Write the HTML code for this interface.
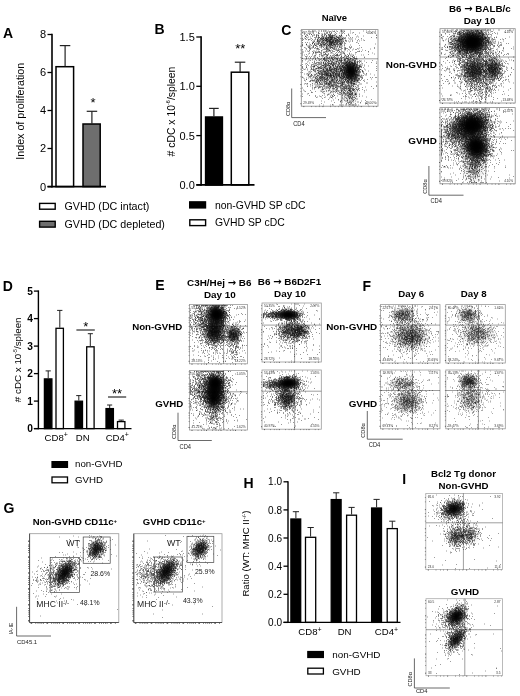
<!DOCTYPE html>
<html lang="en"><head><meta charset="utf-8"><title>Figure</title>
<style>html,body{margin:0;padding:0;background:#fff}svg{display:block}</style>
</head><body>
<svg width="520" height="696" viewBox="0 0 520 696" font-family='"Liberation Sans", sans-serif'>
<defs><filter id="bl" x="-5%" y="-5%" width="110%" height="110%"><feGaussianBlur stdDeviation="0.7"/></filter><radialGradient id="gg"><stop offset="0" stop-color="#000" stop-opacity="1"/><stop offset=".25" stop-color="#000" stop-opacity=".85"/><stop offset=".45" stop-color="#000" stop-opacity=".58"/><stop offset=".65" stop-color="#000" stop-opacity=".3"/><stop offset=".85" stop-color="#000" stop-opacity=".08"/><stop offset="1" stop-color="#000" stop-opacity="0"/></radialGradient></defs>
<rect width="520" height="696" fill="#fff"/>
<text x="3.0" y="37.5" font-size="14" text-anchor="start" font-weight="bold" fill="#000" >A</text>
<rect x="56.0" y="66.7" width="17.6" height="119.9" fill="#fff" stroke="#000" stroke-width="1.5"/>
<rect x="83.0" y="124.0" width="17.2" height="62.6" fill="#6e6e6e" stroke="#000" stroke-width="1.5"/>
<line x1="65.1" y1="45.6" x2="65.1" y2="66.3" stroke="#222" stroke-width="1.2" />
<line x1="59.8" y1="45.6" x2="70.3" y2="45.6" stroke="#222" stroke-width="1.2" />
<line x1="91.9" y1="111.3" x2="91.9" y2="123.7" stroke="#222" stroke-width="1.2" />
<line x1="86.7" y1="111.3" x2="97.2" y2="111.3" stroke="#222" stroke-width="1.2" />
<line x1="52.0" y1="33.8" x2="52.0" y2="187.4" stroke="#000" stroke-width="1.6" />
<line x1="47.5" y1="186.6" x2="106.0" y2="186.6" stroke="#000" stroke-width="1.6" />
<line x1="47.5" y1="34.5" x2="52.0" y2="34.5" stroke="#000" stroke-width="1.3" />
<text x="46.0" y="38.4" font-size="11" text-anchor="end" font-weight="normal" fill="#000" >8</text>
<line x1="47.5" y1="72.5" x2="52.0" y2="72.5" stroke="#000" stroke-width="1.3" />
<text x="46.0" y="76.4" font-size="11" text-anchor="end" font-weight="normal" fill="#000" >6</text>
<line x1="47.5" y1="110.5" x2="52.0" y2="110.5" stroke="#000" stroke-width="1.3" />
<text x="46.0" y="114.4" font-size="11" text-anchor="end" font-weight="normal" fill="#000" >4</text>
<line x1="47.5" y1="148.5" x2="52.0" y2="148.5" stroke="#000" stroke-width="1.3" />
<text x="46.0" y="152.4" font-size="11" text-anchor="end" font-weight="normal" fill="#000" >2</text>
<line x1="47.5" y1="186.6" x2="52.0" y2="186.6" stroke="#000" stroke-width="1.3" />
<text x="46.0" y="190.5" font-size="11" text-anchor="end" font-weight="normal" fill="#000" >0</text>
<text x="93.0" y="106.5" font-size="13" text-anchor="middle" font-weight="normal" fill="#000" >*</text>
<text x="24.0" y="111.3" font-size="10.7" text-anchor="middle" font-weight="normal" fill="#000" transform="rotate(-90 24.0 111.3)" >Index of proliferation</text>
<rect x="39.6" y="203.4" width="15.6" height="5.8" fill="#fff" stroke="#000" stroke-width="1.4"/>
<text x="64.5" y="209.7" font-size="10.7" text-anchor="start" font-weight="normal" fill="#000" >GVHD (DC intact)</text>
<rect x="39.6" y="221.3" width="15.6" height="5.8" fill="#6e6e6e" stroke="#000" stroke-width="1.4"/>
<text x="64.5" y="227.8" font-size="10.7" text-anchor="start" font-weight="normal" fill="#000" >GVHD (DC depleted)</text>
<text x="154.5" y="34.2" font-size="14" text-anchor="start" font-weight="bold" fill="#000" >B</text>
<rect x="205.6" y="117.0" width="16.8" height="68.0" fill="#000" stroke="#000" stroke-width="1.5"/>
<rect x="231.3" y="72.2" width="17.5" height="112.7" fill="#fff" stroke="#000" stroke-width="1.5"/>
<line x1="213.9" y1="108.4" x2="213.9" y2="116.4" stroke="#222" stroke-width="1.2" />
<line x1="209.1" y1="108.4" x2="218.7" y2="108.4" stroke="#222" stroke-width="1.2" />
<line x1="240.1" y1="62.2" x2="240.1" y2="72.0" stroke="#222" stroke-width="1.2" />
<line x1="234.8" y1="62.2" x2="245.3" y2="62.2" stroke="#222" stroke-width="1.2" />
<line x1="201.1" y1="36.3" x2="201.1" y2="185.7" stroke="#000" stroke-width="1.6" />
<line x1="196.3" y1="184.9" x2="254.5" y2="184.9" stroke="#000" stroke-width="1.6" />
<line x1="196.3" y1="37.0" x2="201.1" y2="37.0" stroke="#000" stroke-width="1.3" />
<text x="194.8" y="40.9" font-size="11" text-anchor="end" font-weight="normal" fill="#000" >1.5</text>
<line x1="196.3" y1="86.3" x2="201.1" y2="86.3" stroke="#000" stroke-width="1.3" />
<text x="194.8" y="90.2" font-size="11" text-anchor="end" font-weight="normal" fill="#000" >1.0</text>
<line x1="196.3" y1="135.6" x2="201.1" y2="135.6" stroke="#000" stroke-width="1.3" />
<text x="194.8" y="139.5" font-size="11" text-anchor="end" font-weight="normal" fill="#000" >0.5</text>
<line x1="196.3" y1="184.9" x2="201.1" y2="184.9" stroke="#000" stroke-width="1.3" />
<text x="194.8" y="188.8" font-size="11" text-anchor="end" font-weight="normal" fill="#000" >0.0</text>
<text x="240.3" y="52.5" font-size="13" text-anchor="middle" font-weight="normal" fill="#000" >**</text>
<text x="174.6" y="111.5" font-size="10.4" text-anchor="middle" font-weight="normal" fill="#000" transform="rotate(-90 174.6 111.5)" ># cDC x 10<tspan dy="-5" font-size="5.5">-6</tspan><tspan dy="5" font-size="1">&#8203;</tspan>/spleen</text>
<rect x="189.6" y="201.8" width="16.0" height="6.2" fill="#000" stroke="#000" stroke-width="1.2"/>
<text x="215.0" y="208.5" font-size="10.4" text-anchor="start" font-weight="normal" fill="#000" >non-GVHD SP cDC</text>
<rect x="189.8" y="219.8" width="15.8" height="5.8" fill="#fff" stroke="#000" stroke-width="1.4"/>
<text x="215.0" y="226.3" font-size="10.4" text-anchor="start" font-weight="normal" fill="#000" >GVHD SP cDC</text>
<text x="281.3" y="35.3" font-size="14" text-anchor="start" font-weight="bold" fill="#000" >C</text>
<text x="334.4" y="21.0" font-size="9.5" text-anchor="middle" font-weight="bold" fill="#000" >Na&#239;ve</text>
<clipPath id="c53"><rect x="301.3" y="29.6" width="76.7" height="76.6"/></clipPath>
<g clip-path="url(#c53)">
<ellipse cx="331.0" cy="41.5" rx="17.2" ry="9.2" transform="rotate(0 331.0 41.5)" fill="url(#gg)" fill-opacity="0.3"/>
<ellipse cx="350.8" cy="71.0" rx="13.9" ry="10.5" transform="rotate(80 350.8 71.0)" fill="url(#gg)" fill-opacity="1.0"/>
<ellipse cx="331.0" cy="74.0" rx="25.3" ry="23.0" transform="rotate(0 331.0 74.0)" fill="url(#gg)" fill-opacity="0.22"/>
<ellipse cx="350.0" cy="92.0" rx="18.4" ry="10.3" transform="rotate(90 350.0 92.0)" fill="url(#gg)" fill-opacity="0.2"/>
<path transform="scale(.5)" d="M605 62h1m-1 3h1m-1 1h1m-1 5h1m-1 3h1m-1 3h1m-1 1h1m-1 2h1m-1 1h1m-1 4h1m-1 1h1m-1 3h1m-1 1h1m-1 1h1m-1 1h1m-1 7h1m-1 3h1m-1 2h1m-1 2h1m-1 2h1m-1 2h1m-1 2h1m-1 4h1m-1 1h1m-1 4h1m-1 1h1m-1 2h1m-1 5h1m-1 4h1m-1 1h1m-1 1h1m-1 2h1m-1 4h1m-1 4h1m-1 9h1m-1 1h1m-1 21h1m-1 12h1m-1 5h1m0-129h1m-1 40h1m0-25h1m-1 59h1m-1 18h1m-1 24h1m0-111h1m-1 7h1m-1 19h1m-1 15h1m-1 29h1m-1 9h1m-1 10h1m-1 3h1m-1 7h1m-1 14h1m0-116h1m0 6h1m-1 1h1m-1 12h1m-1 17h1m-1 18h1m-1 18h1m-1 24h1m0-89h1m-1 4h1m-1 1h1m-1 18h1m-1 17h1m-1 15h1m-1 39h1m-1 16h1m0-95h1m-1 1h1m-1 1h1m-1 8h1m-1 17h1m-1 3h1m-1 15h1m-1 2h1m-1 13h1m-1 8h1m-1 3h1m-1 9h1m0-99h1m-1 3h1m-1 3h1m-1 4h1m-1 10h1m-1 9h1m-1 11h1m-1 4h1m-1 4h1m-1 10h1m-1 4h1m-1 4h1m-1 24h1m0-89h1m-1 1h1m-1 31h1m-1 22h1m-1 5h1m-1 9h1m-1 2h1m-1 10h1m-1 18h1m-1 20h1m0-112h1m-1 9h1m-1 7h1m-1 20h1m-1 35h1m-1 20h1m-1 5h1m-1 1h1m0-111h1m-1 18h1m-1 14h1m-1 14h1m-1 8h1m-1 15h1m-1 13h1m-1 5h1m-1 1h1m-1 1h1m-1 36h1m0-113h1m-1 5h1m-1 13h1m-1 3h1m-1 8h1m-1 19h1m-1 26h1m-1 4h1m-1 4h1m0-94h1m-1 7h1m-1 10h1m-1 7h1m-1 6h1m-1 3h1m-1 18h1m-1 7h1m-1 26h1m-1 2h1m-1 5h1m-1 1h1m0-86h1m-1 22h1m-1 3h1m-1 3h1m-1 1h1m-1 3h1m-1 1h1m-1 3h1m-1 3h1m-1 19h1m-1 17h1m-1 20h1m-1 28h1m0-95h1m-1 1h1m-1 2h1m-1 16h1m-1 6h1m-1 13h1m-1 10h1m-1 2h1m-1 8h1m-1 7h1m-1 1h1m-1 19h1m0-107h1m-1 4h1m-1 11h1m-1 3h1m-1 25h1m-1 23h1m-1 11h1m-1 2h1m-1 3h1m-1 7h1m-1 6h1m-1 3h1m0-103h1m-1 8h1m-1 4h1m-1 10h1m-1 5h1m-1 34h1m-1 8h1m-1 1h1m-1 4h1m-1 6h1m-1 2h1m-1 10h1m-1 24h1m0-116h1m-1 44h1m-1 17h1m-1 2h1m-1 2h1m-1 2h1m-1 1h1m-1 12h1m-1 1h1m-1 3h1m-1 5h1m-1 26h1m0-122h1m-1 9h1m-1 8h1m-1 7h1m-1 1h1m-1 9h1m-1 12h1m-1 10h1m-1 2h1m-1 5h1m-1 14h1m-1 17h1m-1 4h1m-1 2h1m-1 5h1m-1 4h1m-1 14h1m0-123h1m-1 11h1m-1 11h1m-1 3h1m-1 1h1m-1 6h1m-1 9h1m-1 7h1m-1 19h1m-1 4h1m-1 18h1m-1 10h1m-1 7h1m-1 6h1m-1 2h1m-1 2h1m0-114h1m-1 18h1m-1 3h1m-1 7h1m-1 3h1m-1 10h1m-1 2h1m-1 7h1m-1 3h1m-1 11h1m-1 2h1m-1 3h1m-1 2h1m-1 2h1m-1 3h1m-1 15h1m0-93h1m-1 8h1m-1 14h1m-1 1h1m-1 6h1m-1 2h1m-1 1h1m-1 8h1m-1 3h1m-1 28h1m-1 6h1m-1 1h1m-1 1h1m-1 12h1m-1 8h1m-1 1h1m0-92h1m-1 5h1m-1 5h1m-1 3h1m-1 4h1m-1 1h1m-1 9h1m-1 5h1m-1 9h1m-1 2h1m-1 2h1m-1 7h1m-1 2h1m-1 2h1m-1 2h1m-1 5h1m-1 6h1m-1 2h1m-1 10h1m-1 3h1m-1 6h1m-1 2h1m-1 13h1m-1 1h1m0-114h1m-1 8h1m-1 12h1m-1 6h1m-1 1h1m-1 1h1m-1 34h1m-1 7h1m-1 1h1m-1 1h1m-1 1h1m-1 9h1m-1 6h1m-1 11h1m-1 8h1m-1 10h1m0-92h1m-1 4h1m-1 1h1m-1 5h1m-1 8h1m-1 1h1m-1 5h1m-1 7h1m-1 1h1m-1 9h1m-1 1h1m-1 9h1m-1 12h1m-1 8h1m-1 7h1m-1 27h1m-1 2h1m0-131h1m-1 13h1m-1 2h1m-1 2h1m-1 12h1m-1 4h1m-1 9h1m-1 3h1m-1 4h1m-1 3h1m-1 5h1m-1 12h1m-1 8h1m-1 2h1m-1 2h1m-1 1h1m-1 6h1m-1 4h1m-1 1h1m-1 1h1m-1 2h1m-1 4h1m-1 3h1m-1 3h1m-1 4h1m-1 2h1m-1 1h1m-1 8h1m0-111h1m-1 16h1m-1 5h1m-1 12h1m-1 3h1m-1 19h1m-1 3h1m-1 1h1m-1 6h1m-1 10h1m-1 1h1m-1 5h1m-1 3h1m-1 1h1m-1 3h1m-1 4h1m-1 1h1m-1 5h1m-1 25h1m0-131h1m-1 5h1m-1 2h1m-1 1h1m-1 1h1m-1 2h1m-1 9h1m-1 4h1m-1 3h1m-1 6h1m-1 3h1m-1 4h1m-1 17h1m-1 4h1m-1 12h1m-1 1h1m-1 15h1m-1 7h1m-1 1h1m-1 2h1m-1 1h1m-1 10h1m0-95h1m-1 1h1m-1 1h1m-1 2h1m-1 4h1m-1 2h1m-1 9h1m-1 18h1m-1 13h1m-1 4h1m-1 8h1m-1 5h1m-1 9h1m-1 1h1m-1 3h1m-1 2h1m-1 6h1m-1 3h1m-1 3h1m-1 21h1m0-124h1m-1 6h1m-1 3h1m-1 2h1m-1 2h1m-1 1h1m-1 9h1m-1 3h1m-1 1h1m-1 1h1m-1 6h1m-1 1h1m-1 10h1m-1 10h1m-1 9h1m-1 3h1m-1 4h1m-1 9h1m-1 1h1m-1 1h1m-1 6h1m-1 1h1m-1 4h1m-1 2h1m-1 1h1m-1 2h1m0-98h1m-1 2h1m-1 2h1m-1 1h1m-1 2h1m-1 4h1m-1 3h1m-1 1h1m-1 4h1m-1 8h1m-1 2h1m-1 3h1m-1 2h1m-1 13h1m-1 3h1m-1 6h1m-1 10h1m-1 1h1m-1 3h1m-1 3h1m-1 2h1m-1 1h1m-1 1h1m-1 4h1m-1 10h1m-1 9h1m-1 5h1m0-113h1m-1 3h1m-1 1h1m-1 1h1m-1 4h1m-1 1h1m-1 4h1m-1 4h1m-1 3h1m-1 3h1m-1 1h1m-1 1h1m-1 16h1m-1 21h1m-1 3h1m-1 2h1m-1 4h1m-1 1h1m-1 1h1m-1 5h1m-1 4h1m-1 7h1m-1 5h1m-1 2h1m-1 2h1m-1 1h1m-1 1h1m-1 11h1m-1 3h1m0-115h1m-1 13h1m-1 6h1m-1 2h1m-1 4h1m-1 4h1m-1 3h1m-1 5h1m-1 4h1m-1 1h1m-1 6h1m-1 8h1m-1 7h1m-1 2h1m-1 2h1m-1 6h1m-1 3h1m-1 5h1m-1 3h1m-1 1h1m-1 7h1m-1 1h1m-1 1h1m-1 4h1m-1 5h1m-1 27h1m0-125h1m-1 8h1m-1 4h1m-1 4h1m-1 2h1m-1 6h1m-1 14h1m-1 4h1m-1 4h1m-1 7h1m-1 1h1m-1 14h1m-1 1h1m-1 6h1m-1 5h1m-1 2h1m-1 1h1m-1 4h1m-1 3h1m-1 2h1m-1 5h1m-1 1h1m-1 1h1m-1 2h1m-1 2h1m-1 3h1m-1 1h1m-1 1h1m-1 35h1m0-133h1m-1 1h1m-1 2h1m-1 2h1m-1 6h1m-1 2h1m-1 4h1m-1 34h1m-1 5h1m-1 1h1m-1 2h1m-1 1h1m-1 4h1m-1 2h1m-1 4h1m-1 6h1m-1 1h1m-1 2h1m-1 1h1m-1 3h1m-1 2h1m0-85h1m-1 3h1m-1 7h1m-1 2h1m-1 2h1m-1 14h1m-1 3h1m-1 11h1m-1 5h1m-1 4h1m-1 8h1m-1 7h1m-1 2h1m-1 4h1m-1 4h1m-1 2h1m-1 2h1m-1 3h1m-1 1h1m-1 1h1m-1 5h1m-1 1h1m-1 1h1m-1 4h1m-1 2h1m-1 7h1m-1 11h1m0-131h1m-1 13h1m-1 2h1m-1 1h1m-1 1h1m-1 5h1m-1 5h1m-1 2h1m-1 1h1m-1 2h1m-1 2h1m-1 5h1m-1 1h1m-1 5h1m-1 5h1m-1 12h1m-1 1h1m-1 7h1m-1 4h1m-1 1h1m-1 4h1m-1 4h1m-1 6h1m-1 2h1m-1 1h1m-1 2h1m-1 1h1m-1 3h1m-1 20h1m-1 3h1m-1 11h1m0-132h1m-1 6h1m-1 3h1m-1 3h1m-1 4h1m-1 4h1m-1 3h1m-1 1h1m-1 3h1m-1 1h1m-1 2h1m-1 2h1m-1 10h1m-1 2h1m-1 3h1m-1 2h1m-1 6h1m-1 3h1m-1 7h1m-1 2h1m-1 3h1m-1 2h1m-1 3h1m-1 5h1m-1 2h1m-1 2h1m-1 1h1m-1 1h1m-1 1h1m-1 1h1m-1 2h1m-1 3h1m-1 1h1m-1 3h1m-1 3h1m-1 3h1m-1 3h1m-1 1h1m-1 4h1m-1 29h1m-1 5h1m0-139h1m-1 5h1m-1 2h1m-1 2h1m-1 2h1m-1 4h1m-1 1h1m-1 2h1m-1 25h1m-1 1h1m-1 2h1m-1 17h1m-1 9h1m-1 4h1m-1 2h1m-1 1h1m-1 1h1m-1 1h1m-1 2h1m-1 1h1m-1 2h1m-1 2h1m-1 2h1m-1 1h1m-1 1h1m-1 2h1m-1 7h1m-1 8h1m-1 2h1m-1 3h1m-1 3h1m-1 6h1m-1 6h1m0-128h1m-1 2h1m-1 2h1m-1 4h1m-1 2h1m-1 2h1m-1 1h1m-1 4h1m-1 2h1m-1 2h1m-1 3h1m-1 7h1m-1 21h1m-1 10h1m-1 4h1m-1 3h1m-1 4h1m-1 2h1m-1 5h1m-1 3h1m-1 2h1m-1 1h1m-1 1h1m-1 5h1m-1 5h1m-1 2h1m-1 6h1m-1 1h1m-1 4h1m0-117h1m-1 14h1m-1 1h1m-1 3h1m-1 1h1m-1 1h1m-1 4h1m-1 1h1m-1 2h1m-1 2h1m-1 4h1m-1 9h1m-1 1h1m-1 3h1m-1 2h1m-1 8h1m-1 6h1m-1 1h1m-1 1h1m-1 1h1m-1 4h1m-1 5h1m-1 2h1m-1 1h1m-1 2h1m-1 2h1m-1 1h1m-1 5h1m-1 5h1m-1 2h1m-1 2h1m-1 15h1m-1 6h1m-1 31h1m0-148h1m-1 11h1m-1 2h1m-1 1h1m-1 1h1m-1 1h1m-1 3h1m-1 3h1m-1 1h1m-1 4h1m-1 5h1m-1 5h1m-1 13h1m-1 5h1m-1 1h1m-1 1h1m-1 6h1m-1 3h1m-1 3h1m-1 1h1m-1 2h1m-1 4h1m-1 1h1m-1 1h1m-1 2h1m-1 4h1m-1 3h1m-1 4h1m-1 3h1m-1 2h1m-1 4h1m-1 2h1m-1 7h1m-1 7h1m-1 5h1m-1 3h1m0-120h1m-1 2h1m-1 2h1m-1 4h1m-1 4h1m-1 4h1m-1 4h1m-1 3h1m-1 1h1m-1 7h1m-1 12h1m-1 7h1m-1 2h1m-1 1h1m-1 2h1m-1 1h1m-1 12h1m-1 1h1m-1 8h1m-1 1h1m-1 1h1m-1 3h1m-1 3h1m-1 4h1m-1 1h1m-1 1h1m-1 1h1m-1 1h1m-1 1h1m-1 6h1m-1 1h1m-1 5h1m-1 2h1m-1 3h1m-1 6h1m-1 12h1m0-133h1m-1 6h1m-1 3h1m-1 8h1m-1 1h1m-1 5h1m-1 4h1m-1 1h1m-1 2h1m-1 7h1m-1 5h1m-1 1h1m-1 5h1m-1 5h1m-1 1h1m-1 1h1m-1 3h1m-1 8h1m-1 1h1m-1 1h1m-1 2h1m-1 3h1m-1 3h1m-1 3h1m-1 2h1m-1 1h1m-1 3h1m-1 1h1m-1 1h1m-1 1h1m-1 4h1m-1 1h1m-1 6h1m-1 1h1m-1 1h1m-1 2h1m-1 4h1m-1 2h1m-1 16h1m-1 3h1m-1 14h1m0-142h1m-1 6h1m-1 9h1m-1 1h1m-1 3h1m-1 7h1m-1 8h1m-1 3h1m-1 9h1m-1 1h1m-1 9h1m-1 2h1m-1 5h1m-1 3h1m-1 1h1m-1 3h1m-1 1h1m-1 2h1m-1 2h1m-1 3h1m-1 3h1m-1 1h1m-1 3h1m-1 1h1m-1 1h1m-1 3h1m-1 2h1m-1 5h1m-1 4h1m-1 6h1m-1 9h1m-1 16h1m0-132h1m-1 7h1m-1 6h1m-1 1h1m-1 1h1m-1 3h1m-1 1h1m-1 1h1m-1 5h1m-1 1h1m-1 2h1m-1 13h1m-1 3h1m-1 1h1m-1 7h1m-1 7h1m-1 1h1m-1 4h1m-1 1h1m-1 1h1m-1 3h1m-1 1h1m-1 1h1m-1 3h1m-1 6h1m-1 1h1m-1 2h1m-1 1h1m-1 2h1m-1 3h1m-1 5h1m-1 2h1m-1 1h1m-1 4h1m-1 3h1m-1 1h1m-1 7h1m0-109h1m-1 2h1m-1 4h1m-1 1h1m-1 3h1m-1 2h1m-1 2h1m-1 1h1m-1 1h1m-1 5h1m-1 1h1m-1 3h1m-1 1h1m-1 1h1m-1 2h1m-1 1h1m-1 1h1m-1 1h1m-1 2h1m-1 11h1m-1 3h1m-1 4h1m-1 4h1m-1 1h1m-1 1h1m-1 6h1m-1 1h1m-1 2h1m-1 6h1m-1 1h1m-1 1h1m-1 5h1m-1 1h1m-1 1h1m-1 1h1m-1 1h1m-1 1h1m-1 1h1m-1 6h1m-1 2h1m-1 3h1m-1 5h1m-1 2h1m-1 4h1m-1 2h1m-1 2h1m-1 4h1m0-119h1m-1 10h1m-1 1h1m-1 3h1m-1 1h1m-1 1h1m-1 1h1m-1 1h1m-1 1h1m-1 1h1m-1 1h1m-1 2h1m-1 8h1m-1 3h1m-1 1h1m-1 4h1m-1 1h1m-1 1h1m-1 1h1m-1 5h1m-1 3h1m-1 3h1m-1 4h1m-1 8h1m-1 5h1m-1 2h1m-1 3h1m-1 3h1m-1 1h1m-1 1h1m-1 2h1m-1 2h1m-1 2h1m-1 1h1m-1 1h1m-1 1h1m-1 2h1m-1 3h1m-1 2h1m-1 2h1m-1 2h1m-1 2h1m-1 1h1m-1 1h1m-1 1h1m-1 1h1m-1 15h1m0-117h1m-1 12h1m-1 1h1m-1 1h1m-1 2h1m-1 1h1m-1 5h1m-1 2h1m-1 7h1m-1 2h1m-1 1h1m-1 2h1m-1 9h1m-1 1h1m-1 3h1m-1 6h1m-1 4h1m-1 1h1m-1 4h1m-1 7h1m-1 2h1m-1 2h1m-1 1h1m-1 4h1m-1 1h1m-1 1h1m-1 1h1m-1 1h1m-1 1h1m-1 1h1m-1 3h1m-1 2h1m-1 2h1m-1 3h1m-1 3h1m-1 7h1m-1 18h1m0-126h1m-1 2h1m-1 9h1m-1 1h1m-1 2h1m-1 1h1m-1 3h1m-1 1h1m-1 1h1m-1 1h1m-1 4h1m-1 4h1m-1 2h1m-1 3h1m-1 6h1m-1 5h1m-1 2h1m-1 5h1m-1 2h1m-1 12h1m-1 1h1m-1 5h1m-1 2h1m-1 1h1m-1 1h1m-1 2h1m-1 1h1m-1 1h1m-1 2h1m-1 2h1m-1 2h1m-1 2h1m-1 2h1m-1 1h1m-1 1h1m-1 1h1m-1 3h1m-1 1h1m-1 6h1m-1 2h1m-1 5h1m-1 2h1m-1 14h1m0-121h1m-1 2h1m-1 4h1m-1 3h1m-1 2h1m-1 1h1m-1 2h1m-1 3h1m-1 5h1m-1 1h1m-1 4h1m-1 3h1m-1 4h1m-1 6h1m-1 12h1m-1 2h1m-1 3h1m-1 2h1m-1 2h1m-1 4h1m-1 9h1m-1 3h1m-1 3h1m-1 1h1m-1 1h1m-1 1h1m-1 7h1m-1 7h1m-1 1h1m-1 2h1m-1 1h1m-1 5h1m-1 6h1m-1 1h1m-1 17h1m0-137h1m-1 7h1m-1 5h1m-1 1h1m-1 1h1m-1 1h1m-1 3h1m-1 2h1m-1 8h1m-1 1h1m-1 7h1m-1 3h1m-1 6h1m-1 9h1m-1 1h1m-1 4h1m-1 2h1m-1 3h1m-1 1h1m-1 2h1m-1 2h1m-1 9h1m-1 1h1m-1 1h1m-1 3h1m-1 1h1m-1 1h1m-1 3h1m-1 2h1m-1 2h1m-1 6h1m-1 7h1m-1 1h1m-1 2h1m-1 2h1m-1 4h1m-1 12h1m-1 1h1m0-123h1m-1 3h1m-1 2h1m-1 1h1m-1 1h1m-1 1h1m-1 2h1m-1 3h1m-1 1h1m-1 1h1m-1 1h1m-1 1h1m-1 1h1m-1 1h1m-1 2h1m-1 1h1m-1 2h1m-1 2h1m-1 1h1m-1 2h1m-1 3h1m-1 3h1m-1 14h1m-1 1h1m-1 2h1m-1 9h1m-1 4h1m-1 1h1m-1 3h1m-1 1h1m-1 1h1m-1 2h1m-1 1h1m-1 2h1m-1 5h1m-1 1h1m-1 3h1m-1 1h1m-1 2h1m-1 3h1m-1 5h1m-1 1h1m-1 1h1m-1 2h1m-1 1h1m-1 1h1m-1 1h1m-1 1h1m-1 2h1m-1 4h1m-1 1h1m-1 2h1m-1 9h1m-1 8h1m0-133h1m-1 2h1m-1 6h1m-1 3h1m-1 2h1m-1 2h1m-1 3h1m-1 2h1m-1 1h1m-1 2h1m-1 2h1m-1 1h1m-1 1h1m-1 10h1m-1 1h1m-1 1h1m-1 12h1m-1 9h1m-1 1h1m-1 3h1m-1 4h1m-1 1h1m-1 4h1m-1 1h1m-1 1h1m-1 2h1m-1 1h1m-1 4h1m-1 6h1m-1 3h1m-1 2h1m-1 7h1m-1 2h1m-1 4h1m-1 3h1m-1 1h1m-1 8h1m0-118h1m-1 4h1m-1 2h1m-1 1h1m-1 4h1m-1 1h1m-1 4h1m-1 1h1m-1 3h1m-1 2h1m-1 2h1m-1 1h1m-1 9h1m-1 4h1m-1 2h1m-1 13h1m-1 4h1m-1 1h1m-1 1h1m-1 10h1m-1 1h1m-1 1h1m-1 1h1m-1 1h1m-1 1h1m-1 2h1m-1 1h1m-1 1h1m-1 6h1m-1 1h1m-1 1h1m-1 1h1m-1 1h1m-1 1h1m-1 1h1m-1 3h1m-1 4h1m-1 3h1m-1 1h1m-1 3h1m-1 1h1m-1 4h1m-1 2h1m0-105h1m-1 2h1m-1 1h1m-1 1h1m-1 1h1m-1 1h1m-1 1h1m-1 1h1m-1 1h1m-1 1h1m-1 1h1m-1 1h1m-1 1h1m-1 1h1m-1 1h1m-1 1h1m-1 1h1m-1 2h1m-1 1h1m-1 1h1m-1 1h1m-1 1h1m-1 1h1m-1 1h1m-1 1h1m-1 1h1m-1 10h1m-1 5h1m-1 1h1m-1 8h1m-1 7h1m-1 1h1m-1 1h1m-1 4h1m-1 2h1m-1 5h1m-1 1h1m-1 1h1m-1 1h1m-1 3h1m-1 1h1m-1 1h1m-1 1h1m-1 1h1m-1 1h1m-1 1h1m-1 1h1m-1 2h1m-1 9h1m-1 1h1m-1 1h1m-1 4h1m-1 3h1m-1 2h1m-1 1h1m-1 6h1m-1 3h1m-1 1h1m-1 6h1m-1 2h1m-1 16h1m0-146h1m-1 1h1m-1 6h1m-1 1h1m-1 3h1m-1 1h1m-1 1h1m-1 1h1m-1 1h1m-1 5h1m-1 1h1m-1 2h1m-1 1h1m-1 1h1m-1 1h1m-1 1h1m-1 4h1m-1 10h1m-1 9h1m-1 2h1m-1 1h1m-1 5h1m-1 5h1m-1 12h1m-1 1h1m-1 3h1m-1 1h1m-1 2h1m-1 3h1m-1 1h1m-1 1h1m-1 1h1m-1 1h1m-1 1h1m-1 3h1m-1 1h1m-1 1h1m-1 2h1m-1 3h1m-1 3h1m-1 5h1m-1 11h1m-1 1h1m-1 11h1m0-128h1m-1 6h1m-1 1h1m-1 1h1m-1 1h1m-1 2h1m-1 1h1m-1 1h1m-1 3h1m-1 1h1m-1 1h1m-1 1h1m-1 1h1m-1 1h1m-1 1h1m-1 5h1m-1 1h1m-1 5h1m-1 6h1m-1 8h1m-1 1h1m-1 8h1m-1 2h1m-1 1h1m-1 1h1m-1 1h1m-1 1h1m-1 5h1m-1 2h1m-1 2h1m-1 1h1m-1 2h1m-1 1h1m-1 2h1m-1 7h1m-1 3h1m-1 1h1m-1 6h1m-1 1h1m-1 2h1m-1 2h1m-1 3h1m-1 1h1m-1 1h1m-1 1h1m-1 18h1m-1 5h1m-1 7h1m0-140h1m-1 8h1m-1 1h1m-1 2h1m-1 1h1m-1 1h1m-1 1h1m-1 6h1m-1 1h1m-1 1h1m-1 1h1m-1 6h1m-1 4h1m-1 1h1m-1 1h1m-1 4h1m-1 2h1m-1 3h1m-1 10h1m-1 3h1m-1 1h1m-1 4h1m-1 1h1m-1 4h1m-1 1h1m-1 1h1m-1 1h1m-1 5h1m-1 1h1m-1 1h1m-1 1h1m-1 4h1m-1 2h1m-1 1h1m-1 3h1m-1 1h1m-1 4h1m-1 1h1m-1 3h1m-1 2h1m-1 8h1m-1 2h1m-1 1h1m-1 8h1m-1 12h1m-1 17h1m-1 1h1m0-139h1m-1 2h1m-1 2h1m-1 2h1m-1 1h1m-1 1h1m-1 2h1m-1 1h1m-1 2h1m-1 1h1m-1 1h1m-1 1h1m-1 3h1m-1 1h1m-1 3h1m-1 17h1m-1 3h1m-1 2h1m-1 1h1m-1 3h1m-1 3h1m-1 5h1m-1 3h1m-1 13h1m-1 1h1m-1 3h1m-1 8h1m-1 2h1m-1 1h1m-1 1h1m-1 1h1m-1 2h1m-1 1h1m-1 7h1m-1 2h1m-1 3h1m-1 1h1m-1 7h1m-1 7h1m-1 2h1m-1 3h1m0-124h1m-1 4h1m-1 4h1m-1 1h1m-1 1h1m-1 1h1m-1 1h1m-1 2h1m-1 1h1m-1 2h1m-1 3h1m-1 5h1m-1 6h1m-1 5h1m-1 3h1m-1 4h1m-1 4h1m-1 2h1m-1 5h1m-1 3h1m-1 1h1m-1 1h1m-1 2h1m-1 1h1m-1 1h1m-1 9h1m-1 2h1m-1 1h1m-1 1h1m-1 1h1m-1 1h1m-1 1h1m-1 1h1m-1 1h1m-1 1h1m-1 4h1m-1 1h1m-1 2h1m-1 1h1m-1 1h1m-1 2h1m-1 3h1m-1 3h1m-1 1h1m-1 1h1m-1 4h1m-1 3h1m-1 13h1m-1 17h1m0-147h1m-1 8h1m-1 4h1m-1 4h1m-1 3h1m-1 2h1m-1 2h1m-1 3h1m-1 3h1m-1 4h1m-1 3h1m-1 15h1m-1 5h1m-1 6h1m-1 1h1m-1 1h1m-1 1h1m-1 3h1m-1 5h1m-1 2h1m-1 1h1m-1 1h1m-1 2h1m-1 1h1m-1 2h1m-1 2h1m-1 4h1m-1 1h1m-1 1h1m-1 1h1m-1 12h1m-1 3h1m-1 5h1m-1 2h1m-1 2h1m-1 5h1m-1 1h1m-1 4h1m-1 1h1m-1 11h1m0-138h1m-1 1h1m-1 8h1m-1 1h1m-1 3h1m-1 1h1m-1 1h1m-1 1h1m-1 3h1m-1 3h1m-1 2h1m-1 3h1m-1 5h1m-1 1h1m-1 2h1m-1 6h1m-1 6h1m-1 4h1m-1 2h1m-1 2h1m-1 1h1m-1 9h1m-1 1h1m-1 8h1m-1 2h1m-1 2h1m-1 1h1m-1 3h1m-1 1h1m-1 1h1m-1 4h1m-1 3h1m-1 1h1m-1 1h1m-1 2h1m-1 1h1m-1 4h1m-1 3h1m-1 1h1m-1 4h1m-1 7h1m-1 14h1m0-123h1m-1 8h1m-1 3h1m-1 6h1m-1 1h1m-1 2h1m-1 1h1m-1 1h1m-1 2h1m-1 6h1m-1 1h1m-1 13h1m-1 10h1m-1 3h1m-1 4h1m-1 7h1m-1 1h1m-1 1h1m-1 1h1m-1 3h1m-1 3h1m-1 3h1m-1 4h1m-1 2h1m-1 3h1m-1 2h1m-1 3h1m-1 2h1m-1 2h1m-1 3h1m-1 3h1m-1 6h1m-1 5h1m-1 8h1m-1 14h1m0-140h1m-1 5h1m-1 4h1m-1 3h1m-1 4h1m-1 1h1m-1 2h1m-1 1h1m-1 3h1m-1 1h1m-1 2h1m-1 1h1m-1 2h1m-1 4h1m-1 2h1m-1 7h1m-1 4h1m-1 4h1m-1 1h1m-1 2h1m-1 6h1m-1 3h1m-1 1h1m-1 4h1m-1 5h1m-1 3h1m-1 7h1m-1 1h1m-1 1h1m-1 3h1m-1 2h1m-1 2h1m-1 2h1m-1 2h1m-1 4h1m-1 1h1m-1 6h1m-1 1h1m-1 2h1m-1 1h1m-1 7h1m-1 14h1m0-127h1m-1 8h1m-1 1h1m-1 2h1m-1 1h1m-1 1h1m-1 1h1m-1 1h1m-1 8h1m-1 19h1m-1 11h1m-1 8h1m-1 1h1m-1 2h1m-1 1h1m-1 3h1m-1 1h1m-1 3h1m-1 1h1m-1 1h1m-1 3h1m-1 1h1m-1 2h1m-1 1h1m-1 1h1m-1 16h1m-1 2h1m-1 6h1m-1 5h1m-1 5h1m0-118h1m-1 5h1m-1 2h1m-1 3h1m-1 2h1m-1 1h1m-1 2h1m-1 2h1m-1 2h1m-1 2h1m-1 1h1m-1 8h1m-1 4h1m-1 4h1m-1 4h1m-1 1h1m-1 2h1m-1 4h1m-1 1h1m-1 6h1m-1 2h1m-1 2h1m-1 6h1m-1 2h1m-1 1h1m-1 2h1m-1 1h1m-1 1h1m-1 1h1m-1 1h1m-1 1h1m-1 1h1m-1 1h1m-1 3h1m-1 3h1m-1 1h1m-1 1h1m-1 1h1m-1 1h1m-1 1h1m-1 2h1m-1 3h1m-1 3h1m-1 1h1m-1 4h1m-1 3h1m-1 6h1m-1 5h1m0-121h1m-1 11h1m-1 1h1m-1 4h1m-1 3h1m-1 1h1m-1 2h1m-1 3h1m-1 7h1m-1 5h1m-1 12h1m-1 7h1m-1 2h1m-1 3h1m-1 1h1m-1 4h1m-1 8h1m-1 1h1m-1 2h1m-1 1h1m-1 3h1m-1 3h1m-1 1h1m-1 1h1m-1 1h1m-1 3h1m-1 2h1m-1 2h1m-1 5h1m-1 1h1m-1 1h1m-1 5h1m-1 3h1m-1 1h1m-1 2h1m-1 1h1m-1 3h1m-1 1h1m-1 2h1m-1 2h1m0-109h1m-1 1h1m-1 4h1m-1 1h1m-1 1h1m-1 2h1m-1 2h1m-1 1h1m-1 1h1m-1 3h1m-1 4h1m-1 7h1m-1 2h1m-1 7h1m-1 1h1m-1 5h1m-1 1h1m-1 1h1m-1 2h1m-1 12h1m-1 1h1m-1 1h1m-1 2h1m-1 2h1m-1 2h1m-1 2h1m-1 1h1m-1 2h1m-1 2h1m-1 1h1m-1 2h1m-1 1h1m-1 2h1m-1 2h1m-1 3h1m-1 2h1m-1 5h1m-1 2h1m-1 4h1m-1 5h1m-1 2h1m-1 6h1m-1 3h1m0-124h1m-1 12h1m-1 4h1m-1 1h1m-1 2h1m-1 2h1m-1 2h1m-1 3h1m-1 3h1m-1 1h1m-1 7h1m-1 8h1m-1 1h1m-1 1h1m-1 2h1m-1 7h1m-1 1h1m-1 2h1m-1 1h1m-1 6h1m-1 3h1m-1 2h1m-1 1h1m-1 3h1m-1 10h1m-1 2h1m-1 8h1m-1 1h1m-1 2h1m-1 5h1m-1 6h1m-1 1h1m-1 3h1m-1 2h1m-1 3h1m-1 11h1m0-117h1m-1 1h1m-1 2h1m-1 4h1m-1 1h1m-1 6h1m-1 1h1m-1 9h1m-1 2h1m-1 10h1m-1 10h1m-1 3h1m-1 7h1m-1 1h1m-1 2h1m-1 3h1m-1 2h1m-1 4h1m-1 1h1m-1 2h1m-1 1h1m-1 2h1m-1 2h1m-1 12h1m-1 3h1m-1 1h1m-1 1h1m-1 5h1m-1 8h1m-1 2h1m-1 5h1m-1 11h1m0-125h1m-1 2h1m-1 1h1m-1 3h1m-1 1h1m-1 1h1m-1 3h1m-1 12h1m-1 4h1m-1 4h1m-1 9h1m-1 2h1m-1 8h1m-1 1h1m-1 2h1m-1 2h1m-1 1h1m-1 9h1m-1 1h1m-1 2h1m-1 7h1m-1 1h1m-1 1h1m-1 1h1m-1 1h1m-1 10h1m-1 9h1m-1 2h1m-1 26h1m0-129h1m-1 3h1m-1 2h1m-1 1h1m-1 2h1m-1 1h1m-1 3h1m-1 4h1m-1 3h1m-1 4h1m-1 1h1m-1 15h1m-1 8h1m-1 3h1m-1 3h1m-1 3h1m-1 2h1m-1 4h1m-1 1h1m-1 1h1m-1 1h1m-1 1h1m-1 1h1m-1 5h1m-1 1h1m-1 1h1m-1 1h1m-1 1h1m-1 1h1m-1 1h1m-1 2h1m-1 1h1m-1 1h1m-1 2h1m-1 4h1m-1 2h1m-1 6h1m-1 15h1m-1 4h1m0-120h1m-1 5h1m-1 3h1m-1 5h1m-1 2h1m-1 2h1m-1 1h1m-1 2h1m-1 2h1m-1 4h1m-1 1h1m-1 6h1m-1 3h1m-1 1h1m-1 1h1m-1 7h1m-1 7h1m-1 2h1m-1 1h1m-1 5h1m-1 1h1m-1 1h1m-1 4h1m-1 1h1m-1 7h1m-1 6h1m-1 2h1m-1 1h1m-1 2h1m-1 2h1m-1 1h1m-1 3h1m-1 4h1m-1 1h1m-1 4h1m-1 7h1m-1 1h1m-1 11h1m-1 4h1m-1 21h1m0-138h1m-1 2h1m-1 4h1m-1 1h1m-1 1h1m-1 4h1m-1 2h1m-1 1h1m-1 1h1m-1 2h1m-1 9h1m-1 6h1m-1 28h1m-1 3h1m-1 1h1m-1 2h1m-1 1h1m-1 1h1m-1 1h1m-1 1h1m-1 7h1m-1 4h1m-1 1h1m-1 1h1m-1 6h1m-1 2h1m-1 3h1m-1 1h1m-1 4h1m-1 13h1m-1 1h1m0-124h1m-1 11h1m-1 3h1m-1 4h1m-1 2h1m-1 4h1m-1 2h1m-1 1h1m-1 3h1m-1 3h1m-1 13h1m-1 1h1m-1 6h1m-1 1h1m-1 4h1m-1 1h1m-1 1h1m-1 1h1m-1 2h1m-1 5h1m-1 1h1m-1 1h1m-1 3h1m-1 1h1m-1 1h1m-1 1h1m-1 3h1m-1 1h1m-1 1h1m-1 3h1m-1 8h1m-1 1h1m-1 1h1m-1 2h1m-1 4h1m-1 4h1m-1 5h1m-1 1h1m-1 2h1m-1 1h1m-1 2h1m-1 3h1m-1 9h1m-1 13h1m-1 1h1m-1 1h1m-1 6h1m0-148h1m-1 9h1m-1 8h1m-1 1h1m-1 3h1m-1 3h1m-1 2h1m-1 1h1m-1 7h1m-1 18h1m-1 3h1m-1 2h1m-1 2h1m-1 2h1m-1 2h1m-1 3h1m-1 5h1m-1 3h1m-1 1h1m-1 1h1m-1 2h1m-1 1h1m-1 6h1m-1 4h1m-1 2h1m-1 4h1m-1 1h1m-1 13h1m-1 11h1m-1 1h1m-1 18h1m0-139h1m-1 8h1m-1 1h1m-1 42h1m-1 8h1m-1 1h1m-1 6h1m-1 10h1m-1 2h1m-1 1h1m-1 1h1m-1 5h1m-1 2h1m-1 1h1m-1 1h1m-1 4h1m-1 5h1m-1 2h1m-1 3h1m-1 3h1m-1 2h1m-1 8h1m-1 3h1m-1 6h1m0-123h1m-1 3h1m-1 10h1m-1 1h1m-1 7h1m-1 7h1m-1 5h1m-1 6h1m-1 3h1m-1 9h1m-1 10h1m-1 1h1m-1 4h1m-1 1h1m-1 1h1m-1 1h1m-1 1h1m-1 1h1m-1 4h1m-1 2h1m-1 1h1m-1 1h1m-1 1h1m-1 1h1m-1 1h1m-1 2h1m-1 2h1m-1 2h1m-1 1h1m-1 3h1m-1 2h1m-1 2h1m-1 3h1m-1 1h1m-1 1h1m-1 2h1m-1 1h1m-1 1h1m-1 2h1m-1 3h1m-1 3h1m-1 3h1m-1 6h1m-1 6h1m-1 3h1m0-133h1m-1 12h1m-1 3h1m-1 1h1m-1 2h1m-1 2h1m-1 2h1m-1 3h1m-1 34h1m-1 6h1m-1 4h1m-1 2h1m-1 1h1m-1 4h1m-1 1h1m-1 2h1m-1 2h1m-1 3h1m-1 4h1m-1 3h1m-1 1h1m-1 2h1m-1 1h1m-1 1h1m-1 7h1m-1 1h1m-1 1h1m-1 2h1m-1 2h1m-1 2h1m-1 4h1m-1 3h1m-1 2h1m-1 7h1m-1 2h1m-1 6h1m-1 3h1m-1 4h1m-1 6h1m0-148h1m-1 3h1m-1 10h1m-1 3h1m-1 4h1m-1 22h1m-1 11h1m-1 9h1m-1 2h1m-1 1h1m-1 1h1m-1 2h1m-1 1h1m-1 3h1m-1 1h1m-1 1h1m-1 1h1m-1 1h1m-1 3h1m-1 1h1m-1 3h1m-1 1h1m-1 1h1m-1 1h1m-1 1h1m-1 1h1m-1 1h1m-1 3h1m-1 1h1m-1 2h1m-1 1h1m-1 4h1m-1 6h1m-1 5h1m-1 1h1m-1 4h1m-1 4h1m-1 2h1m-1 1h1m-1 2h1m-1 1h1m-1 10h1m-1 12h1m0-132h1m-1 5h1m-1 22h1m-1 2h1m-1 8h1m-1 5h1m-1 5h1m-1 6h1m-1 2h1m-1 2h1m-1 1h1m-1 3h1m-1 1h1m-1 5h1m-1 2h1m-1 1h1m-1 1h1m-1 2h1m-1 1h1m-1 1h1m-1 1h1m-1 1h1m-1 2h1m-1 3h1m-1 1h1m-1 3h1m-1 1h1m-1 1h1m-1 3h1m-1 6h1m-1 2h1m-1 2h1m-1 5h1m0-122h1m-1 5h1m-1 18h1m-1 2h1m-1 3h1m-1 2h1m-1 3h1m-1 2h1m-1 9h1m-1 1h1m-1 3h1m-1 3h1m-1 1h1m-1 2h1m-1 3h1m-1 1h1m-1 1h1m-1 1h1m-1 6h1m-1 6h1m-1 1h1m-1 3h1m-1 1h1m-1 1h1m-1 1h1m-1 1h1m-1 1h1m-1 2h1m-1 1h1m-1 1h1m-1 2h1m-1 2h1m-1 2h1m-1 1h1m-1 1h1m-1 8h1m-1 3h1m-1 2h1m-1 2h1m-1 3h1m-1 1h1m-1 2h1m-1 5h1m-1 4h1m-1 7h1m0-129h1m-1 13h1m-1 1h1m-1 13h1m-1 9h1m-1 3h1m-1 6h1m-1 10h1m-1 2h1m-1 2h1m-1 3h1m-1 1h1m-1 1h1m-1 1h1m-1 1h1m-1 3h1m-1 1h1m-1 1h1m-1 1h1m-1 2h1m-1 1h1m-1 3h1m-1 1h1m-1 1h1m-1 1h1m-1 1h1m-1 1h1m-1 1h1m-1 2h1m-1 3h1m-1 1h1m-1 1h1m-1 1h1m-1 3h1m-1 1h1m-1 4h1m-1 1h1m-1 1h1m-1 10h1m-1 2h1m-1 1h1m-1 1h1m-1 2h1m-1 4h1m-1 2h1m-1 1h1m-1 6h1m-1 4h1m-1 3h1m0-121h1m-1 2h1m-1 13h1m-1 2h1m-1 2h1m-1 11h1m-1 1h1m-1 1h1m-1 7h1m-1 1h1m-1 3h1m-1 1h1m-1 1h1m-1 2h1m-1 2h1m-1 2h1m-1 3h1m-1 2h1m-1 2h1m-1 3h1m-1 2h1m-1 1h1m-1 2h1m-1 1h1m-1 2h1m-1 1h1m-1 1h1m-1 3h1m-1 3h1m-1 1h1m-1 1h1m-1 2h1m-1 1h1m-1 9h1m-1 1h1m-1 5h1m-1 4h1m-1 2h1m-1 5h1m-1 2h1m0-115h1m-1 2h1m-1 4h1m-1 6h1m-1 10h1m-1 3h1m-1 16h1m-1 2h1m-1 3h1m-1 5h1m-1 1h1m-1 3h1m-1 1h1m-1 1h1m-1 2h1m-1 1h1m-1 1h1m-1 1h1m-1 1h1m-1 1h1m-1 1h1m-1 2h1m-1 2h1m-1 1h1m-1 2h1m-1 1h1m-1 1h1m-1 1h1m-1 2h1m-1 3h1m-1 3h1m-1 1h1m-1 2h1m-1 8h1m-1 4h1m-1 2h1m-1 2h1m-1 10h1m-1 3h1m-1 5h1m-1 7h1m-1 8h1m0-139h1m-1 1h1m-1 9h1m-1 2h1m-1 31h1m-1 2h1m-1 1h1m-1 7h1m-1 1h1m-1 1h1m-1 1h1m-1 2h1m-1 1h1m-1 1h1m-1 1h1m-1 4h1m-1 2h1m-1 1h1m-1 1h1m-1 1h1m-1 1h1m-1 1h1m-1 1h1m-1 1h1m-1 2h1m-1 2h1m-1 1h1m-1 1h1m-1 1h1m-1 1h1m-1 1h1m-1 1h1m-1 3h1m-1 1h1m-1 3h1m-1 2h1m-1 1h1m-1 8h1m-1 1h1m-1 4h1m-1 8h1m-1 10h1m-1 1h1m-1 5h1m-1 5h1m-1 1h1m-1 2h1m0-113h1m-1 15h1m-1 2h1m-1 2h1m-1 6h1m-1 2h1m-1 1h1m-1 1h1m-1 3h1m-1 1h1m-1 1h1m-1 1h1m-1 1h1m-1 2h1m-1 1h1m-1 1h1m-1 3h1m-1 1h1m-1 2h1m-1 1h1m-1 1h1m-1 1h1m-1 1h1m-1 2h1m-1 2h1m-1 2h1m-1 1h1m-1 1h1m-1 1h1m-1 2h1m-1 5h1m-1 7h1m-1 2h1m-1 3h1m-1 1h1m-1 1h1m-1 3h1m-1 8h1m-1 2h1m0-81h1m-1 4h1m-1 4h1m-1 1h1m-1 2h1m-1 1h1m-1 2h1m-1 1h1m-1 2h1m-1 1h1m-1 1h1m-1 1h1m-1 1h1m-1 1h1m-1 1h1m-1 1h1m-1 1h1m-1 1h1m-1 1h1m-1 1h1m-1 1h1m-1 2h1m-1 1h1m-1 3h1m-1 1h1m-1 1h1m-1 2h1m-1 1h1m-1 2h1m-1 1h1m-1 1h1m-1 1h1m-1 1h1m-1 1h1m-1 1h1m-1 4h1m-1 1h1m-1 3h1m-1 6h1m-1 5h1m-1 7h1m-1 1h1m-1 1h1m-1 2h1m-1 1h1m-1 3h1m-1 1h1m-1 6h1m-1 3h1m-1 1h1m0-105h1m-1 5h1m-1 12h1m-1 3h1m-1 6h1m-1 1h1m-1 5h1m-1 1h1m-1 2h1m-1 1h1m-1 1h1m-1 1h1m-1 1h1m-1 2h1m-1 1h1m-1 1h1m-1 1h1m-1 1h1m-1 1h1m-1 1h1m-1 1h1m-1 1h1m-1 2h1m-1 1h1m-1 1h1m-1 1h1m-1 1h1m-1 3h1m-1 1h1m-1 1h1m-1 1h1m-1 3h1m-1 1h1m-1 1h1m-1 3h1m-1 1h1m-1 6h1m-1 5h1m-1 22h1m-1 2h1m-1 3h1m0-137h1m-1 1h1m-1 7h1m-1 6h1m-1 17h1m-1 12h1m-1 7h1m-1 2h1m-1 4h1m-1 2h1m-1 1h1m-1 1h1m-1 1h1m-1 1h1m-1 1h1m-1 2h1m-1 1h1m-1 1h1m-1 1h1m-1 1h1m-1 1h1m-1 1h1m-1 1h1m-1 1h1m-1 1h1m-1 1h1m-1 1h1m-1 1h1m-1 1h1m-1 1h1m-1 1h1m-1 1h1m-1 1h1m-1 1h1m-1 1h1m-1 1h1m-1 1h1m-1 1h1m-1 2h1m-1 2h1m-1 1h1m-1 2h1m-1 1h1m-1 1h1m-1 1h1m-1 2h1m-1 2h1m-1 3h1m-1 4h1m-1 1h1m-1 1h1m-1 3h1m-1 7h1m-1 3h1m-1 19h1m0-139h1m-1 40h1m-1 1h1m-1 1h1m-1 2h1m-1 2h1m-1 2h1m-1 2h1m-1 4h1m-1 1h1m-1 5h1m-1 1h1m-1 1h1m-1 1h1m-1 1h1m-1 2h1m-1 1h1m-1 1h1m-1 1h1m-1 1h1m-1 1h1m-1 1h1m-1 1h1m-1 1h1m-1 2h1m-1 2h1m-1 2h1m-1 1h1m-1 1h1m-1 1h1m-1 1h1m-1 1h1m-1 1h1m-1 1h1m-1 3h1m-1 2h1m-1 1h1m-1 2h1m-1 4h1m-1 1h1m-1 3h1m-1 3h1m-1 4h1m-1 4h1m-1 1h1m-1 4h1m-1 2h1m-1 1h1m-1 2h1m-1 10h1m-1 2h1m0-135h1m-1 12h1m-1 9h1m-1 2h1m-1 5h1m-1 6h1m-1 3h1m-1 6h1m-1 5h1m-1 3h1m-1 1h1m-1 1h1m-1 1h1m-1 1h1m-1 2h1m-1 1h1m-1 1h1m-1 1h1m-1 1h1m-1 2h1m-1 2h1m-1 1h1m-1 1h1m-1 1h1m-1 1h1m-1 1h1m-1 1h1m-1 1h1m-1 1h1m-1 1h1m-1 1h1m-1 2h1m-1 1h1m-1 1h1m-1 1h1m-1 1h1m-1 1h1m-1 1h1m-1 2h1m-1 1h1m-1 1h1m-1 5h1m-1 1h1m-1 7h1m-1 3h1m-1 4h1m-1 1h1m-1 1h1m-1 1h1m-1 4h1m-1 1h1m-1 2h1m-1 5h1m-1 3h1m-1 1h1m-1 7h1m-1 5h1m0-132h1m-1 29h1m-1 12h1m-1 2h1m-1 2h1m-1 2h1m-1 1h1m-1 2h1m-1 1h1m-1 2h1m-1 2h1m-1 1h1m-1 1h1m-1 1h1m-1 1h1m-1 1h1m-1 1h1m-1 1h1m-1 2h1m-1 1h1m-1 1h1m-1 1h1m-1 1h1m-1 1h1m-1 1h1m-1 1h1m-1 1h1m-1 1h1m-1 1h1m-1 1h1m-1 2h1m-1 3h1m-1 1h1m-1 1h1m-1 1h1m-1 7h1m-1 3h1m-1 2h1m-1 1h1m-1 3h1m-1 1h1m-1 2h1m-1 1h1m-1 1h1m-1 6h1m-1 1h1m-1 3h1m-1 2h1m-1 2h1m-1 1h1m-1 5h1m-1 2h1m-1 5h1m0-147h1m-1 4h1m-1 12h1m-1 4h1m-1 13h1m-1 15h1m-1 6h1m-1 1h1m-1 7h1m-1 2h1m-1 1h1m-1 1h1m-1 1h1m-1 1h1m-1 2h1m-1 1h1m-1 2h1m-1 1h1m-1 1h1m-1 1h1m-1 1h1m-1 1h1m-1 1h1m-1 1h1m-1 1h1m-1 1h1m-1 1h1m-1 1h1m-1 1h1m-1 2h1m-1 1h1m-1 1h1m-1 1h1m-1 1h1m-1 1h1m-1 1h1m-1 1h1m-1 1h1m-1 1h1m-1 4h1m-1 3h1m-1 1h1m-1 1h1m-1 3h1m-1 6h1m-1 3h1m-1 3h1m-1 1h1m-1 1h1m-1 1h1m-1 4h1m-1 1h1m-1 3h1m-1 1h1m-1 2h1m-1 10h1m-1 4h1m0-135h1m-1 15h1m-1 7h1m-1 6h1m-1 9h1m-1 5h1m-1 2h1m-1 1h1m-1 2h1m-1 1h1m-1 5h1m-1 1h1m-1 2h1m-1 1h1m-1 1h1m-1 1h1m-1 1h1m-1 1h1m-1 1h1m-1 1h1m-1 1h1m-1 1h1m-1 1h1m-1 1h1m-1 3h1m-1 2h1m-1 1h1m-1 1h1m-1 2h1m-1 1h1m-1 1h1m-1 1h1m-1 1h1m-1 1h1m-1 1h1m-1 1h1m-1 2h1m-1 3h1m-1 1h1m-1 9h1m-1 2h1m-1 2h1m-1 1h1m-1 3h1m-1 1h1m-1 5h1m-1 2h1m-1 3h1m-1 2h1m-1 8h1m-1 2h1m-1 4h1m0-91h1m-1 7h1m-1 1h1m-1 1h1m-1 3h1m-1 1h1m-1 1h1m-1 1h1m-1 1h1m-1 1h1m-1 2h1m-1 1h1m-1 1h1m-1 1h1m-1 1h1m-1 2h1m-1 1h1m-1 1h1m-1 1h1m-1 1h1m-1 1h1m-1 1h1m-1 1h1m-1 1h1m-1 1h1m-1 2h1m-1 1h1m-1 1h1m-1 1h1m-1 1h1m-1 1h1m-1 1h1m-1 1h1m-1 1h1m-1 1h1m-1 1h1m-1 1h1m-1 1h1m-1 2h1m-1 1h1m-1 1h1m-1 2h1m-1 1h1m-1 5h1m-1 6h1m-1 5h1m-1 8h1m-1 1h1m-1 3h1m-1 7h1m0-129h1m-1 15h1m-1 2h1m-1 13h1m-1 4h1m-1 8h1m-1 2h1m-1 3h1m-1 2h1m-1 1h1m-1 6h1m-1 1h1m-1 1h1m-1 2h1m-1 1h1m-1 2h1m-1 1h1m-1 1h1m-1 2h1m-1 2h1m-1 1h1m-1 1h1m-1 1h1m-1 1h1m-1 1h1m-1 1h1m-1 1h1m-1 1h1m-1 2h1m-1 1h1m-1 2h1m-1 2h1m-1 3h1m-1 1h1m-1 1h1m-1 6h1m-1 3h1m-1 6h1m-1 4h1m-1 1h1m-1 2h1m-1 2h1m-1 5h1m-1 8h1m-1 1h1m-1 5h1m0-144h1m-1 9h1m-1 8h1m-1 27h1m-1 3h1m-1 5h1m-1 3h1m-1 4h1m-1 1h1m-1 1h1m-1 1h1m-1 1h1m-1 2h1m-1 1h1m-1 1h1m-1 2h1m-1 1h1m-1 1h1m-1 1h1m-1 1h1m-1 2h1m-1 1h1m-1 1h1m-1 1h1m-1 1h1m-1 1h1m-1 1h1m-1 1h1m-1 1h1m-1 1h1m-1 1h1m-1 1h1m-1 1h1m-1 1h1m-1 1h1m-1 1h1m-1 1h1m-1 1h1m-1 2h1m-1 1h1m-1 9h1m-1 1h1m-1 7h1m-1 1h1m-1 2h1m-1 4h1m-1 1h1m-1 4h1m-1 4h1m-1 1h1m-1 4h1m-1 1h1m-1 10h1m0-132h1m-1 3h1m-1 19h1m-1 13h1m-1 1h1m-1 5h1m-1 3h1m-1 3h1m-1 2h1m-1 1h1m-1 2h1m-1 2h1m-1 1h1m-1 1h1m-1 1h1m-1 1h1m-1 1h1m-1 1h1m-1 1h1m-1 2h1m-1 1h1m-1 1h1m-1 1h1m-1 1h1m-1 1h1m-1 1h1m-1 1h1m-1 1h1m-1 1h1m-1 1h1m-1 1h1m-1 1h1m-1 5h1m-1 1h1m-1 2h1m-1 1h1m-1 2h1m-1 2h1m-1 1h1m-1 9h1m-1 2h1m-1 8h1m-1 1h1m-1 1h1m-1 1h1m-1 4h1m-1 4h1m-1 6h1m-1 7h1m0-99h1m-1 4h1m-1 3h1m-1 8h1m-1 1h1m-1 2h1m-1 1h1m-1 1h1m-1 1h1m-1 1h1m-1 2h1m-1 1h1m-1 1h1m-1 1h1m-1 1h1m-1 1h1m-1 1h1m-1 1h1m-1 1h1m-1 1h1m-1 1h1m-1 1h1m-1 1h1m-1 1h1m-1 2h1m-1 1h1m-1 1h1m-1 1h1m-1 1h1m-1 2h1m-1 1h1m-1 1h1m-1 2h1m-1 2h1m-1 1h1m-1 1h1m-1 3h1m-1 1h1m-1 4h1m-1 1h1m-1 4h1m-1 2h1m-1 1h1m-1 1h1m-1 10h1m-1 9h1m-1 1h1m-1 3h1m-1 6h1m0-145h1m-1 33h1m-1 12h1m-1 5h1m-1 4h1m-1 2h1m-1 6h1m-1 1h1m-1 2h1m-1 1h1m-1 1h1m-1 1h1m-1 1h1m-1 1h1m-1 1h1m-1 1h1m-1 1h1m-1 1h1m-1 1h1m-1 1h1m-1 1h1m-1 1h1m-1 1h1m-1 1h1m-1 1h1m-1 1h1m-1 1h1m-1 1h1m-1 1h1m-1 2h1m-1 1h1m-1 2h1m-1 3h1m-1 8h1m-1 1h1m-1 2h1m-1 1h1m-1 3h1m-1 5h1m-1 3h1m-1 14h1m-1 5h1m-1 10h1m0-97h1m-1 3h1m-1 1h1m-1 4h1m-1 1h1m-1 2h1m-1 1h1m-1 1h1m-1 1h1m-1 1h1m-1 1h1m-1 1h1m-1 1h1m-1 1h1m-1 1h1m-1 2h1m-1 3h1m-1 2h1m-1 1h1m-1 1h1m-1 1h1m-1 1h1m-1 1h1m-1 1h1m-1 1h1m-1 1h1m-1 1h1m-1 1h1m-1 1h1m-1 1h1m-1 2h1m-1 1h1m-1 2h1m-1 1h1m-1 1h1m-1 1h1m-1 2h1m-1 1h1m-1 4h1m-1 1h1m-1 1h1m-1 10h1m-1 9h1m-1 2h1m-1 4h1m-1 1h1m-1 4h1m0-84h1m-1 3h1m-1 4h1m-1 1h1m-1 1h1m-1 3h1m-1 2h1m-1 1h1m-1 1h1m-1 1h1m-1 3h1m-1 2h1m-1 1h1m-1 1h1m-1 2h1m-1 1h1m-1 1h1m-1 2h1m-1 1h1m-1 1h1m-1 1h1m-1 1h1m-1 3h1m-1 2h1m-1 2h1m-1 1h1m-1 2h1m-1 2h1m-1 1h1m-1 1h1m-1 1h1m-1 3h1m-1 1h1m-1 11h1m-1 3h1m-1 2h1m-1 26h1m0-141h1m-1 36h1m-1 3h1m-1 9h1m-1 3h1m-1 1h1m-1 5h1m-1 2h1m-1 1h1m-1 3h1m-1 2h1m-1 1h1m-1 1h1m-1 1h1m-1 1h1m-1 1h1m-1 1h1m-1 1h1m-1 1h1m-1 1h1m-1 1h1m-1 1h1m-1 3h1m-1 1h1m-1 1h1m-1 1h1m-1 1h1m-1 1h1m-1 1h1m-1 1h1m-1 2h1m-1 1h1m-1 1h1m-1 1h1m-1 9h1m-1 4h1m-1 4h1m-1 10h1m-1 1h1m-1 1h1m-1 7h1m-1 1h1m-1 13h1m0-132h1m-1 21h1m-1 19h1m-1 4h1m-1 1h1m-1 2h1m-1 1h1m-1 1h1m-1 1h1m-1 3h1m-1 2h1m-1 2h1m-1 1h1m-1 1h1m-1 1h1m-1 1h1m-1 1h1m-1 1h1m-1 2h1m-1 4h1m-1 1h1m-1 1h1m-1 2h1m-1 2h1m-1 1h1m-1 1h1m-1 2h1m-1 3h1m-1 1h1m-1 2h1m-1 3h1m-1 16h1m-1 4h1m-1 2h1m-1 1h1m-1 1h1m-1 12h1m-1 5h1m-1 3h1m0-136h1m-1 25h1m-1 15h1m-1 3h1m-1 12h1m-1 2h1m-1 2h1m-1 2h1m-1 2h1m-1 3h1m-1 1h1m-1 1h1m-1 1h1m-1 1h1m-1 1h1m-1 1h1m-1 1h1m-1 2h1m-1 1h1m-1 4h1m-1 2h1m-1 1h1m-1 2h1m-1 2h1m-1 1h1m-1 2h1m-1 2h1m-1 12h1m-1 10h1m-1 1h1m-1 3h1m-1 18h1m0-125h1m-1 20h1m-1 12h1m-1 2h1m-1 5h1m-1 4h1m-1 1h1m-1 2h1m-1 1h1m-1 1h1m-1 1h1m-1 1h1m-1 3h1m-1 3h1m-1 1h1m-1 1h1m-1 2h1m-1 4h1m-1 1h1m-1 1h1m-1 1h1m-1 1h1m-1 1h1m-1 1h1m-1 1h1m-1 2h1m-1 2h1m-1 9h1m-1 6h1m-1 4h1m-1 7h1m-1 7h1m-1 5h1m0-126h1m-1 25h1m-1 6h1m-1 15h1m-1 4h1m-1 2h1m-1 2h1m-1 2h1m-1 3h1m-1 1h1m-1 3h1m-1 1h1m-1 2h1m-1 3h1m-1 3h1m-1 4h1m-1 2h1m-1 1h1m-1 1h1m-1 3h1m-1 1h1m-1 2h1m-1 2h1m-1 1h1m-1 1h1m-1 1h1m-1 1h1m-1 7h1m-1 3h1m-1 5h1m-1 2h1m0-100h1m-1 3h1m-1 39h1m-1 2h1m-1 1h1m-1 3h1m-1 1h1m-1 3h1m-1 2h1m-1 2h1m-1 1h1m-1 1h1m-1 1h1m-1 1h1m-1 2h1m-1 2h1m-1 3h1m-1 1h1m-1 2h1m-1 2h1m-1 7h1m-1 1h1m-1 21h1m-1 16h1m-1 6h1m0-117h1m-1 11h1m-1 25h1m-1 11h1m-1 1h1m-1 2h1m-1 2h1m-1 3h1m-1 6h1m-1 1h1m-1 2h1m-1 1h1m-1 2h1m-1 3h1m-1 17h1m-1 5h1m-1 31h1m0-136h1m-1 5h1m-1 24h1m-1 28h1m-1 4h1m-1 2h1m-1 1h1m-1 1h1m-1 4h1m-1 1h1m-1 1h1m-1 2h1m-1 4h1m-1 6h1m-1 1h1m-1 1h1m-1 2h1m-1 1h1m-1 3h1m-1 5h1m-1 2h1m-1 5h1m-1 1h1m-1 26h1m0-122h1m-1 14h1m-1 6h1m-1 1h1m-1 19h1m-1 2h1m-1 1h1m-1 3h1m-1 3h1m-1 2h1m-1 1h1m-1 1h1m-1 2h1m-1 2h1m-1 3h1m-1 1h1m-1 5h1m-1 9h1m-1 2h1m-1 1h1m-1 5h1m-1 12h1m-1 13h1m0-124h1m-1 25h1m-1 30h1m-1 10h1m-1 2h1m-1 1h1m-1 7h1m-1 1h1m-1 3h1m-1 1h1m-1 4h1m-1 1h1m-1 1h1m-1 2h1m-1 3h1m-1 11h1m-1 13h1m-1 7h1m-1 5h1m0-71h1m-1 1h1m-1 10h1m-1 1h1m-1 5h1m-1 4h1m-1 12h1m-1 6h1m-1 7h1m-1 37h1m0-76h1m-1 2h1m-1 2h1m-1 6h1m-1 6h1m-1 7h1m-1 1h1m-1 53h1m0-129h1m-1 26h1m-1 19h1m-1 4h1m-1 4h1m-1 3h1m-1 1h1m-1 6h1m-1 10h1m-1 1h1m-1 5h1m-1 3h1m-1 9h1m0-88h1m-1 15h1m-1 15h1m-1 25h1m-1 18h1m-1 2h1m-1 47h1m0-102h1m-1 30h1m-1 11h1m-1 1h1m-1 1h1m-1 14h1m-1 18h1m-1 4h1m0-52h1m-1 15h1m-1 2h1m-1 8h1m-1 3h1m-1 1h1m-1 36h1m0-130h1m-1 18h1m-1 30h1m-1 25h1m-1 8h1m-1 4h1m-1 4h1m0-79h1m-1 73h1m-1 16h1m0-46h1m-1 7h1m-1 8h1m-1 30h1m-1 21h1m-1 3h1m0-103h1m-1 33h1m-1 18h1m-1 6h1m-1 10h1m-1 15h1m0-23h1m-1 10h1m-1 58h1m0-107h1m-1 73h1m-1 27h1m-1 5h1m0-59h1m-1 3h1m0-88h1m-1 3h1m-1 60h1m-1 23h1m-1 18h1m-1 14h1m-1 14h1m-1 13h1m0-41h1m-1 42h1m0-49h1m0-56h1m-1 6h1m-1 23h1m-1 10h1m-1 68h1m0-106h1m0-42h1m1 86h1m0-50h1m-1 57h1m0 3h1m-1 41h1m0-134h1m-1 1h1m-1 9h1m-1 50h1m-1 48h1m1-67h1m-1 15h1m-1 34h1m1 22h1m0-82h1m-1 2h1m-1 11h1m0 42h1m1-88h1m-1 26h1m-1 67h1m0-85h1m-1 5h1m-1 49h1m0-53h1m-1 5h1m-1 51h1m-1 6h1m-1 4h1m-1 4h1m-1 14h1m-1 9h1m-1 7h1m-1 2h1m-1 33h1" stroke="#000" stroke-opacity="0.9" stroke-width="1.8" fill="none" filter="url(#bl)"/>
</g>
<rect x="301.3" y="29.6" width="76.7" height="76.6" fill="none" stroke="#888" stroke-width="0.8"/>
<line x1="303.3" y1="106.6" x2="377.0" y2="106.6" stroke="#555" stroke-width="1.0" stroke-dasharray="1 6.90 .6 3.83 .6 2.68 .6 2.95"/>
<line x1="300.9" y1="104.2" x2="300.9" y2="30.6" stroke="#555" stroke-width="1.0" stroke-dasharray="1 6.90 .6 3.83 .6 2.68 .6 2.95"/>
<line x1="341.4" y1="29.6" x2="341.4" y2="106.2" stroke="#000" stroke-width="0.7" stroke-opacity=".55"/>
<line x1="301.3" y1="58.8" x2="378.0" y2="58.8" stroke="#000" stroke-width="0.7" stroke-opacity=".55"/>
<text x="303.3" y="33.8" font-size="3.2" text-anchor="start" font-weight="normal" fill="#333" >17.01%</text>
<text x="376.0" y="33.8" font-size="3.2" text-anchor="end" font-weight="normal" fill="#333" >4.01%</text>
<text x="303.3" y="104.4" font-size="3.2" text-anchor="start" font-weight="normal" fill="#333" >29.49%</text>
<text x="376.0" y="104.4" font-size="3.2" text-anchor="end" font-weight="normal" fill="#333" >49.00%</text>
<line x1="291.7" y1="88.5" x2="291.7" y2="117.6" stroke="#444" stroke-width="0.8" />
<line x1="291.7" y1="117.6" x2="326.0" y2="117.6" stroke="#444" stroke-width="0.8" />
<text x="289.7" y="116.1" font-size="5.6" text-anchor="start" font-weight="normal" fill="#222" transform="rotate(-90 289.7 116.1)" >CD8&#945;</text>
<text x="293.2" y="125.6" font-size="6.8" text-anchor="start" font-weight="normal" fill="#222" textLength="11.5" lengthAdjust="spacingAndGlyphs">CD4</text>
<text x="479.8" y="11.8" font-size="9.8" text-anchor="middle" font-weight="bold" fill="#000" >B6 <tspan font-family="DejaVu Sans, sans-serif" font-size="10">&#8594;</tspan> BALB/c</text>
<text x="479.6" y="24.0" font-size="9.8" text-anchor="middle" font-weight="bold" fill="#000" >Day 10</text>
<text x="436.8" y="68.3" font-size="9.9" text-anchor="end" font-weight="bold" fill="#000" >Non-GVHD</text>
<text x="436.8" y="144.1" font-size="9.9" text-anchor="end" font-weight="bold" fill="#000" >GVHD</text>
<clipPath id="c78"><rect x="440.0" y="28.7" width="75.2" height="74.3"/></clipPath>
<g clip-path="url(#c78)">
<ellipse cx="472.5" cy="42.5" rx="19.7" ry="15.0" transform="rotate(169 472.5 42.5)" fill="url(#gg)" fill-opacity="1.0"/>
<ellipse cx="473.0" cy="42.0" rx="12.0" ry="10.6" transform="rotate(0 473.0 42.0)" fill="url(#gg)" fill-opacity="1.0"/>
<ellipse cx="462.0" cy="42.0" rx="19.9" ry="14.2" transform="rotate(147 462.0 42.0)" fill="url(#gg)" fill-opacity="0.25"/>
<ellipse cx="474.0" cy="70.5" rx="14.9" ry="13.8" transform="rotate(90 474.0 70.5)" fill="url(#gg)" fill-opacity="0.5"/>
<ellipse cx="492.5" cy="69.0" rx="13.8" ry="11.5" transform="rotate(90 492.5 69.0)" fill="url(#gg)" fill-opacity="0.45"/>
<path transform="scale(.5)" d="M882 69h1m-1 1h1m-1 1h1m-1 4h1m-1 1h1m-1 20h1m-1 3h1m-1 6h1m-1 2h1m-1 1h1m-1 21h1m-1 1h1m-1 10h1m-1 9h1m-1 1h1m-1 21h1m-1 17h1m-1 10h1m0-41h1m0-62h1m-1 97h1m0-118h1m-1 3h1m-1 3h1m-1 18h1m-1 1h1m-1 33h1m-1 5h1m-1 24h1m-1 15h1m0-53h1m-1 44h1m-1 31h1m0-125h1m-1 8h1m-1 1h1m0 10h1m-1 61h1m0-93h1m-1 33h1m-1 16h1m-1 32h1m0-74h1m-1 22h1m-1 1h1m-1 5h1m-1 5h1m-1 8h1m-1 27h1m-1 7h1m-1 21h1m0-103h1m-1 8h1m-1 12h1m-1 37h1m-1 9h1m0 14h1m0-62h1m-1 23h1m-1 14h1m-1 23h1m-1 21h1m0-86h1m-1 20h1m-1 2h1m-1 26h1m-1 16h1m-1 1h1m-1 25h1m0-103h1m-1 2h1m-1 32h1m-1 1h1m-1 6h1m-1 33h1m-1 25h1m0-82h1m-1 3h1m-1 4h1m-1 28h1m-1 1h1m-1 1h1m-1 24h1m-1 24h1m0-82h1m-1 2h1m-1 1h1m-1 5h1m-1 25h1m-1 55h1m-1 32h1m0-131h1m-1 17h1m-1 2h1m-1 5h1m-1 6h1m-1 6h1m-1 5h1m-1 29h1m-1 3h1m-1 3h1m0-70h1m-1 10h1m-1 8h1m-1 1h1m-1 2h1m-1 29h1m-1 12h1m-1 14h1m-1 15h1m-1 1h1m0-94h1m-1 1h1m-1 4h1m-1 1h1m-1 6h1m-1 1h1m-1 8h1m-1 10h1m-1 7h1m-1 21h1m0-47h1m-1 3h1m-1 1h1m-1 4h1m-1 1h1m-1 5h1m-1 5h1m-1 1h1m-1 2h1m-1 8h1m-1 29h1m-1 46h1m-1 1h1m0-119h1m-1 4h1m-1 2h1m-1 4h1m-1 2h1m-1 1h1m-1 3h1m-1 1h1m-1 9h1m-1 5h1m-1 6h1m-1 24h1m-1 14h1m-1 8h1m0-95h1m-1 3h1m-1 10h1m-1 4h1m-1 3h1m-1 6h1m-1 3h1m-1 4h1m-1 2h1m-1 2h1m-1 3h1m-1 8h1m-1 6h1m-1 41h1m-1 1h1m-1 34h1m0-130h1m-1 20h1m-1 2h1m-1 1h1m-1 4h1m-1 2h1m-1 3h1m-1 1h1m-1 1h1m-1 1h1m-1 1h1m-1 1h1m-1 13h1m-1 3h1m-1 9h1m0-51h1m-1 5h1m-1 6h1m-1 5h1m-1 1h1m-1 12h1m-1 3h1m-1 1h1m-1 3h1m-1 4h1m-1 14h1m-1 47h1m0-108h1m-1 8h1m-1 1h1m-1 7h1m-1 3h1m-1 3h1m-1 2h1m-1 1h1m-1 18h1m-1 3h1m-1 1h1m-1 2h1m-1 17h1m-1 10h1m-1 14h1m-1 7h1m0-101h1m-1 7h1m-1 1h1m-1 4h1m-1 4h1m-1 3h1m-1 1h1m-1 10h1m-1 1h1m-1 3h1m-1 2h1m-1 1h1m-1 4h1m-1 5h1m-1 5h1m-1 9h1m-1 18h1m0-71h1m-1 4h1m-1 2h1m-1 9h1m-1 2h1m-1 2h1m-1 1h1m-1 5h1m-1 2h1m-1 1h1m-1 3h1m-1 2h1m-1 10h1m-1 12h1m-1 1h1m-1 4h1m-1 14h1m-1 3h1m-1 14h1m-1 4h1m-1 42h1m0-141h1m-1 7h1m-1 3h1m-1 3h1m-1 1h1m-1 1h1m-1 1h1m-1 3h1m-1 5h1m-1 3h1m-1 2h1m-1 3h1m-1 3h1m-1 2h1m-1 3h1m-1 3h1m-1 17h1m-1 1h1m-1 14h1m-1 3h1m-1 25h1m0-100h1m-1 1h1m-1 9h1m-1 5h1m-1 5h1m-1 1h1m-1 2h1m-1 2h1m-1 2h1m-1 3h1m-1 4h1m-1 2h1m-1 1h1m-1 6h1m-1 12h1m-1 8h1m-1 21h1m-1 5h1m-1 11h1m0-105h1m-1 2h1m-1 1h1m-1 13h1m-1 2h1m-1 1h1m-1 1h1m-1 1h1m-1 6h1m-1 3h1m-1 2h1m-1 1h1m-1 1h1m-1 2h1m-1 3h1m-1 1h1m-1 10h1m-1 22h1m-1 23h1m0-96h1m-1 3h1m-1 10h1m-1 3h1m-1 4h1m-1 1h1m-1 3h1m-1 3h1m-1 4h1m-1 4h1m-1 2h1m-1 10h1m-1 7h1m-1 16h1m-1 4h1m-1 15h1m0-89h1m-1 3h1m-1 14h1m-1 4h1m-1 2h1m-1 2h1m-1 4h1m-1 1h1m-1 4h1m-1 2h1m-1 2h1m-1 1h1m-1 1h1m-1 10h1m-1 4h1m-1 22h1m-1 15h1m-1 34h1m-1 19h1m0-144h1m-1 8h1m-1 5h1m-1 3h1m-1 3h1m-1 1h1m-1 1h1m-1 1h1m-1 5h1m-1 2h1m-1 1h1m-1 3h1m-1 2h1m-1 4h1m-1 2h1m-1 5h1m-1 3h1m-1 2h1m-1 1h1m-1 4h1m-1 3h1m-1 2h1m-1 21h1m-1 8h1m0-90h1m-1 5h1m-1 2h1m-1 2h1m-1 12h1m-1 2h1m-1 1h1m-1 1h1m-1 4h1m-1 1h1m-1 2h1m-1 1h1m-1 1h1m-1 1h1m-1 1h1m-1 1h1m-1 3h1m-1 2h1m-1 3h1m-1 2h1m-1 9h1m-1 7h1m-1 12h1m-1 7h1m-1 6h1m-1 4h1m-1 18h1m-1 3h1m-1 13h1m0-118h1m-1 1h1m-1 4h1m-1 2h1m-1 1h1m-1 2h1m-1 1h1m-1 1h1m-1 1h1m-1 2h1m-1 1h1m-1 3h1m-1 2h1m-1 1h1m-1 2h1m-1 1h1m-1 1h1m-1 1h1m-1 2h1m-1 2h1m-1 3h1m-1 4h1m-1 2h1m-1 8h1m-1 7h1m-1 14h1m-1 14h1m-1 1h1m-1 5h1m-1 17h1m0-110h1m-1 1h1m-1 1h1m-1 10h1m-1 1h1m-1 1h1m-1 1h1m-1 2h1m-1 1h1m-1 2h1m-1 3h1m-1 2h1m-1 1h1m-1 1h1m-1 2h1m-1 2h1m-1 1h1m-1 1h1m-1 1h1m-1 3h1m-1 1h1m-1 1h1m-1 1h1m-1 2h1m-1 4h1m-1 1h1m-1 2h1m-1 4h1m-1 3h1m-1 8h1m-1 1h1m-1 12h1m-1 13h1m-1 2h1m-1 47h1m0-143h1m-1 4h1m-1 1h1m-1 1h1m-1 2h1m-1 1h1m-1 3h1m-1 2h1m-1 1h1m-1 1h1m-1 1h1m-1 2h1m-1 1h1m-1 1h1m-1 2h1m-1 1h1m-1 2h1m-1 5h1m-1 2h1m-1 1h1m-1 3h1m-1 2h1m-1 1h1m-1 2h1m-1 1h1m-1 1h1m-1 1h1m-1 2h1m-1 2h1m-1 1h1m-1 4h1m-1 5h1m-1 3h1m-1 3h1m-1 2h1m-1 2h1m-1 2h1m-1 20h1m-1 25h1m0-113h1m-1 1h1m-1 1h1m-1 2h1m-1 2h1m-1 1h1m-1 2h1m-1 2h1m-1 2h1m-1 1h1m-1 2h1m-1 1h1m-1 1h1m-1 1h1m-1 1h1m-1 1h1m-1 3h1m-1 1h1m-1 3h1m-1 1h1m-1 7h1m-1 2h1m-1 1h1m-1 1h1m-1 1h1m-1 1h1m-1 1h1m-1 7h1m-1 4h1m-1 1h1m-1 2h1m-1 3h1m-1 1h1m-1 4h1m-1 2h1m-1 11h1m-1 5h1m-1 7h1m-1 1h1m-1 9h1m-1 25h1m0-126h1m-1 1h1m-1 2h1m-1 2h1m-1 6h1m-1 1h1m-1 2h1m-1 4h1m-1 1h1m-1 1h1m-1 1h1m-1 1h1m-1 1h1m-1 1h1m-1 1h1m-1 1h1m-1 1h1m-1 2h1m-1 1h1m-1 1h1m-1 1h1m-1 1h1m-1 1h1m-1 1h1m-1 4h1m-1 2h1m-1 1h1m-1 1h1m-1 2h1m-1 2h1m-1 7h1m-1 3h1m-1 1h1m-1 1h1m-1 5h1m-1 1h1m-1 9h1m-1 4h1m-1 8h1m-1 4h1m-1 4h1m-1 1h1m-1 2h1m-1 5h1m-1 9h1m-1 4h1m0-117h1m-1 7h1m-1 1h1m-1 1h1m-1 1h1m-1 1h1m-1 1h1m-1 2h1m-1 2h1m-1 1h1m-1 1h1m-1 1h1m-1 1h1m-1 3h1m-1 1h1m-1 1h1m-1 3h1m-1 1h1m-1 1h1m-1 1h1m-1 2h1m-1 2h1m-1 1h1m-1 1h1m-1 1h1m-1 2h1m-1 2h1m-1 1h1m-1 1h1m-1 3h1m-1 2h1m-1 7h1m-1 1h1m-1 4h1m-1 5h1m-1 7h1m-1 2h1m-1 17h1m-1 7h1m-1 8h1m-1 3h1m-1 4h1m-1 4h1m0-118h1m-1 5h1m-1 1h1m-1 3h1m-1 2h1m-1 1h1m-1 1h1m-1 2h1m-1 2h1m-1 1h1m-1 1h1m-1 1h1m-1 1h1m-1 1h1m-1 1h1m-1 1h1m-1 2h1m-1 1h1m-1 2h1m-1 1h1m-1 2h1m-1 1h1m-1 3h1m-1 1h1m-1 2h1m-1 1h1m-1 6h1m-1 11h1m-1 8h1m-1 4h1m-1 5h1m-1 7h1m-1 3h1m-1 3h1m-1 1h1m-1 1h1m-1 1h1m-1 4h1m-1 12h1m0-106h1m-1 3h1m-1 4h1m-1 4h1m-1 1h1m-1 2h1m-1 1h1m-1 1h1m-1 1h1m-1 1h1m-1 1h1m-1 1h1m-1 2h1m-1 1h1m-1 1h1m-1 1h1m-1 1h1m-1 3h1m-1 2h1m-1 5h1m-1 2h1m-1 2h1m-1 1h1m-1 1h1m-1 2h1m-1 4h1m-1 2h1m-1 1h1m-1 1h1m-1 10h1m-1 10h1m-1 1h1m-1 2h1m-1 4h1m-1 13h1m-1 10h1m-1 3h1m-1 15h1m-1 17h1m0-137h1m-1 1h1m-1 4h1m-1 8h1m-1 1h1m-1 1h1m-1 2h1m-1 2h1m-1 2h1m-1 1h1m-1 1h1m-1 1h1m-1 1h1m-1 1h1m-1 1h1m-1 1h1m-1 1h1m-1 1h1m-1 1h1m-1 2h1m-1 1h1m-1 1h1m-1 1h1m-1 2h1m-1 2h1m-1 1h1m-1 4h1m-1 1h1m-1 1h1m-1 2h1m-1 2h1m-1 2h1m-1 1h1m-1 1h1m-1 4h1m-1 5h1m-1 7h1m-1 4h1m-1 1h1m-1 2h1m-1 5h1m-1 2h1m-1 3h1m-1 1h1m-1 15h1m0-99h1m-1 3h1m-1 1h1m-1 2h1m-1 1h1m-1 2h1m-1 1h1m-1 1h1m-1 2h1m-1 1h1m-1 1h1m-1 1h1m-1 1h1m-1 1h1m-1 1h1m-1 1h1m-1 1h1m-1 1h1m-1 2h1m-1 1h1m-1 2h1m-1 1h1m-1 1h1m-1 1h1m-1 1h1m-1 2h1m-1 1h1m-1 1h1m-1 1h1m-1 2h1m-1 5h1m-1 4h1m-1 2h1m-1 2h1m-1 5h1m-1 2h1m-1 2h1m-1 4h1m-1 3h1m-1 1h1m-1 6h1m-1 2h1m-1 11h1m-1 6h1m-1 29h1m-1 17h1m0-142h1m-1 1h1m-1 3h1m-1 1h1m-1 2h1m-1 1h1m-1 3h1m-1 1h1m-1 1h1m-1 2h1m-1 1h1m-1 1h1m-1 1h1m-1 1h1m-1 1h1m-1 3h1m-1 1h1m-1 1h1m-1 1h1m-1 1h1m-1 1h1m-1 1h1m-1 1h1m-1 1h1m-1 1h1m-1 3h1m-1 2h1m-1 1h1m-1 2h1m-1 5h1m-1 1h1m-1 1h1m-1 1h1m-1 3h1m-1 2h1m-1 8h1m-1 1h1m-1 4h1m-1 3h1m-1 1h1m-1 3h1m-1 4h1m-1 1h1m-1 12h1m-1 1h1m-1 2h1m-1 3h1m-1 35h1m0-133h1m-1 1h1m-1 3h1m-1 2h1m-1 1h1m-1 2h1m-1 1h1m-1 1h1m-1 2h1m-1 1h1m-1 2h1m-1 2h1m-1 1h1m-1 1h1m-1 1h1m-1 1h1m-1 1h1m-1 1h1m-1 1h1m-1 2h1m-1 1h1m-1 1h1m-1 1h1m-1 1h1m-1 1h1m-1 1h1m-1 1h1m-1 1h1m-1 1h1m-1 1h1m-1 1h1m-1 1h1m-1 1h1m-1 2h1m-1 2h1m-1 4h1m-1 6h1m-1 5h1m-1 2h1m-1 3h1m-1 6h1m-1 3h1m-1 4h1m-1 7h1m-1 7h1m-1 31h1m0-122h1m-1 7h1m-1 2h1m-1 3h1m-1 1h1m-1 3h1m-1 1h1m-1 1h1m-1 1h1m-1 1h1m-1 2h1m-1 1h1m-1 1h1m-1 1h1m-1 1h1m-1 1h1m-1 3h1m-1 1h1m-1 1h1m-1 1h1m-1 2h1m-1 1h1m-1 3h1m-1 1h1m-1 3h1m-1 1h1m-1 1h1m-1 1h1m-1 2h1m-1 1h1m-1 2h1m-1 3h1m-1 1h1m-1 6h1m-1 2h1m-1 3h1m-1 2h1m-1 1h1m-1 1h1m-1 1h1m-1 1h1m-1 2h1m-1 1h1m-1 3h1m-1 1h1m-1 2h1m-1 2h1m-1 2h1m-1 3h1m-1 2h1m-1 1h1m-1 2h1m-1 7h1m-1 8h1m-1 13h1m-1 23h1m0-144h1m-1 2h1m-1 1h1m-1 4h1m-1 2h1m-1 1h1m-1 1h1m-1 1h1m-1 2h1m-1 1h1m-1 1h1m-1 1h1m-1 1h1m-1 1h1m-1 2h1m-1 2h1m-1 1h1m-1 1h1m-1 1h1m-1 1h1m-1 2h1m-1 1h1m-1 1h1m-1 1h1m-1 1h1m-1 1h1m-1 1h1m-1 3h1m-1 1h1m-1 1h1m-1 1h1m-1 1h1m-1 1h1m-1 4h1m-1 4h1m-1 9h1m-1 2h1m-1 3h1m-1 4h1m-1 3h1m-1 1h1m-1 2h1m-1 2h1m-1 3h1m-1 1h1m-1 1h1m-1 5h1m-1 2h1m-1 2h1m-1 1h1m-1 2h1m-1 3h1m-1 3h1m-1 1h1m-1 8h1m0-109h1m-1 4h1m-1 2h1m-1 2h1m-1 1h1m-1 1h1m-1 1h1m-1 1h1m-1 1h1m-1 1h1m-1 1h1m-1 2h1m-1 2h1m-1 1h1m-1 1h1m-1 1h1m-1 1h1m-1 1h1m-1 3h1m-1 1h1m-1 2h1m-1 1h1m-1 1h1m-1 1h1m-1 1h1m-1 1h1m-1 3h1m-1 1h1m-1 2h1m-1 1h1m-1 2h1m-1 2h1m-1 1h1m-1 9h1m-1 8h1m-1 2h1m-1 3h1m-1 2h1m-1 2h1m-1 2h1m-1 3h1m-1 3h1m-1 4h1m-1 2h1m-1 1h1m-1 2h1m-1 1h1m-1 1h1m-1 1h1m-1 1h1m-1 2h1m-1 3h1m-1 4h1m-1 10h1m-1 7h1m-1 4h1m-1 3h1m-1 4h1m-1 2h1m-1 1h1m-1 4h1m-1 6h1m0-144h1m-1 5h1m-1 2h1m-1 5h1m-1 1h1m-1 1h1m-1 1h1m-1 1h1m-1 3h1m-1 1h1m-1 1h1m-1 1h1m-1 1h1m-1 1h1m-1 1h1m-1 1h1m-1 1h1m-1 1h1m-1 2h1m-1 1h1m-1 1h1m-1 2h1m-1 1h1m-1 1h1m-1 1h1m-1 2h1m-1 1h1m-1 2h1m-1 2h1m-1 1h1m-1 4h1m-1 1h1m-1 1h1m-1 7h1m-1 1h1m-1 6h1m-1 2h1m-1 6h1m-1 2h1m-1 1h1m-1 3h1m-1 1h1m-1 5h1m-1 1h1m-1 2h1m-1 5h1m-1 4h1m-1 4h1m-1 2h1m-1 1h1m-1 9h1m0-113h1m-1 2h1m-1 2h1m-1 2h1m-1 2h1m-1 1h1m-1 1h1m-1 2h1m-1 1h1m-1 1h1m-1 2h1m-1 1h1m-1 2h1m-1 1h1m-1 1h1m-1 1h1m-1 1h1m-1 1h1m-1 1h1m-1 1h1m-1 1h1m-1 2h1m-1 1h1m-1 1h1m-1 2h1m-1 1h1m-1 1h1m-1 1h1m-1 1h1m-1 2h1m-1 1h1m-1 1h1m-1 1h1m-1 3h1m-1 1h1m-1 1h1m-1 3h1m-1 2h1m-1 1h1m-1 1h1m-1 11h1m-1 2h1m-1 3h1m-1 2h1m-1 4h1m-1 1h1m-1 1h1m-1 2h1m-1 2h1m-1 3h1m-1 3h1m-1 7h1m-1 6h1m-1 2h1m-1 6h1m-1 2h1m0-111h1m-1 1h1m-1 5h1m-1 1h1m-1 2h1m-1 1h1m-1 1h1m-1 3h1m-1 1h1m-1 1h1m-1 1h1m-1 1h1m-1 1h1m-1 2h1m-1 1h1m-1 1h1m-1 1h1m-1 1h1m-1 1h1m-1 1h1m-1 1h1m-1 1h1m-1 1h1m-1 1h1m-1 1h1m-1 1h1m-1 2h1m-1 2h1m-1 1h1m-1 1h1m-1 1h1m-1 1h1m-1 1h1m-1 1h1m-1 2h1m-1 1h1m-1 1h1m-1 2h1m-1 1h1m-1 1h1m-1 1h1m-1 2h1m-1 1h1m-1 3h1m-1 1h1m-1 6h1m-1 1h1m-1 2h1m-1 1h1m-1 1h1m-1 1h1m-1 2h1m-1 2h1m-1 1h1m-1 1h1m-1 1h1m-1 2h1m-1 1h1m-1 3h1m-1 1h1m-1 1h1m-1 1h1m-1 1h1m-1 3h1m-1 2h1m-1 3h1m-1 7h1m-1 1h1m-1 2h1m-1 8h1m-1 15h1m-1 4h1m-1 11h1m0-144h1m-1 3h1m-1 2h1m-1 1h1m-1 1h1m-1 1h1m-1 1h1m-1 2h1m-1 1h1m-1 1h1m-1 2h1m-1 1h1m-1 1h1m-1 1h1m-1 1h1m-1 1h1m-1 1h1m-1 1h1m-1 1h1m-1 1h1m-1 1h1m-1 1h1m-1 1h1m-1 1h1m-1 1h1m-1 1h1m-1 1h1m-1 1h1m-1 1h1m-1 1h1m-1 1h1m-1 1h1m-1 1h1m-1 1h1m-1 1h1m-1 2h1m-1 1h1m-1 1h1m-1 2h1m-1 2h1m-1 4h1m-1 5h1m-1 2h1m-1 2h1m-1 4h1m-1 1h1m-1 2h1m-1 1h1m-1 2h1m-1 1h1m-1 3h1m-1 3h1m-1 1h1m-1 1h1m-1 1h1m-1 1h1m-1 1h1m-1 1h1m-1 1h1m-1 1h1m-1 1h1m-1 1h1m-1 1h1m-1 2h1m-1 2h1m-1 1h1m-1 1h1m-1 1h1m-1 4h1m-1 6h1m-1 2h1m-1 3h1m0-110h1m-1 1h1m-1 1h1m-1 3h1m-1 2h1m-1 1h1m-1 1h1m-1 1h1m-1 1h1m-1 1h1m-1 1h1m-1 1h1m-1 1h1m-1 1h1m-1 2h1m-1 1h1m-1 1h1m-1 1h1m-1 1h1m-1 1h1m-1 1h1m-1 1h1m-1 1h1m-1 1h1m-1 1h1m-1 1h1m-1 1h1m-1 1h1m-1 2h1m-1 1h1m-1 1h1m-1 1h1m-1 1h1m-1 1h1m-1 1h1m-1 1h1m-1 1h1m-1 1h1m-1 1h1m-1 1h1m-1 1h1m-1 1h1m-1 1h1m-1 8h1m-1 4h1m-1 1h1m-1 1h1m-1 2h1m-1 1h1m-1 2h1m-1 1h1m-1 1h1m-1 1h1m-1 1h1m-1 1h1m-1 1h1m-1 2h1m-1 3h1m-1 5h1m-1 2h1m-1 1h1m-1 4h1m-1 3h1m-1 1h1m-1 3h1m-1 5h1m-1 2h1m-1 4h1m-1 7h1m-1 4h1m-1 1h1m0-119h1m-1 1h1m-1 1h1m-1 4h1m-1 2h1m-1 1h1m-1 1h1m-1 1h1m-1 1h1m-1 1h1m-1 1h1m-1 1h1m-1 1h1m-1 1h1m-1 1h1m-1 2h1m-1 1h1m-1 1h1m-1 1h1m-1 1h1m-1 1h1m-1 1h1m-1 1h1m-1 1h1m-1 1h1m-1 1h1m-1 1h1m-1 1h1m-1 1h1m-1 1h1m-1 1h1m-1 1h1m-1 1h1m-1 1h1m-1 1h1m-1 1h1m-1 2h1m-1 5h1m-1 8h1m-1 2h1m-1 1h1m-1 2h1m-1 2h1m-1 4h1m-1 5h1m-1 2h1m-1 1h1m-1 1h1m-1 2h1m-1 1h1m-1 1h1m-1 1h1m-1 3h1m-1 1h1m-1 2h1m-1 4h1m-1 2h1m-1 4h1m-1 3h1m-1 3h1m-1 2h1m-1 19h1m0-123h1m-1 3h1m-1 2h1m-1 1h1m-1 2h1m-1 1h1m-1 3h1m-1 1h1m-1 2h1m-1 1h1m-1 1h1m-1 1h1m-1 1h1m-1 1h1m-1 1h1m-1 1h1m-1 1h1m-1 1h1m-1 1h1m-1 1h1m-1 1h1m-1 1h1m-1 1h1m-1 1h1m-1 1h1m-1 1h1m-1 1h1m-1 1h1m-1 1h1m-1 1h1m-1 2h1m-1 2h1m-1 1h1m-1 5h1m-1 1h1m-1 2h1m-1 3h1m-1 5h1m-1 4h1m-1 1h1m-1 4h1m-1 1h1m-1 1h1m-1 4h1m-1 2h1m-1 2h1m-1 1h1m-1 1h1m-1 1h1m-1 2h1m-1 1h1m-1 1h1m-1 1h1m-1 1h1m-1 2h1m-1 1h1m-1 2h1m-1 3h1m-1 1h1m-1 3h1m-1 2h1m-1 2h1m-1 5h1m-1 4h1m-1 3h1m-1 13h1m-1 8h1m0-134h1m-1 3h1m-1 2h1m-1 1h1m-1 1h1m-1 2h1m-1 1h1m-1 1h1m-1 1h1m-1 1h1m-1 2h1m-1 1h1m-1 1h1m-1 1h1m-1 1h1m-1 1h1m-1 1h1m-1 1h1m-1 1h1m-1 1h1m-1 1h1m-1 1h1m-1 1h1m-1 1h1m-1 1h1m-1 1h1m-1 1h1m-1 1h1m-1 1h1m-1 2h1m-1 1h1m-1 2h1m-1 1h1m-1 1h1m-1 1h1m-1 2h1m-1 1h1m-1 1h1m-1 1h1m-1 4h1m-1 1h1m-1 3h1m-1 3h1m-1 4h1m-1 2h1m-1 4h1m-1 1h1m-1 3h1m-1 1h1m-1 2h1m-1 3h1m-1 1h1m-1 1h1m-1 1h1m-1 1h1m-1 2h1m-1 2h1m-1 1h1m-1 1h1m-1 1h1m-1 1h1m-1 1h1m-1 1h1m-1 1h1m-1 1h1m-1 1h1m-1 3h1m-1 3h1m-1 2h1m-1 6h1m-1 1h1m-1 3h1m-1 11h1m-1 3h1m0-126h1m-1 3h1m-1 2h1m-1 1h1m-1 2h1m-1 1h1m-1 1h1m-1 1h1m-1 1h1m-1 1h1m-1 1h1m-1 1h1m-1 2h1m-1 1h1m-1 1h1m-1 1h1m-1 1h1m-1 1h1m-1 3h1m-1 1h1m-1 1h1m-1 1h1m-1 1h1m-1 2h1m-1 1h1m-1 1h1m-1 1h1m-1 1h1m-1 1h1m-1 1h1m-1 1h1m-1 2h1m-1 3h1m-1 2h1m-1 6h1m-1 1h1m-1 1h1m-1 2h1m-1 2h1m-1 1h1m-1 2h1m-1 4h1m-1 1h1m-1 5h1m-1 1h1m-1 1h1m-1 1h1m-1 3h1m-1 1h1m-1 1h1m-1 2h1m-1 4h1m-1 3h1m-1 1h1m-1 4h1m-1 1h1m-1 6h1m-1 4h1m-1 4h1m-1 12h1m-1 9h1m-1 8h1m-1 8h1m0-144h1m-1 6h1m-1 1h1m-1 1h1m-1 1h1m-1 2h1m-1 1h1m-1 1h1m-1 1h1m-1 1h1m-1 1h1m-1 1h1m-1 1h1m-1 1h1m-1 1h1m-1 1h1m-1 1h1m-1 1h1m-1 1h1m-1 1h1m-1 1h1m-1 1h1m-1 1h1m-1 1h1m-1 1h1m-1 1h1m-1 1h1m-1 1h1m-1 1h1m-1 1h1m-1 1h1m-1 2h1m-1 1h1m-1 1h1m-1 1h1m-1 1h1m-1 1h1m-1 2h1m-1 1h1m-1 2h1m-1 2h1m-1 2h1m-1 1h1m-1 1h1m-1 1h1m-1 1h1m-1 5h1m-1 1h1m-1 1h1m-1 4h1m-1 2h1m-1 1h1m-1 1h1m-1 1h1m-1 2h1m-1 1h1m-1 3h1m-1 1h1m-1 2h1m-1 1h1m-1 3h1m-1 1h1m-1 2h1m-1 1h1m-1 1h1m-1 1h1m-1 2h1m-1 1h1m-1 5h1m-1 4h1m-1 4h1m-1 4h1m-1 2h1m-1 4h1m-1 1h1m-1 1h1m-1 5h1m0-124h1m-1 2h1m-1 1h1m-1 2h1m-1 2h1m-1 1h1m-1 2h1m-1 2h1m-1 1h1m-1 1h1m-1 1h1m-1 1h1m-1 1h1m-1 1h1m-1 1h1m-1 1h1m-1 1h1m-1 1h1m-1 1h1m-1 1h1m-1 1h1m-1 1h1m-1 1h1m-1 1h1m-1 1h1m-1 1h1m-1 1h1m-1 1h1m-1 1h1m-1 1h1m-1 1h1m-1 1h1m-1 2h1m-1 1h1m-1 1h1m-1 4h1m-1 1h1m-1 2h1m-1 2h1m-1 3h1m-1 3h1m-1 2h1m-1 2h1m-1 1h1m-1 1h1m-1 3h1m-1 1h1m-1 2h1m-1 2h1m-1 1h1m-1 2h1m-1 1h1m-1 1h1m-1 2h1m-1 3h1m-1 4h1m-1 1h1m-1 1h1m-1 1h1m-1 1h1m-1 1h1m-1 2h1m-1 2h1m-1 1h1m-1 2h1m-1 2h1m-1 1h1m-1 1h1m-1 4h1m-1 1h1m-1 1h1m-1 10h1m-1 2h1m-1 4h1m-1 2h1m-1 7h1m0-130h1m-1 2h1m-1 3h1m-1 2h1m-1 3h1m-1 1h1m-1 1h1m-1 1h1m-1 1h1m-1 1h1m-1 1h1m-1 1h1m-1 1h1m-1 1h1m-1 1h1m-1 1h1m-1 1h1m-1 1h1m-1 1h1m-1 1h1m-1 1h1m-1 1h1m-1 1h1m-1 1h1m-1 1h1m-1 1h1m-1 1h1m-1 2h1m-1 1h1m-1 1h1m-1 1h1m-1 2h1m-1 1h1m-1 1h1m-1 2h1m-1 1h1m-1 1h1m-1 4h1m-1 1h1m-1 5h1m-1 1h1m-1 2h1m-1 2h1m-1 2h1m-1 1h1m-1 1h1m-1 2h1m-1 1h1m-1 1h1m-1 1h1m-1 3h1m-1 1h1m-1 1h1m-1 1h1m-1 1h1m-1 1h1m-1 1h1m-1 3h1m-1 2h1m-1 1h1m-1 1h1m-1 3h1m-1 1h1m-1 1h1m-1 1h1m-1 2h1m-1 3h1m-1 1h1m-1 1h1m-1 2h1m-1 6h1m-1 1h1m-1 2h1m-1 2h1m-1 2h1m-1 4h1m-1 4h1m0-121h1m-1 1h1m-1 2h1m-1 1h1m-1 2h1m-1 2h1m-1 2h1m-1 1h1m-1 1h1m-1 1h1m-1 1h1m-1 1h1m-1 1h1m-1 1h1m-1 1h1m-1 1h1m-1 1h1m-1 1h1m-1 1h1m-1 1h1m-1 1h1m-1 1h1m-1 1h1m-1 1h1m-1 1h1m-1 1h1m-1 1h1m-1 1h1m-1 1h1m-1 1h1m-1 1h1m-1 1h1m-1 1h1m-1 1h1m-1 1h1m-1 1h1m-1 1h1m-1 2h1m-1 1h1m-1 1h1m-1 2h1m-1 2h1m-1 2h1m-1 1h1m-1 2h1m-1 3h1m-1 2h1m-1 6h1m-1 3h1m-1 4h1m-1 2h1m-1 1h1m-1 2h1m-1 1h1m-1 1h1m-1 1h1m-1 1h1m-1 1h1m-1 1h1m-1 1h1m-1 1h1m-1 1h1m-1 1h1m-1 2h1m-1 3h1m-1 2h1m-1 7h1m-1 1h1m-1 2h1m-1 2h1m-1 4h1m-1 1h1m-1 3h1m-1 8h1m-1 1h1m-1 8h1m-1 6h1m-1 8h1m0-140h1m-1 1h1m-1 1h1m-1 1h1m-1 2h1m-1 1h1m-1 1h1m-1 1h1m-1 2h1m-1 1h1m-1 1h1m-1 1h1m-1 1h1m-1 1h1m-1 2h1m-1 1h1m-1 1h1m-1 1h1m-1 1h1m-1 1h1m-1 1h1m-1 1h1m-1 1h1m-1 1h1m-1 1h1m-1 1h1m-1 1h1m-1 1h1m-1 1h1m-1 1h1m-1 1h1m-1 1h1m-1 1h1m-1 1h1m-1 1h1m-1 2h1m-1 1h1m-1 5h1m-1 3h1m-1 3h1m-1 9h1m-1 2h1m-1 2h1m-1 1h1m-1 1h1m-1 1h1m-1 1h1m-1 1h1m-1 1h1m-1 1h1m-1 1h1m-1 1h1m-1 1h1m-1 2h1m-1 2h1m-1 1h1m-1 1h1m-1 1h1m-1 1h1m-1 1h1m-1 1h1m-1 1h1m-1 1h1m-1 1h1m-1 1h1m-1 1h1m-1 3h1m-1 1h1m-1 1h1m-1 1h1m-1 5h1m-1 3h1m-1 1h1m-1 3h1m-1 1h1m-1 3h1m-1 6h1m-1 23h1m0-144h1m-1 1h1m-1 1h1m-1 3h1m-1 1h1m-1 1h1m-1 1h1m-1 1h1m-1 1h1m-1 1h1m-1 1h1m-1 2h1m-1 1h1m-1 1h1m-1 1h1m-1 1h1m-1 1h1m-1 1h1m-1 1h1m-1 1h1m-1 1h1m-1 1h1m-1 1h1m-1 1h1m-1 1h1m-1 1h1m-1 1h1m-1 1h1m-1 1h1m-1 1h1m-1 1h1m-1 1h1m-1 1h1m-1 1h1m-1 2h1m-1 1h1m-1 1h1m-1 1h1m-1 1h1m-1 1h1m-1 1h1m-1 2h1m-1 2h1m-1 2h1m-1 2h1m-1 1h1m-1 6h1m-1 1h1m-1 3h1m-1 1h1m-1 1h1m-1 2h1m-1 1h1m-1 1h1m-1 1h1m-1 2h1m-1 1h1m-1 1h1m-1 3h1m-1 1h1m-1 1h1m-1 1h1m-1 1h1m-1 2h1m-1 1h1m-1 1h1m-1 1h1m-1 1h1m-1 1h1m-1 1h1m-1 2h1m-1 1h1m-1 1h1m-1 1h1m-1 1h1m-1 4h1m-1 1h1m-1 2h1m-1 4h1m-1 9h1m-1 1h1m-1 17h1m0-133h1m-1 4h1m-1 1h1m-1 1h1m-1 2h1m-1 1h1m-1 1h1m-1 1h1m-1 1h1m-1 1h1m-1 1h1m-1 1h1m-1 1h1m-1 1h1m-1 1h1m-1 1h1m-1 3h1m-1 1h1m-1 1h1m-1 1h1m-1 1h1m-1 1h1m-1 1h1m-1 1h1m-1 1h1m-1 1h1m-1 2h1m-1 1h1m-1 1h1m-1 1h1m-1 1h1m-1 1h1m-1 1h1m-1 1h1m-1 2h1m-1 1h1m-1 3h1m-1 2h1m-1 1h1m-1 3h1m-1 1h1m-1 3h1m-1 1h1m-1 1h1m-1 4h1m-1 1h1m-1 1h1m-1 2h1m-1 1h1m-1 2h1m-1 2h1m-1 1h1m-1 1h1m-1 1h1m-1 2h1m-1 1h1m-1 1h1m-1 1h1m-1 1h1m-1 2h1m-1 2h1m-1 1h1m-1 2h1m-1 1h1m-1 1h1m-1 2h1m-1 1h1m-1 1h1m-1 1h1m-1 2h1m-1 1h1m-1 3h1m-1 1h1m-1 1h1m-1 6h1m-1 5h1m-1 28h1m0-141h1m-1 2h1m-1 1h1m-1 3h1m-1 2h1m-1 1h1m-1 1h1m-1 1h1m-1 2h1m-1 1h1m-1 2h1m-1 1h1m-1 1h1m-1 2h1m-1 1h1m-1 1h1m-1 1h1m-1 1h1m-1 1h1m-1 1h1m-1 1h1m-1 2h1m-1 1h1m-1 1h1m-1 1h1m-1 1h1m-1 1h1m-1 1h1m-1 1h1m-1 1h1m-1 1h1m-1 1h1m-1 1h1m-1 1h1m-1 1h1m-1 5h1m-1 2h1m-1 1h1m-1 3h1m-1 3h1m-1 2h1m-1 3h1m-1 1h1m-1 2h1m-1 2h1m-1 3h1m-1 1h1m-1 2h1m-1 1h1m-1 1h1m-1 1h1m-1 1h1m-1 3h1m-1 1h1m-1 1h1m-1 1h1m-1 2h1m-1 1h1m-1 1h1m-1 3h1m-1 1h1m-1 1h1m-1 1h1m-1 2h1m-1 2h1m-1 1h1m-1 1h1m-1 3h1m-1 2h1m-1 1h1m-1 13h1m-1 12h1m-1 14h1m0-143h1m-1 3h1m-1 2h1m-1 1h1m-1 4h1m-1 1h1m-1 1h1m-1 1h1m-1 1h1m-1 1h1m-1 1h1m-1 1h1m-1 1h1m-1 1h1m-1 1h1m-1 1h1m-1 1h1m-1 1h1m-1 1h1m-1 1h1m-1 1h1m-1 1h1m-1 1h1m-1 1h1m-1 1h1m-1 1h1m-1 1h1m-1 1h1m-1 1h1m-1 1h1m-1 1h1m-1 2h1m-1 1h1m-1 1h1m-1 1h1m-1 3h1m-1 1h1m-1 3h1m-1 3h1m-1 2h1m-1 3h1m-1 2h1m-1 1h1m-1 2h1m-1 2h1m-1 1h1m-1 1h1m-1 2h1m-1 1h1m-1 1h1m-1 1h1m-1 1h1m-1 1h1m-1 2h1m-1 1h1m-1 2h1m-1 3h1m-1 1h1m-1 2h1m-1 2h1m-1 1h1m-1 1h1m-1 1h1m-1 1h1m-1 4h1m-1 1h1m-1 2h1m-1 1h1m-1 11h1m-1 4h1m-1 3h1m-1 1h1m-1 3h1m-1 8h1m-1 1h1m-1 1h1m0-129h1m-1 7h1m-1 1h1m-1 1h1m-1 3h1m-1 1h1m-1 1h1m-1 3h1m-1 1h1m-1 1h1m-1 1h1m-1 1h1m-1 1h1m-1 1h1m-1 1h1m-1 1h1m-1 1h1m-1 1h1m-1 2h1m-1 1h1m-1 1h1m-1 1h1m-1 1h1m-1 1h1m-1 1h1m-1 1h1m-1 1h1m-1 1h1m-1 1h1m-1 1h1m-1 2h1m-1 1h1m-1 3h1m-1 1h1m-1 3h1m-1 6h1m-1 1h1m-1 2h1m-1 2h1m-1 3h1m-1 1h1m-1 1h1m-1 1h1m-1 1h1m-1 2h1m-1 1h1m-1 1h1m-1 2h1m-1 1h1m-1 1h1m-1 1h1m-1 2h1m-1 1h1m-1 1h1m-1 1h1m-1 1h1m-1 1h1m-1 1h1m-1 1h1m-1 1h1m-1 1h1m-1 2h1m-1 1h1m-1 1h1m-1 2h1m-1 1h1m-1 2h1m-1 4h1m-1 1h1m-1 1h1m-1 2h1m-1 3h1m-1 1h1m-1 2h1m-1 3h1m-1 1h1m-1 5h1m-1 2h1m0-122h1m-1 7h1m-1 1h1m-1 1h1m-1 1h1m-1 1h1m-1 1h1m-1 2h1m-1 1h1m-1 1h1m-1 1h1m-1 1h1m-1 1h1m-1 1h1m-1 1h1m-1 1h1m-1 1h1m-1 1h1m-1 1h1m-1 1h1m-1 1h1m-1 1h1m-1 1h1m-1 1h1m-1 1h1m-1 1h1m-1 1h1m-1 1h1m-1 1h1m-1 1h1m-1 1h1m-1 1h1m-1 1h1m-1 1h1m-1 1h1m-1 1h1m-1 1h1m-1 1h1m-1 1h1m-1 1h1m-1 1h1m-1 4h1m-1 2h1m-1 6h1m-1 5h1m-1 2h1m-1 5h1m-1 1h1m-1 1h1m-1 2h1m-1 2h1m-1 1h1m-1 1h1m-1 1h1m-1 1h1m-1 3h1m-1 1h1m-1 1h1m-1 1h1m-1 1h1m-1 3h1m-1 1h1m-1 1h1m-1 1h1m-1 1h1m-1 1h1m-1 3h1m-1 1h1m-1 2h1m-1 1h1m-1 11h1m-1 5h1m-1 14h1m-1 11h1m0-144h1m-1 1h1m-1 1h1m-1 1h1m-1 1h1m-1 3h1m-1 2h1m-1 2h1m-1 1h1m-1 1h1m-1 1h1m-1 2h1m-1 1h1m-1 1h1m-1 1h1m-1 1h1m-1 1h1m-1 1h1m-1 1h1m-1 1h1m-1 1h1m-1 1h1m-1 1h1m-1 1h1m-1 2h1m-1 1h1m-1 1h1m-1 1h1m-1 1h1m-1 1h1m-1 1h1m-1 1h1m-1 1h1m-1 2h1m-1 1h1m-1 1h1m-1 1h1m-1 1h1m-1 2h1m-1 1h1m-1 1h1m-1 8h1m-1 1h1m-1 4h1m-1 4h1m-1 1h1m-1 1h1m-1 2h1m-1 1h1m-1 2h1m-1 1h1m-1 1h1m-1 1h1m-1 1h1m-1 1h1m-1 1h1m-1 2h1m-1 1h1m-1 2h1m-1 1h1m-1 2h1m-1 1h1m-1 1h1m-1 1h1m-1 2h1m-1 3h1m-1 1h1m-1 3h1m-1 2h1m-1 2h1m-1 7h1m-1 1h1m-1 7h1m-1 4h1m-1 5h1m-1 7h1m-1 11h1m0-144h1m-1 2h1m-1 1h1m-1 2h1m-1 2h1m-1 2h1m-1 2h1m-1 1h1m-1 1h1m-1 2h1m-1 1h1m-1 1h1m-1 1h1m-1 1h1m-1 1h1m-1 1h1m-1 1h1m-1 1h1m-1 1h1m-1 1h1m-1 1h1m-1 1h1m-1 1h1m-1 1h1m-1 2h1m-1 1h1m-1 1h1m-1 1h1m-1 1h1m-1 1h1m-1 1h1m-1 2h1m-1 1h1m-1 1h1m-1 1h1m-1 2h1m-1 1h1m-1 1h1m-1 1h1m-1 2h1m-1 1h1m-1 7h1m-1 3h1m-1 2h1m-1 1h1m-1 6h1m-1 1h1m-1 3h1m-1 3h1m-1 1h1m-1 2h1m-1 1h1m-1 2h1m-1 1h1m-1 1h1m-1 1h1m-1 1h1m-1 1h1m-1 1h1m-1 1h1m-1 2h1m-1 1h1m-1 1h1m-1 1h1m-1 1h1m-1 3h1m-1 3h1m-1 1h1m-1 1h1m-1 1h1m-1 1h1m-1 2h1m-1 3h1m-1 3h1m-1 3h1m-1 4h1m-1 9h1m-1 9h1m-1 6h1m0-144h1m-1 2h1m-1 2h1m-1 1h1m-1 2h1m-1 1h1m-1 1h1m-1 3h1m-1 1h1m-1 1h1m-1 1h1m-1 1h1m-1 1h1m-1 1h1m-1 1h1m-1 1h1m-1 1h1m-1 1h1m-1 1h1m-1 1h1m-1 1h1m-1 2h1m-1 1h1m-1 1h1m-1 1h1m-1 1h1m-1 1h1m-1 1h1m-1 1h1m-1 1h1m-1 2h1m-1 1h1m-1 1h1m-1 1h1m-1 2h1m-1 1h1m-1 3h1m-1 2h1m-1 3h1m-1 2h1m-1 3h1m-1 2h1m-1 1h1m-1 2h1m-1 1h1m-1 2h1m-1 3h1m-1 1h1m-1 3h1m-1 2h1m-1 1h1m-1 2h1m-1 1h1m-1 1h1m-1 1h1m-1 1h1m-1 1h1m-1 1h1m-1 1h1m-1 1h1m-1 3h1m-1 2h1m-1 1h1m-1 4h1m-1 2h1m-1 1h1m-1 1h1m-1 1h1m-1 1h1m-1 2h1m-1 7h1m-1 3h1m-1 5h1m-1 1h1m-1 12h1m-1 13h1m0-143h1m-1 1h1m-1 1h1m-1 2h1m-1 1h1m-1 2h1m-1 4h1m-1 2h1m-1 2h1m-1 1h1m-1 1h1m-1 1h1m-1 1h1m-1 1h1m-1 1h1m-1 1h1m-1 1h1m-1 1h1m-1 1h1m-1 2h1m-1 1h1m-1 1h1m-1 1h1m-1 1h1m-1 1h1m-1 1h1m-1 1h1m-1 1h1m-1 1h1m-1 1h1m-1 1h1m-1 1h1m-1 3h1m-1 2h1m-1 1h1m-1 2h1m-1 1h1m-1 7h1m-1 3h1m-1 2h1m-1 5h1m-1 2h1m-1 2h1m-1 1h1m-1 1h1m-1 1h1m-1 1h1m-1 2h1m-1 1h1m-1 2h1m-1 1h1m-1 1h1m-1 1h1m-1 1h1m-1 1h1m-1 1h1m-1 2h1m-1 1h1m-1 2h1m-1 1h1m-1 7h1m-1 2h1m-1 3h1m-1 3h1m-1 2h1m-1 1h1m-1 6h1m-1 6h1m-1 1h1m0-121h1m-1 1h1m-1 1h1m-1 1h1m-1 5h1m-1 1h1m-1 1h1m-1 1h1m-1 1h1m-1 1h1m-1 1h1m-1 1h1m-1 1h1m-1 1h1m-1 1h1m-1 1h1m-1 1h1m-1 1h1m-1 2h1m-1 1h1m-1 1h1m-1 1h1m-1 1h1m-1 1h1m-1 1h1m-1 1h1m-1 1h1m-1 2h1m-1 2h1m-1 1h1m-1 2h1m-1 1h1m-1 1h1m-1 1h1m-1 1h1m-1 1h1m-1 2h1m-1 1h1m-1 2h1m-1 1h1m-1 7h1m-1 1h1m-1 2h1m-1 1h1m-1 2h1m-1 1h1m-1 1h1m-1 1h1m-1 1h1m-1 1h1m-1 1h1m-1 1h1m-1 1h1m-1 1h1m-1 2h1m-1 1h1m-1 1h1m-1 1h1m-1 4h1m-1 1h1m-1 2h1m-1 2h1m-1 1h1m-1 1h1m-1 1h1m-1 2h1m-1 2h1m-1 1h1m-1 3h1m-1 1h1m-1 3h1m-1 5h1m-1 3h1m-1 2h1m-1 14h1m-1 8h1m-1 12h1m0-144h1m-1 2h1m-1 1h1m-1 2h1m-1 1h1m-1 2h1m-1 2h1m-1 1h1m-1 1h1m-1 1h1m-1 1h1m-1 2h1m-1 1h1m-1 1h1m-1 1h1m-1 1h1m-1 1h1m-1 1h1m-1 1h1m-1 1h1m-1 1h1m-1 1h1m-1 1h1m-1 1h1m-1 1h1m-1 1h1m-1 1h1m-1 1h1m-1 1h1m-1 3h1m-1 1h1m-1 1h1m-1 1h1m-1 2h1m-1 1h1m-1 1h1m-1 1h1m-1 1h1m-1 1h1m-1 2h1m-1 3h1m-1 1h1m-1 1h1m-1 1h1m-1 3h1m-1 1h1m-1 3h1m-1 1h1m-1 2h1m-1 3h1m-1 1h1m-1 2h1m-1 1h1m-1 1h1m-1 2h1m-1 2h1m-1 1h1m-1 1h1m-1 1h1m-1 1h1m-1 1h1m-1 1h1m-1 1h1m-1 2h1m-1 2h1m-1 1h1m-1 2h1m-1 1h1m-1 2h1m-1 1h1m-1 1h1m-1 1h1m-1 1h1m-1 2h1m-1 2h1m-1 2h1m-1 1h1m-1 1h1m-1 8h1m-1 3h1m-1 5h1m-1 4h1m-1 2h1m-1 1h1m-1 4h1m0-132h1m-1 2h1m-1 2h1m-1 2h1m-1 1h1m-1 1h1m-1 1h1m-1 3h1m-1 1h1m-1 1h1m-1 1h1m-1 1h1m-1 1h1m-1 1h1m-1 1h1m-1 1h1m-1 1h1m-1 1h1m-1 1h1m-1 2h1m-1 2h1m-1 1h1m-1 1h1m-1 1h1m-1 1h1m-1 1h1m-1 1h1m-1 1h1m-1 1h1m-1 1h1m-1 1h1m-1 1h1m-1 1h1m-1 1h1m-1 1h1m-1 4h1m-1 1h1m-1 5h1m-1 1h1m-1 2h1m-1 5h1m-1 1h1m-1 2h1m-1 3h1m-1 1h1m-1 3h1m-1 1h1m-1 3h1m-1 1h1m-1 1h1m-1 2h1m-1 1h1m-1 1h1m-1 3h1m-1 1h1m-1 1h1m-1 1h1m-1 2h1m-1 1h1m-1 1h1m-1 1h1m-1 2h1m-1 1h1m-1 7h1m-1 2h1m-1 3h1m-1 7h1m-1 1h1m-1 5h1m-1 18h1m0-136h1m-1 4h1m-1 1h1m-1 1h1m-1 1h1m-1 1h1m-1 1h1m-1 2h1m-1 1h1m-1 1h1m-1 1h1m-1 2h1m-1 1h1m-1 1h1m-1 1h1m-1 1h1m-1 1h1m-1 2h1m-1 1h1m-1 1h1m-1 1h1m-1 1h1m-1 1h1m-1 1h1m-1 1h1m-1 1h1m-1 1h1m-1 1h1m-1 3h1m-1 1h1m-1 1h1m-1 2h1m-1 1h1m-1 1h1m-1 2h1m-1 2h1m-1 1h1m-1 1h1m-1 1h1m-1 1h1m-1 2h1m-1 2h1m-1 2h1m-1 2h1m-1 2h1m-1 1h1m-1 1h1m-1 2h1m-1 2h1m-1 1h1m-1 2h1m-1 5h1m-1 1h1m-1 1h1m-1 1h1m-1 1h1m-1 1h1m-1 1h1m-1 2h1m-1 1h1m-1 1h1m-1 1h1m-1 1h1m-1 1h1m-1 1h1m-1 1h1m-1 1h1m-1 2h1m-1 3h1m-1 1h1m-1 1h1m-1 5h1m-1 6h1m-1 6h1m-1 5h1m-1 1h1m-1 8h1m-1 3h1m-1 7h1m-1 3h1m0-141h1m-1 5h1m-1 1h1m-1 1h1m-1 1h1m-1 3h1m-1 2h1m-1 3h1m-1 1h1m-1 1h1m-1 1h1m-1 1h1m-1 1h1m-1 2h1m-1 1h1m-1 1h1m-1 1h1m-1 1h1m-1 1h1m-1 1h1m-1 1h1m-1 1h1m-1 1h1m-1 1h1m-1 1h1m-1 1h1m-1 2h1m-1 3h1m-1 1h1m-1 4h1m-1 1h1m-1 2h1m-1 1h1m-1 2h1m-1 1h1m-1 1h1m-1 1h1m-1 1h1m-1 1h1m-1 3h1m-1 6h1m-1 2h1m-1 1h1m-1 2h1m-1 1h1m-1 1h1m-1 1h1m-1 1h1m-1 1h1m-1 1h1m-1 1h1m-1 1h1m-1 1h1m-1 1h1m-1 2h1m-1 1h1m-1 2h1m-1 1h1m-1 2h1m-1 1h1m-1 1h1m-1 2h1m-1 3h1m-1 2h1m-1 1h1m-1 1h1m-1 1h1m-1 2h1m-1 2h1m-1 2h1m-1 2h1m-1 1h1m-1 3h1m-1 4h1m-1 3h1m-1 4h1m-1 1h1m-1 17h1m-1 3h1m0-144h1m-1 1h1m-1 1h1m-1 2h1m-1 2h1m-1 1h1m-1 2h1m-1 2h1m-1 1h1m-1 2h1m-1 2h1m-1 1h1m-1 1h1m-1 1h1m-1 1h1m-1 1h1m-1 1h1m-1 4h1m-1 1h1m-1 1h1m-1 1h1m-1 1h1m-1 1h1m-1 3h1m-1 2h1m-1 1h1m-1 1h1m-1 1h1m-1 1h1m-1 1h1m-1 1h1m-1 2h1m-1 1h1m-1 1h1m-1 2h1m-1 1h1m-1 4h1m-1 4h1m-1 3h1m-1 2h1m-1 3h1m-1 2h1m-1 1h1m-1 4h1m-1 3h1m-1 1h1m-1 1h1m-1 1h1m-1 1h1m-1 1h1m-1 1h1m-1 1h1m-1 1h1m-1 1h1m-1 1h1m-1 1h1m-1 1h1m-1 1h1m-1 1h1m-1 1h1m-1 1h1m-1 3h1m-1 2h1m-1 2h1m-1 3h1m-1 4h1m-1 1h1m-1 1h1m-1 4h1m-1 4h1m-1 3h1m-1 2h1m-1 3h1m-1 3h1m-1 2h1m-1 5h1m-1 11h1m0-140h1m-1 2h1m-1 1h1m-1 4h1m-1 1h1m-1 1h1m-1 2h1m-1 1h1m-1 1h1m-1 1h1m-1 1h1m-1 1h1m-1 2h1m-1 1h1m-1 1h1m-1 1h1m-1 1h1m-1 1h1m-1 1h1m-1 2h1m-1 1h1m-1 2h1m-1 1h1m-1 1h1m-1 1h1m-1 1h1m-1 1h1m-1 2h1m-1 4h1m-1 1h1m-1 2h1m-1 1h1m-1 2h1m-1 1h1m-1 1h1m-1 3h1m-1 4h1m-1 3h1m-1 1h1m-1 3h1m-1 1h1m-1 1h1m-1 1h1m-1 1h1m-1 1h1m-1 1h1m-1 2h1m-1 2h1m-1 2h1m-1 3h1m-1 1h1m-1 1h1m-1 1h1m-1 1h1m-1 2h1m-1 1h1m-1 3h1m-1 1h1m-1 1h1m-1 4h1m-1 2h1m-1 1h1m-1 1h1m-1 2h1m-1 8h1m-1 1h1m-1 3h1m-1 1h1m-1 2h1m-1 14h1m-1 11h1m-1 1h1m0-144h1m-1 3h1m-1 1h1m-1 1h1m-1 2h1m-1 1h1m-1 2h1m-1 3h1m-1 2h1m-1 1h1m-1 2h1m-1 1h1m-1 1h1m-1 1h1m-1 1h1m-1 1h1m-1 1h1m-1 1h1m-1 1h1m-1 1h1m-1 1h1m-1 1h1m-1 1h1m-1 1h1m-1 2h1m-1 1h1m-1 2h1m-1 2h1m-1 2h1m-1 7h1m-1 1h1m-1 1h1m-1 1h1m-1 4h1m-1 2h1m-1 3h1m-1 2h1m-1 3h1m-1 3h1m-1 6h1m-1 1h1m-1 1h1m-1 1h1m-1 3h1m-1 1h1m-1 2h1m-1 1h1m-1 2h1m-1 1h1m-1 1h1m-1 1h1m-1 2h1m-1 8h1m-1 3h1m-1 1h1m-1 3h1m-1 1h1m-1 2h1m-1 5h1m-1 5h1m-1 2h1m-1 2h1m-1 4h1m-1 1h1m-1 6h1m-1 3h1m-1 2h1m-1 1h1m-1 5h1m0-144h1m-1 1h1m-1 1h1m-1 1h1m-1 1h1m-1 2h1m-1 3h1m-1 2h1m-1 2h1m-1 1h1m-1 1h1m-1 1h1m-1 1h1m-1 2h1m-1 2h1m-1 1h1m-1 1h1m-1 2h1m-1 2h1m-1 1h1m-1 1h1m-1 1h1m-1 1h1m-1 2h1m-1 2h1m-1 1h1m-1 1h1m-1 1h1m-1 2h1m-1 2h1m-1 1h1m-1 1h1m-1 1h1m-1 3h1m-1 5h1m-1 3h1m-1 2h1m-1 4h1m-1 1h1m-1 3h1m-1 1h1m-1 2h1m-1 1h1m-1 1h1m-1 1h1m-1 1h1m-1 1h1m-1 5h1m-1 1h1m-1 2h1m-1 2h1m-1 1h1m-1 1h1m-1 3h1m-1 1h1m-1 3h1m-1 3h1m-1 3h1m-1 3h1m-1 3h1m-1 27h1m-1 3h1m0-135h1m-1 3h1m-1 2h1m-1 2h1m-1 2h1m-1 1h1m-1 1h1m-1 1h1m-1 2h1m-1 1h1m-1 1h1m-1 1h1m-1 2h1m-1 1h1m-1 1h1m-1 1h1m-1 1h1m-1 3h1m-1 2h1m-1 2h1m-1 1h1m-1 1h1m-1 1h1m-1 3h1m-1 2h1m-1 2h1m-1 3h1m-1 4h1m-1 1h1m-1 2h1m-1 6h1m-1 1h1m-1 2h1m-1 2h1m-1 5h1m-1 2h1m-1 1h1m-1 1h1m-1 1h1m-1 1h1m-1 1h1m-1 1h1m-1 1h1m-1 2h1m-1 1h1m-1 1h1m-1 1h1m-1 5h1m-1 4h1m-1 1h1m-1 5h1m-1 2h1m-1 1h1m-1 1h1m-1 5h1m-1 4h1m-1 3h1m-1 2h1m-1 6h1m-1 1h1m-1 5h1m-1 3h1m-1 3h1m-1 3h1m-1 3h1m0-137h1m-1 5h1m-1 2h1m-1 1h1m-1 1h1m-1 1h1m-1 1h1m-1 1h1m-1 1h1m-1 1h1m-1 1h1m-1 1h1m-1 1h1m-1 1h1m-1 1h1m-1 1h1m-1 2h1m-1 1h1m-1 1h1m-1 2h1m-1 3h1m-1 2h1m-1 2h1m-1 1h1m-1 1h1m-1 1h1m-1 3h1m-1 1h1m-1 2h1m-1 2h1m-1 1h1m-1 2h1m-1 5h1m-1 5h1m-1 2h1m-1 6h1m-1 1h1m-1 2h1m-1 2h1m-1 2h1m-1 1h1m-1 1h1m-1 3h1m-1 1h1m-1 1h1m-1 5h1m-1 2h1m-1 5h1m-1 1h1m-1 2h1m-1 12h1m-1 1h1m-1 3h1m-1 1h1m-1 2h1m-1 11h1m-1 1h1m0-125h1m-1 7h1m-1 2h1m-1 1h1m-1 2h1m-1 4h1m-1 1h1m-1 1h1m-1 1h1m-1 1h1m-1 1h1m-1 4h1m-1 1h1m-1 1h1m-1 3h1m-1 1h1m-1 1h1m-1 1h1m-1 3h1m-1 3h1m-1 1h1m-1 1h1m-1 8h1m-1 2h1m-1 2h1m-1 5h1m-1 1h1m-1 2h1m-1 1h1m-1 1h1m-1 4h1m-1 2h1m-1 1h1m-1 2h1m-1 1h1m-1 5h1m-1 3h1m-1 1h1m-1 1h1m-1 7h1m-1 1h1m-1 2h1m-1 4h1m-1 2h1m-1 1h1m-1 2h1m-1 1h1m-1 3h1m-1 10h1m0-116h1m-1 4h1m-1 3h1m-1 2h1m-1 1h1m-1 2h1m-1 2h1m-1 2h1m-1 2h1m-1 1h1m-1 1h1m-1 3h1m-1 1h1m-1 1h1m-1 1h1m-1 1h1m-1 1h1m-1 1h1m-1 2h1m-1 4h1m-1 3h1m-1 1h1m-1 9h1m-1 7h1m-1 1h1m-1 3h1m-1 2h1m-1 4h1m-1 1h1m-1 3h1m-1 3h1m-1 3h1m-1 1h1m-1 2h1m-1 1h1m-1 1h1m-1 1h1m-1 1h1m-1 1h1m-1 2h1m-1 1h1m-1 1h1m-1 4h1m-1 1h1m-1 2h1m-1 1h1m-1 1h1m-1 3h1m-1 2h1m-1 1h1m-1 1h1m-1 1h1m-1 4h1m-1 2h1m-1 3h1m-1 6h1m-1 10h1m0-129h1m-1 9h1m-1 1h1m-1 2h1m-1 3h1m-1 1h1m-1 1h1m-1 2h1m-1 3h1m-1 1h1m-1 1h1m-1 1h1m-1 2h1m-1 1h1m-1 2h1m-1 2h1m-1 3h1m-1 2h1m-1 2h1m-1 12h1m-1 3h1m-1 8h1m-1 1h1m-1 7h1m-1 1h1m-1 1h1m-1 1h1m-1 8h1m-1 1h1m-1 1h1m-1 2h1m-1 5h1m-1 1h1m-1 1h1m-1 1h1m-1 2h1m-1 9h1m-1 1h1m-1 1h1m-1 18h1m-1 11h1m0-135h1m-1 5h1m-1 8h1m-1 1h1m-1 2h1m-1 2h1m-1 1h1m-1 11h1m-1 2h1m-1 2h1m-1 3h1m-1 2h1m-1 4h1m-1 1h1m-1 3h1m-1 14h1m-1 1h1m-1 1h1m-1 4h1m-1 3h1m-1 6h1m-1 4h1m-1 1h1m-1 1h1m-1 1h1m-1 1h1m-1 1h1m-1 8h1m-1 1h1m-1 1h1m-1 3h1m-1 8h1m-1 5h1m-1 1h1m-1 3h1m-1 29h1m0-144h1m-1 14h1m-1 1h1m-1 1h1m-1 1h1m-1 3h1m-1 4h1m-1 1h1m-1 2h1m-1 1h1m-1 2h1m-1 2h1m-1 4h1m-1 2h1m-1 1h1m-1 1h1m-1 3h1m-1 2h1m-1 2h1m-1 6h1m-1 10h1m-1 2h1m-1 1h1m-1 1h1m-1 1h1m-1 1h1m-1 1h1m-1 2h1m-1 1h1m-1 5h1m-1 1h1m-1 3h1m-1 1h1m-1 1h1m-1 1h1m-1 2h1m-1 2h1m-1 1h1m-1 3h1m-1 3h1m-1 2h1m-1 4h1m-1 6h1m-1 20h1m-1 5h1m-1 11h1m0-138h1m-1 9h1m-1 1h1m-1 1h1m-1 1h1m-1 2h1m-1 1h1m-1 3h1m-1 3h1m-1 1h1m-1 2h1m-1 2h1m-1 2h1m-1 1h1m-1 3h1m-1 3h1m-1 11h1m-1 3h1m-1 5h1m-1 3h1m-1 1h1m-1 3h1m-1 2h1m-1 1h1m-1 1h1m-1 4h1m-1 4h1m-1 1h1m-1 7h1m-1 3h1m-1 2h1m-1 2h1m-1 3h1m-1 3h1m-1 6h1m-1 1h1m-1 10h1m-1 3h1m-1 4h1m-1 14h1m-1 1h1m0-133h1m-1 2h1m-1 1h1m-1 6h1m-1 1h1m-1 5h1m-1 3h1m-1 3h1m-1 1h1m-1 3h1m-1 1h1m-1 7h1m-1 4h1m-1 1h1m-1 3h1m-1 3h1m-1 10h1m-1 1h1m-1 1h1m-1 1h1m-1 2h1m-1 1h1m-1 1h1m-1 1h1m-1 4h1m-1 2h1m-1 1h1m-1 6h1m-1 1h1m-1 4h1m-1 1h1m-1 3h1m-1 2h1m-1 4h1m-1 3h1m-1 8h1m-1 2h1m-1 1h1m-1 5h1m-1 3h1m-1 3h1m-1 2h1m-1 2h1m-1 4h1m-1 2h1m0-129h1m-1 14h1m-1 1h1m-1 3h1m-1 1h1m-1 1h1m-1 2h1m-1 1h1m-1 4h1m-1 2h1m-1 2h1m-1 2h1m-1 2h1m-1 1h1m-1 6h1m-1 2h1m-1 5h1m-1 5h1m-1 5h1m-1 2h1m-1 1h1m-1 4h1m-1 1h1m-1 1h1m-1 2h1m-1 4h1m-1 1h1m-1 3h1m-1 1h1m-1 1h1m-1 1h1m-1 1h1m-1 2h1m-1 1h1m-1 1h1m-1 2h1m-1 2h1m-1 2h1m-1 4h1m-1 1h1m-1 2h1m-1 3h1m-1 3h1m-1 2h1m-1 2h1m-1 4h1m-1 2h1m-1 6h1m-1 6h1m-1 6h1m0-135h1m-1 2h1m-1 10h1m-1 3h1m-1 4h1m-1 1h1m-1 1h1m-1 1h1m-1 2h1m-1 1h1m-1 4h1m-1 6h1m-1 1h1m-1 9h1m-1 5h1m-1 3h1m-1 3h1m-1 8h1m-1 2h1m-1 1h1m-1 1h1m-1 3h1m-1 2h1m-1 5h1m-1 1h1m-1 5h1m-1 4h1m-1 10h1m-1 8h1m-1 2h1m-1 6h1m-1 1h1m-1 1h1m-1 1h1m-1 2h1m-1 7h1m0-126h1m-1 10h1m-1 2h1m-1 1h1m-1 4h1m-1 2h1m-1 2h1m-1 2h1m-1 1h1m-1 7h1m-1 2h1m-1 1h1m-1 2h1m-1 5h1m-1 5h1m-1 1h1m-1 3h1m-1 4h1m-1 5h1m-1 4h1m-1 2h1m-1 3h1m-1 2h1m-1 1h1m-1 1h1m-1 5h1m-1 1h1m-1 1h1m-1 1h1m-1 4h1m-1 2h1m-1 1h1m-1 1h1m-1 1h1m-1 3h1m-1 2h1m-1 1h1m-1 4h1m-1 2h1m-1 2h1m-1 6h1m-1 2h1m-1 2h1m-1 4h1m-1 9h1m0-126h1m-1 4h1m-1 1h1m-1 4h1m-1 6h1m-1 2h1m-1 3h1m-1 2h1m-1 1h1m-1 2h1m-1 1h1m-1 1h1m-1 4h1m-1 4h1m-1 2h1m-1 1h1m-1 1h1m-1 9h1m-1 4h1m-1 6h1m-1 7h1m-1 3h1m-1 3h1m-1 2h1m-1 2h1m-1 2h1m-1 1h1m-1 1h1m-1 1h1m-1 1h1m-1 3h1m-1 3h1m-1 5h1m-1 3h1m-1 5h1m-1 9h1m-1 3h1m-1 4h1m-1 15h1m0-131h1m-1 8h1m-1 7h1m-1 3h1m-1 2h1m-1 1h1m-1 2h1m-1 1h1m-1 1h1m-1 1h1m-1 2h1m-1 1h1m-1 9h1m-1 5h1m-1 2h1m-1 1h1m-1 1h1m-1 2h1m-1 1h1m-1 8h1m-1 3h1m-1 1h1m-1 6h1m-1 1h1m-1 1h1m-1 1h1m-1 1h1m-1 1h1m-1 1h1m-1 1h1m-1 1h1m-1 1h1m-1 2h1m-1 1h1m-1 1h1m-1 1h1m-1 2h1m-1 4h1m-1 2h1m-1 1h1m-1 2h1m-1 2h1m-1 1h1m-1 4h1m-1 4h1m-1 5h1m-1 9h1m-1 3h1m-1 2h1m-1 10h1m0-133h1m-1 16h1m-1 3h1m-1 1h1m-1 6h1m-1 13h1m-1 1h1m-1 12h1m-1 1h1m-1 4h1m-1 2h1m-1 1h1m-1 1h1m-1 1h1m-1 4h1m-1 3h1m-1 5h1m-1 1h1m-1 1h1m-1 1h1m-1 2h1m-1 1h1m-1 1h1m-1 1h1m-1 1h1m-1 1h1m-1 1h1m-1 3h1m-1 2h1m-1 2h1m-1 4h1m-1 2h1m-1 2h1m-1 3h1m-1 1h1m-1 2h1m-1 1h1m-1 7h1m-1 2h1m-1 5h1m-1 2h1m-1 6h1m0-121h1m-1 7h1m-1 2h1m-1 6h1m-1 2h1m-1 1h1m-1 2h1m-1 2h1m-1 2h1m-1 2h1m-1 6h1m-1 4h1m-1 6h1m-1 1h1m-1 7h1m-1 2h1m-1 1h1m-1 3h1m-1 4h1m-1 1h1m-1 1h1m-1 1h1m-1 1h1m-1 2h1m-1 1h1m-1 1h1m-1 1h1m-1 1h1m-1 2h1m-1 1h1m-1 1h1m-1 1h1m-1 1h1m-1 1h1m-1 1h1m-1 2h1m-1 1h1m-1 1h1m-1 3h1m-1 1h1m-1 2h1m-1 3h1m-1 7h1m-1 8h1m-1 5h1m-1 2h1m-1 11h1m0-132h1m-1 14h1m-1 9h1m-1 2h1m-1 2h1m-1 1h1m-1 2h1m-1 1h1m-1 1h1m-1 5h1m-1 1h1m-1 1h1m-1 1h1m-1 2h1m-1 2h1m-1 2h1m-1 1h1m-1 4h1m-1 2h1m-1 1h1m-1 2h1m-1 3h1m-1 2h1m-1 9h1m-1 1h1m-1 1h1m-1 3h1m-1 2h1m-1 1h1m-1 1h1m-1 3h1m-1 2h1m-1 1h1m-1 1h1m-1 2h1m-1 3h1m-1 2h1m-1 1h1m-1 1h1m-1 4h1m-1 1h1m-1 9h1m-1 5h1m-1 2h1m-1 1h1m-1 1h1m-1 7h1m0-125h1m-1 4h1m-1 5h1m-1 13h1m-1 2h1m-1 11h1m-1 13h1m-1 13h1m-1 2h1m-1 1h1m-1 2h1m-1 1h1m-1 2h1m-1 1h1m-1 1h1m-1 1h1m-1 1h1m-1 1h1m-1 1h1m-1 2h1m-1 1h1m-1 2h1m-1 1h1m-1 1h1m-1 1h1m-1 3h1m-1 1h1m-1 2h1m-1 9h1m-1 4h1m-1 1h1m-1 2h1m-1 2h1m-1 13h1m-1 4h1m-1 20h1m0-134h1m-1 10h1m-1 7h1m-1 1h1m-1 1h1m-1 8h1m-1 3h1m-1 15h1m-1 1h1m-1 2h1m-1 1h1m-1 1h1m-1 5h1m-1 1h1m-1 1h1m-1 2h1m-1 2h1m-1 1h1m-1 2h1m-1 1h1m-1 1h1m-1 1h1m-1 1h1m-1 1h1m-1 1h1m-1 2h1m-1 1h1m-1 1h1m-1 6h1m-1 1h1m-1 1h1m-1 1h1m-1 2h1m-1 3h1m-1 1h1m-1 21h1m-1 2h1m-1 2h1m0-121h1m-1 7h1m-1 4h1m-1 4h1m-1 6h1m-1 1h1m-1 19h1m-1 1h1m-1 6h1m-1 9h1m-1 1h1m-1 2h1m-1 4h1m-1 1h1m-1 2h1m-1 1h1m-1 1h1m-1 1h1m-1 1h1m-1 1h1m-1 1h1m-1 1h1m-1 2h1m-1 1h1m-1 2h1m-1 1h1m-1 1h1m-1 1h1m-1 1h1m-1 1h1m-1 1h1m-1 3h1m-1 3h1m-1 1h1m-1 3h1m-1 6h1m-1 1h1m-1 2h1m-1 12h1m-1 8h1m-1 3h1m-1 3h1m0-126h1m-1 17h1m-1 5h1m-1 8h1m-1 5h1m-1 7h1m-1 9h1m-1 1h1m-1 1h1m-1 1h1m-1 2h1m-1 1h1m-1 1h1m-1 1h1m-1 1h1m-1 2h1m-1 1h1m-1 2h1m-1 1h1m-1 2h1m-1 1h1m-1 1h1m-1 2h1m-1 2h1m-1 1h1m-1 1h1m-1 1h1m-1 1h1m-1 1h1m-1 1h1m-1 1h1m-1 1h1m-1 1h1m-1 1h1m-1 1h1m-1 1h1m-1 5h1m-1 1h1m-1 1h1m-1 1h1m-1 1h1m-1 10h1m-1 1h1m-1 5h1m-1 26h1m0-141h1m-1 14h1m-1 1h1m-1 2h1m-1 2h1m-1 6h1m-1 2h1m-1 16h1m-1 1h1m-1 7h1m-1 3h1m-1 6h1m-1 1h1m-1 1h1m-1 1h1m-1 2h1m-1 2h1m-1 1h1m-1 1h1m-1 1h1m-1 2h1m-1 1h1m-1 2h1m-1 1h1m-1 1h1m-1 1h1m-1 1h1m-1 1h1m-1 2h1m-1 2h1m-1 3h1m-1 1h1m-1 2h1m-1 2h1m-1 1h1m-1 8h1m-1 2h1m-1 5h1m-1 3h1m-1 4h1m-1 26h1m0-125h1m-1 7h1m-1 5h1m-1 2h1m-1 3h1m-1 5h1m-1 5h1m-1 4h1m-1 1h1m-1 4h1m-1 1h1m-1 2h1m-1 2h1m-1 2h1m-1 5h1m-1 1h1m-1 1h1m-1 1h1m-1 2h1m-1 2h1m-1 1h1m-1 1h1m-1 3h1m-1 1h1m-1 2h1m-1 1h1m-1 1h1m-1 1h1m-1 2h1m-1 1h1m-1 1h1m-1 3h1m-1 4h1m-1 3h1m-1 7h1m-1 4h1m-1 25h1m-1 4h1m0-139h1m-1 20h1m-1 4h1m-1 18h1m-1 5h1m-1 1h1m-1 13h1m-1 1h1m-1 4h1m-1 5h1m-1 3h1m-1 1h1m-1 1h1m-1 2h1m-1 1h1m-1 1h1m-1 1h1m-1 1h1m-1 1h1m-1 1h1m-1 1h1m-1 1h1m-1 3h1m-1 1h1m-1 2h1m-1 4h1m-1 3h1m-1 2h1m-1 1h1m-1 9h1m-1 10h1m-1 5h1m0-121h1m-1 10h1m-1 9h1m-1 3h1m-1 4h1m-1 1h1m-1 24h1m-1 1h1m-1 4h1m-1 1h1m-1 1h1m-1 1h1m-1 5h1m-1 1h1m-1 1h1m-1 2h1m-1 1h1m-1 2h1m-1 1h1m-1 1h1m-1 1h1m-1 1h1m-1 1h1m-1 1h1m-1 1h1m-1 2h1m-1 1h1m-1 1h1m-1 1h1m-1 1h1m-1 1h1m-1 1h1m-1 2h1m-1 1h1m-1 2h1m-1 1h1m-1 1h1m-1 3h1m-1 2h1m-1 9h1m-1 6h1m-1 1h1m0-103h1m-1 3h1m-1 14h1m-1 20h1m-1 3h1m-1 2h1m-1 5h1m-1 1h1m-1 1h1m-1 2h1m-1 2h1m-1 1h1m-1 2h1m-1 1h1m-1 2h1m-1 1h1m-1 1h1m-1 1h1m-1 1h1m-1 1h1m-1 6h1m-1 1h1m-1 1h1m-1 2h1m-1 2h1m-1 2h1m-1 4h1m-1 1h1m-1 13h1m0-89h1m-1 21h1m-1 13h1m-1 1h1m-1 2h1m-1 4h1m-1 1h1m-1 2h1m-1 1h1m-1 1h1m-1 1h1m-1 1h1m-1 5h1m-1 1h1m-1 1h1m-1 1h1m-1 1h1m-1 2h1m-1 1h1m-1 1h1m-1 3h1m-1 1h1m-1 1h1m-1 1h1m-1 1h1m-1 2h1m-1 2h1m-1 2h1m-1 28h1m0-118h1m-1 13h1m-1 6h1m-1 19h1m-1 3h1m-1 7h1m-1 11h1m-1 1h1m-1 1h1m-1 1h1m-1 2h1m-1 1h1m-1 1h1m-1 1h1m-1 1h1m-1 1h1m-1 1h1m-1 1h1m-1 1h1m-1 1h1m-1 1h1m-1 1h1m-1 1h1m-1 1h1m-1 1h1m-1 1h1m-1 1h1m-1 4h1m-1 1h1m-1 2h1m-1 14h1m-1 3h1m-1 4h1m-1 6h1m0-82h1m-1 7h1m-1 4h1m-1 6h1m-1 3h1m-1 6h1m-1 2h1m-1 1h1m-1 1h1m-1 1h1m-1 1h1m-1 2h1m-1 1h1m-1 1h1m-1 1h1m-1 1h1m-1 1h1m-1 2h1m-1 2h1m-1 2h1m-1 4h1m-1 2h1m-1 1h1m-1 1h1m-1 5h1m-1 2h1m0-85h1m-1 1h1m-1 36h1m-1 2h1m-1 5h1m-1 1h1m-1 2h1m-1 2h1m-1 3h1m-1 1h1m-1 1h1m-1 1h1m-1 5h1m-1 1h1m-1 1h1m-1 2h1m-1 4h1m-1 1h1m-1 2h1m-1 1h1m-1 3h1m-1 3h1m-1 14h1m-1 7h1m-1 1h1m-1 1h1m0-84h1m-1 7h1m-1 4h1m-1 7h1m-1 5h1m-1 8h1m-1 5h1m-1 2h1m-1 2h1m-1 2h1m-1 1h1m-1 1h1m-1 1h1m-1 2h1m-1 1h1m-1 1h1m-1 2h1m-1 2h1m-1 1h1m-1 1h1m-1 1h1m-1 1h1m-1 3h1m-1 1h1m-1 1h1m-1 2h1m-1 1h1m-1 1h1m-1 40h1m0-131h1m-1 2h1m-1 22h1m-1 28h1m-1 3h1m-1 3h1m-1 5h1m-1 2h1m-1 6h1m-1 1h1m-1 1h1m-1 1h1m-1 1h1m-1 3h1m-1 4h1m-1 1h1m-1 4h1m-1 2h1m0-71h1m-1 27h1m-1 14h1m-1 2h1m-1 2h1m-1 2h1m-1 1h1m-1 1h1m-1 1h1m-1 2h1m-1 2h1m-1 2h1m-1 4h1m-1 2h1m-1 1h1m-1 10h1m-1 1h1m-1 3h1m-1 19h1m0-120h1m-1 26h1m-1 2h1m-1 5h1m-1 1h1m-1 13h1m-1 12h1m-1 3h1m-1 6h1m-1 3h1m-1 3h1m-1 1h1m-1 6h1m-1 2h1m-1 1h1m-1 1h1m-1 2h1m-1 1h1m-1 9h1m-1 3h1m-1 11h1m0-80h1m-1 3h1m-1 9h1m-1 2h1m-1 5h1m-1 3h1m-1 10h1m-1 2h1m-1 1h1m-1 4h1m-1 1h1m-1 1h1m-1 4h1m-1 1h1m-1 1h1m-1 3h1m-1 1h1m-1 1h1m-1 3h1m-1 1h1m-1 3h1m-1 2h1m-1 2h1m-1 1h1m-1 6h1m0-101h1m-1 43h1m-1 9h1m-1 4h1m-1 5h1m-1 5h1m-1 1h1m-1 1h1m-1 1h1m-1 7h1m-1 1h1m-1 1h1m-1 1h1m-1 4h1m-1 2h1m-1 16h1m-1 11h1m0-82h1m-1 34h1m-1 6h1m-1 1h1m-1 2h1m-1 4h1m-1 1h1m-1 1h1m-1 8h1m-1 1h1m-1 4h1m-1 5h1m-1 1h1m-1 1h1m-1 9h1m0-89h1m-1 6h1m-1 5h1m-1 28h1m-1 4h1m-1 7h1m-1 7h1m-1 1h1m-1 2h1m-1 5h1m-1 1h1m-1 3h1m-1 5h1m0-67h1m-1 5h1m-1 16h1m-1 16h1m-1 4h1m-1 3h1m-1 9h1m-1 5h1m-1 2h1m-1 1h1m-1 5h1m-1 3h1m-1 17h1m-1 30h1m0-113h1m-1 16h1m-1 15h1m-1 2h1m-1 9h1m-1 4h1m-1 2h1m-1 13h1m-1 1h1m-1 6h1m-1 10h1m-1 3h1m0-69h1m-1 19h1m-1 6h1m-1 1h1m-1 3h1m-1 3h1m-1 4h1m-1 4h1m-1 7h1m-1 1h1m-1 5h1m-1 9h1m-1 26h1m0-111h1m-1 51h1m-1 2h1m-1 9h1m-1 2h1m-1 6h1m-1 3h1m0-69h1m-1 13h1m-1 37h1m-1 15h1m-1 8h1m-1 28h1m0-104h1m-1 18h1m-1 1h1m-1 4h1m-1 9h1m-1 11h1m-1 11h1m-1 28h1m-1 5h1m-1 8h1m0-49h1m-1 7h1m-1 1h1m-1 11h1m-1 2h1m-1 42h1m0-79h1m-1 33h1m0-20h1m-1 32h1m-1 6h1m0-95h1m-1 12h1m-1 50h1m-1 16h1m-1 17h1m0-73h1m-1 22h1m-1 14h1m-1 36h1m0-25h1m-1 2h1m-1 3h1m0-32h1m-1 20h1m-1 9h1m-1 5h1m1-33h1m-1 8h1m-1 37h1m-1 6h1m-1 3h1m-1 29h1m0-129h1m-1 25h1m-1 21h1m-1 20h1m-1 24h1m-1 28h1m1-120h1m-1 14h1m-1 46h1m-1 44h1m0-104h1m0 89h1m-1 1h1m-1 27h1m0-80h1m-1 23h1m-1 17h1m0-2h1m-1 10h1m3-85h1m-1 34h1m-1 4h1m-1 16h1m-1 7h1m-1 1h1m-1 17h1m-1 27h1" stroke="#000" stroke-opacity="0.9" stroke-width="1.8" fill="none" filter="url(#bl)"/>
</g>
<rect x="440.0" y="28.7" width="75.2" height="74.3" fill="none" stroke="#888" stroke-width="0.8"/>
<line x1="442.0" y1="103.4" x2="514.2" y2="103.4" stroke="#555" stroke-width="1.0" stroke-dasharray="1 6.77 .6 3.76 .6 2.63 .6 2.84"/>
<line x1="439.6" y1="101.0" x2="439.6" y2="29.7" stroke="#555" stroke-width="1.0" stroke-dasharray="1 6.77 .6 3.76 .6 2.63 .6 2.84"/>
<line x1="485.8" y1="28.7" x2="485.8" y2="103.0" stroke="#000" stroke-width="0.7" stroke-opacity=".55"/>
<line x1="440.0" y1="57.0" x2="515.2" y2="57.0" stroke="#000" stroke-width="0.7" stroke-opacity=".55"/>
<text x="442.0" y="32.9" font-size="3.2" text-anchor="start" font-weight="normal" fill="#333" >57.66%</text>
<text x="513.2" y="32.9" font-size="3.2" text-anchor="end" font-weight="normal" fill="#333" >4.12%</text>
<text x="442.0" y="101.2" font-size="3.2" text-anchor="start" font-weight="normal" fill="#333" >24.77%</text>
<text x="513.2" y="101.2" font-size="3.2" text-anchor="end" font-weight="normal" fill="#333" >13.48%</text>
<clipPath id="c96"><rect x="440.0" y="107.6" width="75.2" height="76.2"/></clipPath>
<g clip-path="url(#c96)">
<ellipse cx="472.0" cy="125.5" rx="21.1" ry="16.1" transform="rotate(163 472.0 125.5)" fill="url(#gg)" fill-opacity="1.0"/>
<ellipse cx="472.5" cy="125.0" rx="12.9" ry="11.0" transform="rotate(0 472.5 125.0)" fill="url(#gg)" fill-opacity="1.0"/>
<ellipse cx="461.0" cy="128.0" rx="22.5" ry="16.1" transform="rotate(146 461.0 128.0)" fill="url(#gg)" fill-opacity="0.32"/>
<ellipse cx="476.0" cy="147.0" rx="17.6" ry="15.3" transform="rotate(67 476.0 147.0)" fill="url(#gg)" fill-opacity="1.0"/>
<ellipse cx="476.0" cy="146.0" rx="11.5" ry="10.3" transform="rotate(90 476.0 146.0)" fill="url(#gg)" fill-opacity="1.0"/>
<ellipse cx="474.0" cy="166.0" rx="20.7" ry="13.8" transform="rotate(90 474.0 166.0)" fill="url(#gg)" fill-opacity="0.2"/>
<path transform="scale(.5)" d="M882 218h1m-1 2h1m-1 4h1m-1 9h1m-1 6h1m-1 1h1m-1 4h1m-1 1h1m-1 1h1m-1 3h1m-1 1h1m-1 1h1m-1 2h1m-1 1h1m-1 4h1m-1 1h1m-1 1h1m-1 1h1m-1 1h1m-1 1h1m-1 1h1m-1 1h1m-1 2h1m-1 1h1m-1 1h1m-1 2h1m-1 2h1m-1 1h1m-1 1h1m-1 1h1m-1 1h1m-1 2h1m-1 1h1m-1 1h1m-1 1h1m-1 1h1m-1 1h1m-1 1h1m-1 1h1m-1 1h1m-1 1h1m-1 1h1m-1 1h1m-1 3h1m-1 1h1m-1 1h1m-1 3h1m-1 1h1m-1 1h1m-1 2h1m-1 2h1m-1 2h1m-1 1h1m-1 2h1m-1 1h1m-1 6h1m-1 4h1m-1 1h1m-1 14h1m-1 8h1m-1 1h1m-1 17h1m0-110h1m-1 1h1m-1 16h1m-1 4h1m-1 1h1m-1 14h1m-1 5h1m-1 2h1m-1 7h1m-1 5h1m-1 4h1m-1 2h1m-1 11h1m-1 31h1m0-136h1m-1 25h1m-1 33h1m-1 14h1m-1 8h1m-1 3h1m-1 1h1m-1 2h1m-1 13h1m-1 14h1m0-94h1m-1 5h1m-1 7h1m-1 11h1m-1 24h1m-1 13h1m-1 3h1m-1 15h1m0-70h1m-1 9h1m-1 11h1m-1 15h1m-1 3h1m-1 1h1m-1 24h1m0-82h1m-1 12h1m-1 14h1m-1 6h1m-1 13h1m-1 1h1m-1 7h1m-1 55h1m0-96h1m-1 16h1m-1 4h1m-1 12h1m-1 3h1m-1 29h1m-1 31h1m-1 1h1m-1 22h1m0-138h1m-1 35h1m-1 2h1m-1 4h1m-1 3h1m-1 3h1m-1 24h1m-1 3h1m-1 41h1m-1 26h1m0-141h1m-1 7h1m-1 30h1m-1 9h1m-1 10h1m-1 4h1m-1 2h1m-1 3h1m-1 1h1m-1 3h1m-1 3h1m-1 16h1m-1 8h1m-1 2h1m-1 3h1m0-101h1m-1 14h1m-1 8h1m-1 3h1m-1 2h1m-1 1h1m-1 2h1m-1 5h1m-1 6h1m-1 2h1m-1 2h1m-1 2h1m-1 1h1m-1 21h1m-1 6h1m-1 21h1m-1 20h1m0-104h1m-1 14h1m-1 8h1m-1 1h1m-1 1h1m-1 7h1m-1 3h1m-1 4h1m-1 3h1m-1 9h1m-1 4h1m-1 15h1m0-62h1m-1 2h1m-1 12h1m-1 1h1m-1 4h1m-1 3h1m-1 4h1m-1 2h1m-1 1h1m-1 5h1m-1 6h1m-1 5h1m-1 1h1m-1 5h1m-1 5h1m-1 12h1m-1 26h1m0-109h1m-1 21h1m-1 1h1m-1 3h1m-1 1h1m-1 2h1m-1 1h1m-1 1h1m-1 3h1m-1 3h1m-1 3h1m-1 1h1m-1 1h1m-1 4h1m-1 2h1m-1 6h1m-1 9h1m-1 11h1m-1 16h1m-1 24h1m0-117h1m-1 5h1m-1 15h1m-1 3h1m-1 10h1m-1 2h1m-1 2h1m-1 3h1m-1 1h1m-1 1h1m-1 7h1m-1 3h1m-1 2h1m-1 5h1m-1 7h1m-1 3h1m-1 9h1m-1 11h1m-1 26h1m0-115h1m-1 18h1m-1 13h1m-1 5h1m-1 9h1m-1 3h1m-1 1h1m-1 4h1m-1 1h1m-1 1h1m-1 2h1m-1 2h1m-1 1h1m-1 14h1m-1 22h1m-1 7h1m-1 15h1m0-118h1m-1 37h1m-1 8h1m-1 2h1m-1 3h1m-1 1h1m-1 2h1m-1 1h1m-1 4h1m-1 7h1m-1 30h1m-1 3h1m-1 3h1m0-72h1m-1 1h1m-1 1h1m-1 1h1m-1 6h1m-1 1h1m-1 1h1m-1 2h1m-1 6h1m-1 2h1m-1 1h1m-1 1h1m-1 3h1m-1 4h1m-1 1h1m-1 12h1m-1 1h1m-1 4h1m0-62h1m-1 6h1m-1 2h1m-1 5h1m-1 7h1m-1 4h1m-1 4h1m-1 6h1m-1 2h1m-1 1h1m-1 1h1m-1 11h1m-1 5h1m-1 3h1m-1 1h1m0-66h1m-1 3h1m-1 16h1m-1 5h1m-1 2h1m-1 2h1m-1 5h1m-1 3h1m-1 4h1m-1 1h1m-1 2h1m-1 12h1m-1 1h1m-1 8h1m-1 8h1m-1 5h1m-1 13h1m-1 16h1m-1 5h1m-1 28h1m0-135h1m-1 1h1m-1 3h1m-1 5h1m-1 8h1m-1 4h1m-1 1h1m-1 2h1m-1 1h1m-1 2h1m-1 1h1m-1 2h1m-1 1h1m-1 3h1m-1 1h1m-1 4h1m-1 7h1m-1 4h1m-1 3h1m-1 1h1m-1 25h1m-1 40h1m0-130h1m-1 17h1m-1 1h1m-1 6h1m-1 2h1m-1 10h1m-1 3h1m-1 1h1m-1 2h1m-1 2h1m-1 4h1m-1 5h1m-1 1h1m-1 2h1m-1 2h1m-1 2h1m-1 1h1m-1 3h1m-1 12h1m-1 9h1m-1 1h1m-1 1h1m-1 15h1m-1 34h1m0-125h1m-1 9h1m-1 7h1m-1 3h1m-1 4h1m-1 3h1m-1 8h1m-1 4h1m-1 2h1m-1 1h1m-1 2h1m-1 1h1m-1 4h1m-1 3h1m-1 3h1m-1 2h1m-1 5h1m-1 7h1m-1 7h1m-1 5h1m0-91h1m-1 24h1m-1 3h1m-1 7h1m-1 1h1m-1 3h1m-1 1h1m-1 4h1m-1 3h1m-1 1h1m-1 1h1m-1 2h1m-1 1h1m-1 1h1m-1 1h1m-1 5h1m-1 9h1m-1 1h1m-1 1h1m-1 2h1m-1 6h1m-1 13h1m-1 28h1m-1 29h1m0-144h1m-1 18h1m-1 8h1m-1 1h1m-1 1h1m-1 1h1m-1 1h1m-1 1h1m-1 2h1m-1 1h1m-1 2h1m-1 2h1m-1 1h1m-1 1h1m-1 1h1m-1 2h1m-1 3h1m-1 2h1m-1 2h1m-1 2h1m-1 1h1m-1 3h1m-1 1h1m-1 2h1m-1 4h1m-1 4h1m-1 1h1m-1 3h1m-1 1h1m0-68h1m-1 12h1m-1 8h1m-1 1h1m-1 2h1m-1 3h1m-1 2h1m-1 1h1m-1 1h1m-1 1h1m-1 3h1m-1 2h1m-1 2h1m-1 2h1m-1 4h1m-1 1h1m-1 2h1m-1 1h1m-1 8h1m-1 3h1m-1 2h1m-1 5h1m-1 17h1m-1 4h1m-1 34h1m0-121h1m-1 10h1m-1 3h1m-1 2h1m-1 3h1m-1 3h1m-1 2h1m-1 1h1m-1 2h1m-1 2h1m-1 2h1m-1 2h1m-1 1h1m-1 1h1m-1 3h1m-1 1h1m-1 4h1m-1 3h1m-1 1h1m-1 1h1m-1 4h1m-1 1h1m-1 1h1m-1 6h1m-1 3h1m-1 13h1m-1 21h1m-1 5h1m-1 4h1m0-109h1m-1 12h1m-1 2h1m-1 8h1m-1 1h1m-1 2h1m-1 2h1m-1 2h1m-1 3h1m-1 1h1m-1 2h1m-1 1h1m-1 1h1m-1 1h1m-1 2h1m-1 1h1m-1 1h1m-1 2h1m-1 1h1m-1 3h1m-1 1h1m-1 1h1m-1 1h1m-1 2h1m-1 1h1m-1 2h1m-1 5h1m-1 2h1m-1 1h1m-1 3h1m-1 13h1m-1 8h1m-1 6h1m-1 3h1m0-82h1m-1 7h1m-1 1h1m-1 4h1m-1 1h1m-1 3h1m-1 2h1m-1 1h1m-1 2h1m-1 1h1m-1 4h1m-1 1h1m-1 3h1m-1 2h1m-1 2h1m-1 1h1m-1 4h1m-1 7h1m-1 2h1m-1 5h1m-1 4h1m-1 1h1m-1 5h1m-1 3h1m-1 4h1m0-79h1m-1 3h1m-1 3h1m-1 2h1m-1 1h1m-1 2h1m-1 3h1m-1 1h1m-1 6h1m-1 1h1m-1 1h1m-1 1h1m-1 2h1m-1 1h1m-1 1h1m-1 2h1m-1 1h1m-1 2h1m-1 1h1m-1 5h1m-1 1h1m-1 3h1m-1 3h1m-1 1h1m-1 2h1m-1 1h1m-1 1h1m-1 3h1m-1 2h1m-1 9h1m-1 7h1m-1 2h1m-1 6h1m-1 15h1m-1 28h1m0-124h1m-1 4h1m-1 1h1m-1 1h1m-1 1h1m-1 3h1m-1 2h1m-1 1h1m-1 6h1m-1 2h1m-1 2h1m-1 1h1m-1 3h1m-1 2h1m-1 2h1m-1 1h1m-1 1h1m-1 2h1m-1 2h1m-1 1h1m-1 1h1m-1 2h1m-1 2h1m-1 2h1m-1 1h1m-1 3h1m-1 1h1m-1 1h1m-1 1h1m-1 1h1m-1 5h1m-1 3h1m-1 2h1m-1 2h1m-1 1h1m-1 1h1m-1 7h1m-1 4h1m0-86h1m-1 4h1m-1 3h1m-1 8h1m-1 4h1m-1 2h1m-1 1h1m-1 2h1m-1 2h1m-1 5h1m-1 1h1m-1 1h1m-1 1h1m-1 1h1m-1 1h1m-1 1h1m-1 1h1m-1 1h1m-1 1h1m-1 1h1m-1 2h1m-1 1h1m-1 1h1m-1 1h1m-1 1h1m-1 3h1m-1 6h1m-1 3h1m-1 5h1m-1 1h1m-1 1h1m-1 3h1m-1 3h1m-1 7h1m-1 4h1m-1 7h1m-1 5h1m-1 4h1m-1 11h1m0-109h1m-1 18h1m-1 1h1m-1 2h1m-1 3h1m-1 2h1m-1 1h1m-1 1h1m-1 5h1m-1 1h1m-1 1h1m-1 1h1m-1 5h1m-1 2h1m-1 3h1m-1 1h1m-1 2h1m-1 3h1m-1 1h1m-1 2h1m-1 2h1m-1 2h1m-1 2h1m-1 5h1m-1 7h1m-1 2h1m-1 6h1m-1 5h1m-1 4h1m-1 3h1m-1 14h1m-1 35h1m0-143h1m-1 1h1m-1 13h1m-1 4h1m-1 2h1m-1 2h1m-1 1h1m-1 2h1m-1 3h1m-1 1h1m-1 2h1m-1 1h1m-1 1h1m-1 5h1m-1 2h1m-1 2h1m-1 3h1m-1 2h1m-1 2h1m-1 1h1m-1 1h1m-1 5h1m-1 1h1m-1 3h1m-1 1h1m-1 4h1m-1 9h1m-1 3h1m-1 2h1m-1 3h1m-1 6h1m-1 2h1m-1 1h1m-1 20h1m-1 1h1m0-105h1m-1 10h1m-1 1h1m-1 2h1m-1 1h1m-1 1h1m-1 2h1m-1 1h1m-1 4h1m-1 2h1m-1 4h1m-1 3h1m-1 1h1m-1 1h1m-1 1h1m-1 1h1m-1 1h1m-1 1h1m-1 1h1m-1 1h1m-1 2h1m-1 1h1m-1 1h1m-1 1h1m-1 2h1m-1 1h1m-1 1h1m-1 2h1m-1 1h1m-1 2h1m-1 2h1m-1 1h1m-1 14h1m-1 4h1m-1 2h1m-1 3h1m-1 4h1m-1 3h1m0-90h1m-1 1h1m-1 5h1m-1 2h1m-1 3h1m-1 1h1m-1 2h1m-1 2h1m-1 1h1m-1 1h1m-1 1h1m-1 4h1m-1 1h1m-1 3h1m-1 1h1m-1 1h1m-1 2h1m-1 1h1m-1 2h1m-1 1h1m-1 2h1m-1 2h1m-1 1h1m-1 1h1m-1 1h1m-1 3h1m-1 2h1m-1 1h1m-1 1h1m-1 2h1m-1 1h1m-1 1h1m-1 2h1m-1 1h1m-1 5h1m-1 3h1m-1 4h1m-1 1h1m-1 12h1m-1 1h1m-1 8h1m-1 5h1m-1 1h1m-1 2h1m-1 3h1m0-102h1m-1 4h1m-1 5h1m-1 2h1m-1 2h1m-1 2h1m-1 1h1m-1 1h1m-1 3h1m-1 3h1m-1 2h1m-1 2h1m-1 1h1m-1 2h1m-1 1h1m-1 2h1m-1 3h1m-1 1h1m-1 1h1m-1 1h1m-1 2h1m-1 1h1m-1 1h1m-1 2h1m-1 1h1m-1 1h1m-1 2h1m-1 1h1m-1 1h1m-1 3h1m-1 4h1m-1 1h1m-1 4h1m-1 1h1m-1 2h1m-1 2h1m-1 3h1m-1 5h1m-1 2h1m-1 11h1m-1 2h1m-1 5h1m-1 11h1m-1 31h1m0-135h1m-1 4h1m-1 6h1m-1 2h1m-1 1h1m-1 1h1m-1 4h1m-1 1h1m-1 1h1m-1 1h1m-1 2h1m-1 1h1m-1 1h1m-1 2h1m-1 1h1m-1 1h1m-1 1h1m-1 1h1m-1 1h1m-1 2h1m-1 1h1m-1 1h1m-1 2h1m-1 1h1m-1 1h1m-1 2h1m-1 1h1m-1 1h1m-1 5h1m-1 2h1m-1 1h1m-1 1h1m-1 5h1m-1 2h1m-1 2h1m-1 1h1m-1 1h1m-1 1h1m-1 1h1m-1 4h1m-1 1h1m-1 10h1m-1 6h1m-1 3h1m-1 25h1m0-117h1m-1 15h1m-1 2h1m-1 1h1m-1 2h1m-1 1h1m-1 1h1m-1 2h1m-1 2h1m-1 1h1m-1 1h1m-1 1h1m-1 2h1m-1 1h1m-1 1h1m-1 1h1m-1 1h1m-1 2h1m-1 3h1m-1 1h1m-1 1h1m-1 2h1m-1 1h1m-1 1h1m-1 4h1m-1 3h1m-1 1h1m-1 2h1m-1 2h1m-1 1h1m-1 2h1m-1 1h1m-1 1h1m-1 14h1m-1 4h1m-1 3h1m-1 19h1m-1 14h1m0-114h1m-1 1h1m-1 1h1m-1 5h1m-1 4h1m-1 1h1m-1 3h1m-1 1h1m-1 2h1m-1 1h1m-1 1h1m-1 1h1m-1 1h1m-1 1h1m-1 1h1m-1 1h1m-1 1h1m-1 1h1m-1 1h1m-1 1h1m-1 3h1m-1 1h1m-1 1h1m-1 3h1m-1 1h1m-1 3h1m-1 1h1m-1 1h1m-1 2h1m-1 1h1m-1 1h1m-1 3h1m-1 2h1m-1 3h1m-1 2h1m-1 3h1m-1 2h1m-1 4h1m-1 6h1m-1 12h1m-1 2h1m-1 13h1m-1 12h1m0-117h1m-1 2h1m-1 7h1m-1 4h1m-1 8h1m-1 1h1m-1 1h1m-1 1h1m-1 1h1m-1 1h1m-1 4h1m-1 1h1m-1 1h1m-1 3h1m-1 1h1m-1 3h1m-1 1h1m-1 1h1m-1 1h1m-1 1h1m-1 5h1m-1 1h1m-1 1h1m-1 1h1m-1 4h1m-1 6h1m-1 1h1m-1 1h1m-1 9h1m-1 1h1m-1 2h1m-1 1h1m-1 5h1m-1 1h1m-1 2h1m-1 2h1m-1 28h1m-1 15h1m0-128h1m-1 3h1m-1 7h1m-1 2h1m-1 1h1m-1 1h1m-1 1h1m-1 3h1m-1 1h1m-1 4h1m-1 1h1m-1 1h1m-1 1h1m-1 2h1m-1 1h1m-1 1h1m-1 2h1m-1 1h1m-1 1h1m-1 1h1m-1 1h1m-1 1h1m-1 1h1m-1 1h1m-1 1h1m-1 1h1m-1 1h1m-1 1h1m-1 1h1m-1 1h1m-1 3h1m-1 2h1m-1 1h1m-1 3h1m-1 1h1m-1 2h1m-1 1h1m-1 1h1m-1 2h1m-1 3h1m-1 2h1m-1 2h1m-1 7h1m-1 1h1m-1 3h1m-1 2h1m-1 3h1m-1 2h1m-1 2h1m-1 8h1m-1 6h1m-1 2h1m-1 14h1m-1 5h1m0-124h1m-1 17h1m-1 1h1m-1 1h1m-1 1h1m-1 1h1m-1 2h1m-1 1h1m-1 2h1m-1 2h1m-1 1h1m-1 1h1m-1 1h1m-1 1h1m-1 1h1m-1 1h1m-1 2h1m-1 1h1m-1 2h1m-1 2h1m-1 1h1m-1 1h1m-1 1h1m-1 1h1m-1 1h1m-1 1h1m-1 1h1m-1 1h1m-1 1h1m-1 1h1m-1 1h1m-1 1h1m-1 3h1m-1 2h1m-1 1h1m-1 1h1m-1 2h1m-1 1h1m-1 2h1m-1 3h1m-1 1h1m-1 3h1m-1 2h1m-1 1h1m-1 4h1m-1 8h1m-1 1h1m-1 2h1m-1 5h1m-1 1h1m-1 27h1m0-123h1m-1 4h1m-1 7h1m-1 2h1m-1 1h1m-1 2h1m-1 1h1m-1 1h1m-1 2h1m-1 2h1m-1 2h1m-1 1h1m-1 1h1m-1 1h1m-1 1h1m-1 1h1m-1 1h1m-1 1h1m-1 1h1m-1 1h1m-1 1h1m-1 2h1m-1 2h1m-1 1h1m-1 1h1m-1 1h1m-1 1h1m-1 2h1m-1 1h1m-1 5h1m-1 1h1m-1 1h1m-1 1h1m-1 1h1m-1 4h1m-1 3h1m-1 1h1m-1 3h1m-1 1h1m-1 3h1m-1 1h1m-1 2h1m-1 2h1m-1 4h1m-1 3h1m-1 3h1m-1 3h1m-1 2h1m-1 3h1m-1 2h1m-1 3h1m-1 2h1m-1 48h1m0-146h1m-1 5h1m-1 2h1m-1 1h1m-1 7h1m-1 3h1m-1 1h1m-1 1h1m-1 2h1m-1 1h1m-1 1h1m-1 1h1m-1 2h1m-1 1h1m-1 1h1m-1 1h1m-1 1h1m-1 1h1m-1 1h1m-1 1h1m-1 1h1m-1 4h1m-1 1h1m-1 4h1m-1 2h1m-1 1h1m-1 1h1m-1 1h1m-1 1h1m-1 3h1m-1 1h1m-1 2h1m-1 1h1m-1 1h1m-1 1h1m-1 3h1m-1 1h1m-1 1h1m-1 6h1m-1 1h1m-1 1h1m-1 1h1m-1 2h1m-1 3h1m-1 1h1m-1 17h1m-1 7h1m-1 2h1m-1 8h1m-1 27h1m0-141h1m-1 3h1m-1 11h1m-1 1h1m-1 1h1m-1 1h1m-1 1h1m-1 1h1m-1 1h1m-1 3h1m-1 2h1m-1 1h1m-1 2h1m-1 2h1m-1 1h1m-1 1h1m-1 1h1m-1 1h1m-1 1h1m-1 1h1m-1 1h1m-1 1h1m-1 1h1m-1 1h1m-1 2h1m-1 1h1m-1 1h1m-1 3h1m-1 1h1m-1 2h1m-1 1h1m-1 1h1m-1 1h1m-1 1h1m-1 1h1m-1 1h1m-1 1h1m-1 1h1m-1 2h1m-1 2h1m-1 3h1m-1 4h1m-1 2h1m-1 7h1m-1 1h1m-1 1h1m-1 9h1m-1 6h1m-1 11h1m-1 6h1m-1 3h1m-1 6h1m-1 9h1m0-130h1m-1 1h1m-1 1h1m-1 3h1m-1 4h1m-1 3h1m-1 2h1m-1 2h1m-1 1h1m-1 3h1m-1 1h1m-1 1h1m-1 1h1m-1 1h1m-1 2h1m-1 1h1m-1 1h1m-1 2h1m-1 1h1m-1 1h1m-1 2h1m-1 1h1m-1 1h1m-1 2h1m-1 1h1m-1 1h1m-1 3h1m-1 1h1m-1 1h1m-1 1h1m-1 3h1m-1 1h1m-1 2h1m-1 1h1m-1 1h1m-1 2h1m-1 1h1m-1 1h1m-1 1h1m-1 2h1m-1 1h1m-1 3h1m-1 3h1m-1 3h1m-1 1h1m-1 1h1m-1 2h1m-1 1h1m-1 3h1m-1 1h1m-1 4h1m-1 1h1m-1 1h1m-1 4h1m-1 2h1m-1 3h1m-1 3h1m-1 4h1m-1 3h1m-1 1h1m-1 1h1m-1 18h1m-1 9h1m-1 2h1m-1 2h1m-1 8h1m0-146h1m-1 1h1m-1 6h1m-1 7h1m-1 3h1m-1 1h1m-1 2h1m-1 1h1m-1 1h1m-1 1h1m-1 2h1m-1 1h1m-1 1h1m-1 1h1m-1 1h1m-1 2h1m-1 1h1m-1 1h1m-1 3h1m-1 1h1m-1 1h1m-1 1h1m-1 1h1m-1 3h1m-1 1h1m-1 1h1m-1 2h1m-1 2h1m-1 1h1m-1 1h1m-1 1h1m-1 1h1m-1 1h1m-1 1h1m-1 2h1m-1 1h1m-1 4h1m-1 3h1m-1 2h1m-1 1h1m-1 1h1m-1 1h1m-1 1h1m-1 3h1m-1 1h1m-1 2h1m-1 2h1m-1 4h1m-1 1h1m-1 1h1m-1 3h1m-1 2h1m-1 6h1m-1 13h1m-1 2h1m0-111h1m-1 3h1m-1 6h1m-1 2h1m-1 1h1m-1 2h1m-1 2h1m-1 1h1m-1 1h1m-1 1h1m-1 1h1m-1 1h1m-1 1h1m-1 1h1m-1 1h1m-1 1h1m-1 1h1m-1 1h1m-1 1h1m-1 1h1m-1 1h1m-1 1h1m-1 1h1m-1 1h1m-1 1h1m-1 3h1m-1 1h1m-1 1h1m-1 1h1m-1 1h1m-1 1h1m-1 1h1m-1 1h1m-1 1h1m-1 1h1m-1 1h1m-1 2h1m-1 1h1m-1 1h1m-1 1h1m-1 1h1m-1 2h1m-1 1h1m-1 3h1m-1 2h1m-1 2h1m-1 2h1m-1 4h1m-1 1h1m-1 1h1m-1 2h1m-1 1h1m-1 1h1m-1 4h1m-1 1h1m-1 1h1m-1 1h1m-1 4h1m-1 2h1m-1 1h1m-1 11h1m-1 5h1m-1 3h1m-1 5h1m-1 5h1m-1 5h1m-1 3h1m-1 2h1m0-122h1m-1 4h1m-1 3h1m-1 1h1m-1 2h1m-1 1h1m-1 1h1m-1 1h1m-1 1h1m-1 7h1m-1 1h1m-1 1h1m-1 1h1m-1 2h1m-1 1h1m-1 1h1m-1 1h1m-1 1h1m-1 1h1m-1 1h1m-1 1h1m-1 1h1m-1 1h1m-1 1h1m-1 3h1m-1 1h1m-1 1h1m-1 1h1m-1 1h1m-1 2h1m-1 1h1m-1 2h1m-1 1h1m-1 1h1m-1 2h1m-1 1h1m-1 1h1m-1 2h1m-1 1h1m-1 1h1m-1 3h1m-1 1h1m-1 2h1m-1 2h1m-1 1h1m-1 1h1m-1 1h1m-1 2h1m-1 8h1m-1 2h1m-1 6h1m-1 1h1m-1 1h1m-1 3h1m-1 4h1m-1 2h1m-1 5h1m-1 5h1m-1 19h1m0-132h1m-1 2h1m-1 1h1m-1 2h1m-1 5h1m-1 2h1m-1 2h1m-1 1h1m-1 1h1m-1 2h1m-1 4h1m-1 1h1m-1 1h1m-1 1h1m-1 1h1m-1 3h1m-1 1h1m-1 1h1m-1 1h1m-1 1h1m-1 1h1m-1 1h1m-1 1h1m-1 2h1m-1 1h1m-1 1h1m-1 1h1m-1 1h1m-1 1h1m-1 1h1m-1 1h1m-1 1h1m-1 1h1m-1 1h1m-1 1h1m-1 1h1m-1 1h1m-1 1h1m-1 1h1m-1 1h1m-1 2h1m-1 1h1m-1 2h1m-1 1h1m-1 2h1m-1 1h1m-1 1h1m-1 1h1m-1 1h1m-1 1h1m-1 5h1m-1 1h1m-1 1h1m-1 1h1m-1 2h1m-1 1h1m-1 1h1m-1 1h1m-1 1h1m-1 6h1m-1 4h1m-1 2h1m-1 2h1m-1 3h1m-1 2h1m-1 4h1m-1 7h1m-1 2h1m-1 3h1m-1 1h1m-1 16h1m-1 8h1m0-142h1m-1 6h1m-1 2h1m-1 1h1m-1 4h1m-1 1h1m-1 1h1m-1 1h1m-1 1h1m-1 1h1m-1 2h1m-1 1h1m-1 1h1m-1 1h1m-1 1h1m-1 1h1m-1 1h1m-1 1h1m-1 1h1m-1 1h1m-1 1h1m-1 1h1m-1 1h1m-1 1h1m-1 1h1m-1 1h1m-1 1h1m-1 1h1m-1 1h1m-1 1h1m-1 1h1m-1 2h1m-1 1h1m-1 1h1m-1 1h1m-1 2h1m-1 2h1m-1 1h1m-1 1h1m-1 1h1m-1 1h1m-1 1h1m-1 1h1m-1 1h1m-1 1h1m-1 1h1m-1 1h1m-1 1h1m-1 1h1m-1 2h1m-1 1h1m-1 1h1m-1 1h1m-1 1h1m-1 3h1m-1 1h1m-1 3h1m-1 2h1m-1 1h1m-1 1h1m-1 4h1m-1 1h1m-1 2h1m-1 1h1m-1 3h1m-1 3h1m-1 3h1m-1 2h1m-1 2h1m-1 6h1m-1 3h1m-1 30h1m-1 1h1m0-139h1m-1 1h1m-1 4h1m-1 8h1m-1 1h1m-1 1h1m-1 2h1m-1 1h1m-1 1h1m-1 1h1m-1 3h1m-1 1h1m-1 1h1m-1 1h1m-1 1h1m-1 1h1m-1 1h1m-1 1h1m-1 1h1m-1 1h1m-1 1h1m-1 1h1m-1 1h1m-1 1h1m-1 1h1m-1 1h1m-1 1h1m-1 1h1m-1 1h1m-1 1h1m-1 2h1m-1 1h1m-1 1h1m-1 1h1m-1 1h1m-1 1h1m-1 1h1m-1 2h1m-1 2h1m-1 2h1m-1 1h1m-1 1h1m-1 1h1m-1 1h1m-1 1h1m-1 4h1m-1 1h1m-1 2h1m-1 1h1m-1 1h1m-1 1h1m-1 2h1m-1 1h1m-1 1h1m-1 2h1m-1 1h1m-1 1h1m-1 2h1m-1 1h1m-1 1h1m-1 2h1m-1 5h1m-1 1h1m-1 2h1m-1 1h1m-1 1h1m-1 4h1m-1 2h1m-1 14h1m-1 1h1m-1 2h1m-1 7h1m-1 4h1m-1 12h1m0-141h1m-1 8h1m-1 1h1m-1 1h1m-1 1h1m-1 1h1m-1 1h1m-1 2h1m-1 1h1m-1 2h1m-1 1h1m-1 1h1m-1 1h1m-1 1h1m-1 1h1m-1 1h1m-1 1h1m-1 1h1m-1 1h1m-1 1h1m-1 1h1m-1 1h1m-1 1h1m-1 1h1m-1 1h1m-1 1h1m-1 1h1m-1 1h1m-1 1h1m-1 1h1m-1 1h1m-1 1h1m-1 1h1m-1 1h1m-1 1h1m-1 1h1m-1 1h1m-1 3h1m-1 1h1m-1 2h1m-1 1h1m-1 1h1m-1 1h1m-1 2h1m-1 4h1m-1 1h1m-1 1h1m-1 2h1m-1 1h1m-1 3h1m-1 1h1m-1 1h1m-1 1h1m-1 1h1m-1 1h1m-1 1h1m-1 1h1m-1 1h1m-1 1h1m-1 1h1m-1 1h1m-1 3h1m-1 1h1m-1 2h1m-1 1h1m-1 4h1m-1 2h1m-1 3h1m-1 11h1m-1 1h1m-1 2h1m-1 2h1m-1 14h1m-1 4h1m-1 18h1m0-147h1m-1 4h1m-1 2h1m-1 2h1m-1 2h1m-1 1h1m-1 3h1m-1 1h1m-1 1h1m-1 1h1m-1 2h1m-1 1h1m-1 1h1m-1 1h1m-1 2h1m-1 2h1m-1 1h1m-1 1h1m-1 1h1m-1 1h1m-1 1h1m-1 1h1m-1 1h1m-1 1h1m-1 1h1m-1 1h1m-1 1h1m-1 1h1m-1 1h1m-1 1h1m-1 1h1m-1 1h1m-1 1h1m-1 1h1m-1 1h1m-1 1h1m-1 1h1m-1 1h1m-1 1h1m-1 1h1m-1 3h1m-1 2h1m-1 3h1m-1 1h1m-1 1h1m-1 1h1m-1 3h1m-1 1h1m-1 1h1m-1 2h1m-1 3h1m-1 1h1m-1 1h1m-1 3h1m-1 1h1m-1 1h1m-1 1h1m-1 1h1m-1 1h1m-1 1h1m-1 1h1m-1 3h1m-1 2h1m-1 1h1m-1 8h1m-1 1h1m-1 1h1m-1 2h1m-1 1h1m-1 3h1m-1 10h1m-1 3h1m-1 2h1m-1 15h1m0-135h1m-1 6h1m-1 4h1m-1 2h1m-1 2h1m-1 6h1m-1 1h1m-1 2h1m-1 1h1m-1 1h1m-1 2h1m-1 1h1m-1 1h1m-1 1h1m-1 1h1m-1 1h1m-1 1h1m-1 1h1m-1 1h1m-1 1h1m-1 1h1m-1 1h1m-1 1h1m-1 1h1m-1 1h1m-1 1h1m-1 1h1m-1 1h1m-1 1h1m-1 2h1m-1 1h1m-1 1h1m-1 1h1m-1 1h1m-1 2h1m-1 1h1m-1 1h1m-1 1h1m-1 1h1m-1 3h1m-1 1h1m-1 1h1m-1 2h1m-1 2h1m-1 1h1m-1 1h1m-1 1h1m-1 1h1m-1 3h1m-1 1h1m-1 1h1m-1 1h1m-1 1h1m-1 1h1m-1 1h1m-1 1h1m-1 1h1m-1 1h1m-1 1h1m-1 1h1m-1 2h1m-1 2h1m-1 2h1m-1 3h1m-1 2h1m-1 3h1m-1 7h1m-1 4h1m-1 15h1m-1 9h1m-1 2h1m-1 1h1m-1 3h1m0-139h1m-1 4h1m-1 2h1m-1 1h1m-1 1h1m-1 1h1m-1 1h1m-1 1h1m-1 5h1m-1 1h1m-1 1h1m-1 1h1m-1 1h1m-1 1h1m-1 1h1m-1 1h1m-1 1h1m-1 1h1m-1 1h1m-1 1h1m-1 1h1m-1 1h1m-1 1h1m-1 1h1m-1 1h1m-1 1h1m-1 1h1m-1 1h1m-1 1h1m-1 2h1m-1 1h1m-1 1h1m-1 1h1m-1 1h1m-1 1h1m-1 1h1m-1 1h1m-1 1h1m-1 1h1m-1 1h1m-1 1h1m-1 1h1m-1 2h1m-1 1h1m-1 2h1m-1 5h1m-1 1h1m-1 1h1m-1 2h1m-1 1h1m-1 1h1m-1 1h1m-1 1h1m-1 2h1m-1 1h1m-1 3h1m-1 1h1m-1 1h1m-1 2h1m-1 2h1m-1 2h1m-1 1h1m-1 1h1m-1 3h1m-1 2h1m-1 2h1m-1 3h1m-1 1h1m-1 1h1m-1 1h1m-1 1h1m-1 8h1m-1 5h1m-1 9h1m-1 5h1m-1 2h1m0-126h1m-1 3h1m-1 3h1m-1 1h1m-1 2h1m-1 1h1m-1 1h1m-1 2h1m-1 1h1m-1 2h1m-1 1h1m-1 1h1m-1 1h1m-1 1h1m-1 1h1m-1 1h1m-1 1h1m-1 1h1m-1 1h1m-1 2h1m-1 1h1m-1 1h1m-1 1h1m-1 1h1m-1 1h1m-1 1h1m-1 1h1m-1 2h1m-1 1h1m-1 1h1m-1 1h1m-1 1h1m-1 2h1m-1 1h1m-1 1h1m-1 1h1m-1 1h1m-1 2h1m-1 1h1m-1 1h1m-1 1h1m-1 2h1m-1 1h1m-1 2h1m-1 2h1m-1 1h1m-1 1h1m-1 1h1m-1 1h1m-1 5h1m-1 2h1m-1 1h1m-1 1h1m-1 1h1m-1 1h1m-1 2h1m-1 3h1m-1 1h1m-1 3h1m-1 1h1m-1 1h1m-1 3h1m-1 1h1m-1 2h1m-1 1h1m-1 3h1m-1 4h1m-1 4h1m-1 3h1m-1 5h1m-1 6h1m-1 1h1m-1 1h1m-1 1h1m-1 2h1m-1 3h1m-1 1h1m-1 9h1m0-135h1m-1 1h1m-1 3h1m-1 3h1m-1 1h1m-1 2h1m-1 2h1m-1 2h1m-1 1h1m-1 1h1m-1 1h1m-1 2h1m-1 1h1m-1 2h1m-1 1h1m-1 1h1m-1 2h1m-1 1h1m-1 1h1m-1 1h1m-1 1h1m-1 2h1m-1 1h1m-1 1h1m-1 1h1m-1 1h1m-1 1h1m-1 1h1m-1 1h1m-1 1h1m-1 2h1m-1 1h1m-1 1h1m-1 1h1m-1 1h1m-1 1h1m-1 1h1m-1 2h1m-1 1h1m-1 1h1m-1 1h1m-1 3h1m-1 1h1m-1 1h1m-1 1h1m-1 1h1m-1 1h1m-1 4h1m-1 1h1m-1 1h1m-1 2h1m-1 1h1m-1 1h1m-1 1h1m-1 1h1m-1 1h1m-1 1h1m-1 2h1m-1 1h1m-1 1h1m-1 2h1m-1 1h1m-1 1h1m-1 1h1m-1 1h1m-1 1h1m-1 2h1m-1 1h1m-1 1h1m-1 1h1m-1 1h1m-1 4h1m-1 1h1m-1 5h1m-1 1h1m-1 2h1m-1 4h1m-1 3h1m-1 3h1m-1 4h1m-1 5h1m-1 2h1m-1 7h1m-1 6h1m-1 6h1m-1 2h1m0-147h1m-1 3h1m-1 3h1m-1 2h1m-1 2h1m-1 2h1m-1 2h1m-1 1h1m-1 1h1m-1 1h1m-1 1h1m-1 1h1m-1 1h1m-1 1h1m-1 1h1m-1 1h1m-1 1h1m-1 1h1m-1 1h1m-1 1h1m-1 2h1m-1 1h1m-1 1h1m-1 1h1m-1 1h1m-1 1h1m-1 1h1m-1 1h1m-1 1h1m-1 1h1m-1 1h1m-1 1h1m-1 1h1m-1 1h1m-1 1h1m-1 1h1m-1 1h1m-1 1h1m-1 1h1m-1 1h1m-1 1h1m-1 1h1m-1 1h1m-1 1h1m-1 1h1m-1 1h1m-1 1h1m-1 1h1m-1 2h1m-1 1h1m-1 1h1m-1 1h1m-1 1h1m-1 1h1m-1 1h1m-1 1h1m-1 1h1m-1 1h1m-1 2h1m-1 1h1m-1 1h1m-1 1h1m-1 1h1m-1 1h1m-1 1h1m-1 3h1m-1 2h1m-1 1h1m-1 3h1m-1 1h1m-1 4h1m-1 2h1m-1 4h1m-1 4h1m-1 1h1m-1 1h1m-1 9h1m-1 2h1m-1 1h1m-1 10h1m-1 3h1m-1 5h1m-1 4h1m-1 3h1m-1 3h1m-1 1h1m-1 3h1m0-145h1m-1 8h1m-1 2h1m-1 1h1m-1 2h1m-1 1h1m-1 1h1m-1 2h1m-1 2h1m-1 1h1m-1 1h1m-1 1h1m-1 1h1m-1 1h1m-1 1h1m-1 1h1m-1 1h1m-1 1h1m-1 1h1m-1 1h1m-1 2h1m-1 1h1m-1 1h1m-1 1h1m-1 1h1m-1 1h1m-1 1h1m-1 1h1m-1 1h1m-1 1h1m-1 2h1m-1 1h1m-1 2h1m-1 1h1m-1 1h1m-1 1h1m-1 1h1m-1 1h1m-1 3h1m-1 2h1m-1 1h1m-1 2h1m-1 1h1m-1 1h1m-1 1h1m-1 1h1m-1 3h1m-1 1h1m-1 1h1m-1 1h1m-1 1h1m-1 1h1m-1 1h1m-1 1h1m-1 1h1m-1 1h1m-1 1h1m-1 1h1m-1 1h1m-1 1h1m-1 1h1m-1 1h1m-1 1h1m-1 1h1m-1 3h1m-1 1h1m-1 2h1m-1 2h1m-1 1h1m-1 1h1m-1 1h1m-1 3h1m-1 2h1m-1 1h1m-1 1h1m-1 6h1m-1 1h1m-1 2h1m-1 1h1m-1 1h1m-1 3h1m-1 1h1m-1 9h1m-1 2h1m-1 5h1m-1 6h1m0-138h1m-1 8h1m-1 1h1m-1 1h1m-1 1h1m-1 2h1m-1 2h1m-1 1h1m-1 1h1m-1 1h1m-1 1h1m-1 1h1m-1 1h1m-1 1h1m-1 1h1m-1 1h1m-1 1h1m-1 1h1m-1 1h1m-1 1h1m-1 1h1m-1 1h1m-1 1h1m-1 1h1m-1 1h1m-1 1h1m-1 1h1m-1 1h1m-1 1h1m-1 1h1m-1 1h1m-1 1h1m-1 1h1m-1 3h1m-1 1h1m-1 1h1m-1 1h1m-1 1h1m-1 1h1m-1 1h1m-1 1h1m-1 1h1m-1 2h1m-1 1h1m-1 1h1m-1 1h1m-1 3h1m-1 1h1m-1 1h1m-1 1h1m-1 1h1m-1 1h1m-1 1h1m-1 1h1m-1 1h1m-1 1h1m-1 2h1m-1 1h1m-1 1h1m-1 1h1m-1 3h1m-1 1h1m-1 1h1m-1 1h1m-1 1h1m-1 1h1m-1 2h1m-1 1h1m-1 1h1m-1 1h1m-1 2h1m-1 1h1m-1 1h1m-1 2h1m-1 3h1m-1 1h1m-1 6h1m-1 3h1m-1 3h1m-1 2h1m-1 3h1m-1 2h1m-1 2h1m-1 5h1m-1 3h1m-1 2h1m-1 13h1m-1 2h1m-1 4h1m0-147h1m-1 1h1m-1 6h1m-1 1h1m-1 3h1m-1 2h1m-1 1h1m-1 1h1m-1 1h1m-1 1h1m-1 1h1m-1 1h1m-1 1h1m-1 1h1m-1 1h1m-1 1h1m-1 1h1m-1 1h1m-1 1h1m-1 1h1m-1 1h1m-1 1h1m-1 1h1m-1 1h1m-1 1h1m-1 1h1m-1 1h1m-1 1h1m-1 1h1m-1 1h1m-1 1h1m-1 1h1m-1 1h1m-1 1h1m-1 1h1m-1 1h1m-1 1h1m-1 1h1m-1 1h1m-1 1h1m-1 1h1m-1 1h1m-1 1h1m-1 1h1m-1 1h1m-1 1h1m-1 1h1m-1 3h1m-1 1h1m-1 2h1m-1 1h1m-1 1h1m-1 1h1m-1 1h1m-1 1h1m-1 1h1m-1 1h1m-1 1h1m-1 1h1m-1 1h1m-1 1h1m-1 1h1m-1 1h1m-1 1h1m-1 1h1m-1 1h1m-1 1h1m-1 1h1m-1 1h1m-1 1h1m-1 1h1m-1 1h1m-1 1h1m-1 2h1m-1 2h1m-1 1h1m-1 1h1m-1 2h1m-1 2h1m-1 1h1m-1 5h1m-1 1h1m-1 1h1m-1 1h1m-1 1h1m-1 1h1m-1 2h1m-1 1h1m-1 1h1m-1 3h1m-1 7h1m-1 1h1m-1 7h1m-1 10h1m-1 8h1m-1 3h1m0-145h1m-1 10h1m-1 1h1m-1 2h1m-1 1h1m-1 1h1m-1 1h1m-1 1h1m-1 1h1m-1 1h1m-1 1h1m-1 1h1m-1 2h1m-1 1h1m-1 1h1m-1 1h1m-1 1h1m-1 1h1m-1 1h1m-1 1h1m-1 1h1m-1 1h1m-1 2h1m-1 1h1m-1 1h1m-1 1h1m-1 1h1m-1 1h1m-1 1h1m-1 1h1m-1 1h1m-1 1h1m-1 1h1m-1 1h1m-1 1h1m-1 1h1m-1 1h1m-1 1h1m-1 1h1m-1 2h1m-1 1h1m-1 1h1m-1 1h1m-1 1h1m-1 1h1m-1 1h1m-1 3h1m-1 1h1m-1 1h1m-1 1h1m-1 1h1m-1 1h1m-1 1h1m-1 2h1m-1 2h1m-1 1h1m-1 1h1m-1 1h1m-1 1h1m-1 1h1m-1 1h1m-1 1h1m-1 1h1m-1 1h1m-1 1h1m-1 2h1m-1 1h1m-1 1h1m-1 1h1m-1 1h1m-1 1h1m-1 1h1m-1 2h1m-1 1h1m-1 3h1m-1 1h1m-1 1h1m-1 1h1m-1 1h1m-1 3h1m-1 2h1m-1 2h1m-1 3h1m-1 1h1m-1 1h1m-1 1h1m-1 1h1m-1 4h1m-1 1h1m-1 1h1m-1 3h1m-1 3h1m-1 3h1m-1 1h1m0-127h1m-1 5h1m-1 3h1m-1 1h1m-1 1h1m-1 1h1m-1 1h1m-1 1h1m-1 1h1m-1 1h1m-1 1h1m-1 1h1m-1 1h1m-1 1h1m-1 1h1m-1 1h1m-1 1h1m-1 1h1m-1 1h1m-1 1h1m-1 1h1m-1 1h1m-1 1h1m-1 1h1m-1 1h1m-1 1h1m-1 1h1m-1 1h1m-1 1h1m-1 1h1m-1 1h1m-1 1h1m-1 1h1m-1 1h1m-1 1h1m-1 1h1m-1 1h1m-1 1h1m-1 1h1m-1 1h1m-1 1h1m-1 1h1m-1 1h1m-1 1h1m-1 1h1m-1 1h1m-1 1h1m-1 1h1m-1 1h1m-1 1h1m-1 1h1m-1 1h1m-1 1h1m-1 1h1m-1 1h1m-1 1h1m-1 1h1m-1 1h1m-1 1h1m-1 1h1m-1 1h1m-1 1h1m-1 1h1m-1 2h1m-1 1h1m-1 1h1m-1 2h1m-1 1h1m-1 1h1m-1 2h1m-1 1h1m-1 2h1m-1 1h1m-1 2h1m-1 1h1m-1 1h1m-1 1h1m-1 2h1m-1 1h1m-1 2h1m-1 6h1m-1 1h1m-1 1h1m-1 2h1m-1 1h1m-1 2h1m-1 2h1m-1 3h1m-1 1h1m-1 1h1m-1 2h1m-1 1h1m-1 5h1m-1 12h1m-1 11h1m0-147h1m-1 4h1m-1 1h1m-1 2h1m-1 4h1m-1 1h1m-1 3h1m-1 1h1m-1 3h1m-1 1h1m-1 1h1m-1 1h1m-1 1h1m-1 2h1m-1 1h1m-1 1h1m-1 1h1m-1 1h1m-1 1h1m-1 1h1m-1 1h1m-1 1h1m-1 1h1m-1 1h1m-1 1h1m-1 1h1m-1 1h1m-1 1h1m-1 1h1m-1 1h1m-1 1h1m-1 1h1m-1 1h1m-1 2h1m-1 1h1m-1 1h1m-1 1h1m-1 1h1m-1 1h1m-1 1h1m-1 1h1m-1 1h1m-1 1h1m-1 2h1m-1 1h1m-1 1h1m-1 1h1m-1 2h1m-1 1h1m-1 2h1m-1 1h1m-1 1h1m-1 1h1m-1 1h1m-1 1h1m-1 1h1m-1 1h1m-1 1h1m-1 1h1m-1 1h1m-1 1h1m-1 2h1m-1 1h1m-1 1h1m-1 1h1m-1 1h1m-1 2h1m-1 3h1m-1 1h1m-1 2h1m-1 1h1m-1 1h1m-1 2h1m-1 1h1m-1 1h1m-1 3h1m-1 1h1m-1 1h1m-1 2h1m-1 3h1m-1 3h1m-1 4h1m-1 9h1m-1 4h1m-1 1h1m-1 4h1m-1 7h1m-1 1h1m-1 8h1m0-147h1m-1 5h1m-1 5h1m-1 2h1m-1 1h1m-1 1h1m-1 1h1m-1 1h1m-1 2h1m-1 1h1m-1 3h1m-1 1h1m-1 1h1m-1 1h1m-1 1h1m-1 1h1m-1 1h1m-1 1h1m-1 1h1m-1 1h1m-1 1h1m-1 1h1m-1 1h1m-1 2h1m-1 1h1m-1 1h1m-1 1h1m-1 1h1m-1 1h1m-1 1h1m-1 1h1m-1 1h1m-1 1h1m-1 1h1m-1 1h1m-1 1h1m-1 1h1m-1 2h1m-1 1h1m-1 1h1m-1 1h1m-1 1h1m-1 3h1m-1 1h1m-1 1h1m-1 1h1m-1 1h1m-1 1h1m-1 2h1m-1 1h1m-1 1h1m-1 1h1m-1 1h1m-1 1h1m-1 1h1m-1 1h1m-1 1h1m-1 1h1m-1 1h1m-1 2h1m-1 1h1m-1 1h1m-1 2h1m-1 1h1m-1 1h1m-1 1h1m-1 1h1m-1 2h1m-1 1h1m-1 1h1m-1 1h1m-1 1h1m-1 2h1m-1 1h1m-1 2h1m-1 1h1m-1 1h1m-1 2h1m-1 2h1m-1 1h1m-1 3h1m-1 4h1m-1 1h1m-1 10h1m-1 1h1m-1 2h1m-1 5h1m-1 5h1m-1 8h1m0-142h1m-1 4h1m-1 4h1m-1 2h1m-1 2h1m-1 1h1m-1 1h1m-1 3h1m-1 1h1m-1 1h1m-1 1h1m-1 1h1m-1 1h1m-1 1h1m-1 2h1m-1 1h1m-1 1h1m-1 1h1m-1 2h1m-1 1h1m-1 1h1m-1 1h1m-1 1h1m-1 1h1m-1 3h1m-1 1h1m-1 1h1m-1 1h1m-1 1h1m-1 1h1m-1 1h1m-1 1h1m-1 1h1m-1 1h1m-1 1h1m-1 1h1m-1 3h1m-1 1h1m-1 1h1m-1 1h1m-1 1h1m-1 4h1m-1 2h1m-1 1h1m-1 1h1m-1 1h1m-1 1h1m-1 1h1m-1 1h1m-1 1h1m-1 1h1m-1 1h1m-1 1h1m-1 1h1m-1 1h1m-1 1h1m-1 1h1m-1 1h1m-1 2h1m-1 1h1m-1 1h1m-1 1h1m-1 1h1m-1 1h1m-1 2h1m-1 1h1m-1 1h1m-1 2h1m-1 1h1m-1 1h1m-1 1h1m-1 2h1m-1 1h1m-1 1h1m-1 1h1m-1 2h1m-1 2h1m-1 1h1m-1 3h1m-1 6h1m-1 3h1m-1 2h1m-1 1h1m-1 5h1m-1 6h1m-1 1h1m-1 6h1m0-136h1m-1 2h1m-1 1h1m-1 6h1m-1 2h1m-1 1h1m-1 1h1m-1 1h1m-1 1h1m-1 1h1m-1 1h1m-1 1h1m-1 1h1m-1 1h1m-1 1h1m-1 1h1m-1 1h1m-1 1h1m-1 1h1m-1 1h1m-1 1h1m-1 1h1m-1 1h1m-1 1h1m-1 1h1m-1 1h1m-1 1h1m-1 1h1m-1 1h1m-1 1h1m-1 1h1m-1 1h1m-1 1h1m-1 1h1m-1 1h1m-1 1h1m-1 1h1m-1 1h1m-1 1h1m-1 1h1m-1 1h1m-1 1h1m-1 1h1m-1 1h1m-1 1h1m-1 1h1m-1 1h1m-1 1h1m-1 1h1m-1 1h1m-1 1h1m-1 1h1m-1 1h1m-1 1h1m-1 1h1m-1 1h1m-1 2h1m-1 2h1m-1 1h1m-1 1h1m-1 1h1m-1 1h1m-1 1h1m-1 1h1m-1 1h1m-1 2h1m-1 2h1m-1 1h1m-1 1h1m-1 1h1m-1 1h1m-1 1h1m-1 1h1m-1 1h1m-1 1h1m-1 2h1m-1 1h1m-1 1h1m-1 2h1m-1 1h1m-1 2h1m-1 2h1m-1 3h1m-1 4h1m-1 2h1m-1 3h1m-1 1h1m-1 1h1m-1 2h1m-1 2h1m-1 2h1m-1 1h1m-1 2h1m-1 3h1m-1 3h1m-1 2h1m-1 17h1m-1 1h1m-1 2h1m0-147h1m-1 3h1m-1 6h1m-1 1h1m-1 1h1m-1 1h1m-1 1h1m-1 1h1m-1 3h1m-1 1h1m-1 1h1m-1 1h1m-1 1h1m-1 1h1m-1 1h1m-1 1h1m-1 1h1m-1 1h1m-1 1h1m-1 1h1m-1 1h1m-1 1h1m-1 1h1m-1 1h1m-1 1h1m-1 1h1m-1 1h1m-1 1h1m-1 1h1m-1 1h1m-1 1h1m-1 2h1m-1 1h1m-1 1h1m-1 1h1m-1 1h1m-1 1h1m-1 3h1m-1 1h1m-1 1h1m-1 3h1m-1 3h1m-1 1h1m-1 1h1m-1 1h1m-1 1h1m-1 1h1m-1 1h1m-1 1h1m-1 1h1m-1 1h1m-1 1h1m-1 1h1m-1 1h1m-1 1h1m-1 1h1m-1 1h1m-1 1h1m-1 1h1m-1 1h1m-1 1h1m-1 1h1m-1 1h1m-1 1h1m-1 1h1m-1 1h1m-1 1h1m-1 1h1m-1 1h1m-1 1h1m-1 1h1m-1 1h1m-1 3h1m-1 1h1m-1 1h1m-1 1h1m-1 2h1m-1 2h1m-1 4h1m-1 2h1m-1 2h1m-1 1h1m-1 5h1m-1 1h1m-1 3h1m-1 3h1m-1 1h1m-1 3h1m-1 2h1m-1 3h1m-1 3h1m-1 5h1m-1 12h1m0-147h1m-1 4h1m-1 4h1m-1 2h1m-1 2h1m-1 1h1m-1 6h1m-1 1h1m-1 1h1m-1 1h1m-1 1h1m-1 1h1m-1 1h1m-1 1h1m-1 1h1m-1 1h1m-1 1h1m-1 2h1m-1 1h1m-1 2h1m-1 1h1m-1 1h1m-1 1h1m-1 1h1m-1 1h1m-1 1h1m-1 1h1m-1 2h1m-1 1h1m-1 1h1m-1 1h1m-1 1h1m-1 1h1m-1 1h1m-1 1h1m-1 1h1m-1 1h1m-1 2h1m-1 1h1m-1 1h1m-1 1h1m-1 2h1m-1 2h1m-1 1h1m-1 1h1m-1 1h1m-1 1h1m-1 1h1m-1 1h1m-1 1h1m-1 1h1m-1 1h1m-1 1h1m-1 1h1m-1 1h1m-1 1h1m-1 1h1m-1 1h1m-1 1h1m-1 1h1m-1 1h1m-1 1h1m-1 1h1m-1 1h1m-1 1h1m-1 1h1m-1 1h1m-1 1h1m-1 1h1m-1 1h1m-1 1h1m-1 1h1m-1 1h1m-1 4h1m-1 1h1m-1 1h1m-1 3h1m-1 2h1m-1 3h1m-1 1h1m-1 1h1m-1 1h1m-1 1h1m-1 1h1m-1 2h1m-1 1h1m-1 2h1m-1 1h1m-1 1h1m-1 13h1m-1 3h1m-1 2h1m-1 2h1m-1 2h1m0-139h1m-1 1h1m-1 2h1m-1 5h1m-1 1h1m-1 1h1m-1 4h1m-1 1h1m-1 1h1m-1 1h1m-1 1h1m-1 1h1m-1 1h1m-1 3h1m-1 1h1m-1 1h1m-1 1h1m-1 1h1m-1 2h1m-1 1h1m-1 1h1m-1 1h1m-1 1h1m-1 1h1m-1 1h1m-1 2h1m-1 1h1m-1 1h1m-1 1h1m-1 1h1m-1 1h1m-1 1h1m-1 1h1m-1 1h1m-1 1h1m-1 3h1m-1 3h1m-1 1h1m-1 1h1m-1 1h1m-1 1h1m-1 1h1m-1 1h1m-1 1h1m-1 1h1m-1 2h1m-1 1h1m-1 1h1m-1 1h1m-1 1h1m-1 1h1m-1 1h1m-1 1h1m-1 1h1m-1 1h1m-1 1h1m-1 1h1m-1 1h1m-1 1h1m-1 2h1m-1 1h1m-1 1h1m-1 1h1m-1 1h1m-1 1h1m-1 1h1m-1 1h1m-1 1h1m-1 1h1m-1 1h1m-1 1h1m-1 3h1m-1 1h1m-1 1h1m-1 1h1m-1 1h1m-1 1h1m-1 1h1m-1 1h1m-1 1h1m-1 3h1m-1 1h1m-1 4h1m-1 1h1m-1 2h1m-1 2h1m-1 1h1m-1 3h1m-1 3h1m-1 5h1m-1 1h1m-1 1h1m-1 4h1m-1 17h1m0-147h1m-1 7h1m-1 5h1m-1 3h1m-1 1h1m-1 1h1m-1 2h1m-1 1h1m-1 4h1m-1 1h1m-1 1h1m-1 1h1m-1 2h1m-1 1h1m-1 1h1m-1 1h1m-1 1h1m-1 1h1m-1 1h1m-1 1h1m-1 1h1m-1 1h1m-1 1h1m-1 1h1m-1 1h1m-1 1h1m-1 1h1m-1 1h1m-1 1h1m-1 1h1m-1 1h1m-1 3h1m-1 2h1m-1 2h1m-1 1h1m-1 2h1m-1 1h1m-1 2h1m-1 1h1m-1 2h1m-1 1h1m-1 1h1m-1 1h1m-1 1h1m-1 1h1m-1 1h1m-1 1h1m-1 1h1m-1 1h1m-1 1h1m-1 1h1m-1 1h1m-1 1h1m-1 1h1m-1 1h1m-1 1h1m-1 1h1m-1 1h1m-1 1h1m-1 1h1m-1 1h1m-1 1h1m-1 1h1m-1 1h1m-1 1h1m-1 1h1m-1 1h1m-1 2h1m-1 1h1m-1 1h1m-1 2h1m-1 3h1m-1 2h1m-1 2h1m-1 2h1m-1 2h1m-1 1h1m-1 4h1m-1 2h1m-1 7h1m-1 6h1m-1 3h1m-1 17h1m0-147h1m-1 1h1m-1 1h1m-1 3h1m-1 1h1m-1 2h1m-1 1h1m-1 1h1m-1 1h1m-1 1h1m-1 1h1m-1 1h1m-1 2h1m-1 1h1m-1 1h1m-1 1h1m-1 1h1m-1 1h1m-1 1h1m-1 1h1m-1 2h1m-1 1h1m-1 1h1m-1 1h1m-1 1h1m-1 1h1m-1 1h1m-1 2h1m-1 1h1m-1 1h1m-1 1h1m-1 1h1m-1 1h1m-1 1h1m-1 1h1m-1 1h1m-1 1h1m-1 1h1m-1 1h1m-1 1h1m-1 1h1m-1 2h1m-1 1h1m-1 1h1m-1 1h1m-1 1h1m-1 1h1m-1 1h1m-1 1h1m-1 3h1m-1 2h1m-1 1h1m-1 2h1m-1 1h1m-1 1h1m-1 2h1m-1 1h1m-1 1h1m-1 2h1m-1 2h1m-1 1h1m-1 1h1m-1 1h1m-1 1h1m-1 1h1m-1 1h1m-1 1h1m-1 1h1m-1 1h1m-1 2h1m-1 1h1m-1 1h1m-1 1h1m-1 1h1m-1 1h1m-1 2h1m-1 1h1m-1 2h1m-1 1h1m-1 2h1m-1 2h1m-1 4h1m-1 1h1m-1 1h1m-1 1h1m-1 4h1m-1 2h1m-1 2h1m-1 1h1m-1 7h1m-1 3h1m-1 8h1m-1 1h1m-1 2h1m0-136h1m-1 2h1m-1 6h1m-1 7h1m-1 2h1m-1 1h1m-1 1h1m-1 1h1m-1 1h1m-1 1h1m-1 1h1m-1 1h1m-1 1h1m-1 1h1m-1 1h1m-1 1h1m-1 1h1m-1 1h1m-1 1h1m-1 1h1m-1 1h1m-1 1h1m-1 1h1m-1 1h1m-1 1h1m-1 1h1m-1 1h1m-1 1h1m-1 1h1m-1 1h1m-1 1h1m-1 1h1m-1 2h1m-1 4h1m-1 1h1m-1 1h1m-1 2h1m-1 1h1m-1 1h1m-1 1h1m-1 1h1m-1 1h1m-1 1h1m-1 1h1m-1 1h1m-1 2h1m-1 1h1m-1 1h1m-1 1h1m-1 1h1m-1 1h1m-1 1h1m-1 1h1m-1 1h1m-1 1h1m-1 1h1m-1 1h1m-1 1h1m-1 1h1m-1 1h1m-1 2h1m-1 1h1m-1 1h1m-1 1h1m-1 1h1m-1 1h1m-1 1h1m-1 1h1m-1 3h1m-1 1h1m-1 1h1m-1 1h1m-1 1h1m-1 2h1m-1 1h1m-1 1h1m-1 2h1m-1 1h1m-1 1h1m-1 1h1m-1 1h1m-1 1h1m-1 2h1m-1 1h1m-1 4h1m-1 4h1m-1 1h1m-1 1h1m-1 6h1m-1 1h1m-1 1h1m-1 4h1m-1 2h1m0-132h1m-1 6h1m-1 2h1m-1 1h1m-1 3h1m-1 1h1m-1 2h1m-1 2h1m-1 2h1m-1 1h1m-1 1h1m-1 1h1m-1 3h1m-1 1h1m-1 2h1m-1 1h1m-1 1h1m-1 1h1m-1 1h1m-1 1h1m-1 1h1m-1 1h1m-1 1h1m-1 1h1m-1 1h1m-1 1h1m-1 1h1m-1 1h1m-1 1h1m-1 1h1m-1 1h1m-1 1h1m-1 1h1m-1 1h1m-1 2h1m-1 1h1m-1 1h1m-1 1h1m-1 1h1m-1 1h1m-1 2h1m-1 1h1m-1 2h1m-1 1h1m-1 1h1m-1 1h1m-1 1h1m-1 1h1m-1 1h1m-1 1h1m-1 1h1m-1 1h1m-1 1h1m-1 1h1m-1 1h1m-1 2h1m-1 1h1m-1 1h1m-1 1h1m-1 1h1m-1 1h1m-1 1h1m-1 1h1m-1 1h1m-1 1h1m-1 1h1m-1 1h1m-1 1h1m-1 1h1m-1 1h1m-1 1h1m-1 2h1m-1 1h1m-1 1h1m-1 2h1m-1 2h1m-1 2h1m-1 2h1m-1 8h1m-1 1h1m-1 2h1m-1 1h1m-1 16h1m0-123h1m-1 1h1m-1 6h1m-1 4h1m-1 2h1m-1 1h1m-1 1h1m-1 1h1m-1 1h1m-1 1h1m-1 1h1m-1 1h1m-1 1h1m-1 1h1m-1 2h1m-1 1h1m-1 1h1m-1 1h1m-1 1h1m-1 1h1m-1 1h1m-1 1h1m-1 1h1m-1 1h1m-1 1h1m-1 2h1m-1 3h1m-1 1h1m-1 2h1m-1 1h1m-1 1h1m-1 1h1m-1 1h1m-1 3h1m-1 3h1m-1 1h1m-1 1h1m-1 1h1m-1 1h1m-1 1h1m-1 2h1m-1 1h1m-1 3h1m-1 1h1m-1 2h1m-1 1h1m-1 1h1m-1 1h1m-1 1h1m-1 1h1m-1 1h1m-1 2h1m-1 1h1m-1 1h1m-1 1h1m-1 1h1m-1 1h1m-1 1h1m-1 1h1m-1 1h1m-1 1h1m-1 2h1m-1 1h1m-1 1h1m-1 2h1m-1 1h1m-1 1h1m-1 1h1m-1 1h1m-1 1h1m-1 3h1m-1 2h1m-1 1h1m-1 1h1m-1 1h1m-1 1h1m-1 2h1m-1 5h1m-1 8h1m-1 4h1m-1 1h1m-1 7h1m-1 6h1m-1 1h1m-1 2h1m0-141h1m-1 2h1m-1 1h1m-1 1h1m-1 1h1m-1 2h1m-1 1h1m-1 3h1m-1 2h1m-1 2h1m-1 1h1m-1 1h1m-1 1h1m-1 2h1m-1 2h1m-1 1h1m-1 1h1m-1 2h1m-1 1h1m-1 1h1m-1 1h1m-1 1h1m-1 1h1m-1 1h1m-1 1h1m-1 1h1m-1 1h1m-1 1h1m-1 1h1m-1 1h1m-1 1h1m-1 1h1m-1 2h1m-1 4h1m-1 1h1m-1 1h1m-1 2h1m-1 1h1m-1 1h1m-1 1h1m-1 1h1m-1 1h1m-1 1h1m-1 1h1m-1 1h1m-1 1h1m-1 1h1m-1 1h1m-1 2h1m-1 1h1m-1 1h1m-1 1h1m-1 1h1m-1 1h1m-1 1h1m-1 1h1m-1 1h1m-1 1h1m-1 1h1m-1 1h1m-1 1h1m-1 1h1m-1 1h1m-1 2h1m-1 2h1m-1 1h1m-1 2h1m-1 1h1m-1 1h1m-1 2h1m-1 1h1m-1 2h1m-1 2h1m-1 2h1m-1 2h1m-1 3h1m-1 1h1m-1 2h1m-1 1h1m-1 1h1m-1 2h1m-1 1h1m-1 3h1m-1 1h1m-1 6h1m-1 2h1m-1 2h1m-1 17h1m0-142h1m-1 4h1m-1 4h1m-1 3h1m-1 3h1m-1 1h1m-1 2h1m-1 3h1m-1 2h1m-1 1h1m-1 1h1m-1 1h1m-1 1h1m-1 1h1m-1 1h1m-1 2h1m-1 1h1m-1 1h1m-1 1h1m-1 1h1m-1 1h1m-1 1h1m-1 1h1m-1 1h1m-1 1h1m-1 1h1m-1 2h1m-1 1h1m-1 1h1m-1 1h1m-1 1h1m-1 1h1m-1 1h1m-1 1h1m-1 3h1m-1 2h1m-1 3h1m-1 1h1m-1 2h1m-1 2h1m-1 2h1m-1 1h1m-1 1h1m-1 1h1m-1 1h1m-1 1h1m-1 1h1m-1 1h1m-1 1h1m-1 1h1m-1 2h1m-1 1h1m-1 1h1m-1 1h1m-1 1h1m-1 1h1m-1 1h1m-1 2h1m-1 1h1m-1 1h1m-1 1h1m-1 2h1m-1 1h1m-1 2h1m-1 1h1m-1 1h1m-1 1h1m-1 1h1m-1 3h1m-1 1h1m-1 5h1m-1 2h1m-1 1h1m-1 8h1m-1 3h1m-1 3h1m-1 3h1m-1 8h1m-1 3h1m0-132h1m-1 2h1m-1 6h1m-1 1h1m-1 1h1m-1 1h1m-1 1h1m-1 2h1m-1 2h1m-1 2h1m-1 1h1m-1 2h1m-1 1h1m-1 1h1m-1 1h1m-1 2h1m-1 1h1m-1 1h1m-1 2h1m-1 1h1m-1 1h1m-1 1h1m-1 1h1m-1 1h1m-1 1h1m-1 2h1m-1 1h1m-1 1h1m-1 1h1m-1 1h1m-1 1h1m-1 2h1m-1 2h1m-1 1h1m-1 1h1m-1 2h1m-1 1h1m-1 1h1m-1 1h1m-1 2h1m-1 3h1m-1 1h1m-1 2h1m-1 1h1m-1 1h1m-1 1h1m-1 1h1m-1 1h1m-1 1h1m-1 1h1m-1 1h1m-1 1h1m-1 1h1m-1 1h1m-1 1h1m-1 1h1m-1 1h1m-1 1h1m-1 2h1m-1 1h1m-1 1h1m-1 1h1m-1 1h1m-1 1h1m-1 1h1m-1 1h1m-1 1h1m-1 1h1m-1 1h1m-1 1h1m-1 1h1m-1 1h1m-1 2h1m-1 1h1m-1 1h1m-1 1h1m-1 3h1m-1 3h1m-1 3h1m-1 3h1m-1 1h1m0-109h1m-1 1h1m-1 2h1m-1 3h1m-1 2h1m-1 1h1m-1 2h1m-1 2h1m-1 1h1m-1 2h1m-1 1h1m-1 1h1m-1 1h1m-1 2h1m-1 1h1m-1 2h1m-1 5h1m-1 1h1m-1 1h1m-1 2h1m-1 1h1m-1 2h1m-1 1h1m-1 3h1m-1 1h1m-1 2h1m-1 1h1m-1 2h1m-1 1h1m-1 1h1m-1 1h1m-1 1h1m-1 2h1m-1 1h1m-1 1h1m-1 2h1m-1 2h1m-1 1h1m-1 1h1m-1 1h1m-1 1h1m-1 1h1m-1 1h1m-1 1h1m-1 2h1m-1 2h1m-1 1h1m-1 1h1m-1 2h1m-1 1h1m-1 1h1m-1 1h1m-1 1h1m-1 1h1m-1 1h1m-1 1h1m-1 1h1m-1 1h1m-1 1h1m-1 1h1m-1 1h1m-1 2h1m-1 2h1m-1 3h1m-1 2h1m-1 4h1m-1 8h1m-1 1h1m-1 2h1m-1 34h1m0-147h1m-1 8h1m-1 2h1m-1 2h1m-1 4h1m-1 1h1m-1 1h1m-1 1h1m-1 1h1m-1 1h1m-1 2h1m-1 1h1m-1 1h1m-1 1h1m-1 1h1m-1 2h1m-1 1h1m-1 1h1m-1 1h1m-1 1h1m-1 1h1m-1 1h1m-1 1h1m-1 1h1m-1 1h1m-1 2h1m-1 2h1m-1 1h1m-1 2h1m-1 1h1m-1 1h1m-1 1h1m-1 1h1m-1 1h1m-1 1h1m-1 1h1m-1 3h1m-1 3h1m-1 1h1m-1 2h1m-1 1h1m-1 1h1m-1 1h1m-1 1h1m-1 1h1m-1 1h1m-1 1h1m-1 1h1m-1 1h1m-1 1h1m-1 1h1m-1 1h1m-1 1h1m-1 1h1m-1 1h1m-1 1h1m-1 1h1m-1 1h1m-1 1h1m-1 1h1m-1 1h1m-1 1h1m-1 1h1m-1 2h1m-1 2h1m-1 1h1m-1 1h1m-1 2h1m-1 2h1m-1 1h1m-1 1h1m-1 2h1m-1 2h1m-1 1h1m-1 1h1m-1 1h1m-1 8h1m-1 3h1m-1 3h1m-1 4h1m-1 4h1m-1 10h1m-1 2h1m-1 10h1m0-147h1m-1 3h1m-1 4h1m-1 1h1m-1 1h1m-1 2h1m-1 4h1m-1 2h1m-1 1h1m-1 1h1m-1 3h1m-1 3h1m-1 2h1m-1 1h1m-1 1h1m-1 1h1m-1 2h1m-1 1h1m-1 1h1m-1 1h1m-1 1h1m-1 1h1m-1 2h1m-1 1h1m-1 5h1m-1 2h1m-1 1h1m-1 1h1m-1 1h1m-1 4h1m-1 2h1m-1 1h1m-1 3h1m-1 1h1m-1 1h1m-1 2h1m-1 1h1m-1 1h1m-1 1h1m-1 1h1m-1 1h1m-1 1h1m-1 1h1m-1 2h1m-1 3h1m-1 1h1m-1 1h1m-1 1h1m-1 1h1m-1 2h1m-1 1h1m-1 1h1m-1 1h1m-1 1h1m-1 1h1m-1 1h1m-1 1h1m-1 1h1m-1 1h1m-1 2h1m-1 1h1m-1 5h1m-1 1h1m-1 1h1m-1 5h1m-1 11h1m-1 22h1m-1 5h1m0-144h1m-1 5h1m-1 3h1m-1 2h1m-1 3h1m-1 2h1m-1 3h1m-1 1h1m-1 1h1m-1 2h1m-1 1h1m-1 1h1m-1 1h1m-1 2h1m-1 1h1m-1 1h1m-1 1h1m-1 1h1m-1 1h1m-1 1h1m-1 2h1m-1 4h1m-1 1h1m-1 2h1m-1 2h1m-1 1h1m-1 1h1m-1 1h1m-1 3h1m-1 1h1m-1 5h1m-1 3h1m-1 2h1m-1 2h1m-1 2h1m-1 1h1m-1 1h1m-1 1h1m-1 1h1m-1 1h1m-1 1h1m-1 1h1m-1 1h1m-1 1h1m-1 1h1m-1 1h1m-1 2h1m-1 2h1m-1 1h1m-1 1h1m-1 2h1m-1 1h1m-1 1h1m-1 1h1m-1 1h1m-1 1h1m-1 4h1m-1 1h1m-1 2h1m-1 1h1m-1 4h1m-1 1h1m-1 1h1m-1 1h1m-1 1h1m-1 4h1m-1 7h1m-1 12h1m-1 19h1m0-147h1m-1 2h1m-1 6h1m-1 1h1m-1 2h1m-1 7h1m-1 2h1m-1 3h1m-1 1h1m-1 2h1m-1 1h1m-1 4h1m-1 1h1m-1 3h1m-1 1h1m-1 1h1m-1 2h1m-1 4h1m-1 1h1m-1 2h1m-1 1h1m-1 1h1m-1 1h1m-1 1h1m-1 1h1m-1 1h1m-1 2h1m-1 1h1m-1 1h1m-1 1h1m-1 1h1m-1 2h1m-1 1h1m-1 2h1m-1 1h1m-1 5h1m-1 1h1m-1 1h1m-1 1h1m-1 1h1m-1 1h1m-1 1h1m-1 1h1m-1 1h1m-1 1h1m-1 1h1m-1 1h1m-1 1h1m-1 1h1m-1 1h1m-1 2h1m-1 3h1m-1 1h1m-1 2h1m-1 4h1m-1 1h1m-1 1h1m-1 5h1m-1 1h1m-1 11h1m-1 6h1m0-119h1m-1 3h1m-1 1h1m-1 9h1m-1 2h1m-1 1h1m-1 3h1m-1 1h1m-1 3h1m-1 1h1m-1 1h1m-1 1h1m-1 1h1m-1 2h1m-1 1h1m-1 1h1m-1 1h1m-1 1h1m-1 1h1m-1 1h1m-1 1h1m-1 2h1m-1 2h1m-1 1h1m-1 1h1m-1 7h1m-1 1h1m-1 1h1m-1 2h1m-1 1h1m-1 2h1m-1 1h1m-1 1h1m-1 2h1m-1 1h1m-1 1h1m-1 1h1m-1 4h1m-1 1h1m-1 1h1m-1 1h1m-1 2h1m-1 1h1m-1 1h1m-1 1h1m-1 1h1m-1 1h1m-1 2h1m-1 1h1m-1 1h1m-1 1h1m-1 1h1m-1 1h1m-1 2h1m-1 1h1m-1 1h1m-1 1h1m-1 1h1m-1 1h1m-1 1h1m-1 1h1m-1 1h1m-1 1h1m-1 3h1m-1 1h1m-1 3h1m-1 1h1m-1 2h1m-1 6h1m-1 35h1m0-147h1m-1 2h1m-1 7h1m-1 1h1m-1 1h1m-1 1h1m-1 1h1m-1 4h1m-1 1h1m-1 1h1m-1 5h1m-1 3h1m-1 2h1m-1 1h1m-1 3h1m-1 1h1m-1 1h1m-1 1h1m-1 1h1m-1 1h1m-1 1h1m-1 2h1m-1 1h1m-1 2h1m-1 2h1m-1 4h1m-1 3h1m-1 2h1m-1 1h1m-1 1h1m-1 3h1m-1 2h1m-1 1h1m-1 1h1m-1 2h1m-1 1h1m-1 1h1m-1 1h1m-1 4h1m-1 2h1m-1 2h1m-1 1h1m-1 1h1m-1 1h1m-1 2h1m-1 1h1m-1 2h1m-1 4h1m-1 2h1m-1 5h1m-1 2h1m-1 1h1m-1 2h1m-1 1h1m-1 1h1m-1 4h1m-1 1h1m-1 1h1m-1 10h1m-1 11h1m0-130h1m-1 6h1m-1 2h1m-1 6h1m-1 1h1m-1 1h1m-1 5h1m-1 1h1m-1 2h1m-1 1h1m-1 1h1m-1 2h1m-1 2h1m-1 1h1m-1 5h1m-1 1h1m-1 1h1m-1 1h1m-1 2h1m-1 1h1m-1 1h1m-1 1h1m-1 2h1m-1 3h1m-1 4h1m-1 2h1m-1 3h1m-1 1h1m-1 3h1m-1 1h1m-1 1h1m-1 5h1m-1 1h1m-1 1h1m-1 2h1m-1 1h1m-1 1h1m-1 2h1m-1 1h1m-1 1h1m-1 1h1m-1 1h1m-1 1h1m-1 1h1m-1 2h1m-1 2h1m-1 3h1m-1 1h1m-1 1h1m-1 1h1m-1 1h1m-1 6h1m-1 2h1m-1 1h1m-1 1h1m-1 1h1m-1 3h1m-1 15h1m0-123h1m-1 3h1m-1 1h1m-1 7h1m-1 6h1m-1 1h1m-1 4h1m-1 2h1m-1 2h1m-1 1h1m-1 2h1m-1 2h1m-1 1h1m-1 3h1m-1 1h1m-1 1h1m-1 4h1m-1 1h1m-1 2h1m-1 2h1m-1 3h1m-1 1h1m-1 2h1m-1 1h1m-1 3h1m-1 3h1m-1 1h1m-1 1h1m-1 1h1m-1 1h1m-1 3h1m-1 4h1m-1 1h1m-1 1h1m-1 1h1m-1 1h1m-1 1h1m-1 1h1m-1 1h1m-1 1h1m-1 2h1m-1 2h1m-1 2h1m-1 1h1m-1 3h1m-1 3h1m-1 2h1m-1 10h1m-1 3h1m-1 1h1m-1 9h1m-1 24h1m0-140h1m-1 11h1m-1 3h1m-1 2h1m-1 2h1m-1 1h1m-1 4h1m-1 1h1m-1 3h1m-1 3h1m-1 4h1m-1 1h1m-1 3h1m-1 1h1m-1 1h1m-1 3h1m-1 1h1m-1 4h1m-1 1h1m-1 1h1m-1 3h1m-1 1h1m-1 2h1m-1 1h1m-1 2h1m-1 2h1m-1 1h1m-1 1h1m-1 2h1m-1 3h1m-1 4h1m-1 2h1m-1 2h1m-1 3h1m-1 1h1m-1 1h1m-1 1h1m-1 2h1m-1 1h1m-1 2h1m-1 1h1m-1 4h1m-1 1h1m-1 2h1m-1 7h1m-1 4h1m-1 5h1m0-102h1m-1 3h1m-1 1h1m-1 2h1m-1 2h1m-1 1h1m-1 3h1m-1 2h1m-1 1h1m-1 1h1m-1 7h1m-1 1h1m-1 2h1m-1 2h1m-1 2h1m-1 3h1m-1 1h1m-1 1h1m-1 1h1m-1 4h1m-1 6h1m-1 1h1m-1 5h1m-1 3h1m-1 1h1m-1 1h1m-1 3h1m-1 2h1m-1 2h1m-1 1h1m-1 2h1m-1 4h1m-1 2h1m-1 2h1m-1 1h1m-1 1h1m-1 2h1m-1 4h1m-1 7h1m-1 7h1m-1 9h1m-1 1h1m-1 13h1m-1 5h1m0-131h1m-1 4h1m-1 3h1m-1 4h1m-1 2h1m-1 1h1m-1 3h1m-1 1h1m-1 1h1m-1 2h1m-1 4h1m-1 1h1m-1 1h1m-1 4h1m-1 2h1m-1 1h1m-1 1h1m-1 5h1m-1 4h1m-1 1h1m-1 3h1m-1 2h1m-1 1h1m-1 4h1m-1 3h1m-1 1h1m-1 2h1m-1 2h1m-1 1h1m-1 2h1m-1 1h1m-1 1h1m-1 1h1m-1 4h1m-1 1h1m-1 2h1m-1 1h1m-1 1h1m-1 1h1m-1 1h1m-1 1h1m-1 1h1m-1 1h1m-1 1h1m-1 6h1m-1 1h1m-1 2h1m-1 6h1m-1 9h1m-1 5h1m-1 31h1m0-147h1m-1 21h1m-1 2h1m-1 4h1m-1 1h1m-1 2h1m-1 1h1m-1 4h1m-1 5h1m-1 4h1m-1 6h1m-1 1h1m-1 2h1m-1 1h1m-1 5h1m-1 1h1m-1 3h1m-1 2h1m-1 1h1m-1 5h1m-1 1h1m-1 1h1m-1 1h1m-1 2h1m-1 3h1m-1 1h1m-1 1h1m-1 2h1m-1 3h1m-1 2h1m-1 3h1m-1 2h1m-1 2h1m-1 5h1m-1 2h1m-1 2h1m-1 11h1m-1 9h1m0-124h1m-1 10h1m-1 1h1m-1 1h1m-1 4h1m-1 6h1m-1 1h1m-1 4h1m-1 2h1m-1 1h1m-1 8h1m-1 1h1m-1 2h1m-1 2h1m-1 1h1m-1 2h1m-1 2h1m-1 3h1m-1 8h1m-1 1h1m-1 2h1m-1 5h1m-1 2h1m-1 2h1m-1 3h1m-1 1h1m-1 2h1m-1 5h1m-1 1h1m-1 1h1m-1 2h1m-1 4h1m-1 2h1m-1 8h1m-1 3h1m-1 29h1m0-125h1m-1 3h1m-1 6h1m-1 5h1m-1 2h1m-1 1h1m-1 2h1m-1 1h1m-1 7h1m-1 3h1m-1 1h1m-1 2h1m-1 2h1m-1 18h1m-1 2h1m-1 1h1m-1 2h1m-1 2h1m-1 4h1m-1 3h1m-1 2h1m-1 2h1m-1 1h1m-1 2h1m-1 3h1m-1 4h1m-1 4h1m-1 3h1m-1 13h1m0-105h1m-1 1h1m-1 2h1m-1 5h1m-1 3h1m-1 1h1m-1 1h1m-1 4h1m-1 3h1m-1 2h1m-1 6h1m-1 3h1m-1 2h1m-1 10h1m-1 1h1m-1 7h1m-1 6h1m-1 4h1m-1 5h1m-1 1h1m-1 2h1m-1 2h1m-1 5h1m-1 4h1m-1 9h1m-1 1h1m-1 9h1m-1 14h1m0-116h1m-1 3h1m-1 13h1m-1 4h1m-1 1h1m-1 1h1m-1 5h1m-1 6h1m-1 4h1m-1 14h1m-1 2h1m-1 7h1m-1 3h1m-1 5h1m-1 1h1m-1 4h1m-1 1h1m-1 9h1m-1 1h1m-1 2h1m-1 1h1m-1 4h1m-1 1h1m-1 2h1m-1 30h1m0-124h1m-1 7h1m-1 5h1m-1 1h1m-1 3h1m-1 10h1m-1 6h1m-1 4h1m-1 6h1m-1 18h1m-1 5h1m-1 3h1m-1 3h1m-1 3h1m-1 2h1m-1 1h1m-1 1h1m-1 6h1m-1 2h1m-1 1h1m-1 1h1m-1 3h1m-1 22h1m0-113h1m-1 6h1m-1 4h1m-1 1h1m-1 4h1m-1 14h1m-1 1h1m-1 4h1m-1 2h1m-1 3h1m-1 4h1m-1 8h1m-1 9h1m-1 2h1m-1 1h1m-1 1h1m-1 6h1m-1 5h1m-1 1h1m-1 14h1m-1 1h1m-1 10h1m0-85h1m-1 2h1m-1 5h1m-1 10h1m-1 3h1m-1 2h1m-1 3h1m-1 1h1m-1 1h1m-1 3h1m-1 3h1m-1 5h1m-1 5h1m-1 1h1m-1 2h1m-1 19h1m-1 4h1m-1 5h1m-1 2h1m-1 2h1m-1 2h1m-1 7h1m-1 37h1m0-119h1m-1 2h1m-1 3h1m-1 5h1m-1 2h1m-1 1h1m-1 3h1m-1 4h1m-1 18h1m-1 15h1m-1 3h1m-1 3h1m-1 2h1m-1 8h1m-1 1h1m-1 16h1m0-102h1m-1 7h1m-1 2h1m-1 3h1m-1 16h1m-1 4h1m-1 1h1m-1 1h1m-1 16h1m-1 11h1m-1 4h1m-1 4h1m0-69h1m-1 10h1m-1 8h1m-1 2h1m-1 2h1m-1 4h1m-1 8h1m-1 2h1m-1 3h1m-1 1h1m-1 5h1m-1 19h1m-1 4h1m-1 2h1m-1 3h1m-1 3h1m-1 8h1m-1 3h1m-1 1h1m-1 1h1m-1 42h1m0-122h1m-1 12h1m-1 4h1m-1 1h1m-1 3h1m-1 1h1m-1 1h1m-1 35h1m-1 2h1m-1 3h1m-1 2h1m-1 3h1m-1 1h1m-1 2h1m-1 5h1m-1 6h1m-1 16h1m0-81h1m-1 2h1m-1 3h1m-1 1h1m-1 2h1m-1 1h1m-1 4h1m-1 18h1m-1 5h1m-1 17h1m-1 9h1m0-78h1m-1 12h1m-1 7h1m-1 1h1m-1 14h1m-1 5h1m-1 1h1m-1 13h1m-1 4h1m-1 5h1m-1 1h1m-1 5h1m-1 1h1m-1 2h1m0-47h1m-1 1h1m-1 7h1m-1 17h1m-1 14h1m-1 7h1m-1 10h1m-1 4h1m0-93h1m-1 5h1m-1 15h1m-1 2h1m-1 2h1m-1 12h1m-1 1h1m-1 6h1m-1 6h1m-1 3h1m-1 4h1m-1 33h1m-1 31h1m0-121h1m-1 24h1m-1 27h1m-1 22h1m-1 7h1m-1 31h1m-1 3h1m0-105h1m-1 8h1m-1 1h1m-1 4h1m-1 11h1m-1 6h1m-1 27h1m-1 8h1m-1 24h1m0-89h1m-1 7h1m-1 12h1m-1 3h1m-1 16h1m-1 19h1m0-56h1m-1 29h1m-1 21h1m-1 3h1m-1 26h1m0-93h1m-1 10h1m-1 26h1m-1 8h1m-1 17h1m-1 4h1m-1 12h1m-1 32h1m0-80h1m-1 61h1m0-90h1m-1 15h1m-1 4h1m-1 5h1m0 11h1m-1 64h1m0-74h1m-1 86h1m-1 26h1m0-137h1m-1 14h1m-1 12h1m-1 8h1m-1 16h1m-1 9h1m-1 10h1m-1 12h1m-1 26h1m-1 37h1m0-144h1m-1 3h1m-1 29h1m-1 8h1m-1 42h1m-1 21h1m0-75h1m-1 50h1m-1 7h1m0-61h1m-1 16h1m-1 17h1m-1 8h1m0-39h1m-1 21h1m-1 33h1m-1 10h1m0-42h1m-1 12h1m-1 27h1m0-48h1m0 15h1m-1 2h1m0-53h1m-1 2h1m-1 2h1m-1 35h1m-1 27h1m1 33h1m0-44h1m0-52h1m-1 55h1m-1 53h1m0-75h1m-1 30h1m-1 48h1m1-90h1m1 31h1m0-19h1m0-39h1m-1 35h1m0 97h1m0 6h1m0-107h1m-1 8h1m1-38h1m-1 82h1m0-20h1m1-53h1m0 73h1m-1 52h1m0-111h1m-1 19h1" stroke="#000" stroke-opacity="0.9" stroke-width="1.8" fill="none" filter="url(#bl)"/>
</g>
<rect x="440.0" y="107.6" width="75.2" height="76.2" fill="none" stroke="#888" stroke-width="0.8"/>
<line x1="442.0" y1="184.2" x2="514.2" y2="184.2" stroke="#555" stroke-width="1.0" stroke-dasharray="1 6.77 .6 3.76 .6 2.63 .6 2.84"/>
<line x1="439.6" y1="181.8" x2="439.6" y2="108.6" stroke="#555" stroke-width="1.0" stroke-dasharray="1 6.77 .6 3.76 .6 2.63 .6 2.84"/>
<line x1="485.8" y1="107.6" x2="485.8" y2="183.8" stroke="#000" stroke-width="0.7" stroke-opacity=".55"/>
<line x1="440.0" y1="137.0" x2="515.2" y2="137.0" stroke="#000" stroke-width="0.7" stroke-opacity=".55"/>
<text x="442.0" y="111.8" font-size="3.2" text-anchor="start" font-weight="normal" fill="#333" >57.76%</text>
<text x="513.2" y="111.8" font-size="3.2" text-anchor="end" font-weight="normal" fill="#333" >2.32%</text>
<text x="442.0" y="182.0" font-size="3.2" text-anchor="start" font-weight="normal" fill="#333" >39.82%</text>
<text x="513.2" y="182.0" font-size="3.2" text-anchor="end" font-weight="normal" fill="#333" >4.10%</text>
<line x1="428.9" y1="166.0" x2="428.9" y2="195.2" stroke="#444" stroke-width="0.8" />
<line x1="428.9" y1="195.2" x2="463.5" y2="195.2" stroke="#444" stroke-width="0.8" />
<text x="426.9" y="193.7" font-size="5.6" text-anchor="start" font-weight="normal" fill="#222" transform="rotate(-90 426.9 193.7)" >CD8&#945;</text>
<text x="430.4" y="203.2" font-size="6.8" text-anchor="start" font-weight="normal" fill="#222" textLength="11.5" lengthAdjust="spacingAndGlyphs">CD4</text>
<text x="2.8" y="290.5" font-size="14" text-anchor="start" font-weight="bold" fill="#000" >D</text>
<rect x="44.4" y="378.9" width="7.5" height="49.7" fill="#000" stroke="#000" stroke-width="1.3"/>
<line x1="48.2" y1="370.9" x2="48.2" y2="378.3" stroke="#222" stroke-width="1.0" />
<line x1="45.6" y1="370.9" x2="50.8" y2="370.9" stroke="#222" stroke-width="1.0" />
<rect x="56.0" y="328.3" width="7.4" height="100.3" fill="#fff" stroke="#000" stroke-width="1.3"/>
<line x1="59.8" y1="310.4" x2="59.8" y2="327.7" stroke="#222" stroke-width="1.0" />
<line x1="57.1" y1="310.4" x2="62.4" y2="310.4" stroke="#222" stroke-width="1.0" />
<rect x="75.1" y="401.2" width="7.4" height="27.4" fill="#000" stroke="#000" stroke-width="1.3"/>
<line x1="78.8" y1="395.6" x2="78.8" y2="400.6" stroke="#222" stroke-width="1.0" />
<line x1="76.2" y1="395.6" x2="81.3" y2="395.6" stroke="#222" stroke-width="1.0" />
<rect x="86.7" y="346.8" width="7.4" height="81.8" fill="#fff" stroke="#000" stroke-width="1.3"/>
<line x1="90.3" y1="333.7" x2="90.3" y2="346.1" stroke="#222" stroke-width="1.0" />
<line x1="87.8" y1="333.7" x2="92.9" y2="333.7" stroke="#222" stroke-width="1.0" />
<rect x="106.0" y="408.6" width="7.4" height="20.0" fill="#000" stroke="#000" stroke-width="1.3"/>
<line x1="109.7" y1="405.0" x2="109.7" y2="408.0" stroke="#222" stroke-width="1.0" />
<line x1="107.1" y1="405.0" x2="112.2" y2="405.0" stroke="#222" stroke-width="1.0" />
<rect x="117.5" y="421.6" width="7.4" height="7.0" fill="#fff" stroke="#000" stroke-width="1.3"/>
<line x1="121.2" y1="420.1" x2="121.2" y2="420.9" stroke="#222" stroke-width="1.0" />
<line x1="118.6" y1="420.1" x2="123.8" y2="420.1" stroke="#222" stroke-width="1.0" />
<line x1="38.4" y1="290.4" x2="38.4" y2="429.3" stroke="#000" stroke-width="1.4" />
<line x1="33.9" y1="428.6" x2="131.5" y2="428.6" stroke="#000" stroke-width="1.4" />
<line x1="33.9" y1="428.6" x2="38.4" y2="428.6" stroke="#000" stroke-width="1.3" />
<text x="32.8" y="432.3" font-size="10.2" text-anchor="end" font-weight="bold" fill="#000" >0</text>
<line x1="33.9" y1="401.1" x2="38.4" y2="401.1" stroke="#000" stroke-width="1.3" />
<text x="32.8" y="404.8" font-size="10.2" text-anchor="end" font-weight="bold" fill="#000" >1</text>
<line x1="33.9" y1="373.6" x2="38.4" y2="373.6" stroke="#000" stroke-width="1.3" />
<text x="32.8" y="377.3" font-size="10.2" text-anchor="end" font-weight="bold" fill="#000" >2</text>
<line x1="33.9" y1="346.1" x2="38.4" y2="346.1" stroke="#000" stroke-width="1.3" />
<text x="32.8" y="349.8" font-size="10.2" text-anchor="end" font-weight="bold" fill="#000" >3</text>
<line x1="33.9" y1="318.6" x2="38.4" y2="318.6" stroke="#000" stroke-width="1.3" />
<text x="32.8" y="322.3" font-size="10.2" text-anchor="end" font-weight="bold" fill="#000" >4</text>
<line x1="33.9" y1="291.1" x2="38.4" y2="291.1" stroke="#000" stroke-width="1.3" />
<text x="32.8" y="294.8" font-size="10.2" text-anchor="end" font-weight="bold" fill="#000" >5</text>
<line x1="76.4" y1="330.0" x2="94.8" y2="330.0" stroke="#000" stroke-width="1" />
<text x="85.7" y="331.0" font-size="13" text-anchor="middle" font-weight="normal" fill="#000" >*</text>
<line x1="108.0" y1="397.0" x2="126.2" y2="397.0" stroke="#000" stroke-width="1" />
<text x="117.0" y="398.0" font-size="13" text-anchor="middle" font-weight="normal" fill="#000" >**</text>
<text x="56.2" y="440.5" font-size="9.6" text-anchor="middle" font-weight="normal" fill="#000" >CD8<tspan dy="-3.5" font-size="7">+</tspan><tspan dy="3.5" font-size="1">&#8203;</tspan></text>
<text x="82.8" y="440.5" font-size="9.6" text-anchor="middle" font-weight="normal" fill="#000" >DN</text>
<text x="117.3" y="440.5" font-size="9.6" text-anchor="middle" font-weight="normal" fill="#000" >CD4<tspan dy="-3.5" font-size="7">+</tspan><tspan dy="3.5" font-size="1">&#8203;</tspan></text>
<text x="21.2" y="359.8" font-size="9.8" text-anchor="middle" font-weight="normal" fill="#000" transform="rotate(-90 21.2 359.8)" ># cDC x 10<tspan dy="-4.6" font-size="5.2">-5</tspan><tspan dy="4.6" font-size="1">&#8203;</tspan>/spleen</text>
<rect x="52.0" y="461.6" width="15.5" height="5.8" fill="#000" stroke="#000" stroke-width="1.2"/>
<text x="75.0" y="467.2" font-size="9.7" text-anchor="start" font-weight="normal" fill="#000" >non-GVHD</text>
<rect x="52.0" y="477.0" width="15.5" height="5.8" fill="#fff" stroke="#000" stroke-width="1.3"/>
<text x="75.0" y="483.1" font-size="9.7" text-anchor="start" font-weight="normal" fill="#000" >GVHD</text>
<text x="155.2" y="290.4" font-size="14" text-anchor="start" font-weight="bold" fill="#000" >E</text>
<text x="219.3" y="286.2" font-size="9.9" text-anchor="middle" font-weight="bold" fill="#000" >C3H/Hej <tspan font-family="DejaVu Sans, sans-serif" font-size="10">&#8594;</tspan> B6</text>
<text x="219.8" y="297.6" font-size="9.9" text-anchor="middle" font-weight="bold" fill="#000" >Day 10</text>
<text x="289.5" y="284.6" font-size="9.9" text-anchor="middle" font-weight="bold" fill="#000" >B6 <tspan font-family="DejaVu Sans, sans-serif" font-size="10">&#8594;</tspan> B6D2F1</text>
<text x="290.0" y="296.9" font-size="9.9" text-anchor="middle" font-weight="bold" fill="#000" >Day 10</text>
<text x="182.2" y="330.3" font-size="9.7" text-anchor="end" font-weight="bold" fill="#000" >Non-GVHD</text>
<text x="183.3" y="407.0" font-size="9.7" text-anchor="end" font-weight="bold" fill="#000" >GVHD</text>
<clipPath id="c171"><rect x="189.5" y="304.5" width="58.0" height="59.3"/></clipPath>
<g clip-path="url(#c171)">
<ellipse cx="216.5" cy="314.5" rx="12.0" ry="12.0" transform="rotate(90 216.5 314.5)" fill="url(#gg)" fill-opacity="1.0"/>
<ellipse cx="216.5" cy="314.5" rx="7.8" ry="7.4" transform="rotate(90 216.5 314.5)" fill="url(#gg)" fill-opacity="1.0"/>
<ellipse cx="214.5" cy="332.5" rx="14.3" ry="11.5" transform="rotate(90 214.5 332.5)" fill="url(#gg)" fill-opacity="0.8"/>
<ellipse cx="215.0" cy="324.0" rx="11.5" ry="10.3" transform="rotate(90 215.0 324.0)" fill="url(#gg)" fill-opacity="0.35"/>
<ellipse cx="233.4" cy="334.5" rx="9.9" ry="8.7" transform="rotate(90 233.4 334.5)" fill="url(#gg)" fill-opacity="0.55"/>
<path transform="scale(.5)" d="M381 618h1m-1 3h1m-1 4h1m-1 5h1m-1 1h1m-1 2h1m-1 3h1m-1 1h1m-1 4h1m-1 1h1m-1 6h1m-1 1h1m-1 1h1m-1 2h1m-1 3h1m-1 5h1m-1 6h1m-1 5h1m-1 22h1m0-59h1m-1 11h1m-1 8h1m-1 2h1m0-25h1m-1 6h1m-1 21h1m-1 1h1m0-20h1m-1 17h1m-1 5h1m-1 6h1m-1 7h1m0-45h1m-1 3h1m-1 3h1m-1 5h1m-1 18h1m-1 3h1m-1 2h1m-1 6h1m-1 12h1m-1 17h1m-1 5h1m0-79h1m-1 16h1m-1 2h1m-1 1h1m-1 2h1m-1 4h1m-1 15h1m-1 39h1m-1 8h1m-1 8h1m0-107h1m-1 16h1m-1 22h1m0-38h1m-1 2h1m-1 12h1m-1 2h1m-1 2h1m-1 1h1m-1 3h1m-1 5h1m-1 7h1m-1 12h1m-1 7h1m-1 36h1m0-76h1m-1 6h1m-1 13h1m-1 6h1m-1 9h1m-1 4h1m-1 23h1m-1 6h1m-1 2h1m0-82h1m-1 11h1m-1 2h1m-1 11h1m-1 4h1m-1 2h1m-1 6h1m-1 6h1m-1 1h1m-1 21h1m0-57h1m-1 5h1m-1 9h1m-1 3h1m-1 1h1m-1 2h1m-1 1h1m-1 2h1m-1 4h1m-1 2h1m-1 1h1m-1 5h1m0-42h1m-1 6h1m-1 14h1m-1 1h1m-1 9h1m-1 5h1m-1 6h1m-1 6h1m-1 12h1m-1 5h1m-1 1h1m0-65h1m-1 1h1m-1 3h1m-1 7h1m-1 2h1m-1 6h1m-1 7h1m-1 8h1m-1 5h1m-1 6h1m-1 2h1m-1 1h1m-1 1h1m-1 2h1m-1 1h1m-1 6h1m0-58h1m-1 22h1m-1 1h1m-1 1h1m-1 6h1m-1 16h1m-1 2h1m-1 4h1m-1 3h1m-1 15h1m-1 11h1m-1 3h1m0-84h1m-1 6h1m-1 4h1m-1 7h1m-1 2h1m-1 4h1m-1 1h1m-1 7h1m-1 1h1m-1 5h1m-1 2h1m-1 4h1m-1 9h1m-1 6h1m0-58h1m-1 5h1m-1 5h1m-1 2h1m-1 6h1m-1 4h1m-1 5h1m-1 9h1m-1 1h1m-1 2h1m-1 6h1m-1 8h1m0-49h1m-1 9h1m-1 4h1m-1 1h1m-1 5h1m-1 1h1m-1 1h1m-1 2h1m-1 1h1m-1 3h1m-1 2h1m-1 7h1m-1 18h1m-1 7h1m-1 8h1m-1 10h1m-1 10h1m-1 7h1m0-100h1m-1 1h1m-1 1h1m-1 5h1m-1 1h1m-1 1h1m-1 3h1m-1 12h1m-1 14h1m-1 1h1m-1 6h1m-1 1h1m-1 1h1m-1 2h1m-1 14h1m-1 7h1m0-64h1m-1 6h1m-1 1h1m-1 5h1m-1 1h1m-1 6h1m-1 2h1m-1 1h1m-1 2h1m-1 2h1m-1 5h1m-1 3h1m-1 1h1m-1 22h1m-1 1h1m-1 1h1m0-61h1m-1 1h1m-1 2h1m-1 2h1m-1 1h1m-1 2h1m-1 1h1m-1 4h1m-1 1h1m-1 6h1m-1 1h1m-1 1h1m-1 1h1m-1 1h1m-1 3h1m-1 2h1m-1 1h1m-1 5h1m-1 11h1m-1 4h1m-1 2h1m-1 4h1m-1 1h1m-1 9h1m-1 6h1m-1 26h1m0-93h1m-1 2h1m-1 8h1m-1 4h1m-1 1h1m-1 6h1m-1 1h1m-1 2h1m-1 4h1m-1 1h1m-1 1h1m-1 2h1m-1 2h1m-1 3h1m-1 1h1m-1 4h1m-1 2h1m-1 18h1m-1 6h1m0-77h1m-1 2h1m-1 7h1m-1 6h1m-1 1h1m-1 5h1m-1 2h1m-1 5h1m-1 1h1m-1 1h1m-1 1h1m-1 4h1m-1 1h1m-1 2h1m-1 3h1m-1 1h1m-1 2h1m-1 3h1m-1 2h1m-1 16h1m-1 15h1m-1 6h1m0-86h1m-1 12h1m-1 1h1m-1 1h1m-1 1h1m-1 1h1m-1 1h1m-1 1h1m-1 2h1m-1 3h1m-1 1h1m-1 1h1m-1 1h1m-1 3h1m-1 1h1m-1 6h1m-1 2h1m-1 6h1m-1 3h1m-1 2h1m-1 2h1m-1 6h1m-1 2h1m-1 4h1m-1 4h1m-1 2h1m-1 1h1m-1 6h1m-1 14h1m0-90h1m-1 3h1m-1 4h1m-1 1h1m-1 1h1m-1 9h1m-1 4h1m-1 1h1m-1 2h1m-1 1h1m-1 1h1m-1 2h1m-1 1h1m-1 1h1m-1 2h1m-1 1h1m-1 1h1m-1 1h1m-1 2h1m-1 6h1m-1 8h1m-1 1h1m-1 1h1m-1 2h1m-1 2h1m-1 1h1m-1 5h1m-1 6h1m-1 3h1m-1 2h1m0-75h1m-1 12h1m-1 1h1m-1 2h1m-1 4h1m-1 3h1m-1 4h1m-1 1h1m-1 2h1m-1 1h1m-1 1h1m-1 5h1m-1 1h1m-1 4h1m-1 1h1m-1 1h1m-1 1h1m-1 3h1m-1 11h1m-1 10h1m-1 27h1m0-95h1m-1 12h1m-1 9h1m-1 1h1m-1 7h1m-1 4h1m-1 1h1m-1 1h1m-1 1h1m-1 2h1m-1 1h1m-1 1h1m-1 2h1m-1 1h1m-1 1h1m-1 4h1m-1 1h1m-1 3h1m-1 5h1m-1 1h1m-1 5h1m0-63h1m-1 2h1m-1 8h1m-1 1h1m-1 4h1m-1 2h1m-1 2h1m-1 1h1m-1 1h1m-1 1h1m-1 5h1m-1 4h1m-1 1h1m-1 2h1m-1 1h1m-1 1h1m-1 7h1m-1 1h1m-1 2h1m-1 2h1m-1 1h1m-1 6h1m-1 1h1m-1 3h1m-1 2h1m-1 9h1m-1 11h1m-1 9h1m-1 2h1m-1 2h1m0-94h1m-1 1h1m-1 4h1m-1 4h1m-1 1h1m-1 3h1m-1 4h1m-1 3h1m-1 3h1m-1 2h1m-1 2h1m-1 2h1m-1 1h1m-1 2h1m-1 1h1m-1 3h1m-1 4h1m-1 1h1m-1 1h1m-1 1h1m-1 3h1m-1 1h1m-1 1h1m-1 4h1m-1 1h1m-1 6h1m-1 2h1m-1 1h1m-1 2h1m-1 1h1m-1 9h1m-1 10h1m0-76h1m-1 1h1m-1 5h1m-1 1h1m-1 1h1m-1 3h1m-1 6h1m-1 1h1m-1 2h1m-1 1h1m-1 1h1m-1 2h1m-1 3h1m-1 2h1m-1 1h1m-1 1h1m-1 4h1m-1 4h1m-1 1h1m-1 1h1m-1 1h1m-1 3h1m-1 4h1m-1 1h1m-1 4h1m-1 34h1m-1 5h1m-1 12h1m0-113h1m-1 14h1m-1 2h1m-1 1h1m-1 4h1m-1 1h1m-1 2h1m-1 4h1m-1 1h1m-1 1h1m-1 2h1m-1 2h1m-1 3h1m-1 1h1m-1 2h1m-1 1h1m-1 1h1m-1 5h1m-1 1h1m-1 1h1m-1 1h1m-1 2h1m-1 3h1m-1 7h1m-1 6h1m-1 5h1m-1 2h1m-1 5h1m0-80h1m-1 1h1m-1 1h1m-1 7h1m-1 2h1m-1 7h1m-1 2h1m-1 2h1m-1 4h1m-1 1h1m-1 1h1m-1 1h1m-1 3h1m-1 2h1m-1 1h1m-1 2h1m-1 1h1m-1 1h1m-1 3h1m-1 5h1m-1 1h1m-1 3h1m-1 2h1m-1 2h1m-1 1h1m-1 2h1m-1 2h1m-1 4h1m-1 2h1m-1 2h1m-1 1h1m-1 3h1m-1 1h1m-1 16h1m-1 1h1m-1 12h1m0-102h1m-1 1h1m-1 8h1m-1 1h1m-1 2h1m-1 1h1m-1 2h1m-1 2h1m-1 2h1m-1 2h1m-1 1h1m-1 1h1m-1 1h1m-1 1h1m-1 2h1m-1 2h1m-1 1h1m-1 1h1m-1 2h1m-1 1h1m-1 3h1m-1 1h1m-1 1h1m-1 1h1m-1 1h1m-1 1h1m-1 2h1m-1 1h1m-1 2h1m-1 1h1m-1 1h1m-1 2h1m-1 2h1m-1 2h1m-1 2h1m-1 1h1m-1 3h1m-1 1h1m-1 2h1m-1 3h1m-1 2h1m-1 1h1m-1 1h1m-1 2h1m-1 5h1m-1 4h1m0-82h1m-1 4h1m-1 2h1m-1 4h1m-1 1h1m-1 2h1m-1 1h1m-1 3h1m-1 2h1m-1 1h1m-1 1h1m-1 1h1m-1 1h1m-1 1h1m-1 5h1m-1 2h1m-1 1h1m-1 1h1m-1 2h1m-1 2h1m-1 2h1m-1 1h1m-1 3h1m-1 1h1m-1 2h1m-1 3h1m-1 1h1m-1 2h1m-1 1h1m-1 7h1m-1 4h1m-1 10h1m-1 1h1m0-75h1m-1 4h1m-1 2h1m-1 2h1m-1 3h1m-1 1h1m-1 2h1m-1 1h1m-1 2h1m-1 1h1m-1 1h1m-1 1h1m-1 3h1m-1 3h1m-1 1h1m-1 1h1m-1 2h1m-1 6h1m-1 4h1m-1 1h1m-1 2h1m-1 1h1m-1 2h1m-1 1h1m-1 2h1m-1 1h1m-1 2h1m-1 3h1m-1 2h1m-1 1h1m-1 1h1m-1 1h1m-1 2h1m-1 5h1m-1 6h1m-1 1h1m-1 16h1m-1 10h1m0-100h1m-1 2h1m-1 3h1m-1 2h1m-1 3h1m-1 1h1m-1 6h1m-1 1h1m-1 3h1m-1 1h1m-1 1h1m-1 1h1m-1 1h1m-1 2h1m-1 1h1m-1 1h1m-1 2h1m-1 2h1m-1 3h1m-1 4h1m-1 1h1m-1 1h1m-1 1h1m-1 1h1m-1 1h1m-1 1h1m-1 1h1m-1 2h1m-1 1h1m-1 5h1m-1 1h1m-1 1h1m-1 1h1m-1 1h1m-1 1h1m-1 2h1m-1 2h1m-1 3h1m-1 1h1m-1 4h1m-1 4h1m-1 1h1m-1 16h1m0-89h1m-1 1h1m-1 1h1m-1 4h1m-1 3h1m-1 1h1m-1 1h1m-1 1h1m-1 2h1m-1 1h1m-1 1h1m-1 1h1m-1 1h1m-1 1h1m-1 1h1m-1 1h1m-1 1h1m-1 4h1m-1 1h1m-1 1h1m-1 2h1m-1 1h1m-1 2h1m-1 2h1m-1 1h1m-1 3h1m-1 1h1m-1 1h1m-1 1h1m-1 1h1m-1 2h1m-1 3h1m-1 2h1m-1 1h1m-1 1h1m-1 1h1m-1 1h1m-1 1h1m-1 3h1m-1 1h1m-1 1h1m-1 1h1m-1 6h1m-1 5h1m-1 2h1m-1 1h1m-1 25h1m-1 6h1m-1 4h1m0-114h1m-1 3h1m-1 5h1m-1 2h1m-1 1h1m-1 1h1m-1 1h1m-1 1h1m-1 1h1m-1 2h1m-1 2h1m-1 1h1m-1 3h1m-1 1h1m-1 2h1m-1 1h1m-1 1h1m-1 2h1m-1 2h1m-1 1h1m-1 1h1m-1 2h1m-1 1h1m-1 1h1m-1 1h1m-1 1h1m-1 2h1m-1 3h1m-1 2h1m-1 2h1m-1 1h1m-1 1h1m-1 1h1m-1 1h1m-1 1h1m-1 1h1m-1 2h1m-1 2h1m-1 1h1m-1 1h1m-1 2h1m-1 1h1m-1 3h1m-1 3h1m-1 1h1m-1 2h1m-1 3h1m-1 3h1m-1 1h1m-1 17h1m-1 10h1m-1 7h1m0-114h1m-1 1h1m-1 1h1m-1 2h1m-1 1h1m-1 3h1m-1 1h1m-1 1h1m-1 1h1m-1 2h1m-1 2h1m-1 1h1m-1 1h1m-1 1h1m-1 2h1m-1 2h1m-1 1h1m-1 1h1m-1 1h1m-1 1h1m-1 1h1m-1 1h1m-1 2h1m-1 1h1m-1 1h1m-1 1h1m-1 2h1m-1 1h1m-1 1h1m-1 1h1m-1 1h1m-1 1h1m-1 2h1m-1 1h1m-1 1h1m-1 1h1m-1 3h1m-1 1h1m-1 1h1m-1 2h1m-1 2h1m-1 1h1m-1 2h1m-1 2h1m-1 1h1m-1 1h1m-1 1h1m-1 5h1m-1 1h1m-1 1h1m-1 5h1m-1 1h1m-1 3h1m-1 6h1m-1 2h1m-1 5h1m-1 13h1m0-98h1m-1 1h1m-1 4h1m-1 2h1m-1 2h1m-1 1h1m-1 1h1m-1 1h1m-1 1h1m-1 2h1m-1 3h1m-1 2h1m-1 1h1m-1 1h1m-1 1h1m-1 1h1m-1 3h1m-1 2h1m-1 1h1m-1 1h1m-1 3h1m-1 2h1m-1 1h1m-1 1h1m-1 1h1m-1 1h1m-1 1h1m-1 1h1m-1 1h1m-1 1h1m-1 1h1m-1 1h1m-1 1h1m-1 1h1m-1 1h1m-1 1h1m-1 1h1m-1 1h1m-1 2h1m-1 1h1m-1 1h1m-1 2h1m-1 1h1m-1 1h1m-1 1h1m-1 3h1m-1 14h1m-1 14h1m0-98h1m-1 4h1m-1 2h1m-1 1h1m-1 1h1m-1 1h1m-1 1h1m-1 1h1m-1 1h1m-1 1h1m-1 1h1m-1 3h1m-1 1h1m-1 1h1m-1 1h1m-1 2h1m-1 2h1m-1 1h1m-1 3h1m-1 1h1m-1 2h1m-1 1h1m-1 3h1m-1 1h1m-1 2h1m-1 1h1m-1 1h1m-1 1h1m-1 1h1m-1 1h1m-1 1h1m-1 1h1m-1 1h1m-1 1h1m-1 2h1m-1 1h1m-1 1h1m-1 1h1m-1 1h1m-1 3h1m-1 4h1m-1 1h1m-1 1h1m-1 2h1m-1 1h1m-1 2h1m-1 4h1m-1 1h1m-1 1h1m0-73h1m-1 3h1m-1 3h1m-1 1h1m-1 1h1m-1 3h1m-1 1h1m-1 3h1m-1 1h1m-1 1h1m-1 1h1m-1 1h1m-1 1h1m-1 2h1m-1 1h1m-1 1h1m-1 1h1m-1 1h1m-1 1h1m-1 1h1m-1 1h1m-1 1h1m-1 1h1m-1 1h1m-1 1h1m-1 1h1m-1 1h1m-1 1h1m-1 1h1m-1 1h1m-1 1h1m-1 3h1m-1 1h1m-1 2h1m-1 2h1m-1 1h1m-1 1h1m-1 1h1m-1 1h1m-1 1h1m-1 1h1m-1 1h1m-1 1h1m-1 1h1m-1 1h1m-1 1h1m-1 1h1m-1 1h1m-1 2h1m-1 2h1m-1 1h1m-1 1h1m-1 4h1m-1 4h1m-1 4h1m0-78h1m-1 1h1m-1 2h1m-1 1h1m-1 3h1m-1 1h1m-1 1h1m-1 1h1m-1 1h1m-1 1h1m-1 1h1m-1 1h1m-1 3h1m-1 1h1m-1 1h1m-1 1h1m-1 1h1m-1 1h1m-1 1h1m-1 1h1m-1 2h1m-1 1h1m-1 1h1m-1 1h1m-1 1h1m-1 1h1m-1 1h1m-1 1h1m-1 1h1m-1 1h1m-1 1h1m-1 1h1m-1 1h1m-1 1h1m-1 1h1m-1 1h1m-1 1h1m-1 1h1m-1 1h1m-1 1h1m-1 1h1m-1 4h1m-1 1h1m-1 1h1m-1 1h1m-1 1h1m-1 1h1m-1 1h1m-1 2h1m-1 1h1m-1 1h1m-1 4h1m-1 2h1m-1 1h1m-1 3h1m-1 1h1m-1 3h1m-1 3h1m-1 2h1m-1 9h1m-1 13h1m-1 10h1m0-108h1m-1 1h1m-1 1h1m-1 1h1m-1 1h1m-1 2h1m-1 1h1m-1 1h1m-1 1h1m-1 1h1m-1 2h1m-1 1h1m-1 1h1m-1 1h1m-1 1h1m-1 1h1m-1 1h1m-1 1h1m-1 1h1m-1 1h1m-1 1h1m-1 1h1m-1 2h1m-1 1h1m-1 1h1m-1 2h1m-1 1h1m-1 1h1m-1 2h1m-1 1h1m-1 1h1m-1 2h1m-1 2h1m-1 1h1m-1 1h1m-1 1h1m-1 1h1m-1 1h1m-1 1h1m-1 1h1m-1 1h1m-1 1h1m-1 1h1m-1 1h1m-1 1h1m-1 1h1m-1 1h1m-1 1h1m-1 1h1m-1 1h1m-1 1h1m-1 1h1m-1 1h1m-1 1h1m-1 2h1m-1 1h1m-1 1h1m-1 1h1m-1 2h1m-1 3h1m-1 4h1m-1 7h1m0-84h1m-1 1h1m-1 3h1m-1 1h1m-1 2h1m-1 1h1m-1 1h1m-1 1h1m-1 1h1m-1 1h1m-1 1h1m-1 1h1m-1 1h1m-1 1h1m-1 1h1m-1 1h1m-1 1h1m-1 1h1m-1 1h1m-1 1h1m-1 1h1m-1 1h1m-1 1h1m-1 1h1m-1 1h1m-1 1h1m-1 1h1m-1 1h1m-1 1h1m-1 1h1m-1 2h1m-1 1h1m-1 1h1m-1 1h1m-1 1h1m-1 1h1m-1 1h1m-1 1h1m-1 1h1m-1 1h1m-1 1h1m-1 1h1m-1 1h1m-1 1h1m-1 1h1m-1 1h1m-1 1h1m-1 1h1m-1 1h1m-1 1h1m-1 1h1m-1 1h1m-1 2h1m-1 1h1m-1 1h1m-1 1h1m-1 1h1m-1 1h1m-1 2h1m-1 4h1m-1 1h1m-1 1h1m-1 1h1m-1 1h1m-1 8h1m-1 4h1m-1 2h1m0-86h1m-1 1h1m-1 2h1m-1 2h1m-1 1h1m-1 2h1m-1 2h1m-1 1h1m-1 1h1m-1 1h1m-1 1h1m-1 1h1m-1 1h1m-1 1h1m-1 1h1m-1 1h1m-1 1h1m-1 1h1m-1 1h1m-1 1h1m-1 1h1m-1 1h1m-1 1h1m-1 2h1m-1 3h1m-1 1h1m-1 2h1m-1 1h1m-1 1h1m-1 1h1m-1 1h1m-1 1h1m-1 1h1m-1 1h1m-1 1h1m-1 1h1m-1 2h1m-1 1h1m-1 1h1m-1 1h1m-1 1h1m-1 1h1m-1 2h1m-1 1h1m-1 1h1m-1 1h1m-1 1h1m-1 1h1m-1 1h1m-1 1h1m-1 1h1m-1 1h1m-1 1h1m-1 3h1m-1 1h1m-1 1h1m-1 1h1m-1 1h1m-1 1h1m-1 8h1m-1 5h1m0-83h1m-1 2h1m-1 1h1m-1 1h1m-1 1h1m-1 1h1m-1 1h1m-1 1h1m-1 1h1m-1 1h1m-1 1h1m-1 1h1m-1 1h1m-1 1h1m-1 1h1m-1 1h1m-1 1h1m-1 1h1m-1 1h1m-1 1h1m-1 1h1m-1 1h1m-1 1h1m-1 1h1m-1 1h1m-1 1h1m-1 1h1m-1 1h1m-1 1h1m-1 1h1m-1 1h1m-1 1h1m-1 1h1m-1 1h1m-1 1h1m-1 1h1m-1 3h1m-1 1h1m-1 1h1m-1 1h1m-1 1h1m-1 2h1m-1 1h1m-1 1h1m-1 1h1m-1 1h1m-1 2h1m-1 3h1m-1 2h1m-1 1h1m-1 1h1m-1 1h1m-1 1h1m-1 3h1m-1 1h1m-1 1h1m-1 1h1m-1 2h1m-1 3h1m-1 1h1m-1 1h1m-1 3h1m-1 1h1m-1 2h1m-1 1h1m-1 16h1m-1 5h1m-1 7h1m0-108h1m-1 1h1m-1 5h1m-1 2h1m-1 1h1m-1 1h1m-1 1h1m-1 1h1m-1 1h1m-1 1h1m-1 1h1m-1 1h1m-1 1h1m-1 1h1m-1 1h1m-1 1h1m-1 1h1m-1 1h1m-1 1h1m-1 2h1m-1 1h1m-1 1h1m-1 1h1m-1 1h1m-1 1h1m-1 1h1m-1 1h1m-1 1h1m-1 1h1m-1 2h1m-1 1h1m-1 1h1m-1 1h1m-1 2h1m-1 1h1m-1 3h1m-1 1h1m-1 1h1m-1 1h1m-1 1h1m-1 2h1m-1 1h1m-1 1h1m-1 1h1m-1 1h1m-1 2h1m-1 1h1m-1 3h1m-1 1h1m-1 1h1m-1 3h1m-1 3h1m-1 1h1m-1 4h1m-1 2h1m-1 9h1m-1 9h1m-1 10h1m-1 3h1m0-107h1m-1 2h1m-1 1h1m-1 1h1m-1 1h1m-1 1h1m-1 2h1m-1 1h1m-1 1h1m-1 1h1m-1 1h1m-1 1h1m-1 1h1m-1 1h1m-1 1h1m-1 1h1m-1 1h1m-1 1h1m-1 1h1m-1 1h1m-1 1h1m-1 1h1m-1 1h1m-1 1h1m-1 1h1m-1 2h1m-1 1h1m-1 1h1m-1 1h1m-1 3h1m-1 1h1m-1 1h1m-1 2h1m-1 2h1m-1 2h1m-1 1h1m-1 1h1m-1 1h1m-1 1h1m-1 2h1m-1 2h1m-1 1h1m-1 1h1m-1 1h1m-1 1h1m-1 3h1m-1 1h1m-1 1h1m-1 2h1m-1 2h1m-1 1h1m-1 2h1m-1 1h1m-1 2h1m-1 1h1m-1 1h1m-1 2h1m-1 1h1m-1 1h1m-1 3h1m-1 2h1m-1 7h1m0-87h1m-1 2h1m-1 2h1m-1 1h1m-1 1h1m-1 1h1m-1 1h1m-1 1h1m-1 1h1m-1 1h1m-1 1h1m-1 1h1m-1 1h1m-1 1h1m-1 2h1m-1 1h1m-1 1h1m-1 1h1m-1 1h1m-1 1h1m-1 1h1m-1 1h1m-1 1h1m-1 1h1m-1 1h1m-1 1h1m-1 2h1m-1 2h1m-1 1h1m-1 2h1m-1 1h1m-1 1h1m-1 1h1m-1 1h1m-1 1h1m-1 1h1m-1 1h1m-1 1h1m-1 1h1m-1 1h1m-1 1h1m-1 1h1m-1 1h1m-1 2h1m-1 1h1m-1 1h1m-1 1h1m-1 1h1m-1 1h1m-1 1h1m-1 1h1m-1 2h1m-1 1h1m-1 2h1m-1 1h1m-1 2h1m-1 1h1m-1 2h1m-1 1h1m-1 5h1m-1 1h1m-1 1h1m-1 7h1m-1 5h1m0-88h1m-1 1h1m-1 1h1m-1 1h1m-1 1h1m-1 2h1m-1 1h1m-1 1h1m-1 1h1m-1 1h1m-1 1h1m-1 1h1m-1 1h1m-1 1h1m-1 1h1m-1 1h1m-1 1h1m-1 1h1m-1 1h1m-1 1h1m-1 1h1m-1 1h1m-1 1h1m-1 1h1m-1 1h1m-1 1h1m-1 1h1m-1 1h1m-1 1h1m-1 1h1m-1 1h1m-1 1h1m-1 1h1m-1 1h1m-1 1h1m-1 1h1m-1 1h1m-1 1h1m-1 3h1m-1 1h1m-1 1h1m-1 1h1m-1 1h1m-1 1h1m-1 1h1m-1 1h1m-1 1h1m-1 1h1m-1 1h1m-1 1h1m-1 1h1m-1 1h1m-1 1h1m-1 1h1m-1 1h1m-1 2h1m-1 2h1m-1 1h1m-1 1h1m-1 2h1m-1 5h1m-1 3h1m-1 1h1m-1 6h1m-1 1h1m-1 1h1m-1 4h1m-1 4h1m-1 3h1m-1 4h1m-1 10h1m0-107h1m-1 2h1m-1 2h1m-1 1h1m-1 1h1m-1 1h1m-1 1h1m-1 1h1m-1 1h1m-1 1h1m-1 1h1m-1 1h1m-1 1h1m-1 1h1m-1 1h1m-1 1h1m-1 1h1m-1 1h1m-1 1h1m-1 1h1m-1 2h1m-1 1h1m-1 1h1m-1 1h1m-1 1h1m-1 1h1m-1 1h1m-1 1h1m-1 1h1m-1 1h1m-1 1h1m-1 1h1m-1 1h1m-1 1h1m-1 1h1m-1 2h1m-1 1h1m-1 2h1m-1 1h1m-1 1h1m-1 1h1m-1 1h1m-1 3h1m-1 2h1m-1 1h1m-1 2h1m-1 1h1m-1 2h1m-1 1h1m-1 1h1m-1 1h1m-1 1h1m-1 1h1m-1 4h1m-1 1h1m-1 2h1m-1 1h1m-1 2h1m-1 1h1m-1 2h1m0-75h1m-1 2h1m-1 1h1m-1 1h1m-1 2h1m-1 1h1m-1 1h1m-1 1h1m-1 1h1m-1 1h1m-1 1h1m-1 1h1m-1 1h1m-1 1h1m-1 1h1m-1 1h1m-1 1h1m-1 1h1m-1 1h1m-1 1h1m-1 1h1m-1 1h1m-1 1h1m-1 1h1m-1 1h1m-1 1h1m-1 1h1m-1 1h1m-1 1h1m-1 1h1m-1 1h1m-1 1h1m-1 1h1m-1 1h1m-1 1h1m-1 1h1m-1 1h1m-1 1h1m-1 2h1m-1 1h1m-1 1h1m-1 1h1m-1 1h1m-1 1h1m-1 1h1m-1 2h1m-1 1h1m-1 1h1m-1 1h1m-1 1h1m-1 1h1m-1 1h1m-1 1h1m-1 1h1m-1 1h1m-1 1h1m-1 1h1m-1 1h1m-1 1h1m-1 1h1m-1 1h1m-1 1h1m-1 1h1m-1 2h1m-1 1h1m-1 1h1m-1 2h1m-1 1h1m-1 11h1m-1 6h1m-1 3h1m0-93h1m-1 1h1m-1 2h1m-1 1h1m-1 1h1m-1 1h1m-1 1h1m-1 1h1m-1 1h1m-1 1h1m-1 2h1m-1 1h1m-1 1h1m-1 1h1m-1 1h1m-1 1h1m-1 2h1m-1 1h1m-1 1h1m-1 1h1m-1 1h1m-1 1h1m-1 1h1m-1 1h1m-1 1h1m-1 1h1m-1 1h1m-1 2h1m-1 1h1m-1 1h1m-1 1h1m-1 1h1m-1 1h1m-1 1h1m-1 1h1m-1 1h1m-1 1h1m-1 1h1m-1 1h1m-1 1h1m-1 1h1m-1 1h1m-1 1h1m-1 1h1m-1 1h1m-1 1h1m-1 2h1m-1 1h1m-1 1h1m-1 1h1m-1 2h1m-1 3h1m-1 2h1m-1 2h1m-1 2h1m-1 1h1m-1 4h1m-1 4h1m-1 6h1m-1 2h1m-1 1h1m-1 5h1m0-88h1m-1 2h1m-1 1h1m-1 1h1m-1 2h1m-1 2h1m-1 2h1m-1 1h1m-1 1h1m-1 1h1m-1 2h1m-1 1h1m-1 1h1m-1 1h1m-1 1h1m-1 1h1m-1 1h1m-1 1h1m-1 1h1m-1 1h1m-1 1h1m-1 1h1m-1 1h1m-1 1h1m-1 1h1m-1 1h1m-1 2h1m-1 1h1m-1 1h1m-1 1h1m-1 1h1m-1 1h1m-1 1h1m-1 2h1m-1 1h1m-1 1h1m-1 1h1m-1 1h1m-1 2h1m-1 1h1m-1 1h1m-1 2h1m-1 1h1m-1 1h1m-1 2h1m-1 3h1m-1 1h1m-1 1h1m-1 1h1m-1 1h1m-1 1h1m-1 1h1m-1 1h1m-1 1h1m-1 1h1m-1 2h1m-1 2h1m-1 1h1m-1 1h1m-1 1h1m-1 3h1m-1 3h1m-1 11h1m-1 6h1m0-96h1m-1 3h1m-1 1h1m-1 1h1m-1 1h1m-1 2h1m-1 1h1m-1 1h1m-1 1h1m-1 1h1m-1 1h1m-1 1h1m-1 1h1m-1 1h1m-1 1h1m-1 1h1m-1 1h1m-1 1h1m-1 1h1m-1 1h1m-1 1h1m-1 1h1m-1 1h1m-1 1h1m-1 1h1m-1 1h1m-1 1h1m-1 1h1m-1 1h1m-1 1h1m-1 1h1m-1 1h1m-1 1h1m-1 1h1m-1 2h1m-1 1h1m-1 2h1m-1 1h1m-1 1h1m-1 1h1m-1 1h1m-1 1h1m-1 1h1m-1 2h1m-1 1h1m-1 1h1m-1 1h1m-1 1h1m-1 1h1m-1 1h1m-1 1h1m-1 3h1m-1 2h1m-1 1h1m-1 1h1m-1 2h1m-1 1h1m-1 1h1m-1 1h1m-1 1h1m-1 2h1m-1 10h1m-1 12h1m-1 19h1m0-112h1m-1 1h1m-1 1h1m-1 1h1m-1 1h1m-1 3h1m-1 2h1m-1 1h1m-1 1h1m-1 1h1m-1 1h1m-1 1h1m-1 1h1m-1 1h1m-1 1h1m-1 1h1m-1 1h1m-1 1h1m-1 1h1m-1 1h1m-1 1h1m-1 1h1m-1 1h1m-1 1h1m-1 1h1m-1 1h1m-1 1h1m-1 2h1m-1 1h1m-1 1h1m-1 1h1m-1 1h1m-1 1h1m-1 1h1m-1 2h1m-1 1h1m-1 1h1m-1 2h1m-1 1h1m-1 1h1m-1 1h1m-1 1h1m-1 2h1m-1 1h1m-1 1h1m-1 2h1m-1 1h1m-1 1h1m-1 1h1m-1 1h1m-1 2h1m-1 1h1m-1 3h1m-1 1h1m-1 4h1m-1 2h1m-1 1h1m-1 7h1m-1 8h1m-1 19h1m0-105h1m-1 2h1m-1 1h1m-1 1h1m-1 1h1m-1 1h1m-1 2h1m-1 1h1m-1 1h1m-1 1h1m-1 2h1m-1 1h1m-1 1h1m-1 1h1m-1 1h1m-1 1h1m-1 1h1m-1 1h1m-1 1h1m-1 1h1m-1 1h1m-1 1h1m-1 1h1m-1 1h1m-1 1h1m-1 1h1m-1 1h1m-1 1h1m-1 1h1m-1 1h1m-1 1h1m-1 1h1m-1 1h1m-1 2h1m-1 1h1m-1 3h1m-1 1h1m-1 3h1m-1 2h1m-1 1h1m-1 1h1m-1 1h1m-1 1h1m-1 1h1m-1 1h1m-1 1h1m-1 1h1m-1 1h1m-1 1h1m-1 1h1m-1 1h1m-1 1h1m-1 2h1m-1 2h1m-1 2h1m-1 1h1m-1 1h1m-1 4h1m-1 2h1m-1 3h1m-1 24h1m0-101h1m-1 1h1m-1 1h1m-1 1h1m-1 4h1m-1 1h1m-1 1h1m-1 1h1m-1 1h1m-1 1h1m-1 1h1m-1 1h1m-1 1h1m-1 1h1m-1 1h1m-1 1h1m-1 1h1m-1 1h1m-1 1h1m-1 1h1m-1 1h1m-1 1h1m-1 2h1m-1 1h1m-1 2h1m-1 1h1m-1 1h1m-1 2h1m-1 2h1m-1 1h1m-1 1h1m-1 1h1m-1 2h1m-1 1h1m-1 1h1m-1 1h1m-1 1h1m-1 2h1m-1 1h1m-1 1h1m-1 1h1m-1 1h1m-1 1h1m-1 1h1m-1 1h1m-1 1h1m-1 4h1m-1 2h1m-1 2h1m-1 2h1m-1 3h1m-1 1h1m-1 1h1m-1 1h1m-1 3h1m-1 22h1m-1 19h1m0-114h1m-1 8h1m-1 1h1m-1 1h1m-1 1h1m-1 1h1m-1 1h1m-1 1h1m-1 2h1m-1 1h1m-1 1h1m-1 1h1m-1 1h1m-1 1h1m-1 1h1m-1 1h1m-1 1h1m-1 1h1m-1 1h1m-1 1h1m-1 1h1m-1 2h1m-1 1h1m-1 1h1m-1 1h1m-1 1h1m-1 1h1m-1 1h1m-1 3h1m-1 1h1m-1 2h1m-1 1h1m-1 1h1m-1 2h1m-1 1h1m-1 2h1m-1 2h1m-1 1h1m-1 1h1m-1 2h1m-1 1h1m-1 2h1m-1 1h1m-1 1h1m-1 1h1m-1 1h1m-1 1h1m-1 1h1m-1 1h1m-1 2h1m-1 5h1m-1 1h1m-1 1h1m-1 6h1m0-76h1m-1 4h1m-1 1h1m-1 1h1m-1 2h1m-1 1h1m-1 1h1m-1 1h1m-1 1h1m-1 1h1m-1 1h1m-1 1h1m-1 1h1m-1 1h1m-1 1h1m-1 1h1m-1 1h1m-1 1h1m-1 1h1m-1 1h1m-1 1h1m-1 1h1m-1 1h1m-1 3h1m-1 2h1m-1 1h1m-1 1h1m-1 1h1m-1 2h1m-1 1h1m-1 1h1m-1 1h1m-1 1h1m-1 1h1m-1 1h1m-1 1h1m-1 1h1m-1 4h1m-1 1h1m-1 1h1m-1 3h1m-1 1h1m-1 1h1m-1 1h1m-1 1h1m-1 3h1m-1 2h1m-1 1h1m-1 1h1m-1 7h1m-1 2h1m-1 4h1m-1 1h1m-1 6h1m-1 8h1m0-96h1m-1 5h1m-1 2h1m-1 1h1m-1 2h1m-1 1h1m-1 1h1m-1 1h1m-1 1h1m-1 1h1m-1 1h1m-1 1h1m-1 1h1m-1 1h1m-1 1h1m-1 1h1m-1 1h1m-1 1h1m-1 1h1m-1 1h1m-1 1h1m-1 3h1m-1 1h1m-1 1h1m-1 1h1m-1 1h1m-1 1h1m-1 1h1m-1 2h1m-1 2h1m-1 2h1m-1 1h1m-1 1h1m-1 2h1m-1 1h1m-1 2h1m-1 2h1m-1 1h1m-1 1h1m-1 1h1m-1 1h1m-1 1h1m-1 2h1m-1 1h1m-1 1h1m-1 5h1m-1 1h1m-1 3h1m-1 8h1m-1 8h1m0-84h1m-1 3h1m-1 2h1m-1 1h1m-1 3h1m-1 1h1m-1 1h1m-1 1h1m-1 1h1m-1 1h1m-1 2h1m-1 1h1m-1 1h1m-1 1h1m-1 1h1m-1 1h1m-1 1h1m-1 1h1m-1 1h1m-1 1h1m-1 1h1m-1 1h1m-1 1h1m-1 1h1m-1 1h1m-1 1h1m-1 1h1m-1 1h1m-1 1h1m-1 1h1m-1 1h1m-1 1h1m-1 1h1m-1 2h1m-1 2h1m-1 1h1m-1 1h1m-1 1h1m-1 1h1m-1 2h1m-1 1h1m-1 5h1m-1 2h1m-1 1h1m-1 4h1m-1 1h1m-1 1h1m-1 2h1m-1 2h1m-1 3h1m-1 4h1m-1 1h1m0-75h1m-1 2h1m-1 2h1m-1 1h1m-1 1h1m-1 2h1m-1 2h1m-1 2h1m-1 1h1m-1 1h1m-1 1h1m-1 1h1m-1 1h1m-1 1h1m-1 1h1m-1 1h1m-1 1h1m-1 2h1m-1 1h1m-1 1h1m-1 1h1m-1 1h1m-1 2h1m-1 1h1m-1 1h1m-1 1h1m-1 1h1m-1 1h1m-1 1h1m-1 1h1m-1 1h1m-1 1h1m-1 1h1m-1 1h1m-1 2h1m-1 1h1m-1 5h1m-1 2h1m-1 2h1m-1 1h1m-1 3h1m-1 3h1m-1 2h1m-1 1h1m-1 2h1m-1 1h1m-1 1h1m-1 2h1m-1 3h1m-1 5h1m-1 4h1m-1 6h1m0-86h1m-1 1h1m-1 3h1m-1 1h1m-1 1h1m-1 5h1m-1 1h1m-1 1h1m-1 1h1m-1 1h1m-1 1h1m-1 2h1m-1 1h1m-1 1h1m-1 2h1m-1 1h1m-1 1h1m-1 2h1m-1 1h1m-1 2h1m-1 1h1m-1 1h1m-1 2h1m-1 1h1m-1 3h1m-1 2h1m-1 1h1m-1 1h1m-1 3h1m-1 1h1m-1 1h1m-1 1h1m-1 1h1m-1 1h1m-1 1h1m-1 2h1m-1 7h1m-1 1h1m-1 1h1m-1 1h1m-1 2h1m-1 4h1m-1 3h1m-1 3h1m-1 6h1m-1 8h1m-1 16h1m0-104h1m-1 3h1m-1 1h1m-1 1h1m-1 2h1m-1 1h1m-1 1h1m-1 1h1m-1 4h1m-1 1h1m-1 1h1m-1 1h1m-1 1h1m-1 1h1m-1 1h1m-1 1h1m-1 1h1m-1 1h1m-1 1h1m-1 2h1m-1 4h1m-1 1h1m-1 1h1m-1 1h1m-1 1h1m-1 1h1m-1 1h1m-1 1h1m-1 1h1m-1 1h1m-1 1h1m-1 1h1m-1 3h1m-1 2h1m-1 2h1m-1 1h1m-1 2h1m-1 2h1m-1 1h1m-1 1h1m-1 1h1m-1 4h1m-1 1h1m-1 3h1m-1 1h1m-1 1h1m-1 1h1m-1 1h1m-1 2h1m-1 4h1m-1 13h1m-1 13h1m0-93h1m-1 3h1m-1 2h1m-1 1h1m-1 1h1m-1 2h1m-1 1h1m-1 2h1m-1 1h1m-1 3h1m-1 1h1m-1 1h1m-1 1h1m-1 2h1m-1 1h1m-1 2h1m-1 2h1m-1 3h1m-1 4h1m-1 1h1m-1 1h1m-1 4h1m-1 6h1m-1 1h1m-1 6h1m-1 1h1m-1 4h1m-1 3h1m-1 2h1m-1 2h1m-1 1h1m-1 33h1m-1 7h1m0-112h1m-1 4h1m-1 3h1m-1 1h1m-1 4h1m-1 1h1m-1 1h1m-1 1h1m-1 1h1m-1 1h1m-1 3h1m-1 3h1m-1 3h1m-1 2h1m-1 1h1m-1 1h1m-1 2h1m-1 1h1m-1 1h1m-1 2h1m-1 1h1m-1 1h1m-1 1h1m-1 2h1m-1 1h1m-1 2h1m-1 1h1m-1 5h1m-1 7h1m-1 2h1m-1 1h1m-1 3h1m-1 6h1m-1 1h1m-1 2h1m-1 7h1m0-79h1m-1 3h1m-1 8h1m-1 1h1m-1 1h1m-1 3h1m-1 2h1m-1 1h1m-1 2h1m-1 1h1m-1 1h1m-1 1h1m-1 4h1m-1 2h1m-1 3h1m-1 7h1m-1 1h1m-1 4h1m-1 3h1m-1 2h1m-1 1h1m-1 1h1m-1 1h1m-1 2h1m-1 5h1m-1 3h1m-1 3h1m-1 1h1m-1 3h1m-1 5h1m0-75h1m-1 1h1m-1 7h1m-1 3h1m-1 1h1m-1 1h1m-1 2h1m-1 1h1m-1 3h1m-1 2h1m-1 2h1m-1 1h1m-1 1h1m-1 1h1m-1 6h1m-1 6h1m-1 2h1m-1 1h1m-1 12h1m-1 1h1m-1 2h1m-1 1h1m-1 2h1m-1 2h1m-1 1h1m-1 2h1m-1 4h1m-1 27h1m0-95h1m-1 8h1m-1 3h1m-1 1h1m-1 5h1m-1 1h1m-1 1h1m-1 2h1m-1 1h1m-1 1h1m-1 3h1m-1 2h1m-1 1h1m-1 1h1m-1 3h1m-1 1h1m-1 3h1m-1 6h1m-1 3h1m-1 2h1m-1 9h1m-1 7h1m-1 4h1m-1 12h1m-1 31h1m-1 1h1m0-112h1m-1 3h1m-1 10h1m-1 1h1m-1 1h1m-1 1h1m-1 3h1m-1 2h1m-1 2h1m-1 1h1m-1 2h1m-1 2h1m-1 4h1m-1 4h1m-1 1h1m-1 3h1m-1 3h1m-1 1h1m-1 2h1m-1 2h1m-1 3h1m-1 1h1m-1 1h1m-1 7h1m-1 1h1m-1 1h1m-1 1h1m-1 2h1m-1 4h1m-1 1h1m0-70h1m-1 13h1m-1 1h1m-1 1h1m-1 1h1m-1 1h1m-1 2h1m-1 1h1m-1 1h1m-1 3h1m-1 2h1m-1 13h1m-1 2h1m-1 4h1m-1 4h1m-1 7h1m-1 6h1m-1 2h1m-1 2h1m-1 30h1m-1 4h1m-1 6h1m0-105h1m-1 5h1m-1 4h1m-1 4h1m-1 2h1m-1 1h1m-1 7h1m-1 8h1m-1 5h1m-1 10h1m-1 1h1m-1 2h1m-1 1h1m-1 1h1m-1 2h1m-1 8h1m-1 1h1m-1 6h1m-1 1h1m-1 3h1m-1 1h1m-1 4h1m0-59h1m-1 1h1m-1 1h1m-1 5h1m-1 2h1m-1 6h1m-1 7h1m-1 3h1m-1 5h1m-1 2h1m-1 1h1m-1 3h1m-1 2h1m-1 2h1m-1 3h1m-1 1h1m-1 5h1m-1 3h1m-1 1h1m-1 1h1m-1 6h1m-1 1h1m-1 7h1m-1 2h1m0-89h1m-1 10h1m-1 7h1m-1 2h1m-1 2h1m-1 5h1m-1 5h1m-1 8h1m-1 4h1m-1 1h1m-1 1h1m-1 3h1m-1 5h1m-1 1h1m-1 2h1m-1 5h1m-1 3h1m-1 5h1m-1 6h1m-1 16h1m-1 2h1m-1 2h1m0-85h1m-1 2h1m-1 8h1m-1 1h1m-1 1h1m-1 10h1m-1 3h1m-1 10h1m-1 4h1m-1 4h1m-1 3h1m-1 5h1m-1 1h1m-1 8h1m-1 1h1m-1 5h1m-1 3h1m-1 3h1m0-78h1m-1 28h1m-1 8h1m-1 5h1m-1 2h1m-1 2h1m-1 4h1m-1 1h1m-1 4h1m-1 1h1m-1 3h1m-1 1h1m-1 1h1m-1 2h1m-1 2h1m-1 35h1m0-98h1m-1 3h1m-1 2h1m-1 4h1m-1 4h1m-1 3h1m-1 3h1m-1 1h1m-1 10h1m-1 4h1m-1 2h1m-1 4h1m-1 5h1m-1 1h1m-1 1h1m-1 2h1m-1 1h1m-1 2h1m-1 2h1m-1 1h1m-1 2h1m-1 1h1m-1 1h1m-1 1h1m-1 3h1m-1 5h1m-1 3h1m-1 2h1m-1 4h1m-1 1h1m0-74h1m-1 5h1m-1 4h1m-1 7h1m-1 2h1m-1 3h1m-1 15h1m-1 4h1m-1 2h1m-1 2h1m-1 1h1m-1 1h1m-1 1h1m-1 2h1m-1 2h1m-1 1h1m-1 1h1m-1 1h1m-1 1h1m-1 1h1m-1 1h1m-1 3h1m-1 4h1m-1 17h1m-1 2h1m-1 14h1m0-102h1m-1 16h1m-1 26h1m-1 3h1m-1 2h1m-1 1h1m-1 1h1m-1 2h1m-1 2h1m-1 2h1m-1 1h1m-1 2h1m-1 1h1m-1 1h1m-1 1h1m-1 5h1m-1 10h1m-1 1h1m-1 7h1m-1 3h1m-1 7h1m0-98h1m-1 29h1m-1 14h1m-1 2h1m-1 3h1m-1 2h1m-1 1h1m-1 1h1m-1 1h1m-1 1h1m-1 1h1m-1 1h1m-1 1h1m-1 1h1m-1 1h1m-1 1h1m-1 1h1m-1 1h1m-1 2h1m-1 1h1m-1 2h1m-1 1h1m-1 2h1m-1 1h1m-1 2h1m-1 2h1m-1 6h1m-1 5h1m0-63h1m-1 19h1m-1 1h1m-1 2h1m-1 2h1m-1 2h1m-1 1h1m-1 2h1m-1 2h1m-1 1h1m-1 1h1m-1 1h1m-1 1h1m-1 1h1m-1 1h1m-1 3h1m-1 1h1m-1 1h1m-1 2h1m-1 1h1m-1 1h1m-1 1h1m-1 10h1m-1 6h1m-1 10h1m-1 11h1m0-83h1m-1 19h1m-1 1h1m-1 3h1m-1 4h1m-1 1h1m-1 1h1m-1 1h1m-1 1h1m-1 1h1m-1 1h1m-1 1h1m-1 1h1m-1 2h1m-1 1h1m-1 4h1m-1 2h1m-1 1h1m-1 1h1m-1 3h1m-1 2h1m-1 2h1m-1 1h1m-1 13h1m-1 1h1m-1 2h1m-1 7h1m0-63h1m-1 5h1m-1 3h1m-1 2h1m-1 1h1m-1 1h1m-1 1h1m-1 5h1m-1 1h1m-1 1h1m-1 5h1m-1 1h1m-1 1h1m-1 1h1m-1 3h1m-1 2h1m-1 1h1m-1 6h1m-1 3h1m-1 8h1m-1 5h1m-1 8h1m-1 3h1m0-105h1m-1 37h1m-1 1h1m-1 4h1m-1 2h1m-1 1h1m-1 3h1m-1 2h1m-1 1h1m-1 2h1m-1 1h1m-1 2h1m-1 2h1m-1 1h1m-1 1h1m-1 1h1m-1 1h1m-1 1h1m-1 3h1m-1 1h1m-1 1h1m-1 1h1m-1 1h1m-1 1h1m-1 4h1m-1 2h1m-1 11h1m-1 5h1m-1 3h1m-1 8h1m-1 3h1m-1 7h1m0-86h1m-1 13h1m-1 4h1m-1 2h1m-1 1h1m-1 2h1m-1 4h1m-1 1h1m-1 1h1m-1 1h1m-1 1h1m-1 2h1m-1 1h1m-1 1h1m-1 1h1m-1 1h1m-1 4h1m-1 1h1m-1 3h1m-1 8h1m-1 4h1m-1 11h1m-1 5h1m0-65h1m-1 4h1m-1 1h1m-1 5h1m-1 3h1m-1 2h1m-1 1h1m-1 2h1m-1 1h1m-1 1h1m-1 1h1m-1 1h1m-1 1h1m-1 1h1m-1 1h1m-1 1h1m-1 1h1m-1 1h1m-1 1h1m-1 1h1m-1 1h1m-1 1h1m-1 1h1m-1 1h1m-1 2h1m-1 1h1m-1 8h1m-1 2h1m-1 9h1m-1 1h1m-1 1h1m-1 1h1m-1 11h1m0-99h1m-1 37h1m-1 4h1m-1 2h1m-1 6h1m-1 3h1m-1 3h1m-1 1h1m-1 1h1m-1 1h1m-1 1h1m-1 1h1m-1 1h1m-1 1h1m-1 1h1m-1 1h1m-1 1h1m-1 3h1m-1 2h1m-1 1h1m-1 1h1m-1 12h1m-1 13h1m-1 5h1m0-85h1m-1 19h1m-1 2h1m-1 2h1m-1 1h1m-1 1h1m-1 2h1m-1 1h1m-1 1h1m-1 1h1m-1 2h1m-1 1h1m-1 1h1m-1 1h1m-1 2h1m-1 1h1m-1 1h1m-1 1h1m-1 1h1m-1 2h1m-1 1h1m-1 1h1m-1 10h1m-1 20h1m-1 4h1m0-67h1m-1 3h1m-1 3h1m-1 6h1m-1 4h1m-1 1h1m-1 1h1m-1 1h1m-1 2h1m-1 2h1m-1 2h1m-1 1h1m-1 1h1m-1 1h1m-1 1h1m-1 3h1m-1 4h1m-1 2h1m-1 1h1m-1 8h1m-1 3h1m-1 1h1m-1 1h1m-1 4h1m-1 3h1m-1 4h1m0-56h1m-1 3h1m-1 1h1m-1 2h1m-1 2h1m-1 1h1m-1 3h1m-1 1h1m-1 1h1m-1 1h1m-1 1h1m-1 1h1m-1 1h1m-1 2h1m-1 3h1m-1 2h1m-1 1h1m-1 3h1m-1 6h1m-1 6h1m-1 2h1m-1 3h1m-1 2h1m-1 14h1m-1 5h1m0-65h1m-1 1h1m-1 1h1m-1 6h1m-1 1h1m-1 1h1m-1 2h1m-1 2h1m-1 1h1m-1 1h1m-1 1h1m-1 1h1m-1 1h1m-1 2h1m-1 1h1m-1 2h1m-1 2h1m-1 2h1m-1 5h1m-1 2h1m-1 1h1m-1 2h1m-1 3h1m-1 7h1m-1 3h1m-1 4h1m0-92h1m-1 12h1m-1 16h1m-1 4h1m-1 8h1m-1 2h1m-1 1h1m-1 1h1m-1 4h1m-1 1h1m-1 1h1m-1 1h1m-1 1h1m-1 1h1m-1 2h1m-1 1h1m-1 2h1m-1 4h1m-1 4h1m-1 2h1m-1 7h1m-1 1h1m-1 10h1m-1 1h1m-1 4h1m0-57h1m-1 5h1m-1 1h1m-1 1h1m-1 2h1m-1 1h1m-1 1h1m-1 4h1m-1 2h1m-1 3h1m-1 1h1m-1 1h1m-1 1h1m-1 1h1m-1 1h1m-1 1h1m-1 1h1m-1 1h1m-1 2h1m-1 4h1m-1 6h1m-1 2h1m-1 1h1m-1 6h1m-1 5h1m-1 9h1m-1 6h1m0-77h1m-1 5h1m-1 7h1m-1 6h1m-1 1h1m-1 2h1m-1 3h1m-1 3h1m-1 1h1m-1 3h1m-1 1h1m-1 1h1m-1 2h1m-1 3h1m-1 3h1m-1 1h1m-1 2h1m-1 21h1m-1 6h1m0-57h1m-1 1h1m-1 1h1m-1 3h1m-1 1h1m-1 1h1m-1 1h1m-1 2h1m-1 1h1m-1 2h1m-1 4h1m-1 1h1m-1 3h1m-1 1h1m-1 1h1m-1 1h1m0-53h1m-1 19h1m-1 9h1m-1 2h1m-1 1h1m-1 2h1m-1 3h1m-1 1h1m-1 2h1m-1 3h1m-1 1h1m-1 2h1m-1 3h1m-1 8h1m-1 2h1m-1 1h1m-1 5h1m-1 2h1m-1 1h1m0-55h1m-1 14h1m-1 4h1m-1 2h1m-1 2h1m-1 1h1m-1 1h1m-1 2h1m0-24h1m-1 2h1m-1 13h1m-1 5h1m-1 5h1m-1 3h1m-1 1h1m-1 9h1m-1 1h1m-1 1h1m-1 16h1m-1 7h1m0-63h1m-1 23h1m-1 1h1m-1 1h1m-1 1h1m-1 1h1m-1 4h1m-1 4h1m-1 2h1m-1 16h1m-1 17h1m0-62h1m-1 3h1m-1 2h1m-1 6h1m-1 1h1m-1 4h1m-1 2h1m-1 1h1m-1 11h1m-1 15h1m0-69h1m-1 32h1m-1 10h1m-1 1h1m-1 2h1m-1 2h1m-1 9h1m-1 30h1m0-49h1m-1 1h1m-1 1h1m-1 3h1m-1 12h1m0-24h1m-1 20h1m-1 14h1m-1 5h1m-1 6h1m0-73h1m-1 30h1m-1 8h1m-1 23h1m-1 2h1m0-36h1m-1 1h1m-1 7h1m-1 18h1m-1 33h1m0-58h1m-1 7h1m-1 9h1m0-59h1m-1 29h1m-1 23h1m-1 11h1m0 14h1m-1 10h1m0 5h1m0-77h1m-1 11h1m-1 11h1m0 14h1m-1 26h1" stroke="#000" stroke-opacity="0.9" stroke-width="1.8" fill="none" filter="url(#bl)"/>
</g>
<rect x="189.5" y="304.5" width="58.0" height="59.3" fill="none" stroke="#999" stroke-width="0.8"/>
<line x1="191.5" y1="364.2" x2="246.5" y2="364.2" stroke="#555" stroke-width="1.0" stroke-dasharray="1 5.22 .6 2.90 .6 2.03 .6 1.55"/>
<line x1="189.1" y1="361.8" x2="189.1" y2="305.5" stroke="#555" stroke-width="1.0" stroke-dasharray="1 5.22 .6 2.90 .6 2.03 .6 1.55"/>
<line x1="223.6" y1="304.5" x2="223.6" y2="363.8" stroke="#000" stroke-width="0.7" stroke-opacity=".55"/>
<line x1="189.5" y1="326.2" x2="247.5" y2="326.2" stroke="#000" stroke-width="0.7" stroke-opacity=".55"/>
<text x="191.5" y="308.7" font-size="3.2" text-anchor="start" font-weight="normal" fill="#333" >55.13%</text>
<text x="245.5" y="308.7" font-size="3.2" text-anchor="end" font-weight="normal" fill="#333" >4.52%</text>
<text x="191.5" y="362.0" font-size="3.2" text-anchor="start" font-weight="normal" fill="#333" >28.13%</text>
<text x="245.5" y="362.0" font-size="3.2" text-anchor="end" font-weight="normal" fill="#333" >12.22%</text>
<clipPath id="c189"><rect x="262.0" y="303.0" width="59.3" height="59.0"/></clipPath>
<g clip-path="url(#c189)">
<ellipse cx="288.0" cy="314.8" rx="12.7" ry="5.5" transform="rotate(-178 288.0 314.8)" fill="url(#gg)" fill-opacity="1.0"/>
<ellipse cx="288.5" cy="314.8" rx="7.8" ry="3.7" transform="rotate(0 288.5 314.8)" fill="url(#gg)" fill-opacity="1.0"/>
<ellipse cx="275.0" cy="315.3" rx="15.0" ry="4.6" transform="rotate(-178 275.0 315.3)" fill="url(#gg)" fill-opacity="0.2"/>
<ellipse cx="299.0" cy="331.0" rx="12.0" ry="9.2" transform="rotate(0 299.0 331.0)" fill="url(#gg)" fill-opacity="0.42"/>
<ellipse cx="287.5" cy="331.0" rx="11.5" ry="11.5" transform="rotate(90 287.5 331.0)" fill="url(#gg)" fill-opacity="0.25"/>
<path transform="scale(.5)" d="M526 627h1m-1 1h1m-1 1h1m-1 1h1m-1 1h1m-1 1h1m-1 1h1m-1 1h1m-1 2h1m-1 10h1m-1 17h1m-1 1h1m-1 29h1m0-65h1m-1 4h1m-1 2h1m-1 1h1m0-13h1m-1 3h1m-1 4h1m-1 24h1m0-27h1m-1 1h1m-1 3h1m-1 2h1m-1 55h1m-1 2h1m0-69h1m-1 7h1m-1 8h1m-1 3h1m0-10h1m-1 1h1m0-5h1m-1 3h1m-1 2h1m-1 2h1m-1 1h1m-1 1h1m-1 1h1m-1 23h1m0-33h1m-1 1h1m-1 5h1m-1 4h1m0-21h1m-1 12h1m-1 7h1m-1 47h1m-1 12h1m0-70h1m-1 8h1m-1 1h1m-1 2h1m-1 1h1m-1 3h1m0-9h1m-1 1h1m-1 1h1m-1 3h1m-1 1h1m-1 2h1m0-6h1m-1 2h1m-1 1h1m-1 1h1m-1 39h1m-1 22h1m-1 11h1m0-88h1m-1 10h1m-1 6h1m-1 1h1m-1 24h1m-1 26h1m0-57h1m-1 1h1m-1 1h1m-1 3h1m-1 1h1m-1 2h1m-1 41h1m0-49h1m-1 1h1m-1 3h1m-1 40h1m-1 14h1m0-62h1m-1 2h1m-1 1h1m-1 2h1m-1 2h1m-1 2h1m-1 1h1m-1 4h1m-1 5h1m0-23h1m-1 6h1m-1 2h1m-1 1h1m-1 3h1m-1 3h1m-1 1h1m-1 42h1m0-51h1m-1 2h1m-1 1h1m-1 1h1m-1 3h1m-1 10h1m-1 12h1m-1 49h1m0-83h1m-1 4h1m-1 1h1m-1 1h1m-1 2h1m-1 2h1m-1 1h1m-1 1h1m-1 2h1m-1 1h1m-1 2h1m-1 20h1m-1 15h1m0-50h1m-1 2h1m-1 1h1m-1 2h1m-1 2h1m-1 2h1m-1 1h1m-1 1h1m-1 1h1m-1 21h1m-1 18h1m0-52h1m-1 2h1m-1 1h1m-1 2h1m-1 3h1m-1 2h1m-1 2h1m-1 7h1m-1 22h1m-1 58h1m0-97h1m-1 1h1m-1 1h1m-1 1h1m-1 1h1m-1 2h1m-1 2h1m-1 1h1m-1 1h1m-1 2h1m0-13h1m-1 1h1m-1 3h1m-1 1h1m-1 1h1m-1 4h1m-1 3h1m-1 1h1m-1 20h1m-1 13h1m0-44h1m-1 1h1m-1 1h1m-1 1h1m-1 1h1m-1 2h1m-1 4h1m-1 2h1m-1 29h1m-1 2h1m0-45h1m-1 1h1m-1 2h1m-1 2h1m-1 1h1m-1 1h1m-1 1h1m-1 1h1m-1 1h1m-1 1h1m-1 1h1m-1 5h1m-1 12h1m0-31h1m-1 3h1m-1 1h1m-1 2h1m-1 1h1m-1 1h1m-1 1h1m-1 1h1m-1 1h1m-1 35h1m0-46h1m-1 2h1m-1 1h1m-1 1h1m-1 1h1m-1 1h1m-1 1h1m-1 1h1m-1 1h1m-1 1h1m-1 1h1m-1 1h1m-1 1h1m-1 3h1m-1 2h1m-1 10h1m-1 6h1m-1 10h1m-1 2h1m-1 1h1m-1 6h1m0-67h1m-1 11h1m-1 5h1m-1 1h1m-1 2h1m-1 1h1m-1 1h1m-1 1h1m-1 1h1m-1 1h1m-1 1h1m-1 1h1m-1 1h1m-1 18h1m-1 7h1m-1 3h1m-1 1h1m-1 5h1m-1 13h1m-1 3h1m-1 17h1m0-93h1m-1 12h1m-1 5h1m-1 1h1m-1 1h1m-1 2h1m-1 2h1m-1 2h1m-1 1h1m-1 2h1m-1 2h1m-1 1h1m-1 19h1m0-38h1m-1 1h1m-1 3h1m-1 1h1m-1 1h1m-1 1h1m-1 1h1m-1 1h1m-1 2h1m-1 1h1m-1 3h1m0-23h1m-1 10h1m-1 1h1m-1 2h1m-1 1h1m-1 2h1m-1 1h1m-1 1h1m-1 1h1m-1 1h1m-1 2h1m-1 12h1m-1 3h1m-1 7h1m-1 2h1m-1 1h1m-1 2h1m-1 5h1m0-48h1m-1 4h1m-1 1h1m-1 1h1m-1 1h1m-1 1h1m-1 1h1m-1 1h1m-1 1h1m-1 1h1m-1 1h1m-1 2h1m-1 1h1m-1 3h1m-1 1h1m-1 10h1m-1 3h1m-1 10h1m-1 6h1m-1 2h1m-1 7h1m0-54h1m-1 1h1m-1 1h1m-1 1h1m-1 2h1m-1 1h1m-1 2h1m-1 2h1m-1 2h1m-1 20h1m-1 4h1m-1 9h1m-1 2h1m-1 4h1m-1 7h1m-1 7h1m-1 15h1m0-90h1m-1 4h1m-1 2h1m-1 4h1m-1 1h1m-1 2h1m-1 1h1m-1 1h1m-1 1h1m-1 1h1m-1 1h1m-1 2h1m-1 1h1m-1 1h1m-1 2h1m-1 9h1m-1 7h1m-1 2h1m-1 1h1m-1 7h1m-1 1h1m-1 1h1m-1 2h1m-1 4h1m-1 6h1m-1 19h1m-1 20h1m0-94h1m-1 1h1m-1 1h1m-1 1h1m-1 1h1m-1 1h1m-1 1h1m-1 1h1m-1 1h1m-1 1h1m-1 1h1m-1 1h1m-1 2h1m-1 1h1m-1 2h1m-1 3h1m-1 11h1m-1 3h1m-1 2h1m-1 1h1m-1 2h1m-1 12h1m-1 1h1m-1 1h1m-1 18h1m0-70h1m-1 4h1m-1 1h1m-1 1h1m-1 1h1m-1 1h1m-1 1h1m-1 1h1m-1 1h1m-1 1h1m-1 2h1m-1 2h1m-1 1h1m-1 14h1m-1 3h1m-1 7h1m-1 15h1m-1 6h1m0-64h1m-1 1h1m-1 1h1m-1 1h1m-1 2h1m-1 1h1m-1 1h1m-1 1h1m-1 1h1m-1 1h1m-1 1h1m-1 1h1m-1 1h1m-1 1h1m-1 1h1m-1 1h1m-1 3h1m-1 1h1m-1 15h1m-1 9h1m-1 5h1m-1 1h1m-1 7h1m0-57h1m-1 1h1m-1 3h1m-1 1h1m-1 1h1m-1 1h1m-1 1h1m-1 1h1m-1 1h1m-1 1h1m-1 2h1m-1 1h1m-1 1h1m-1 1h1m-1 1h1m-1 4h1m-1 5h1m-1 2h1m-1 10h1m-1 2h1m-1 3h1m-1 2h1m-1 7h1m-1 1h1m-1 2h1m-1 1h1m-1 3h1m-1 12h1m-1 2h1m0-75h1m-1 4h1m-1 2h1m-1 1h1m-1 1h1m-1 1h1m-1 1h1m-1 1h1m-1 1h1m-1 1h1m-1 1h1m-1 1h1m-1 1h1m-1 1h1m-1 2h1m-1 3h1m-1 6h1m-1 6h1m-1 2h1m-1 1h1m-1 3h1m-1 3h1m-1 1h1m-1 3h1m-1 8h1m-1 7h1m-1 15h1m0-79h1m-1 3h1m-1 1h1m-1 2h1m-1 1h1m-1 2h1m-1 1h1m-1 1h1m-1 1h1m-1 1h1m-1 1h1m-1 1h1m-1 1h1m-1 1h1m-1 1h1m-1 1h1m-1 1h1m-1 11h1m-1 1h1m-1 9h1m-1 3h1m-1 1h1m-1 4h1m-1 2h1m-1 1h1m-1 1h1m-1 17h1m0-73h1m-1 7h1m-1 1h1m-1 2h1m-1 2h1m-1 1h1m-1 1h1m-1 1h1m-1 1h1m-1 1h1m-1 1h1m-1 1h1m-1 1h1m-1 1h1m-1 1h1m-1 1h1m-1 1h1m-1 15h1m-1 3h1m-1 4h1m-1 4h1m-1 1h1m-1 1h1m-1 1h1m-1 1h1m-1 2h1m-1 5h1m-1 3h1m-1 5h1m-1 20h1m0-91h1m-1 8h1m-1 1h1m-1 2h1m-1 1h1m-1 1h1m-1 1h1m-1 1h1m-1 1h1m-1 1h1m-1 1h1m-1 2h1m-1 1h1m-1 2h1m-1 3h1m-1 17h1m-1 4h1m-1 3h1m-1 1h1m-1 2h1m-1 1h1m-1 5h1m-1 3h1m-1 1h1m-1 4h1m-1 3h1m0-69h1m-1 3h1m-1 1h1m-1 2h1m-1 3h1m-1 1h1m-1 1h1m-1 1h1m-1 1h1m-1 1h1m-1 1h1m-1 1h1m-1 1h1m-1 1h1m-1 1h1m-1 1h1m-1 1h1m-1 1h1m-1 1h1m-1 1h1m-1 10h1m-1 2h1m-1 4h1m-1 1h1m-1 2h1m-1 2h1m-1 2h1m-1 4h1m-1 2h1m-1 5h1m-1 1h1m-1 1h1m-1 3h1m-1 10h1m-1 16h1m0-86h1m-1 5h1m-1 1h1m-1 1h1m-1 1h1m-1 1h1m-1 1h1m-1 1h1m-1 1h1m-1 1h1m-1 1h1m-1 1h1m-1 1h1m-1 1h1m-1 1h1m-1 1h1m-1 1h1m-1 1h1m-1 1h1m-1 6h1m-1 10h1m-1 1h1m-1 1h1m-1 3h1m-1 2h1m-1 3h1m-1 1h1m-1 1h1m-1 1h1m-1 1h1m-1 1h1m-1 7h1m-1 5h1m-1 14h1m0-76h1m-1 2h1m-1 2h1m-1 2h1m-1 1h1m-1 1h1m-1 1h1m-1 1h1m-1 1h1m-1 1h1m-1 1h1m-1 1h1m-1 1h1m-1 1h1m-1 1h1m-1 1h1m-1 1h1m-1 2h1m-1 16h1m-1 2h1m-1 4h1m-1 1h1m-1 1h1m-1 1h1m-1 1h1m-1 2h1m-1 1h1m-1 2h1m-1 1h1m-1 2h1m-1 7h1m-1 16h1m0-78h1m-1 2h1m-1 1h1m-1 2h1m-1 1h1m-1 1h1m-1 1h1m-1 1h1m-1 1h1m-1 1h1m-1 1h1m-1 1h1m-1 1h1m-1 1h1m-1 1h1m-1 1h1m-1 1h1m-1 1h1m-1 2h1m-1 13h1m-1 1h1m-1 2h1m-1 1h1m-1 4h1m-1 2h1m-1 1h1m-1 2h1m-1 7h1m-1 1h1m-1 7h1m-1 2h1m-1 3h1m0-66h1m-1 1h1m-1 2h1m-1 1h1m-1 1h1m-1 1h1m-1 1h1m-1 1h1m-1 1h1m-1 1h1m-1 1h1m-1 1h1m-1 1h1m-1 1h1m-1 1h1m-1 1h1m-1 1h1m-1 1h1m-1 1h1m-1 1h1m-1 6h1m-1 3h1m-1 2h1m-1 1h1m-1 2h1m-1 3h1m-1 1h1m-1 1h1m-1 1h1m-1 3h1m-1 1h1m-1 2h1m-1 2h1m-1 1h1m-1 6h1m-1 6h1m-1 1h1m0-63h1m-1 1h1m-1 3h1m-1 1h1m-1 1h1m-1 1h1m-1 1h1m-1 1h1m-1 1h1m-1 1h1m-1 1h1m-1 1h1m-1 1h1m-1 1h1m-1 1h1m-1 1h1m-1 1h1m-1 1h1m-1 1h1m-1 1h1m-1 1h1m-1 2h1m-1 1h1m-1 2h1m-1 2h1m-1 1h1m-1 4h1m-1 1h1m-1 1h1m-1 1h1m-1 3h1m-1 1h1m-1 1h1m-1 1h1m-1 3h1m-1 1h1m-1 1h1m-1 3h1m-1 1h1m-1 10h1m-1 5h1m-1 3h1m0-70h1m-1 3h1m-1 1h1m-1 1h1m-1 1h1m-1 1h1m-1 1h1m-1 1h1m-1 1h1m-1 1h1m-1 1h1m-1 1h1m-1 1h1m-1 1h1m-1 1h1m-1 2h1m-1 1h1m-1 1h1m-1 1h1m-1 3h1m-1 6h1m-1 1h1m-1 1h1m-1 1h1m-1 2h1m-1 3h1m-1 3h1m-1 1h1m-1 1h1m-1 1h1m-1 1h1m-1 1h1m-1 2h1m-1 1h1m-1 1h1m-1 3h1m-1 1h1m-1 3h1m-1 2h1m-1 1h1m-1 19h1m0-83h1m-1 8h1m-1 1h1m-1 1h1m-1 1h1m-1 1h1m-1 1h1m-1 1h1m-1 1h1m-1 1h1m-1 1h1m-1 1h1m-1 1h1m-1 1h1m-1 1h1m-1 1h1m-1 1h1m-1 2h1m-1 1h1m-1 1h1m-1 9h1m-1 3h1m-1 1h1m-1 2h1m-1 2h1m-1 2h1m-1 1h1m-1 3h1m-1 1h1m-1 2h1m-1 6h1m-1 1h1m-1 2h1m-1 4h1m-1 11h1m0-73h1m-1 2h1m-1 1h1m-1 1h1m-1 1h1m-1 1h1m-1 1h1m-1 1h1m-1 1h1m-1 1h1m-1 1h1m-1 1h1m-1 1h1m-1 1h1m-1 1h1m-1 1h1m-1 1h1m-1 1h1m-1 1h1m-1 1h1m-1 2h1m-1 9h1m-1 1h1m-1 2h1m-1 2h1m-1 2h1m-1 1h1m-1 1h1m-1 1h1m-1 4h1m-1 1h1m-1 2h1m-1 2h1m-1 2h1m-1 4h1m0-58h1m-1 5h1m-1 1h1m-1 1h1m-1 1h1m-1 1h1m-1 1h1m-1 1h1m-1 1h1m-1 1h1m-1 1h1m-1 1h1m-1 1h1m-1 1h1m-1 1h1m-1 1h1m-1 1h1m-1 1h1m-1 1h1m-1 1h1m-1 1h1m-1 1h1m-1 5h1m-1 2h1m-1 2h1m-1 3h1m-1 3h1m-1 2h1m-1 1h1m-1 1h1m-1 1h1m-1 1h1m-1 2h1m-1 2h1m-1 1h1m-1 2h1m-1 2h1m-1 3h1m-1 1h1m-1 1h1m-1 2h1m-1 8h1m-1 11h1m0-84h1m-1 8h1m-1 1h1m-1 1h1m-1 1h1m-1 1h1m-1 1h1m-1 1h1m-1 1h1m-1 1h1m-1 1h1m-1 1h1m-1 1h1m-1 1h1m-1 1h1m-1 1h1m-1 1h1m-1 1h1m-1 1h1m-1 1h1m-1 2h1m-1 4h1m-1 4h1m-1 1h1m-1 1h1m-1 2h1m-1 2h1m-1 1h1m-1 1h1m-1 1h1m-1 1h1m-1 2h1m-1 2h1m-1 2h1m-1 2h1m-1 7h1m-1 1h1m-1 8h1m-1 3h1m-1 6h1m0-76h1m-1 4h1m-1 3h1m-1 1h1m-1 1h1m-1 1h1m-1 1h1m-1 1h1m-1 1h1m-1 1h1m-1 1h1m-1 1h1m-1 1h1m-1 1h1m-1 1h1m-1 1h1m-1 2h1m-1 2h1m-1 1h1m-1 1h1m-1 5h1m-1 1h1m-1 1h1m-1 1h1m-1 2h1m-1 2h1m-1 5h1m-1 2h1m-1 3h1m-1 1h1m-1 1h1m-1 1h1m-1 1h1m-1 1h1m-1 9h1m-1 4h1m0-63h1m-1 2h1m-1 1h1m-1 1h1m-1 1h1m-1 1h1m-1 1h1m-1 1h1m-1 1h1m-1 1h1m-1 1h1m-1 1h1m-1 1h1m-1 1h1m-1 1h1m-1 1h1m-1 1h1m-1 1h1m-1 3h1m-1 6h1m-1 4h1m-1 5h1m-1 1h1m-1 4h1m-1 3h1m-1 3h1m-1 1h1m-1 2h1m-1 1h1m-1 1h1m-1 1h1m-1 3h1m-1 6h1m0-63h1m-1 1h1m-1 1h1m-1 2h1m-1 1h1m-1 1h1m-1 1h1m-1 1h1m-1 2h1m-1 1h1m-1 1h1m-1 1h1m-1 1h1m-1 1h1m-1 1h1m-1 1h1m-1 1h1m-1 2h1m-1 1h1m-1 1h1m-1 4h1m-1 1h1m-1 2h1m-1 3h1m-1 2h1m-1 1h1m-1 2h1m-1 2h1m-1 2h1m-1 2h1m-1 1h1m-1 3h1m-1 1h1m-1 2h1m-1 2h1m-1 1h1m-1 2h1m-1 1h1m-1 13h1m-1 5h1m-1 2h1m-1 3h1m-1 7h1m0-96h1m-1 8h1m-1 3h1m-1 1h1m-1 3h1m-1 2h1m-1 1h1m-1 1h1m-1 1h1m-1 1h1m-1 1h1m-1 1h1m-1 1h1m-1 1h1m-1 1h1m-1 1h1m-1 1h1m-1 1h1m-1 4h1m-1 1h1m-1 1h1m-1 1h1m-1 3h1m-1 1h1m-1 3h1m-1 1h1m-1 1h1m-1 1h1m-1 2h1m-1 1h1m-1 1h1m-1 1h1m-1 1h1m-1 1h1m-1 5h1m-1 2h1m-1 1h1m-1 1h1m-1 1h1m-1 1h1m-1 4h1m-1 1h1m-1 2h1m0-61h1m-1 2h1m-1 1h1m-1 1h1m-1 1h1m-1 1h1m-1 1h1m-1 1h1m-1 1h1m-1 1h1m-1 1h1m-1 1h1m-1 1h1m-1 1h1m-1 1h1m-1 1h1m-1 1h1m-1 1h1m-1 1h1m-1 1h1m-1 1h1m-1 1h1m-1 1h1m-1 2h1m-1 1h1m-1 4h1m-1 5h1m-1 1h1m-1 1h1m-1 1h1m-1 2h1m-1 1h1m-1 1h1m-1 1h1m-1 1h1m-1 1h1m-1 1h1m-1 6h1m-1 1h1m-1 7h1m-1 1h1m-1 7h1m-1 36h1m0-103h1m-1 3h1m-1 1h1m-1 1h1m-1 1h1m-1 1h1m-1 1h1m-1 1h1m-1 1h1m-1 1h1m-1 1h1m-1 1h1m-1 1h1m-1 1h1m-1 1h1m-1 1h1m-1 1h1m-1 1h1m-1 7h1m-1 1h1m-1 1h1m-1 2h1m-1 1h1m-1 1h1m-1 3h1m-1 1h1m-1 2h1m-1 3h1m-1 1h1m-1 3h1m-1 2h1m-1 1h1m-1 1h1m-1 1h1m-1 1h1m-1 1h1m-1 4h1m-1 3h1m-1 5h1m-1 8h1m-1 1h1m-1 5h1m0-74h1m-1 1h1m-1 1h1m-1 1h1m-1 2h1m-1 1h1m-1 1h1m-1 1h1m-1 1h1m-1 1h1m-1 1h1m-1 3h1m-1 1h1m-1 8h1m-1 3h1m-1 3h1m-1 2h1m-1 2h1m-1 1h1m-1 1h1m-1 1h1m-1 2h1m-1 1h1m-1 1h1m-1 1h1m-1 1h1m-1 1h1m-1 1h1m-1 1h1m-1 2h1m-1 1h1m-1 1h1m-1 6h1m-1 6h1m-1 1h1m-1 10h1m-1 2h1m0-76h1m-1 2h1m-1 1h1m-1 1h1m-1 1h1m-1 1h1m-1 1h1m-1 1h1m-1 1h1m-1 1h1m-1 1h1m-1 1h1m-1 1h1m-1 1h1m-1 1h1m-1 1h1m-1 1h1m-1 1h1m-1 18h1m-1 1h1m-1 1h1m-1 6h1m-1 2h1m-1 1h1m-1 3h1m-1 2h1m-1 1h1m-1 1h1m-1 4h1m-1 4h1m-1 3h1m0-64h1m-1 2h1m-1 1h1m-1 1h1m-1 1h1m-1 2h1m-1 1h1m-1 1h1m-1 1h1m-1 1h1m-1 1h1m-1 1h1m-1 2h1m-1 1h1m-1 2h1m-1 1h1m-1 2h1m-1 1h1m-1 4h1m-1 1h1m-1 3h1m-1 4h1m-1 1h1m-1 1h1m-1 1h1m-1 1h1m-1 1h1m-1 2h1m-1 1h1m-1 2h1m-1 1h1m-1 1h1m-1 1h1m-1 2h1m-1 1h1m-1 3h1m-1 1h1m-1 2h1m-1 1h1m-1 3h1m0-59h1m-1 1h1m-1 1h1m-1 1h1m-1 1h1m-1 1h1m-1 1h1m-1 1h1m-1 1h1m-1 1h1m-1 1h1m-1 2h1m-1 1h1m-1 1h1m-1 1h1m-1 1h1m-1 2h1m-1 2h1m-1 4h1m-1 5h1m-1 1h1m-1 4h1m-1 3h1m-1 3h1m-1 1h1m-1 4h1m-1 1h1m-1 2h1m-1 1h1m-1 1h1m-1 1h1m-1 4h1m-1 3h1m-1 28h1m-1 4h1m0-91h1m-1 2h1m-1 1h1m-1 1h1m-1 1h1m-1 1h1m-1 1h1m-1 1h1m-1 1h1m-1 1h1m-1 1h1m-1 1h1m-1 2h1m-1 2h1m-1 1h1m-1 4h1m-1 3h1m-1 6h1m-1 1h1m-1 1h1m-1 2h1m-1 3h1m-1 1h1m-1 1h1m-1 2h1m-1 2h1m-1 2h1m-1 1h1m-1 1h1m-1 1h1m-1 1h1m-1 3h1m-1 19h1m0-74h1m-1 5h1m-1 1h1m-1 1h1m-1 1h1m-1 2h1m-1 1h1m-1 1h1m-1 1h1m-1 1h1m-1 1h1m-1 1h1m-1 1h1m-1 3h1m-1 2h1m-1 3h1m-1 3h1m-1 2h1m-1 3h1m-1 2h1m-1 1h1m-1 3h1m-1 2h1m-1 1h1m-1 1h1m-1 1h1m-1 1h1m-1 1h1m-1 1h1m-1 1h1m-1 3h1m-1 2h1m-1 3h1m-1 1h1m-1 8h1m0-76h1m-1 15h1m-1 3h1m-1 2h1m-1 1h1m-1 2h1m-1 1h1m-1 1h1m-1 1h1m-1 1h1m-1 3h1m-1 3h1m-1 4h1m-1 5h1m-1 4h1m-1 2h1m-1 2h1m-1 1h1m-1 1h1m-1 1h1m-1 1h1m-1 1h1m-1 1h1m-1 1h1m-1 1h1m-1 4h1m-1 1h1m-1 2h1m-1 2h1m-1 7h1m0-74h1m-1 8h1m-1 9h1m-1 1h1m-1 1h1m-1 1h1m-1 1h1m-1 1h1m-1 1h1m-1 2h1m-1 1h1m-1 1h1m-1 1h1m-1 1h1m-1 1h1m-1 4h1m-1 5h1m-1 2h1m-1 5h1m-1 2h1m-1 2h1m-1 1h1m-1 1h1m-1 1h1m-1 4h1m-1 2h1m-1 1h1m-1 1h1m-1 1h1m-1 3h1m-1 1h1m-1 3h1m-1 4h1m-1 2h1m-1 14h1m-1 4h1m-1 7h1m0-90h1m-1 4h1m-1 2h1m-1 1h1m-1 1h1m-1 1h1m-1 1h1m-1 1h1m-1 1h1m-1 1h1m-1 1h1m-1 1h1m-1 1h1m-1 10h1m-1 6h1m-1 1h1m-1 1h1m-1 3h1m-1 1h1m-1 2h1m-1 2h1m-1 1h1m-1 4h1m-1 1h1m-1 2h1m-1 1h1m-1 1h1m-1 1h1m-1 2h1m-1 2h1m-1 1h1m-1 2h1m-1 1h1m-1 4h1m0-58h1m-1 2h1m-1 1h1m-1 1h1m-1 1h1m-1 1h1m-1 1h1m-1 2h1m-1 1h1m-1 1h1m-1 1h1m-1 2h1m-1 4h1m-1 1h1m-1 8h1m-1 1h1m-1 1h1m-1 1h1m-1 1h1m-1 2h1m-1 1h1m-1 1h1m-1 1h1m-1 1h1m-1 1h1m-1 1h1m-1 1h1m-1 2h1m-1 1h1m-1 1h1m-1 1h1m-1 1h1m-1 1h1m-1 1h1m-1 1h1m-1 2h1m-1 1h1m-1 4h1m-1 1h1m0-74h1m-1 13h1m-1 1h1m-1 2h1m-1 2h1m-1 2h1m-1 1h1m-1 1h1m-1 1h1m-1 2h1m-1 2h1m-1 1h1m-1 2h1m-1 1h1m-1 5h1m-1 1h1m-1 2h1m-1 2h1m-1 1h1m-1 1h1m-1 1h1m-1 2h1m-1 1h1m-1 1h1m-1 1h1m-1 1h1m-1 1h1m-1 1h1m-1 1h1m-1 1h1m-1 2h1m-1 1h1m-1 1h1m-1 4h1m-1 1h1m-1 1h1m-1 1h1m-1 6h1m-1 3h1m-1 2h1m0-76h1m-1 15h1m-1 1h1m-1 6h1m-1 1h1m-1 2h1m-1 2h1m-1 3h1m-1 2h1m-1 8h1m-1 2h1m-1 1h1m-1 1h1m-1 2h1m-1 1h1m-1 1h1m-1 1h1m-1 1h1m-1 1h1m-1 1h1m-1 1h1m-1 2h1m-1 1h1m-1 3h1m-1 2h1m-1 1h1m-1 1h1m-1 2h1m-1 2h1m-1 5h1m-1 2h1m0-56h1m-1 1h1m-1 6h1m-1 2h1m-1 1h1m-1 11h1m-1 5h1m-1 2h1m-1 1h1m-1 2h1m-1 2h1m-1 1h1m-1 2h1m-1 1h1m-1 2h1m-1 1h1m-1 1h1m-1 1h1m-1 1h1m-1 1h1m-1 1h1m-1 2h1m-1 3h1m-1 4h1m0-58h1m-1 4h1m-1 1h1m-1 3h1m-1 1h1m-1 6h1m-1 9h1m-1 6h1m-1 3h1m-1 1h1m-1 1h1m-1 2h1m-1 1h1m-1 1h1m-1 1h1m-1 1h1m-1 1h1m-1 1h1m-1 1h1m-1 1h1m-1 1h1m-1 2h1m-1 1h1m-1 2h1m-1 1h1m-1 7h1m-1 8h1m0-78h1m-1 18h1m-1 1h1m-1 1h1m-1 1h1m-1 1h1m-1 3h1m-1 3h1m-1 2h1m-1 6h1m-1 3h1m-1 3h1m-1 3h1m-1 1h1m-1 1h1m-1 1h1m-1 1h1m-1 1h1m-1 2h1m-1 1h1m-1 1h1m-1 2h1m-1 1h1m-1 1h1m-1 3h1m-1 8h1m-1 1h1m-1 8h1m0-62h1m-1 1h1m-1 1h1m-1 4h1m-1 3h1m-1 3h1m-1 3h1m-1 8h1m-1 2h1m-1 1h1m-1 2h1m-1 1h1m-1 1h1m-1 1h1m-1 1h1m-1 3h1m-1 1h1m-1 1h1m-1 2h1m-1 1h1m-1 1h1m-1 1h1m-1 2h1m-1 4h1m0-56h1m-1 2h1m-1 5h1m-1 5h1m-1 1h1m-1 8h1m-1 2h1m-1 10h1m-1 1h1m-1 2h1m-1 2h1m-1 2h1m-1 3h1m-1 2h1m-1 2h1m-1 1h1m-1 1h1m-1 1h1m-1 2h1m-1 38h1m0-86h1m-1 4h1m-1 4h1m-1 14h1m-1 3h1m-1 4h1m-1 1h1m-1 1h1m-1 1h1m-1 1h1m-1 1h1m-1 2h1m-1 2h1m-1 2h1m-1 1h1m-1 2h1m-1 1h1m-1 1h1m-1 3h1m-1 6h1m-1 6h1m-1 1h1m-1 2h1m-1 31h1m0-98h1m-1 7h1m-1 4h1m-1 13h1m-1 9h1m-1 1h1m-1 1h1m-1 1h1m-1 1h1m-1 1h1m-1 1h1m-1 1h1m-1 1h1m-1 1h1m-1 1h1m-1 2h1m-1 3h1m-1 1h1m-1 1h1m-1 2h1m0-55h1m-1 19h1m-1 17h1m-1 3h1m-1 1h1m-1 2h1m-1 3h1m-1 1h1m-1 1h1m-1 1h1m-1 3h1m-1 2h1m-1 2h1m-1 2h1m-1 3h1m-1 4h1m0-58h1m-1 4h1m-1 2h1m-1 1h1m-1 1h1m-1 2h1m-1 1h1m-1 7h1m-1 2h1m-1 2h1m-1 5h1m-1 5h1m-1 1h1m-1 1h1m-1 2h1m-1 1h1m-1 2h1m-1 1h1m-1 1h1m-1 1h1m-1 11h1m-1 1h1m0-64h1m-1 39h1m-1 2h1m-1 1h1m-1 1h1m-1 1h1m-1 5h1m-1 1h1m-1 2h1m-1 1h1m-1 1h1m-1 4h1m-1 1h1m-1 5h1m0-52h1m-1 2h1m-1 2h1m-1 12h1m-1 7h1m-1 1h1m-1 11h1m-1 1h1m-1 1h1m-1 1h1m-1 1h1m-1 4h1m-1 3h1m-1 1h1m-1 1h1m-1 4h1m-1 29h1m0-70h1m-1 8h1m-1 1h1m-1 4h1m-1 4h1m-1 1h1m-1 1h1m-1 3h1m-1 2h1m-1 3h1m-1 1h1m-1 1h1m-1 1h1m-1 1h1m-1 3h1m-1 2h1m-1 2h1m0-65h1m-1 21h1m-1 19h1m-1 1h1m-1 11h1m-1 3h1m-1 1h1m-1 1h1m-1 2h1m-1 1h1m-1 3h1m-1 1h1m-1 1h1m-1 4h1m-1 6h1m-1 3h1m-1 9h1m0-44h1m-1 3h1m-1 4h1m-1 4h1m-1 1h1m-1 1h1m-1 1h1m-1 2h1m-1 1h1m-1 6h1m-1 3h1m0-26h1m-1 1h1m-1 2h1m-1 5h1m-1 3h1m-1 1h1m-1 2h1m-1 10h1m-1 7h1m-1 2h1m0-67h1m-1 37h1m-1 1h1m-1 3h1m-1 6h1m-1 2h1m-1 1h1m-1 6h1m-1 2h1m-1 7h1m-1 2h1m-1 3h1m-1 13h1m-1 2h1m0-68h1m-1 17h1m-1 5h1m-1 6h1m-1 1h1m-1 1h1m-1 1h1m-1 6h1m-1 5h1m-1 14h1m-1 3h1m0-62h1m-1 21h1m-1 1h1m-1 3h1m-1 8h1m-1 2h1m-1 10h1m-1 33h1m0-84h1m-1 18h1m-1 9h1m-1 9h1m-1 1h1m-1 1h1m-1 4h1m-1 2h1m-1 8h1m-1 4h1m-1 15h1m0-44h1m-1 3h1m-1 2h1m-1 6h1m-1 5h1m-1 5h1m0-19h1m-1 1h1m-1 3h1m-1 6h1m-1 1h1m-1 3h1m0-30h1m-1 18h1m-1 2h1m-1 14h1m-1 4h1m0-24h1m-1 15h1m-1 6h1m0-13h1m-1 3h1m1-7h1m-1 9h1m0-19h1m0-34h1m-1 57h1m-1 31h1m0-47h1m-1 20h1m0-17h1m-1 22h1m-1 12h1m0 0h1m-1 25h1m0-85h1m-1 19h1m0-38h1m-1 37h1m0 4h1m0 7h1m0 6h1m0-44h1m0 1h1m0 87h1m1 13h1m0-85h1m-1 55h1m0-53h1m-1 9h1m-1 9h1m-1 10h1m-1 32h1m-1 6h1" stroke="#000" stroke-opacity="0.9" stroke-width="1.8" fill="none" filter="url(#bl)"/>
</g>
<rect x="262.0" y="303.0" width="59.3" height="59.0" fill="none" stroke="#999" stroke-width="0.8"/>
<line x1="264.0" y1="362.4" x2="320.3" y2="362.4" stroke="#555" stroke-width="1.0" stroke-dasharray="1 5.34 .6 2.97 .6 2.08 .6 1.65"/>
<line x1="261.6" y1="360.0" x2="261.6" y2="304.0" stroke="#555" stroke-width="1.0" stroke-dasharray="1 5.34 .6 2.97 .6 2.08 .6 1.65"/>
<line x1="294.6" y1="303.0" x2="294.6" y2="362.0" stroke="#000" stroke-width="0.7" stroke-opacity=".55"/>
<line x1="262.0" y1="325.1" x2="321.3" y2="325.1" stroke="#000" stroke-width="0.7" stroke-opacity=".55"/>
<text x="264.0" y="307.2" font-size="3.2" text-anchor="start" font-weight="normal" fill="#333" >50.35%</text>
<text x="319.3" y="307.2" font-size="3.2" text-anchor="end" font-weight="normal" fill="#333" >2.57%</text>
<text x="264.0" y="360.2" font-size="3.2" text-anchor="start" font-weight="normal" fill="#333" >28.72%</text>
<text x="319.3" y="360.2" font-size="3.2" text-anchor="end" font-weight="normal" fill="#333" >18.35%</text>
<clipPath id="c207"><rect x="189.5" y="370.5" width="58.0" height="59.5"/></clipPath>
<g clip-path="url(#c207)">
<ellipse cx="215.0" cy="383.5" rx="12.6" ry="11.5" transform="rotate(90 215.0 383.5)" fill="url(#gg)" fill-opacity="1.0"/>
<ellipse cx="215.0" cy="383.5" rx="8.3" ry="7.4" transform="rotate(90 215.0 383.5)" fill="url(#gg)" fill-opacity="1.0"/>
<ellipse cx="214.0" cy="398.0" rx="14.9" ry="12.0" transform="rotate(90 214.0 398.0)" fill="url(#gg)" fill-opacity="1.0"/>
<ellipse cx="214.5" cy="391.0" rx="11.5" ry="11.0" transform="rotate(90 214.5 391.0)" fill="url(#gg)" fill-opacity="0.8"/>
<path transform="scale(.5)" d="M381 744h1m-1 1h1m-1 3h1m-1 11h1m-1 2h1m-1 2h1m-1 3h1m-1 1h1m-1 1h1m-1 2h1m-1 2h1m-1 1h1m-1 1h1m-1 1h1m-1 2h1m-1 1h1m-1 1h1m-1 1h1m-1 1h1m-1 1h1m-1 2h1m-1 1h1m-1 2h1m-1 1h1m-1 1h1m-1 14h1m-1 3h1m-1 2h1m-1 1h1m-1 2h1m-1 2h1m-1 1h1m-1 4h1m-1 2h1m0-49h1m-1 4h1m-1 6h1m-1 2h1m-1 5h1m-1 11h1m-1 6h1m0-31h1m-1 15h1m-1 11h1m-1 12h1m-1 4h1m-1 11h1m0-67h1m-1 10h1m-1 9h1m-1 6h1m-1 3h1m-1 2h1m0-38h1m-1 13h1m-1 3h1m-1 3h1m-1 5h1m-1 2h1m-1 1h1m-1 5h1m-1 7h1m-1 7h1m-1 22h1m0-66h1m-1 1h1m-1 6h1m-1 1h1m-1 14h1m-1 15h1m-1 4h1m-1 2h1m-1 10h1m-1 8h1m-1 36h1m0-98h1m-1 12h1m-1 8h1m-1 4h1m-1 5h1m-1 16h1m-1 5h1m-1 25h1m-1 3h1m-1 10h1m-1 5h1m0-103h1m-1 10h1m-1 19h1m-1 1h1m-1 6h1m-1 5h1m-1 4h1m-1 1h1m-1 4h1m-1 2h1m-1 11h1m0-63h1m-1 13h1m-1 15h1m-1 4h1m-1 1h1m-1 1h1m-1 3h1m-1 1h1m-1 6h1m-1 2h1m-1 4h1m-1 1h1m0-36h1m-1 2h1m-1 3h1m-1 1h1m-1 5h1m-1 11h1m-1 1h1m-1 5h1m-1 6h1m-1 5h1m-1 5h1m-1 3h1m-1 1h1m-1 9h1m0-59h1m-1 1h1m-1 3h1m-1 7h1m-1 2h1m-1 8h1m-1 3h1m-1 10h1m-1 7h1m-1 3h1m-1 36h1m0-93h1m-1 3h1m-1 5h1m-1 13h1m-1 1h1m-1 2h1m-1 12h1m-1 2h1m-1 5h1m-1 1h1m-1 3h1m-1 2h1m-1 13h1m-1 8h1m-1 2h1m-1 6h1m-1 17h1m0-95h1m-1 7h1m-1 9h1m-1 9h1m-1 7h1m-1 2h1m-1 2h1m-1 2h1m-1 16h1m-1 5h1m-1 6h1m-1 9h1m-1 4h1m0-78h1m-1 10h1m-1 4h1m-1 1h1m-1 8h1m-1 3h1m-1 12h1m-1 4h1m-1 8h1m-1 3h1m-1 24h1m-1 14h1m-1 17h1m0-104h1m-1 2h1m-1 2h1m-1 5h1m-1 3h1m-1 11h1m-1 1h1m-1 1h1m-1 5h1m-1 2h1m-1 3h1m-1 3h1m-1 2h1m-1 4h1m-1 2h1m-1 2h1m-1 2h1m-1 7h1m-1 6h1m0-67h1m-1 3h1m-1 4h1m-1 1h1m-1 6h1m-1 9h1m-1 2h1m-1 4h1m-1 3h1m-1 4h1m-1 3h1m-1 1h1m-1 2h1m-1 9h1m-1 5h1m-1 7h1m0-54h1m-1 2h1m-1 2h1m-1 5h1m-1 1h1m-1 4h1m-1 4h1m-1 4h1m-1 1h1m-1 1h1m-1 4h1m-1 1h1m-1 2h1m-1 2h1m-1 1h1m-1 4h1m-1 1h1m-1 1h1m-1 6h1m-1 8h1m-1 25h1m-1 2h1m0-82h1m-1 7h1m-1 1h1m-1 6h1m-1 3h1m-1 2h1m-1 1h1m-1 1h1m-1 1h1m-1 2h1m-1 1h1m-1 6h1m-1 1h1m-1 1h1m-1 1h1m-1 1h1m-1 2h1m-1 3h1m-1 2h1m-1 3h1m-1 7h1m-1 5h1m-1 3h1m-1 12h1m-1 4h1m-1 2h1m0-85h1m-1 4h1m-1 2h1m-1 3h1m-1 8h1m-1 2h1m-1 1h1m-1 6h1m-1 1h1m-1 1h1m-1 1h1m-1 2h1m-1 2h1m-1 1h1m-1 3h1m-1 2h1m-1 3h1m-1 4h1m-1 1h1m-1 2h1m-1 2h1m-1 31h1m-1 3h1m-1 16h1m0-89h1m-1 7h1m-1 1h1m-1 2h1m-1 4h1m-1 3h1m-1 6h1m-1 3h1m-1 3h1m-1 3h1m-1 5h1m-1 1h1m-1 2h1m-1 1h1m-1 2h1m-1 2h1m-1 4h1m-1 5h1m-1 14h1m0-81h1m-1 1h1m-1 9h1m-1 2h1m-1 3h1m-1 2h1m-1 3h1m-1 2h1m-1 2h1m-1 1h1m-1 3h1m-1 4h1m-1 3h1m-1 14h1m-1 1h1m-1 1h1m-1 3h1m-1 2h1m-1 3h1m-1 1h1m-1 5h1m-1 3h1m-1 6h1m-1 1h1m-1 35h1m0-110h1m-1 16h1m-1 2h1m-1 6h1m-1 1h1m-1 1h1m-1 3h1m-1 2h1m-1 2h1m-1 1h1m-1 1h1m-1 6h1m-1 3h1m-1 1h1m-1 2h1m-1 1h1m-1 4h1m-1 4h1m-1 3h1m-1 1h1m-1 5h1m-1 20h1m0-85h1m-1 3h1m-1 5h1m-1 1h1m-1 3h1m-1 1h1m-1 3h1m-1 10h1m-1 2h1m-1 2h1m-1 2h1m-1 1h1m-1 3h1m-1 3h1m-1 1h1m-1 3h1m-1 2h1m-1 1h1m-1 5h1m-1 2h1m-1 1h1m-1 1h1m-1 1h1m-1 15h1m-1 5h1m-1 7h1m0-83h1m-1 3h1m-1 6h1m-1 4h1m-1 1h1m-1 1h1m-1 1h1m-1 9h1m-1 2h1m-1 1h1m-1 1h1m-1 2h1m-1 5h1m-1 4h1m-1 1h1m-1 1h1m-1 2h1m-1 6h1m-1 1h1m-1 1h1m-1 6h1m-1 5h1m-1 1h1m-1 2h1m-1 10h1m-1 10h1m-1 4h1m0-90h1m-1 7h1m-1 1h1m-1 6h1m-1 1h1m-1 6h1m-1 3h1m-1 4h1m-1 1h1m-1 2h1m-1 3h1m-1 4h1m-1 2h1m-1 1h1m-1 1h1m-1 1h1m-1 2h1m-1 1h1m-1 2h1m-1 1h1m-1 1h1m-1 1h1m-1 1h1m-1 14h1m-1 4h1m-1 7h1m-1 37h1m0-112h1m-1 5h1m-1 2h1m-1 6h1m-1 2h1m-1 2h1m-1 1h1m-1 1h1m-1 1h1m-1 3h1m-1 4h1m-1 1h1m-1 1h1m-1 1h1m-1 4h1m-1 2h1m-1 1h1m-1 1h1m-1 1h1m-1 7h1m-1 1h1m-1 1h1m-1 2h1m-1 2h1m-1 5h1m-1 2h1m-1 1h1m-1 2h1m-1 1h1m-1 22h1m-1 1h1m0-88h1m-1 1h1m-1 5h1m-1 8h1m-1 1h1m-1 2h1m-1 2h1m-1 4h1m-1 1h1m-1 4h1m-1 1h1m-1 1h1m-1 1h1m-1 1h1m-1 2h1m-1 1h1m-1 1h1m-1 1h1m-1 2h1m-1 1h1m-1 3h1m-1 3h1m-1 1h1m-1 1h1m-1 2h1m-1 1h1m-1 1h1m-1 1h1m-1 4h1m-1 1h1m-1 2h1m-1 1h1m-1 4h1m-1 2h1m-1 4h1m-1 35h1m-1 9h1m0-115h1m-1 7h1m-1 1h1m-1 1h1m-1 3h1m-1 2h1m-1 2h1m-1 3h1m-1 1h1m-1 2h1m-1 3h1m-1 1h1m-1 1h1m-1 1h1m-1 2h1m-1 1h1m-1 3h1m-1 1h1m-1 1h1m-1 2h1m-1 4h1m-1 2h1m-1 1h1m-1 1h1m-1 2h1m-1 3h1m-1 1h1m-1 2h1m-1 1h1m-1 1h1m-1 2h1m-1 1h1m-1 11h1m-1 2h1m-1 1h1m-1 10h1m-1 32h1m0-115h1m-1 8h1m-1 2h1m-1 2h1m-1 1h1m-1 2h1m-1 2h1m-1 3h1m-1 1h1m-1 2h1m-1 1h1m-1 1h1m-1 1h1m-1 1h1m-1 3h1m-1 1h1m-1 2h1m-1 1h1m-1 1h1m-1 1h1m-1 3h1m-1 2h1m-1 1h1m-1 1h1m-1 1h1m-1 1h1m-1 2h1m-1 3h1m-1 1h1m-1 1h1m-1 1h1m-1 1h1m-1 1h1m-1 1h1m-1 1h1m-1 2h1m-1 1h1m-1 8h1m-1 3h1m-1 13h1m-1 3h1m0-87h1m-1 11h1m-1 1h1m-1 1h1m-1 1h1m-1 1h1m-1 1h1m-1 1h1m-1 2h1m-1 2h1m-1 2h1m-1 2h1m-1 3h1m-1 1h1m-1 2h1m-1 2h1m-1 2h1m-1 1h1m-1 2h1m-1 1h1m-1 2h1m-1 1h1m-1 1h1m-1 1h1m-1 4h1m-1 1h1m-1 1h1m-1 1h1m-1 2h1m-1 1h1m-1 1h1m-1 3h1m-1 1h1m-1 1h1m-1 1h1m-1 1h1m-1 6h1m-1 8h1m-1 2h1m-1 2h1m-1 13h1m0-93h1m-1 1h1m-1 5h1m-1 1h1m-1 2h1m-1 7h1m-1 3h1m-1 2h1m-1 1h1m-1 1h1m-1 1h1m-1 1h1m-1 1h1m-1 1h1m-1 1h1m-1 1h1m-1 1h1m-1 2h1m-1 1h1m-1 2h1m-1 1h1m-1 1h1m-1 1h1m-1 2h1m-1 1h1m-1 1h1m-1 1h1m-1 3h1m-1 2h1m-1 1h1m-1 2h1m-1 1h1m-1 1h1m-1 1h1m-1 3h1m-1 1h1m-1 2h1m-1 1h1m-1 1h1m-1 1h1m-1 3h1m-1 4h1m-1 2h1m-1 5h1m-1 2h1m-1 1h1m-1 6h1m-1 1h1m0-87h1m-1 1h1m-1 5h1m-1 2h1m-1 9h1m-1 1h1m-1 2h1m-1 1h1m-1 1h1m-1 2h1m-1 2h1m-1 1h1m-1 1h1m-1 5h1m-1 1h1m-1 3h1m-1 1h1m-1 1h1m-1 1h1m-1 1h1m-1 1h1m-1 1h1m-1 3h1m-1 1h1m-1 2h1m-1 1h1m-1 1h1m-1 1h1m-1 4h1m-1 5h1m-1 1h1m-1 1h1m-1 2h1m-1 7h1m-1 1h1m-1 20h1m-1 3h1m-1 2h1m-1 3h1m-1 4h1m0-93h1m-1 3h1m-1 2h1m-1 2h1m-1 1h1m-1 1h1m-1 1h1m-1 1h1m-1 1h1m-1 1h1m-1 1h1m-1 1h1m-1 2h1m-1 2h1m-1 1h1m-1 2h1m-1 4h1m-1 1h1m-1 2h1m-1 1h1m-1 2h1m-1 2h1m-1 2h1m-1 2h1m-1 1h1m-1 1h1m-1 1h1m-1 1h1m-1 3h1m-1 2h1m-1 1h1m-1 3h1m-1 1h1m-1 3h1m-1 4h1m-1 1h1m-1 2h1m-1 6h1m-1 2h1m-1 5h1m0-87h1m-1 4h1m-1 2h1m-1 4h1m-1 2h1m-1 2h1m-1 3h1m-1 2h1m-1 1h1m-1 1h1m-1 2h1m-1 1h1m-1 2h1m-1 1h1m-1 2h1m-1 1h1m-1 1h1m-1 1h1m-1 1h1m-1 1h1m-1 1h1m-1 1h1m-1 1h1m-1 1h1m-1 1h1m-1 1h1m-1 1h1m-1 1h1m-1 1h1m-1 1h1m-1 1h1m-1 2h1m-1 2h1m-1 1h1m-1 1h1m-1 1h1m-1 1h1m-1 1h1m-1 1h1m-1 1h1m-1 1h1m-1 1h1m-1 1h1m-1 1h1m-1 2h1m-1 3h1m-1 3h1m-1 2h1m-1 1h1m-1 5h1m-1 6h1m-1 9h1m-1 24h1m0-115h1m-1 6h1m-1 5h1m-1 1h1m-1 1h1m-1 2h1m-1 3h1m-1 1h1m-1 1h1m-1 1h1m-1 2h1m-1 2h1m-1 1h1m-1 2h1m-1 1h1m-1 2h1m-1 2h1m-1 2h1m-1 2h1m-1 1h1m-1 1h1m-1 2h1m-1 2h1m-1 1h1m-1 1h1m-1 1h1m-1 1h1m-1 2h1m-1 2h1m-1 2h1m-1 1h1m-1 1h1m-1 1h1m-1 3h1m-1 1h1m-1 1h1m-1 3h1m-1 6h1m-1 5h1m-1 3h1m-1 1h1m-1 1h1m-1 7h1m-1 6h1m0-93h1m-1 2h1m-1 9h1m-1 1h1m-1 2h1m-1 1h1m-1 4h1m-1 3h1m-1 1h1m-1 3h1m-1 1h1m-1 1h1m-1 1h1m-1 1h1m-1 1h1m-1 1h1m-1 1h1m-1 1h1m-1 2h1m-1 1h1m-1 2h1m-1 1h1m-1 1h1m-1 1h1m-1 1h1m-1 1h1m-1 1h1m-1 2h1m-1 1h1m-1 1h1m-1 4h1m-1 1h1m-1 1h1m-1 1h1m-1 3h1m-1 2h1m-1 1h1m-1 5h1m-1 4h1m-1 3h1m-1 6h1m-1 2h1m-1 13h1m-1 14h1m-1 6h1m0-114h1m-1 7h1m-1 1h1m-1 1h1m-1 2h1m-1 1h1m-1 1h1m-1 1h1m-1 1h1m-1 1h1m-1 2h1m-1 2h1m-1 1h1m-1 1h1m-1 1h1m-1 1h1m-1 1h1m-1 1h1m-1 2h1m-1 1h1m-1 2h1m-1 1h1m-1 1h1m-1 1h1m-1 1h1m-1 1h1m-1 1h1m-1 1h1m-1 1h1m-1 1h1m-1 1h1m-1 1h1m-1 1h1m-1 1h1m-1 1h1m-1 1h1m-1 1h1m-1 2h1m-1 1h1m-1 1h1m-1 1h1m-1 1h1m-1 1h1m-1 1h1m-1 4h1m-1 1h1m-1 1h1m-1 1h1m-1 1h1m-1 3h1m-1 3h1m-1 1h1m-1 1h1m-1 2h1m-1 2h1m-1 11h1m-1 7h1m-1 6h1m0-97h1m-1 2h1m-1 1h1m-1 5h1m-1 1h1m-1 1h1m-1 1h1m-1 2h1m-1 1h1m-1 1h1m-1 1h1m-1 1h1m-1 1h1m-1 1h1m-1 1h1m-1 1h1m-1 1h1m-1 1h1m-1 1h1m-1 3h1m-1 1h1m-1 1h1m-1 1h1m-1 1h1m-1 1h1m-1 1h1m-1 1h1m-1 2h1m-1 1h1m-1 1h1m-1 1h1m-1 1h1m-1 1h1m-1 1h1m-1 1h1m-1 1h1m-1 1h1m-1 1h1m-1 1h1m-1 1h1m-1 3h1m-1 1h1m-1 1h1m-1 1h1m-1 1h1m-1 1h1m-1 3h1m-1 1h1m-1 1h1m-1 4h1m-1 1h1m-1 1h1m-1 6h1m-1 6h1m-1 1h1m-1 1h1m-1 3h1m-1 3h1m-1 22h1m0-112h1m-1 4h1m-1 1h1m-1 2h1m-1 4h1m-1 1h1m-1 1h1m-1 1h1m-1 1h1m-1 2h1m-1 1h1m-1 1h1m-1 1h1m-1 1h1m-1 1h1m-1 1h1m-1 1h1m-1 1h1m-1 1h1m-1 1h1m-1 1h1m-1 1h1m-1 1h1m-1 1h1m-1 1h1m-1 1h1m-1 1h1m-1 1h1m-1 1h1m-1 1h1m-1 1h1m-1 1h1m-1 1h1m-1 1h1m-1 1h1m-1 2h1m-1 1h1m-1 1h1m-1 1h1m-1 1h1m-1 1h1m-1 1h1m-1 2h1m-1 1h1m-1 1h1m-1 1h1m-1 1h1m-1 1h1m-1 1h1m-1 1h1m-1 1h1m-1 1h1m-1 1h1m-1 2h1m-1 1h1m-1 1h1m-1 2h1m-1 2h1m-1 2h1m-1 1h1m-1 6h1m-1 5h1m-1 11h1m-1 2h1m-1 7h1m-1 10h1m0-114h1m-1 3h1m-1 4h1m-1 1h1m-1 1h1m-1 1h1m-1 2h1m-1 2h1m-1 2h1m-1 1h1m-1 1h1m-1 1h1m-1 1h1m-1 1h1m-1 1h1m-1 1h1m-1 1h1m-1 1h1m-1 1h1m-1 1h1m-1 1h1m-1 1h1m-1 1h1m-1 2h1m-1 1h1m-1 1h1m-1 1h1m-1 1h1m-1 1h1m-1 1h1m-1 1h1m-1 2h1m-1 1h1m-1 1h1m-1 1h1m-1 1h1m-1 2h1m-1 1h1m-1 1h1m-1 1h1m-1 1h1m-1 1h1m-1 1h1m-1 1h1m-1 2h1m-1 1h1m-1 1h1m-1 1h1m-1 1h1m-1 2h1m-1 2h1m-1 1h1m-1 1h1m-1 2h1m-1 1h1m-1 2h1m-1 4h1m-1 2h1m-1 1h1m-1 1h1m-1 3h1m-1 7h1m-1 7h1m-1 6h1m0-102h1m-1 6h1m-1 2h1m-1 2h1m-1 1h1m-1 1h1m-1 1h1m-1 1h1m-1 1h1m-1 1h1m-1 1h1m-1 1h1m-1 1h1m-1 1h1m-1 1h1m-1 1h1m-1 1h1m-1 1h1m-1 1h1m-1 1h1m-1 1h1m-1 1h1m-1 1h1m-1 1h1m-1 1h1m-1 1h1m-1 2h1m-1 1h1m-1 1h1m-1 1h1m-1 1h1m-1 1h1m-1 1h1m-1 1h1m-1 1h1m-1 1h1m-1 1h1m-1 1h1m-1 1h1m-1 1h1m-1 1h1m-1 2h1m-1 1h1m-1 2h1m-1 1h1m-1 1h1m-1 2h1m-1 2h1m-1 1h1m-1 2h1m-1 1h1m-1 1h1m-1 3h1m-1 3h1m-1 1h1m-1 2h1m-1 1h1m-1 2h1m-1 1h1m-1 4h1m-1 1h1m-1 8h1m-1 2h1m-1 2h1m-1 2h1m-1 3h1m-1 2h1m-1 1h1m-1 1h1m0-100h1m-1 3h1m-1 1h1m-1 1h1m-1 1h1m-1 2h1m-1 1h1m-1 1h1m-1 1h1m-1 2h1m-1 1h1m-1 1h1m-1 1h1m-1 1h1m-1 2h1m-1 1h1m-1 2h1m-1 1h1m-1 1h1m-1 1h1m-1 1h1m-1 1h1m-1 1h1m-1 1h1m-1 1h1m-1 1h1m-1 1h1m-1 1h1m-1 1h1m-1 1h1m-1 2h1m-1 1h1m-1 1h1m-1 1h1m-1 2h1m-1 1h1m-1 1h1m-1 1h1m-1 1h1m-1 2h1m-1 1h1m-1 1h1m-1 1h1m-1 1h1m-1 1h1m-1 2h1m-1 1h1m-1 1h1m-1 1h1m-1 1h1m-1 1h1m-1 1h1m-1 1h1m-1 1h1m-1 1h1m-1 2h1m-1 1h1m-1 3h1m-1 9h1m-1 2h1m-1 2h1m-1 5h1m-1 2h1m-1 1h1m-1 2h1m-1 16h1m0-112h1m-1 2h1m-1 2h1m-1 1h1m-1 3h1m-1 5h1m-1 1h1m-1 1h1m-1 1h1m-1 1h1m-1 1h1m-1 1h1m-1 1h1m-1 1h1m-1 1h1m-1 1h1m-1 1h1m-1 1h1m-1 1h1m-1 1h1m-1 1h1m-1 1h1m-1 1h1m-1 1h1m-1 1h1m-1 1h1m-1 1h1m-1 1h1m-1 1h1m-1 1h1m-1 1h1m-1 1h1m-1 1h1m-1 1h1m-1 1h1m-1 1h1m-1 1h1m-1 1h1m-1 2h1m-1 1h1m-1 1h1m-1 1h1m-1 1h1m-1 1h1m-1 1h1m-1 1h1m-1 1h1m-1 2h1m-1 1h1m-1 1h1m-1 1h1m-1 2h1m-1 2h1m-1 1h1m-1 1h1m-1 1h1m-1 1h1m-1 1h1m-1 1h1m-1 2h1m-1 5h1m-1 10h1m-1 1h1m-1 2h1m-1 3h1m-1 6h1m-1 4h1m-1 1h1m-1 7h1m0-111h1m-1 5h1m-1 4h1m-1 1h1m-1 1h1m-1 2h1m-1 1h1m-1 2h1m-1 1h1m-1 1h1m-1 1h1m-1 1h1m-1 1h1m-1 1h1m-1 1h1m-1 2h1m-1 1h1m-1 1h1m-1 1h1m-1 1h1m-1 1h1m-1 1h1m-1 1h1m-1 1h1m-1 1h1m-1 1h1m-1 1h1m-1 1h1m-1 1h1m-1 1h1m-1 1h1m-1 1h1m-1 1h1m-1 1h1m-1 1h1m-1 1h1m-1 1h1m-1 1h1m-1 1h1m-1 1h1m-1 1h1m-1 1h1m-1 1h1m-1 1h1m-1 1h1m-1 1h1m-1 1h1m-1 1h1m-1 1h1m-1 1h1m-1 1h1m-1 1h1m-1 1h1m-1 1h1m-1 1h1m-1 2h1m-1 1h1m-1 1h1m-1 7h1m-1 1h1m-1 1h1m-1 4h1m-1 4h1m-1 3h1m-1 3h1m-1 1h1m-1 3h1m-1 6h1m-1 14h1m0-115h1m-1 3h1m-1 1h1m-1 2h1m-1 1h1m-1 1h1m-1 1h1m-1 3h1m-1 1h1m-1 1h1m-1 1h1m-1 1h1m-1 1h1m-1 1h1m-1 1h1m-1 1h1m-1 1h1m-1 1h1m-1 1h1m-1 1h1m-1 1h1m-1 1h1m-1 1h1m-1 1h1m-1 1h1m-1 1h1m-1 1h1m-1 1h1m-1 1h1m-1 1h1m-1 1h1m-1 1h1m-1 1h1m-1 1h1m-1 1h1m-1 2h1m-1 1h1m-1 1h1m-1 1h1m-1 1h1m-1 1h1m-1 1h1m-1 1h1m-1 1h1m-1 1h1m-1 1h1m-1 1h1m-1 1h1m-1 1h1m-1 1h1m-1 1h1m-1 1h1m-1 1h1m-1 1h1m-1 1h1m-1 1h1m-1 1h1m-1 1h1m-1 1h1m-1 2h1m-1 2h1m-1 2h1m-1 1h1m-1 1h1m-1 4h1m-1 4h1m-1 1h1m-1 1h1m-1 2h1m-1 8h1m-1 2h1m-1 1h1m-1 3h1m-1 6h1m0-104h1m-1 1h1m-1 5h1m-1 1h1m-1 2h1m-1 1h1m-1 2h1m-1 1h1m-1 1h1m-1 2h1m-1 1h1m-1 1h1m-1 1h1m-1 1h1m-1 1h1m-1 1h1m-1 1h1m-1 1h1m-1 1h1m-1 1h1m-1 1h1m-1 1h1m-1 2h1m-1 1h1m-1 1h1m-1 1h1m-1 1h1m-1 1h1m-1 1h1m-1 1h1m-1 1h1m-1 1h1m-1 1h1m-1 1h1m-1 1h1m-1 1h1m-1 1h1m-1 1h1m-1 1h1m-1 1h1m-1 1h1m-1 1h1m-1 2h1m-1 1h1m-1 1h1m-1 1h1m-1 1h1m-1 1h1m-1 1h1m-1 1h1m-1 2h1m-1 1h1m-1 1h1m-1 1h1m-1 1h1m-1 1h1m-1 1h1m-1 1h1m-1 1h1m-1 1h1m-1 1h1m-1 1h1m-1 1h1m-1 1h1m-1 1h1m-1 1h1m-1 1h1m-1 1h1m-1 5h1m-1 3h1m-1 3h1m-1 2h1m-1 1h1m-1 6h1m0-97h1m-1 4h1m-1 1h1m-1 1h1m-1 1h1m-1 1h1m-1 1h1m-1 1h1m-1 1h1m-1 1h1m-1 1h1m-1 2h1m-1 1h1m-1 2h1m-1 1h1m-1 1h1m-1 1h1m-1 1h1m-1 1h1m-1 1h1m-1 1h1m-1 1h1m-1 1h1m-1 1h1m-1 1h1m-1 1h1m-1 1h1m-1 1h1m-1 1h1m-1 1h1m-1 1h1m-1 1h1m-1 1h1m-1 1h1m-1 1h1m-1 1h1m-1 1h1m-1 1h1m-1 1h1m-1 1h1m-1 1h1m-1 1h1m-1 2h1m-1 1h1m-1 1h1m-1 1h1m-1 1h1m-1 1h1m-1 1h1m-1 1h1m-1 1h1m-1 1h1m-1 2h1m-1 1h1m-1 1h1m-1 1h1m-1 2h1m-1 1h1m-1 1h1m-1 1h1m-1 2h1m-1 2h1m-1 2h1m-1 2h1m-1 2h1m-1 4h1m-1 2h1m-1 1h1m-1 5h1m-1 1h1m-1 2h1m-1 1h1m-1 3h1m-1 9h1m-1 7h1m-1 3h1m0-115h1m-1 1h1m-1 1h1m-1 3h1m-1 2h1m-1 2h1m-1 1h1m-1 3h1m-1 1h1m-1 1h1m-1 1h1m-1 1h1m-1 1h1m-1 2h1m-1 1h1m-1 1h1m-1 1h1m-1 1h1m-1 1h1m-1 1h1m-1 1h1m-1 1h1m-1 1h1m-1 1h1m-1 1h1m-1 1h1m-1 1h1m-1 1h1m-1 1h1m-1 1h1m-1 1h1m-1 1h1m-1 1h1m-1 1h1m-1 1h1m-1 1h1m-1 1h1m-1 1h1m-1 1h1m-1 1h1m-1 1h1m-1 1h1m-1 1h1m-1 1h1m-1 2h1m-1 1h1m-1 1h1m-1 1h1m-1 1h1m-1 1h1m-1 1h1m-1 1h1m-1 2h1m-1 1h1m-1 1h1m-1 1h1m-1 1h1m-1 1h1m-1 1h1m-1 2h1m-1 2h1m-1 1h1m-1 1h1m-1 4h1m-1 5h1m-1 7h1m-1 2h1m-1 3h1m-1 4h1m0-98h1m-1 9h1m-1 1h1m-1 2h1m-1 1h1m-1 1h1m-1 2h1m-1 1h1m-1 1h1m-1 1h1m-1 2h1m-1 1h1m-1 1h1m-1 1h1m-1 1h1m-1 1h1m-1 1h1m-1 1h1m-1 1h1m-1 1h1m-1 1h1m-1 1h1m-1 1h1m-1 1h1m-1 1h1m-1 1h1m-1 1h1m-1 1h1m-1 1h1m-1 1h1m-1 1h1m-1 1h1m-1 1h1m-1 1h1m-1 1h1m-1 2h1m-1 2h1m-1 2h1m-1 1h1m-1 1h1m-1 1h1m-1 1h1m-1 1h1m-1 2h1m-1 1h1m-1 1h1m-1 1h1m-1 1h1m-1 1h1m-1 1h1m-1 1h1m-1 1h1m-1 1h1m-1 2h1m-1 1h1m-1 3h1m-1 4h1m-1 1h1m-1 2h1m-1 1h1m-1 4h1m-1 12h1m-1 8h1m-1 7h1m-1 3h1m0-110h1m-1 1h1m-1 2h1m-1 1h1m-1 3h1m-1 1h1m-1 1h1m-1 1h1m-1 1h1m-1 1h1m-1 1h1m-1 1h1m-1 1h1m-1 1h1m-1 1h1m-1 1h1m-1 1h1m-1 1h1m-1 1h1m-1 1h1m-1 1h1m-1 1h1m-1 1h1m-1 1h1m-1 1h1m-1 1h1m-1 1h1m-1 1h1m-1 1h1m-1 1h1m-1 1h1m-1 1h1m-1 1h1m-1 1h1m-1 1h1m-1 1h1m-1 1h1m-1 1h1m-1 1h1m-1 1h1m-1 1h1m-1 1h1m-1 1h1m-1 1h1m-1 1h1m-1 1h1m-1 1h1m-1 1h1m-1 1h1m-1 1h1m-1 1h1m-1 1h1m-1 2h1m-1 2h1m-1 1h1m-1 1h1m-1 2h1m-1 2h1m-1 3h1m-1 1h1m-1 2h1m-1 1h1m-1 1h1m-1 4h1m-1 1h1m-1 1h1m-1 2h1m-1 3h1m-1 2h1m-1 1h1m-1 2h1m-1 20h1m0-113h1m-1 7h1m-1 4h1m-1 1h1m-1 1h1m-1 1h1m-1 1h1m-1 1h1m-1 1h1m-1 1h1m-1 1h1m-1 1h1m-1 1h1m-1 1h1m-1 1h1m-1 1h1m-1 1h1m-1 1h1m-1 1h1m-1 1h1m-1 1h1m-1 1h1m-1 1h1m-1 1h1m-1 1h1m-1 1h1m-1 1h1m-1 1h1m-1 1h1m-1 2h1m-1 1h1m-1 1h1m-1 1h1m-1 1h1m-1 1h1m-1 2h1m-1 1h1m-1 1h1m-1 2h1m-1 1h1m-1 1h1m-1 1h1m-1 3h1m-1 1h1m-1 2h1m-1 2h1m-1 2h1m-1 2h1m-1 1h1m-1 1h1m-1 2h1m-1 2h1m-1 4h1m-1 1h1m-1 1h1m-1 3h1m-1 1h1m-1 1h1m-1 1h1m-1 3h1m-1 1h1m-1 2h1m-1 11h1m-1 2h1m-1 12h1m-1 1h1m0-115h1m-1 4h1m-1 5h1m-1 1h1m-1 2h1m-1 1h1m-1 1h1m-1 1h1m-1 1h1m-1 1h1m-1 1h1m-1 1h1m-1 1h1m-1 1h1m-1 2h1m-1 1h1m-1 1h1m-1 1h1m-1 1h1m-1 1h1m-1 1h1m-1 1h1m-1 1h1m-1 1h1m-1 1h1m-1 1h1m-1 1h1m-1 1h1m-1 1h1m-1 1h1m-1 1h1m-1 1h1m-1 1h1m-1 2h1m-1 1h1m-1 1h1m-1 1h1m-1 1h1m-1 1h1m-1 1h1m-1 1h1m-1 1h1m-1 2h1m-1 1h1m-1 1h1m-1 2h1m-1 1h1m-1 1h1m-1 1h1m-1 1h1m-1 1h1m-1 1h1m-1 1h1m-1 3h1m-1 3h1m-1 2h1m-1 1h1m-1 1h1m-1 3h1m-1 2h1m-1 1h1m-1 3h1m-1 4h1m-1 1h1m-1 2h1m-1 1h1m-1 4h1m-1 6h1m-1 2h1m-1 8h1m0-111h1m-1 1h1m-1 1h1m-1 7h1m-1 1h1m-1 1h1m-1 1h1m-1 1h1m-1 1h1m-1 1h1m-1 1h1m-1 1h1m-1 1h1m-1 1h1m-1 1h1m-1 2h1m-1 1h1m-1 2h1m-1 1h1m-1 1h1m-1 1h1m-1 1h1m-1 1h1m-1 1h1m-1 1h1m-1 1h1m-1 1h1m-1 1h1m-1 1h1m-1 1h1m-1 1h1m-1 1h1m-1 2h1m-1 1h1m-1 1h1m-1 1h1m-1 1h1m-1 1h1m-1 1h1m-1 1h1m-1 1h1m-1 1h1m-1 1h1m-1 2h1m-1 2h1m-1 1h1m-1 1h1m-1 1h1m-1 1h1m-1 2h1m-1 1h1m-1 1h1m-1 1h1m-1 1h1m-1 1h1m-1 1h1m-1 2h1m-1 1h1m-1 3h1m-1 1h1m-1 4h1m-1 3h1m-1 3h1m-1 7h1m-1 3h1m-1 2h1m-1 4h1m-1 2h1m-1 4h1m-1 9h1m0-115h1m-1 1h1m-1 8h1m-1 1h1m-1 1h1m-1 1h1m-1 1h1m-1 1h1m-1 1h1m-1 1h1m-1 1h1m-1 1h1m-1 1h1m-1 1h1m-1 1h1m-1 1h1m-1 1h1m-1 1h1m-1 1h1m-1 1h1m-1 1h1m-1 1h1m-1 1h1m-1 1h1m-1 1h1m-1 1h1m-1 1h1m-1 1h1m-1 1h1m-1 1h1m-1 1h1m-1 1h1m-1 1h1m-1 1h1m-1 1h1m-1 1h1m-1 1h1m-1 1h1m-1 1h1m-1 1h1m-1 1h1m-1 1h1m-1 2h1m-1 1h1m-1 1h1m-1 1h1m-1 1h1m-1 1h1m-1 1h1m-1 1h1m-1 1h1m-1 2h1m-1 1h1m-1 1h1m-1 1h1m-1 1h1m-1 1h1m-1 5h1m-1 2h1m-1 2h1m-1 1h1m-1 7h1m-1 3h1m-1 5h1m-1 5h1m-1 1h1m-1 5h1m-1 4h1m-1 5h1m0-110h1m-1 2h1m-1 1h1m-1 4h1m-1 2h1m-1 1h1m-1 3h1m-1 2h1m-1 1h1m-1 1h1m-1 1h1m-1 1h1m-1 1h1m-1 1h1m-1 1h1m-1 1h1m-1 1h1m-1 2h1m-1 1h1m-1 1h1m-1 1h1m-1 1h1m-1 2h1m-1 2h1m-1 1h1m-1 1h1m-1 2h1m-1 2h1m-1 1h1m-1 1h1m-1 1h1m-1 1h1m-1 1h1m-1 1h1m-1 1h1m-1 1h1m-1 1h1m-1 2h1m-1 1h1m-1 1h1m-1 1h1m-1 1h1m-1 3h1m-1 1h1m-1 1h1m-1 1h1m-1 1h1m-1 2h1m-1 4h1m-1 1h1m-1 1h1m-1 3h1m-1 1h1m-1 1h1m-1 1h1m-1 1h1m-1 2h1m-1 7h1m-1 2h1m-1 6h1m-1 4h1m-1 8h1m0-106h1m-1 1h1m-1 1h1m-1 1h1m-1 2h1m-1 2h1m-1 2h1m-1 1h1m-1 3h1m-1 1h1m-1 1h1m-1 2h1m-1 1h1m-1 1h1m-1 1h1m-1 1h1m-1 1h1m-1 1h1m-1 1h1m-1 1h1m-1 2h1m-1 1h1m-1 1h1m-1 1h1m-1 1h1m-1 1h1m-1 1h1m-1 1h1m-1 1h1m-1 1h1m-1 1h1m-1 1h1m-1 1h1m-1 1h1m-1 2h1m-1 1h1m-1 1h1m-1 1h1m-1 1h1m-1 1h1m-1 1h1m-1 1h1m-1 1h1m-1 1h1m-1 1h1m-1 1h1m-1 1h1m-1 1h1m-1 2h1m-1 1h1m-1 1h1m-1 1h1m-1 1h1m-1 1h1m-1 1h1m-1 1h1m-1 1h1m-1 1h1m-1 1h1m-1 2h1m-1 1h1m-1 2h1m-1 4h1m-1 1h1m-1 1h1m-1 15h1m-1 5h1m0-98h1m-1 2h1m-1 1h1m-1 1h1m-1 4h1m-1 1h1m-1 3h1m-1 3h1m-1 1h1m-1 1h1m-1 1h1m-1 1h1m-1 1h1m-1 1h1m-1 1h1m-1 1h1m-1 1h1m-1 1h1m-1 1h1m-1 1h1m-1 1h1m-1 1h1m-1 1h1m-1 1h1m-1 1h1m-1 1h1m-1 1h1m-1 1h1m-1 1h1m-1 1h1m-1 1h1m-1 1h1m-1 1h1m-1 1h1m-1 1h1m-1 1h1m-1 2h1m-1 1h1m-1 1h1m-1 2h1m-1 1h1m-1 1h1m-1 1h1m-1 1h1m-1 1h1m-1 1h1m-1 1h1m-1 1h1m-1 1h1m-1 2h1m-1 1h1m-1 2h1m-1 3h1m-1 3h1m-1 1h1m-1 1h1m-1 2h1m-1 3h1m-1 1h1m-1 2h1m-1 2h1m-1 12h1m-1 9h1m0-102h1m-1 4h1m-1 2h1m-1 1h1m-1 1h1m-1 6h1m-1 1h1m-1 2h1m-1 1h1m-1 1h1m-1 1h1m-1 1h1m-1 1h1m-1 1h1m-1 1h1m-1 1h1m-1 1h1m-1 1h1m-1 1h1m-1 1h1m-1 1h1m-1 1h1m-1 1h1m-1 1h1m-1 1h1m-1 1h1m-1 1h1m-1 1h1m-1 1h1m-1 1h1m-1 2h1m-1 1h1m-1 1h1m-1 1h1m-1 1h1m-1 2h1m-1 1h1m-1 1h1m-1 1h1m-1 1h1m-1 1h1m-1 1h1m-1 3h1m-1 1h1m-1 1h1m-1 1h1m-1 3h1m-1 1h1m-1 1h1m-1 2h1m-1 7h1m-1 1h1m-1 4h1m-1 3h1m-1 5h1m-1 19h1m-1 6h1m0-111h1m-1 2h1m-1 6h1m-1 2h1m-1 3h1m-1 1h1m-1 2h1m-1 1h1m-1 1h1m-1 1h1m-1 1h1m-1 1h1m-1 1h1m-1 1h1m-1 1h1m-1 1h1m-1 1h1m-1 1h1m-1 1h1m-1 1h1m-1 1h1m-1 2h1m-1 1h1m-1 1h1m-1 1h1m-1 1h1m-1 1h1m-1 1h1m-1 1h1m-1 1h1m-1 1h1m-1 2h1m-1 1h1m-1 4h1m-1 1h1m-1 1h1m-1 1h1m-1 2h1m-1 1h1m-1 2h1m-1 1h1m-1 1h1m-1 2h1m-1 1h1m-1 1h1m-1 1h1m-1 1h1m-1 2h1m-1 5h1m-1 2h1m-1 2h1m-1 4h1m-1 6h1m-1 6h1m-1 2h1m-1 12h1m-1 3h1m-1 7h1m0-114h1m-1 2h1m-1 7h1m-1 1h1m-1 1h1m-1 1h1m-1 2h1m-1 1h1m-1 1h1m-1 2h1m-1 1h1m-1 1h1m-1 1h1m-1 1h1m-1 1h1m-1 1h1m-1 1h1m-1 1h1m-1 1h1m-1 1h1m-1 1h1m-1 1h1m-1 1h1m-1 1h1m-1 1h1m-1 1h1m-1 1h1m-1 2h1m-1 1h1m-1 2h1m-1 1h1m-1 1h1m-1 1h1m-1 2h1m-1 1h1m-1 1h1m-1 3h1m-1 1h1m-1 1h1m-1 2h1m-1 1h1m-1 1h1m-1 1h1m-1 1h1m-1 4h1m-1 1h1m-1 2h1m-1 1h1m-1 3h1m-1 5h1m-1 1h1m-1 4h1m-1 13h1m-1 1h1m-1 14h1m0-108h1m-1 1h1m-1 2h1m-1 2h1m-1 7h1m-1 1h1m-1 2h1m-1 1h1m-1 1h1m-1 2h1m-1 1h1m-1 1h1m-1 1h1m-1 2h1m-1 1h1m-1 1h1m-1 2h1m-1 1h1m-1 2h1m-1 1h1m-1 1h1m-1 2h1m-1 1h1m-1 1h1m-1 1h1m-1 2h1m-1 3h1m-1 1h1m-1 1h1m-1 2h1m-1 1h1m-1 1h1m-1 3h1m-1 3h1m-1 1h1m-1 1h1m-1 1h1m-1 1h1m-1 1h1m-1 2h1m-1 2h1m-1 2h1m-1 5h1m-1 4h1m-1 4h1m-1 2h1m-1 16h1m-1 18h1m0-115h1m-1 11h1m-1 1h1m-1 2h1m-1 2h1m-1 1h1m-1 1h1m-1 1h1m-1 1h1m-1 1h1m-1 1h1m-1 1h1m-1 1h1m-1 3h1m-1 1h1m-1 1h1m-1 2h1m-1 1h1m-1 1h1m-1 1h1m-1 1h1m-1 3h1m-1 1h1m-1 1h1m-1 1h1m-1 1h1m-1 1h1m-1 1h1m-1 1h1m-1 1h1m-1 1h1m-1 1h1m-1 3h1m-1 1h1m-1 1h1m-1 1h1m-1 1h1m-1 1h1m-1 3h1m-1 6h1m-1 3h1m-1 3h1m-1 1h1m-1 4h1m-1 8h1m-1 10h1m-1 19h1m0-113h1m-1 4h1m-1 3h1m-1 1h1m-1 4h1m-1 3h1m-1 1h1m-1 1h1m-1 1h1m-1 1h1m-1 1h1m-1 1h1m-1 1h1m-1 1h1m-1 1h1m-1 1h1m-1 3h1m-1 2h1m-1 1h1m-1 2h1m-1 2h1m-1 1h1m-1 3h1m-1 1h1m-1 1h1m-1 2h1m-1 1h1m-1 1h1m-1 1h1m-1 1h1m-1 2h1m-1 2h1m-1 1h1m-1 2h1m-1 3h1m-1 1h1m-1 1h1m-1 5h1m-1 1h1m-1 5h1m-1 1h1m-1 1h1m-1 5h1m0-77h1m-1 5h1m-1 1h1m-1 5h1m-1 1h1m-1 2h1m-1 2h1m-1 4h1m-1 1h1m-1 2h1m-1 1h1m-1 1h1m-1 1h1m-1 3h1m-1 1h1m-1 1h1m-1 1h1m-1 1h1m-1 1h1m-1 2h1m-1 1h1m-1 2h1m-1 1h1m-1 1h1m-1 1h1m-1 1h1m-1 2h1m-1 1h1m-1 1h1m-1 1h1m-1 1h1m-1 3h1m-1 1h1m-1 1h1m-1 1h1m-1 2h1m-1 3h1m-1 2h1m-1 1h1m-1 1h1m-1 1h1m-1 6h1m-1 1h1m-1 1h1m-1 2h1m-1 7h1m-1 1h1m-1 2h1m-1 7h1m-1 10h1m0-102h1m-1 1h1m-1 6h1m-1 2h1m-1 3h1m-1 3h1m-1 3h1m-1 1h1m-1 1h1m-1 2h1m-1 1h1m-1 2h1m-1 2h1m-1 1h1m-1 1h1m-1 1h1m-1 1h1m-1 1h1m-1 1h1m-1 1h1m-1 1h1m-1 1h1m-1 1h1m-1 3h1m-1 2h1m-1 2h1m-1 2h1m-1 1h1m-1 2h1m-1 1h1m-1 1h1m-1 2h1m-1 6h1m-1 5h1m-1 4h1m-1 1h1m-1 1h1m-1 3h1m-1 5h1m-1 18h1m0-96h1m-1 1h1m-1 2h1m-1 2h1m-1 5h1m-1 1h1m-1 4h1m-1 1h1m-1 1h1m-1 2h1m-1 2h1m-1 1h1m-1 1h1m-1 3h1m-1 1h1m-1 1h1m-1 3h1m-1 2h1m-1 3h1m-1 2h1m-1 1h1m-1 1h1m-1 1h1m-1 5h1m-1 1h1m-1 1h1m-1 1h1m-1 3h1m-1 1h1m-1 2h1m-1 2h1m-1 5h1m-1 10h1m-1 1h1m-1 4h1m-1 1h1m0-74h1m-1 1h1m-1 3h1m-1 3h1m-1 1h1m-1 2h1m-1 4h1m-1 2h1m-1 2h1m-1 1h1m-1 1h1m-1 4h1m-1 4h1m-1 1h1m-1 1h1m-1 4h1m-1 1h1m-1 2h1m-1 1h1m-1 7h1m-1 1h1m-1 1h1m-1 1h1m-1 1h1m-1 4h1m-1 2h1m-1 3h1m-1 1h1m-1 3h1m-1 4h1m-1 3h1m-1 27h1m0-92h1m-1 1h1m-1 6h1m-1 2h1m-1 2h1m-1 3h1m-1 3h1m-1 3h1m-1 3h1m-1 8h1m-1 4h1m-1 1h1m-1 1h1m-1 2h1m-1 3h1m-1 1h1m-1 2h1m-1 2h1m-1 3h1m-1 5h1m-1 2h1m-1 7h1m-1 15h1m-1 3h1m-1 25h1m0-98h1m-1 3h1m-1 4h1m-1 4h1m-1 1h1m-1 4h1m-1 6h1m-1 4h1m-1 3h1m-1 3h1m-1 3h1m-1 1h1m-1 1h1m-1 5h1m-1 2h1m-1 1h1m-1 5h1m-1 3h1m-1 6h1m0-70h1m-1 7h1m-1 4h1m-1 7h1m-1 3h1m-1 1h1m-1 4h1m-1 1h1m-1 4h1m-1 2h1m-1 2h1m-1 12h1m-1 4h1m-1 1h1m-1 2h1m-1 4h1m-1 10h1m-1 3h1m-1 2h1m0-75h1m-1 12h1m-1 3h1m-1 6h1m-1 7h1m-1 2h1m-1 4h1m-1 2h1m-1 4h1m-1 3h1m-1 2h1m-1 2h1m-1 4h1m-1 1h1m-1 2h1m-1 1h1m-1 4h1m-1 15h1m-1 2h1m0-67h1m-1 5h1m-1 6h1m-1 5h1m-1 14h1m-1 8h1m-1 3h1m-1 1h1m-1 7h1m-1 37h1m0-89h1m-1 2h1m-1 1h1m-1 2h1m-1 3h1m-1 4h1m-1 8h1m-1 3h1m-1 5h1m-1 8h1m-1 1h1m-1 3h1m-1 1h1m-1 4h1m-1 1h1m-1 2h1m-1 1h1m-1 3h1m-1 20h1m-1 14h1m-1 3h1m0-87h1m-1 11h1m-1 7h1m-1 5h1m-1 2h1m-1 4h1m-1 1h1m-1 11h1m-1 3h1m-1 5h1m-1 12h1m-1 12h1m-1 18h1m0-89h1m-1 5h1m-1 1h1m-1 10h1m-1 6h1m-1 3h1m-1 1h1m-1 3h1m-1 30h1m-1 9h1m0-82h1m-1 16h1m-1 2h1m-1 1h1m-1 4h1m-1 1h1m-1 1h1m-1 2h1m-1 1h1m-1 6h1m-1 4h1m-1 13h1m-1 9h1m-1 5h1m-1 6h1m-1 28h1m-1 15h1m0-114h1m-1 24h1m-1 15h1m-1 5h1m-1 7h1m-1 2h1m-1 4h1m-1 2h1m-1 9h1m-1 2h1m0-48h1m-1 5h1m-1 1h1m-1 5h1m-1 21h1m-1 7h1m0-44h1m-1 1h1m-1 4h1m-1 2h1m-1 5h1m-1 13h1m-1 7h1m-1 14h1m-1 14h1m-1 4h1m0-69h1m-1 3h1m-1 2h1m-1 1h1m-1 9h1m-1 4h1m-1 1h1m-1 11h1m-1 4h1m-1 20h1m-1 12h1m0-79h1m-1 44h1m-1 2h1m-1 9h1m-1 3h1m-1 24h1m0-63h1m-1 1h1m-1 29h1m-1 3h1m-1 1h1m-1 11h1m-1 1h1m-1 1h1m-1 21h1m0-34h1m-1 11h1m-1 23h1m0-73h1m-1 13h1m-1 18h1m-1 13h1m0-50h1m-1 13h1m-1 28h1m-1 1h1m-1 13h1m-1 11h1m-1 41h1m0-99h1m-1 28h1m-1 1h1m-1 9h1m-1 36h1m1-43h1m-1 30h1m-1 33h1m0-45h1m-1 6h1m-1 2h1m-1 25h1m0-93h1m-1 21h1m-1 28h1m-1 11h1m-1 21h1m0-39h1m-1 1h1m-1 1h1m0 6h1m-1 6h1m-1 31h1m0-70h1m-1 15h1m0 16h1m-1 5h1m-1 39h1m0-38h1m-1 40h1m0-40h1m2-12h1m-1 41h1m0-48h1m-1 4h1m-1 31h1m1-34h1m3 34h1m5-75h1m-1 10h1m-1 34h1m-1 52h1" stroke="#000" stroke-opacity="0.9" stroke-width="1.8" fill="none" filter="url(#bl)"/>
</g>
<rect x="189.5" y="370.5" width="58.0" height="59.5" fill="none" stroke="#999" stroke-width="0.8"/>
<line x1="191.5" y1="430.4" x2="246.5" y2="430.4" stroke="#555" stroke-width="1.0" stroke-dasharray="1 5.22 .6 2.90 .6 2.03 .6 1.55"/>
<line x1="189.1" y1="428.0" x2="189.1" y2="371.5" stroke="#555" stroke-width="1.0" stroke-dasharray="1 5.22 .6 2.90 .6 2.03 .6 1.55"/>
<line x1="223.6" y1="370.5" x2="223.6" y2="430.0" stroke="#000" stroke-width="0.7" stroke-opacity=".55"/>
<line x1="189.5" y1="391.8" x2="247.5" y2="391.8" stroke="#000" stroke-width="0.7" stroke-opacity=".55"/>
<text x="191.5" y="374.7" font-size="3.2" text-anchor="start" font-weight="normal" fill="#333" >56.12%</text>
<text x="245.5" y="374.7" font-size="3.2" text-anchor="end" font-weight="normal" fill="#333" >1.05%</text>
<text x="191.5" y="428.2" font-size="3.2" text-anchor="start" font-weight="normal" fill="#333" >41.21%</text>
<text x="245.5" y="428.2" font-size="3.2" text-anchor="end" font-weight="normal" fill="#333" >1.62%</text>
<clipPath id="c224"><rect x="262.0" y="370.0" width="59.3" height="59.2"/></clipPath>
<g clip-path="url(#c224)">
<ellipse cx="287.8" cy="383.3" rx="13.8" ry="6.9" transform="rotate(176 287.8 383.3)" fill="url(#gg)" fill-opacity="1.0"/>
<ellipse cx="288.3" cy="383.3" rx="8.7" ry="4.4" transform="rotate(0 288.3 383.3)" fill="url(#gg)" fill-opacity="1.0"/>
<ellipse cx="275.0" cy="384.5" rx="14.9" ry="5.5" transform="rotate(0 275.0 384.5)" fill="url(#gg)" fill-opacity="0.2"/>
<ellipse cx="286.6" cy="398.5" rx="12.0" ry="11.5" transform="rotate(90 286.6 398.5)" fill="url(#gg)" fill-opacity="0.5"/>
<path transform="scale(.5)" d="M526 759h1m-1 4h1m-1 5h1m-1 1h1m-1 1h1m-1 1h1m-1 1h1m-1 1h1m-1 13h1m-1 5h1m-1 1h1m-1 4h1m-1 1h1m-1 8h1m-1 5h1m0-45h1m-1 1h1m-1 4h1m-1 3h1m-1 64h1m0-78h1m-1 7h1m-1 3h1m-1 2h1m-1 2h1m-1 49h1m-1 22h1m0-80h1m-1 3h1m-1 42h1m0-46h1m-1 2h1m-1 3h1m-1 7h1m-1 5h1m-1 54h1m0-64h1m-1 2h1m-1 24h1m0-34h1m-1 3h1m-1 4h1m-1 1h1m-1 4h1m0-21h1m-1 12h1m-1 10h1m-1 2h1m-1 10h1m0-39h1m-1 15h1m-1 2h1m-1 1h1m-1 2h1m-1 1h1m-1 4h1m-1 38h1m-1 7h1m0-50h1m-1 2h1m-1 1h1m-1 3h1m-1 2h1m-1 9h1m-1 7h1m0-31h1m-1 7h1m-1 4h1m-1 3h1m0-19h1m-1 2h1m-1 5h1m-1 3h1m-1 7h1m-1 3h1m-1 26h1m-1 3h1m-1 1h1m0-46h1m-1 1h1m-1 3h1m-1 1h1m-1 6h1m-1 1h1m-1 1h1m-1 1h1m-1 2h1m-1 1h1m-1 1h1m-1 29h1m-1 18h1m0-77h1m-1 7h1m-1 8h1m-1 3h1m-1 1h1m-1 1h1m-1 1h1m-1 1h1m-1 1h1m-1 3h1m-1 10h1m-1 15h1m0-43h1m-1 9h1m-1 3h1m-1 3h1m-1 1h1m-1 1h1m-1 1h1m-1 2h1m-1 2h1m-1 5h1m-1 19h1m-1 16h1m0-63h1m-1 6h1m-1 4h1m-1 1h1m-1 2h1m-1 1h1m-1 1h1m-1 1h1m-1 2h1m-1 1h1m-1 1h1m-1 18h1m0-51h1m-1 18h1m-1 4h1m-1 1h1m-1 4h1m-1 1h1m-1 2h1m-1 2h1m-1 16h1m-1 9h1m-1 24h1m0-62h1m-1 1h1m-1 2h1m-1 4h1m-1 1h1m-1 2h1m-1 1h1m-1 4h1m-1 2h1m-1 1h1m-1 9h1m-1 10h1m0-36h1m-1 3h1m-1 1h1m-1 2h1m-1 2h1m-1 1h1m-1 1h1m-1 2h1m-1 1h1m-1 5h1m-1 1h1m-1 22h1m0-40h1m-1 1h1m-1 1h1m-1 1h1m-1 1h1m-1 1h1m-1 2h1m-1 3h1m-1 20h1m-1 1h1m-1 1h1m-1 6h1m-1 4h1m0-63h1m-1 18h1m-1 2h1m-1 1h1m-1 2h1m-1 1h1m-1 2h1m-1 1h1m-1 2h1m-1 2h1m-1 1h1m-1 1h1m-1 78h1m0-111h1m-1 18h1m-1 2h1m-1 2h1m-1 4h1m-1 1h1m-1 1h1m-1 2h1m-1 1h1m-1 1h1m-1 1h1m-1 7h1m-1 6h1m-1 14h1m0-42h1m-1 3h1m-1 2h1m-1 2h1m-1 1h1m-1 2h1m-1 1h1m-1 3h1m-1 1h1m-1 1h1m-1 1h1m-1 1h1m-1 1h1m-1 12h1m-1 13h1m-1 1h1m-1 3h1m-1 2h1m-1 1h1m-1 4h1m0-69h1m-1 12h1m-1 1h1m-1 3h1m-1 2h1m-1 1h1m-1 1h1m-1 1h1m-1 1h1m-1 1h1m-1 1h1m-1 1h1m-1 2h1m-1 5h1m-1 22h1m-1 9h1m-1 12h1m0-63h1m-1 5h1m-1 2h1m-1 1h1m-1 1h1m-1 2h1m-1 2h1m-1 3h1m-1 1h1m-1 5h1m-1 3h1m-1 1h1m-1 3h1m-1 12h1m-1 8h1m-1 1h1m-1 1h1m-1 1h1m0-52h1m-1 2h1m-1 2h1m-1 2h1m-1 1h1m-1 1h1m-1 1h1m-1 2h1m-1 1h1m-1 2h1m-1 2h1m-1 4h1m-1 6h1m-1 11h1m-1 10h1m-1 1h1m-1 4h1m-1 5h1m-1 38h1m0-94h1m-1 1h1m-1 1h1m-1 1h1m-1 2h1m-1 1h1m-1 2h1m-1 1h1m-1 1h1m-1 1h1m-1 1h1m-1 2h1m-1 1h1m-1 3h1m-1 6h1m-1 3h1m-1 3h1m-1 6h1m-1 4h1m-1 6h1m0-40h1m-1 1h1m-1 1h1m-1 1h1m-1 1h1m-1 1h1m-1 1h1m-1 1h1m-1 2h1m-1 2h1m-1 3h1m-1 3h1m-1 3h1m-1 4h1m-1 4h1m-1 1h1m-1 2h1m-1 1h1m-1 1h1m-1 2h1m-1 1h1m0-58h1m-1 17h1m-1 2h1m-1 2h1m-1 1h1m-1 1h1m-1 2h1m-1 1h1m-1 1h1m-1 1h1m-1 1h1m-1 1h1m-1 1h1m-1 3h1m-1 1h1m-1 3h1m-1 7h1m-1 3h1m-1 6h1m-1 4h1m-1 1h1m-1 6h1m-1 12h1m-1 5h1m-1 2h1m0-61h1m-1 1h1m-1 1h1m-1 3h1m-1 2h1m-1 10h1m-1 2h1m-1 3h1m-1 17h1m-1 2h1m-1 3h1m-1 14h1m0-67h1m-1 3h1m-1 1h1m-1 1h1m-1 1h1m-1 2h1m-1 1h1m-1 2h1m-1 1h1m-1 2h1m-1 2h1m-1 1h1m-1 1h1m-1 1h1m-1 3h1m-1 1h1m-1 2h1m-1 1h1m-1 11h1m-1 1h1m-1 3h1m-1 3h1m-1 2h1m-1 2h1m-1 4h1m-1 4h1m-1 31h1m0-84h1m-1 1h1m-1 2h1m-1 1h1m-1 2h1m-1 1h1m-1 1h1m-1 1h1m-1 1h1m-1 1h1m-1 2h1m-1 1h1m-1 1h1m-1 11h1m-1 1h1m-1 5h1m-1 1h1m-1 2h1m-1 1h1m-1 1h1m-1 1h1m-1 2h1m-1 2h1m-1 2h1m-1 4h1m0-53h1m-1 2h1m-1 1h1m-1 1h1m-1 4h1m-1 2h1m-1 2h1m-1 1h1m-1 1h1m-1 1h1m-1 1h1m-1 1h1m-1 1h1m-1 1h1m-1 1h1m-1 1h1m-1 1h1m-1 1h1m-1 2h1m-1 7h1m-1 3h1m-1 5h1m-1 1h1m-1 4h1m-1 7h1m-1 13h1m-1 5h1m0-79h1m-1 6h1m-1 4h1m-1 2h1m-1 3h1m-1 1h1m-1 1h1m-1 1h1m-1 1h1m-1 1h1m-1 1h1m-1 1h1m-1 1h1m-1 1h1m-1 1h1m-1 1h1m-1 1h1m-1 1h1m-1 1h1m-1 2h1m-1 1h1m-1 3h1m-1 6h1m-1 3h1m-1 2h1m-1 7h1m-1 1h1m-1 1h1m-1 2h1m-1 9h1m0-61h1m-1 6h1m-1 3h1m-1 2h1m-1 1h1m-1 1h1m-1 1h1m-1 1h1m-1 2h1m-1 1h1m-1 1h1m-1 1h1m-1 1h1m-1 2h1m-1 2h1m-1 2h1m-1 4h1m-1 1h1m-1 4h1m-1 2h1m-1 2h1m-1 1h1m-1 1h1m-1 1h1m-1 2h1m-1 2h1m-1 8h1m-1 2h1m-1 1h1m-1 4h1m-1 3h1m-1 5h1m0-65h1m-1 4h1m-1 1h1m-1 1h1m-1 1h1m-1 1h1m-1 1h1m-1 1h1m-1 1h1m-1 1h1m-1 1h1m-1 1h1m-1 1h1m-1 2h1m-1 4h1m-1 4h1m-1 1h1m-1 4h1m-1 1h1m-1 3h1m-1 1h1m-1 2h1m-1 2h1m-1 2h1m-1 1h1m-1 3h1m-1 5h1m0-64h1m-1 11h1m-1 1h1m-1 1h1m-1 1h1m-1 2h1m-1 1h1m-1 2h1m-1 1h1m-1 2h1m-1 1h1m-1 1h1m-1 1h1m-1 1h1m-1 1h1m-1 1h1m-1 1h1m-1 1h1m-1 1h1m-1 2h1m-1 1h1m-1 2h1m-1 7h1m-1 2h1m-1 3h1m-1 1h1m-1 2h1m-1 2h1m-1 1h1m-1 2h1m-1 1h1m-1 1h1m-1 4h1m-1 1h1m-1 2h1m-1 7h1m-1 7h1m-1 14h1m-1 14h1m0-93h1m-1 2h1m-1 2h1m-1 1h1m-1 1h1m-1 1h1m-1 1h1m-1 2h1m-1 1h1m-1 1h1m-1 1h1m-1 1h1m-1 2h1m-1 1h1m-1 2h1m-1 1h1m-1 2h1m-1 1h1m-1 3h1m-1 1h1m-1 1h1m-1 2h1m-1 3h1m-1 1h1m-1 3h1m-1 1h1m-1 2h1m-1 5h1m-1 2h1m-1 6h1m-1 4h1m-1 2h1m-1 2h1m0-73h1m-1 10h1m-1 6h1m-1 1h1m-1 1h1m-1 1h1m-1 1h1m-1 1h1m-1 1h1m-1 1h1m-1 1h1m-1 1h1m-1 1h1m-1 1h1m-1 1h1m-1 1h1m-1 2h1m-1 1h1m-1 1h1m-1 1h1m-1 1h1m-1 1h1m-1 1h1m-1 2h1m-1 6h1m-1 1h1m-1 1h1m-1 1h1m-1 1h1m-1 1h1m-1 1h1m-1 1h1m-1 2h1m-1 2h1m-1 2h1m-1 1h1m-1 2h1m-1 6h1m-1 2h1m0-64h1m-1 8h1m-1 1h1m-1 2h1m-1 1h1m-1 1h1m-1 1h1m-1 1h1m-1 1h1m-1 1h1m-1 1h1m-1 1h1m-1 1h1m-1 1h1m-1 2h1m-1 2h1m-1 1h1m-1 3h1m-1 1h1m-1 2h1m-1 4h1m-1 1h1m-1 2h1m-1 1h1m-1 1h1m-1 1h1m-1 1h1m-1 1h1m-1 2h1m-1 1h1m-1 1h1m-1 3h1m-1 1h1m-1 4h1m-1 3h1m-1 4h1m0-59h1m-1 4h1m-1 1h1m-1 1h1m-1 2h1m-1 1h1m-1 1h1m-1 1h1m-1 1h1m-1 1h1m-1 1h1m-1 1h1m-1 1h1m-1 1h1m-1 1h1m-1 1h1m-1 1h1m-1 1h1m-1 1h1m-1 2h1m-1 1h1m-1 6h1m-1 1h1m-1 1h1m-1 1h1m-1 2h1m-1 1h1m-1 4h1m-1 1h1m-1 1h1m-1 1h1m-1 1h1m-1 1h1m-1 3h1m-1 2h1m-1 2h1m-1 2h1m-1 2h1m-1 3h1m-1 1h1m-1 4h1m-1 7h1m0-70h1m-1 4h1m-1 1h1m-1 3h1m-1 1h1m-1 2h1m-1 1h1m-1 1h1m-1 1h1m-1 1h1m-1 1h1m-1 1h1m-1 1h1m-1 1h1m-1 1h1m-1 1h1m-1 1h1m-1 1h1m-1 2h1m-1 1h1m-1 2h1m-1 2h1m-1 2h1m-1 1h1m-1 1h1m-1 2h1m-1 1h1m-1 3h1m-1 3h1m-1 1h1m-1 4h1m-1 2h1m-1 1h1m-1 2h1m-1 6h1m-1 2h1m-1 1h1m-1 10h1m0-73h1m-1 1h1m-1 1h1m-1 1h1m-1 1h1m-1 1h1m-1 1h1m-1 1h1m-1 1h1m-1 1h1m-1 1h1m-1 2h1m-1 1h1m-1 1h1m-1 1h1m-1 1h1m-1 1h1m-1 1h1m-1 1h1m-1 1h1m-1 1h1m-1 1h1m-1 1h1m-1 2h1m-1 1h1m-1 1h1m-1 1h1m-1 3h1m-1 1h1m-1 1h1m-1 1h1m-1 4h1m-1 1h1m-1 1h1m-1 3h1m-1 1h1m-1 2h1m-1 1h1m-1 1h1m-1 1h1m-1 1h1m-1 1h1m-1 1h1m-1 1h1m-1 6h1m-1 1h1m-1 3h1m0-62h1m-1 1h1m-1 1h1m-1 2h1m-1 1h1m-1 1h1m-1 1h1m-1 1h1m-1 1h1m-1 1h1m-1 1h1m-1 1h1m-1 2h1m-1 1h1m-1 1h1m-1 1h1m-1 1h1m-1 1h1m-1 1h1m-1 1h1m-1 1h1m-1 2h1m-1 1h1m-1 1h1m-1 1h1m-1 1h1m-1 1h1m-1 7h1m-1 1h1m-1 1h1m-1 1h1m-1 3h1m-1 1h1m-1 3h1m-1 1h1m-1 1h1m-1 1h1m-1 2h1m-1 2h1m-1 1h1m-1 1h1m-1 2h1m-1 3h1m-1 4h1m0-65h1m-1 1h1m-1 3h1m-1 1h1m-1 1h1m-1 1h1m-1 1h1m-1 1h1m-1 1h1m-1 1h1m-1 1h1m-1 1h1m-1 1h1m-1 2h1m-1 1h1m-1 1h1m-1 2h1m-1 1h1m-1 1h1m-1 2h1m-1 1h1m-1 1h1m-1 1h1m-1 1h1m-1 1h1m-1 2h1m-1 4h1m-1 1h1m-1 3h1m-1 1h1m-1 3h1m-1 5h1m-1 1h1m-1 1h1m-1 3h1m-1 1h1m-1 1h1m-1 2h1m-1 2h1m-1 1h1m-1 2h1m-1 1h1m-1 2h1m-1 11h1m-1 6h1m0-92h1m-1 10h1m-1 1h1m-1 2h1m-1 2h1m-1 1h1m-1 1h1m-1 1h1m-1 1h1m-1 1h1m-1 1h1m-1 1h1m-1 1h1m-1 1h1m-1 1h1m-1 1h1m-1 1h1m-1 1h1m-1 1h1m-1 1h1m-1 1h1m-1 1h1m-1 1h1m-1 1h1m-1 1h1m-1 1h1m-1 1h1m-1 3h1m-1 2h1m-1 4h1m-1 2h1m-1 1h1m-1 1h1m-1 1h1m-1 1h1m-1 1h1m-1 1h1m-1 1h1m-1 1h1m-1 1h1m-1 1h1m-1 1h1m-1 1h1m-1 2h1m-1 2h1m-1 2h1m-1 2h1m-1 1h1m-1 2h1m-1 6h1m-1 2h1m-1 9h1m0-79h1m-1 1h1m-1 1h1m-1 1h1m-1 1h1m-1 1h1m-1 1h1m-1 2h1m-1 1h1m-1 1h1m-1 1h1m-1 1h1m-1 1h1m-1 1h1m-1 1h1m-1 1h1m-1 1h1m-1 1h1m-1 1h1m-1 1h1m-1 1h1m-1 1h1m-1 1h1m-1 2h1m-1 1h1m-1 1h1m-1 2h1m-1 1h1m-1 3h1m-1 1h1m-1 1h1m-1 1h1m-1 1h1m-1 2h1m-1 2h1m-1 1h1m-1 3h1m-1 1h1m-1 1h1m-1 1h1m-1 1h1m-1 1h1m-1 1h1m-1 1h1m-1 1h1m-1 1h1m-1 2h1m-1 1h1m-1 1h1m-1 2h1m-1 7h1m0-70h1m-1 3h1m-1 1h1m-1 2h1m-1 2h1m-1 1h1m-1 1h1m-1 1h1m-1 1h1m-1 1h1m-1 1h1m-1 1h1m-1 1h1m-1 1h1m-1 1h1m-1 1h1m-1 1h1m-1 1h1m-1 1h1m-1 1h1m-1 1h1m-1 1h1m-1 2h1m-1 1h1m-1 1h1m-1 1h1m-1 1h1m-1 1h1m-1 6h1m-1 1h1m-1 1h1m-1 2h1m-1 1h1m-1 1h1m-1 1h1m-1 1h1m-1 2h1m-1 1h1m-1 2h1m-1 2h1m-1 2h1m-1 1h1m-1 4h1m-1 1h1m-1 1h1m-1 1h1m-1 4h1m-1 3h1m0-66h1m-1 1h1m-1 1h1m-1 1h1m-1 1h1m-1 1h1m-1 1h1m-1 1h1m-1 1h1m-1 1h1m-1 1h1m-1 1h1m-1 1h1m-1 1h1m-1 1h1m-1 1h1m-1 1h1m-1 1h1m-1 1h1m-1 1h1m-1 1h1m-1 2h1m-1 1h1m-1 3h1m-1 2h1m-1 1h1m-1 4h1m-1 1h1m-1 2h1m-1 1h1m-1 1h1m-1 1h1m-1 1h1m-1 1h1m-1 2h1m-1 1h1m-1 2h1m-1 5h1m-1 3h1m-1 3h1m-1 7h1m-1 1h1m-1 1h1m-1 2h1m-1 11h1m0-80h1m-1 1h1m-1 1h1m-1 1h1m-1 1h1m-1 1h1m-1 1h1m-1 1h1m-1 1h1m-1 1h1m-1 1h1m-1 1h1m-1 1h1m-1 1h1m-1 1h1m-1 1h1m-1 1h1m-1 1h1m-1 1h1m-1 1h1m-1 1h1m-1 1h1m-1 1h1m-1 1h1m-1 1h1m-1 1h1m-1 1h1m-1 1h1m-1 1h1m-1 1h1m-1 1h1m-1 3h1m-1 4h1m-1 3h1m-1 1h1m-1 4h1m-1 2h1m-1 1h1m-1 1h1m-1 1h1m-1 1h1m-1 2h1m-1 1h1m-1 1h1m-1 4h1m-1 2h1m-1 1h1m-1 12h1m-1 3h1m-1 9h1m0-91h1m-1 6h1m-1 1h1m-1 1h1m-1 1h1m-1 1h1m-1 1h1m-1 1h1m-1 1h1m-1 1h1m-1 1h1m-1 1h1m-1 1h1m-1 1h1m-1 1h1m-1 1h1m-1 1h1m-1 1h1m-1 1h1m-1 1h1m-1 1h1m-1 1h1m-1 1h1m-1 1h1m-1 1h1m-1 1h1m-1 1h1m-1 2h1m-1 3h1m-1 3h1m-1 3h1m-1 1h1m-1 2h1m-1 1h1m-1 1h1m-1 1h1m-1 2h1m-1 1h1m-1 1h1m-1 1h1m-1 1h1m-1 2h1m-1 1h1m-1 1h1m-1 1h1m-1 1h1m-1 1h1m-1 2h1m-1 3h1m-1 16h1m-1 16h1m0-93h1m-1 2h1m-1 1h1m-1 3h1m-1 1h1m-1 1h1m-1 1h1m-1 1h1m-1 1h1m-1 1h1m-1 1h1m-1 1h1m-1 1h1m-1 1h1m-1 1h1m-1 1h1m-1 1h1m-1 1h1m-1 1h1m-1 1h1m-1 2h1m-1 1h1m-1 3h1m-1 1h1m-1 2h1m-1 2h1m-1 1h1m-1 1h1m-1 2h1m-1 1h1m-1 2h1m-1 1h1m-1 1h1m-1 1h1m-1 1h1m-1 1h1m-1 2h1m-1 1h1m-1 2h1m-1 2h1m-1 1h1m-1 1h1m-1 3h1m-1 1h1m0-60h1m-1 3h1m-1 1h1m-1 4h1m-1 1h1m-1 1h1m-1 1h1m-1 1h1m-1 1h1m-1 1h1m-1 1h1m-1 1h1m-1 1h1m-1 1h1m-1 1h1m-1 1h1m-1 1h1m-1 1h1m-1 1h1m-1 1h1m-1 5h1m-1 3h1m-1 8h1m-1 1h1m-1 1h1m-1 1h1m-1 1h1m-1 4h1m-1 1h1m-1 1h1m-1 3h1m-1 1h1m-1 1h1m-1 1h1m-1 1h1m-1 5h1m-1 1h1m-1 2h1m-1 1h1m-1 2h1m-1 6h1m0-83h1m-1 11h1m-1 2h1m-1 1h1m-1 1h1m-1 1h1m-1 1h1m-1 1h1m-1 1h1m-1 1h1m-1 1h1m-1 1h1m-1 1h1m-1 1h1m-1 1h1m-1 1h1m-1 1h1m-1 1h1m-1 1h1m-1 1h1m-1 1h1m-1 2h1m-1 1h1m-1 2h1m-1 2h1m-1 1h1m-1 1h1m-1 2h1m-1 1h1m-1 1h1m-1 1h1m-1 1h1m-1 1h1m-1 3h1m-1 2h1m-1 2h1m-1 1h1m-1 2h1m-1 1h1m-1 2h1m-1 1h1m-1 1h1m-1 3h1m-1 1h1m-1 2h1m-1 3h1m-1 1h1m-1 1h1m-1 11h1m0-74h1m-1 7h1m-1 1h1m-1 1h1m-1 1h1m-1 1h1m-1 1h1m-1 1h1m-1 1h1m-1 1h1m-1 1h1m-1 1h1m-1 1h1m-1 1h1m-1 1h1m-1 1h1m-1 1h1m-1 1h1m-1 2h1m-1 1h1m-1 4h1m-1 2h1m-1 1h1m-1 1h1m-1 2h1m-1 2h1m-1 1h1m-1 1h1m-1 1h1m-1 2h1m-1 2h1m-1 1h1m-1 1h1m-1 1h1m-1 2h1m-1 2h1m-1 9h1m-1 26h1m-1 2h1m0-88h1m-1 3h1m-1 1h1m-1 2h1m-1 1h1m-1 1h1m-1 1h1m-1 1h1m-1 1h1m-1 1h1m-1 1h1m-1 1h1m-1 1h1m-1 1h1m-1 1h1m-1 1h1m-1 1h1m-1 1h1m-1 1h1m-1 1h1m-1 1h1m-1 11h1m-1 3h1m-1 3h1m-1 1h1m-1 1h1m-1 1h1m-1 1h1m-1 2h1m-1 1h1m-1 5h1m-1 3h1m-1 3h1m-1 3h1m-1 2h1m-1 1h1m-1 11h1m-1 16h1m0-86h1m-1 2h1m-1 1h1m-1 1h1m-1 1h1m-1 1h1m-1 1h1m-1 1h1m-1 1h1m-1 1h1m-1 1h1m-1 1h1m-1 2h1m-1 1h1m-1 1h1m-1 1h1m-1 1h1m-1 1h1m-1 5h1m-1 5h1m-1 3h1m-1 2h1m-1 1h1m-1 1h1m-1 1h1m-1 1h1m-1 1h1m-1 1h1m-1 1h1m-1 1h1m-1 1h1m-1 1h1m-1 1h1m-1 1h1m-1 1h1m-1 1h1m-1 4h1m-1 2h1m-1 1h1m-1 1h1m0-72h1m-1 12h1m-1 3h1m-1 1h1m-1 1h1m-1 1h1m-1 1h1m-1 1h1m-1 1h1m-1 1h1m-1 1h1m-1 1h1m-1 1h1m-1 1h1m-1 1h1m-1 1h1m-1 1h1m-1 1h1m-1 2h1m-1 1h1m-1 1h1m-1 1h1m-1 1h1m-1 3h1m-1 2h1m-1 2h1m-1 1h1m-1 5h1m-1 2h1m-1 1h1m-1 2h1m-1 1h1m-1 1h1m-1 2h1m-1 2h1m-1 1h1m-1 5h1m-1 3h1m-1 9h1m0-69h1m-1 2h1m-1 1h1m-1 1h1m-1 1h1m-1 2h1m-1 1h1m-1 2h1m-1 1h1m-1 1h1m-1 1h1m-1 1h1m-1 1h1m-1 1h1m-1 1h1m-1 1h1m-1 1h1m-1 1h1m-1 1h1m-1 1h1m-1 1h1m-1 2h1m-1 4h1m-1 9h1m-1 1h1m-1 1h1m-1 1h1m-1 1h1m-1 1h1m-1 2h1m-1 1h1m-1 5h1m-1 1h1m-1 2h1m-1 6h1m-1 3h1m-1 6h1m0-68h1m-1 3h1m-1 1h1m-1 3h1m-1 1h1m-1 1h1m-1 1h1m-1 1h1m-1 1h1m-1 1h1m-1 1h1m-1 1h1m-1 1h1m-1 1h1m-1 1h1m-1 1h1m-1 1h1m-1 1h1m-1 1h1m-1 2h1m-1 8h1m-1 4h1m-1 3h1m-1 1h1m-1 2h1m-1 1h1m-1 3h1m-1 1h1m-1 2h1m-1 2h1m-1 1h1m-1 8h1m-1 5h1m-1 3h1m-1 2h1m-1 8h1m-1 7h1m0-88h1m-1 1h1m-1 4h1m-1 1h1m-1 2h1m-1 2h1m-1 1h1m-1 1h1m-1 1h1m-1 1h1m-1 1h1m-1 1h1m-1 1h1m-1 1h1m-1 1h1m-1 1h1m-1 1h1m-1 1h1m-1 2h1m-1 1h1m-1 1h1m-1 1h1m-1 3h1m-1 8h1m-1 2h1m-1 2h1m-1 2h1m-1 1h1m-1 1h1m-1 4h1m-1 2h1m-1 2h1m-1 3h1m-1 1h1m-1 3h1m-1 4h1m-1 1h1m-1 2h1m-1 16h1m-1 3h1m-1 9h1m0-88h1m-1 1h1m-1 2h1m-1 1h1m-1 1h1m-1 1h1m-1 2h1m-1 1h1m-1 1h1m-1 1h1m-1 1h1m-1 1h1m-1 1h1m-1 1h1m-1 2h1m-1 1h1m-1 3h1m-1 3h1m-1 1h1m-1 4h1m-1 1h1m-1 1h1m-1 2h1m-1 1h1m-1 3h1m-1 3h1m-1 1h1m-1 2h1m-1 4h1m-1 4h1m-1 3h1m-1 11h1m-1 1h1m-1 2h1m0-75h1m-1 3h1m-1 2h1m-1 4h1m-1 1h1m-1 1h1m-1 1h1m-1 1h1m-1 1h1m-1 1h1m-1 1h1m-1 1h1m-1 1h1m-1 1h1m-1 1h1m-1 1h1m-1 1h1m-1 1h1m-1 1h1m-1 2h1m-1 1h1m-1 4h1m-1 4h1m-1 1h1m-1 5h1m-1 1h1m-1 6h1m-1 2h1m-1 2h1m-1 2h1m-1 2h1m-1 2h1m-1 47h1m0-113h1m-1 15h1m-1 1h1m-1 1h1m-1 1h1m-1 1h1m-1 1h1m-1 1h1m-1 1h1m-1 1h1m-1 1h1m-1 1h1m-1 1h1m-1 1h1m-1 1h1m-1 1h1m-1 2h1m-1 1h1m-1 1h1m-1 1h1m-1 1h1m-1 1h1m-1 2h1m-1 1h1m-1 3h1m-1 6h1m-1 2h1m-1 2h1m-1 2h1m-1 1h1m-1 3h1m-1 1h1m-1 5h1m-1 4h1m0-57h1m-1 1h1m-1 1h1m-1 3h1m-1 3h1m-1 1h1m-1 1h1m-1 1h1m-1 2h1m-1 1h1m-1 1h1m-1 2h1m-1 1h1m-1 1h1m-1 1h1m-1 2h1m-1 7h1m-1 3h1m-1 1h1m-1 2h1m-1 2h1m-1 6h1m-1 16h1m-1 1h1m-1 2h1m-1 5h1m-1 15h1m-1 17h1m0-99h1m-1 4h1m-1 2h1m-1 3h1m-1 2h1m-1 1h1m-1 1h1m-1 1h1m-1 1h1m-1 1h1m-1 1h1m-1 4h1m-1 2h1m-1 1h1m-1 1h1m-1 12h1m-1 16h1m-1 12h1m-1 9h1m0-75h1m-1 5h1m-1 1h1m-1 1h1m-1 3h1m-1 1h1m-1 1h1m-1 1h1m-1 2h1m-1 1h1m-1 1h1m-1 1h1m-1 1h1m-1 1h1m-1 3h1m-1 1h1m-1 1h1m-1 1h1m-1 9h1m-1 10h1m-1 6h1m-1 3h1m0-58h1m-1 4h1m-1 2h1m-1 6h1m-1 2h1m-1 3h1m-1 1h1m-1 1h1m-1 2h1m-1 1h1m-1 2h1m-1 2h1m-1 1h1m-1 1h1m-1 2h1m-1 1h1m-1 1h1m-1 6h1m-1 7h1m-1 3h1m-1 15h1m0-53h1m-1 2h1m-1 2h1m-1 1h1m-1 1h1m-1 1h1m-1 1h1m-1 1h1m-1 1h1m-1 3h1m-1 1h1m-1 1h1m-1 1h1m-1 1h1m-1 3h1m-1 6h1m-1 3h1m-1 5h1m-1 2h1m-1 2h1m-1 13h1m-1 12h1m-1 8h1m0-74h1m-1 3h1m-1 1h1m-1 2h1m-1 1h1m-1 2h1m-1 2h1m-1 2h1m-1 1h1m-1 1h1m-1 3h1m-1 16h1m-1 7h1m-1 9h1m-1 1h1m-1 2h1m-1 12h1m-1 24h1m0-97h1m-1 14h1m-1 4h1m-1 2h1m-1 1h1m-1 1h1m-1 4h1m-1 1h1m-1 1h1m-1 1h1m-1 10h1m-1 12h1m-1 2h1m0-44h1m-1 3h1m-1 1h1m-1 1h1m-1 2h1m-1 2h1m-1 1h1m-1 2h1m-1 1h1m-1 1h1m-1 2h1m-1 3h1m-1 2h1m-1 1h1m-1 9h1m-1 1h1m-1 5h1m-1 4h1m-1 7h1m-1 21h1m-1 4h1m-1 9h1m0-83h1m-1 4h1m-1 3h1m-1 6h1m-1 2h1m-1 1h1m-1 9h1m-1 15h1m-1 3h1m-1 13h1m0-51h1m-1 7h1m-1 5h1m-1 2h1m-1 5h1m-1 4h1m-1 2h1m-1 4h1m-1 6h1m-1 3h1m-1 12h1m-1 14h1m-1 14h1m0-80h1m-1 7h1m-1 14h1m-1 17h1m-1 10h1m-1 21h1m0-73h1m-1 4h1m-1 2h1m-1 4h1m-1 1h1m-1 1h1m-1 1h1m-1 2h1m-1 7h1m-1 2h1m-1 8h1m-1 11h1m-1 5h1m-1 1h1m-1 7h1m-1 4h1m-1 12h1m0-61h1m-1 8h1m-1 7h1m-1 11h1m-1 1h1m-1 5h1m-1 9h1m0-45h1m-1 40h1m-1 2h1m-1 3h1m-1 3h1m-1 9h1m-1 23h1m0-99h1m-1 24h1m-1 2h1m-1 28h1m-1 2h1m-1 34h1m0-79h1m-1 7h1m-1 12h1m-1 3h1m-1 2h1m0 3h1m-1 1h1m0-19h1m-1 6h1m-1 1h1m-1 28h1m0-34h1m-1 16h1m-1 59h1m0-71h1m-1 2h1m-1 3h1m-1 27h1m0-45h1m-1 22h1m-1 8h1m-1 18h1m-1 36h1m0-67h1m0-9h1m-1 1h1m0 7h1m-1 29h1m-1 10h1m-1 1h1m0-54h1m0-14h1m-1 34h1m0-12h1m-1 73h1m0-65h1m0 34h1m1-6h1m0-42h1m-1 8h1m-1 62h1m0-64h1m-1 25h1m1 59h1m0-106h1m-1 56h1m0-8h1m-1 30h1m0 4h1m0 11h1m0-58h1m1-24h1m2 36h1m0 9h1m0 27h1m0 14h1m1-39h1m-1 14h1" stroke="#000" stroke-opacity="0.9" stroke-width="1.8" fill="none" filter="url(#bl)"/>
</g>
<rect x="262.0" y="370.0" width="59.3" height="59.2" fill="none" stroke="#999" stroke-width="0.8"/>
<line x1="264.0" y1="429.6" x2="320.3" y2="429.6" stroke="#555" stroke-width="1.0" stroke-dasharray="1 5.34 .6 2.97 .6 2.08 .6 1.65"/>
<line x1="261.6" y1="427.2" x2="261.6" y2="371.0" stroke="#555" stroke-width="1.0" stroke-dasharray="1 5.34 .6 2.97 .6 2.08 .6 1.65"/>
<line x1="294.6" y1="370.0" x2="294.6" y2="429.2" stroke="#000" stroke-width="0.7" stroke-opacity=".55"/>
<line x1="262.0" y1="391.2" x2="321.3" y2="391.2" stroke="#000" stroke-width="0.7" stroke-opacity=".55"/>
<text x="264.0" y="374.2" font-size="3.2" text-anchor="start" font-weight="normal" fill="#333" >53.43%</text>
<text x="319.3" y="374.2" font-size="3.2" text-anchor="end" font-weight="normal" fill="#333" >1.05%</text>
<text x="264.0" y="427.4" font-size="3.2" text-anchor="start" font-weight="normal" fill="#333" >40.97%</text>
<text x="319.3" y="427.4" font-size="3.2" text-anchor="end" font-weight="normal" fill="#333" >4.55%</text>
<line x1="178.0" y1="412.7" x2="178.0" y2="440.5" stroke="#444" stroke-width="0.8" />
<line x1="178.0" y1="440.5" x2="211.8" y2="440.5" stroke="#444" stroke-width="0.8" />
<text x="176.0" y="439.0" font-size="5.6" text-anchor="start" font-weight="normal" fill="#222" transform="rotate(-90 176.0 439.0)" >CD8&#945;</text>
<text x="179.5" y="448.5" font-size="6.8" text-anchor="start" font-weight="normal" fill="#222" textLength="11.5" lengthAdjust="spacingAndGlyphs">CD4</text>
<text x="362.4" y="290.5" font-size="14" text-anchor="start" font-weight="bold" fill="#000" >F</text>
<text x="411.3" y="297.0" font-size="9.7" text-anchor="middle" font-weight="bold" fill="#000" >Day 6</text>
<text x="473.8" y="297.0" font-size="9.7" text-anchor="middle" font-weight="bold" fill="#000" >Day 8</text>
<text x="377.2" y="330.3" font-size="9.9" text-anchor="end" font-weight="bold" fill="#000" >Non-GVHD</text>
<text x="377.2" y="406.8" font-size="9.9" text-anchor="end" font-weight="bold" fill="#000" >GVHD</text>
<clipPath id="c250"><rect x="380.4" y="304.6" width="59.6" height="58.4"/></clipPath>
<g clip-path="url(#c250)">
<ellipse cx="402.5" cy="315.0" rx="12.6" ry="9.2" transform="rotate(0 402.5 315.0)" fill="url(#gg)" fill-opacity="0.33"/>
<ellipse cx="410.0" cy="336.5" rx="20.7" ry="14.9" transform="rotate(0 410.0 336.5)" fill="url(#gg)" fill-opacity="0.38"/>
<path transform="scale(.5)" d="M763 613h1m-1 8h1m-1 15h1m-1 9h1m-1 6h1m-1 2h1m-1 1h1m-1 13h1m-1 6h1m-1 2h1m-1 4h1m1-30h1m-1 17h1m0-45h1m-1 62h1m0-45h1m-1 18h1m-1 11h1m-1 28h1m0-37h1m-1 57h1m0-43h1m0-60h1m-1 41h1m-1 24h1m-1 8h1m0-18h1m-1 28h1m0-81h1m-1 39h1m0-1h1m-1 32h1m-1 2h1m0-29h1m-1 1h1m-1 14h1m0-15h1m-1 8h1m-1 2h1m-1 20h1m-1 12h1m0-64h1m-1 31h1m0-54h1m-1 65h1m-1 35h1m-1 1h1m0-83h1m-1 39h1m-1 1h1m0-58h1m-1 13h1m-1 7h1m-1 2h1m-1 7h1m-1 16h1m-1 29h1m-1 5h1m0-60h1m-1 33h1m-1 9h1m-1 14h1m-1 31h1m0-69h1m-1 5h1m-1 17h1m-1 11h1m0-59h1m-1 9h1m-1 1h1m-1 9h1m-1 1h1m-1 20h1m-1 20h1m0-58h1m-1 7h1m-1 11h1m-1 21h1m-1 9h1m-1 5h1m0-50h1m-1 6h1m-1 25h1m-1 5h1m-1 8h1m-1 1h1m-1 9h1m-1 6h1m0-66h1m-1 1h1m-1 11h1m-1 2h1m-1 16h1m-1 27h1m-1 1h1m-1 4h1m-1 18h1m0-90h1m-1 12h1m-1 10h1m-1 27h1m-1 7h1m-1 16h1m-1 26h1m0-87h1m-1 5h1m-1 11h1m-1 8h1m-1 1h1m-1 6h1m-1 17h1m-1 1h1m-1 3h1m-1 1h1m-1 7h1m0-67h1m-1 4h1m-1 4h1m-1 3h1m-1 5h1m-1 2h1m-1 6h1m-1 2h1m-1 10h1m-1 2h1m-1 4h1m-1 2h1m-1 11h1m-1 3h1m-1 19h1m0-73h1m-1 4h1m-1 5h1m-1 1h1m-1 5h1m-1 1h1m-1 4h1m-1 10h1m-1 9h1m-1 4h1m-1 1h1m-1 13h1m-1 8h1m-1 4h1m-1 3h1m-1 6h1m-1 26h1m0-95h1m-1 1h1m-1 9h1m-1 2h1m-1 4h1m-1 16h1m-1 4h1m-1 2h1m-1 1h1m-1 10h1m-1 1h1m-1 11h1m-1 32h1m0-110h1m-1 4h1m-1 4h1m-1 4h1m-1 4h1m-1 1h1m-1 1h1m-1 3h1m-1 1h1m-1 2h1m-1 1h1m-1 1h1m-1 36h1m-1 3h1m-1 2h1m-1 6h1m-1 1h1m-1 7h1m0-70h1m-1 4h1m-1 3h1m-1 2h1m-1 1h1m-1 1h1m-1 2h1m-1 6h1m-1 13h1m-1 2h1m-1 8h1m-1 4h1m-1 1h1m-1 3h1m-1 3h1m0-52h1m-1 2h1m-1 2h1m-1 3h1m-1 1h1m-1 2h1m-1 8h1m-1 4h1m-1 3h1m-1 1h1m-1 8h1m-1 3h1m-1 7h1m-1 8h1m-1 7h1m-1 9h1m-1 11h1m0-86h1m-1 5h1m-1 2h1m-1 1h1m-1 3h1m-1 1h1m-1 4h1m-1 9h1m-1 2h1m-1 1h1m-1 3h1m-1 1h1m-1 4h1m-1 4h1m-1 14h1m-1 4h1m-1 14h1m-1 7h1m-1 3h1m0-71h1m-1 1h1m-1 1h1m-1 3h1m-1 1h1m-1 11h1m-1 4h1m-1 2h1m-1 4h1m-1 1h1m-1 1h1m-1 7h1m-1 1h1m-1 8h1m-1 13h1m-1 2h1m-1 1h1m0-77h1m-1 5h1m-1 13h1m-1 1h1m-1 3h1m-1 3h1m-1 1h1m-1 2h1m-1 2h1m-1 10h1m-1 13h1m-1 1h1m-1 3h1m-1 1h1m-1 2h1m-1 5h1m-1 2h1m-1 2h1m-1 1h1m-1 2h1m-1 3h1m-1 8h1m-1 5h1m-1 15h1m0-103h1m-1 11h1m-1 1h1m-1 1h1m-1 2h1m-1 2h1m-1 4h1m-1 1h1m-1 1h1m-1 2h1m-1 2h1m-1 1h1m-1 8h1m-1 2h1m-1 7h1m-1 4h1m-1 3h1m-1 3h1m-1 2h1m-1 1h1m-1 1h1m-1 3h1m-1 9h1m-1 10h1m0-75h1m-1 3h1m-1 3h1m-1 1h1m-1 1h1m-1 1h1m-1 1h1m-1 1h1m-1 3h1m-1 3h1m-1 3h1m-1 3h1m-1 4h1m-1 2h1m-1 3h1m-1 5h1m-1 2h1m-1 4h1m-1 1h1m-1 7h1m-1 1h1m-1 3h1m-1 1h1m-1 1h1m-1 1h1m-1 2h1m-1 3h1m-1 1h1m-1 5h1m-1 1h1m-1 8h1m-1 5h1m0-89h1m-1 10h1m-1 5h1m-1 1h1m-1 1h1m-1 2h1m-1 2h1m-1 1h1m-1 1h1m-1 2h1m-1 13h1m-1 8h1m-1 11h1m-1 3h1m-1 6h1m-1 10h1m-1 7h1m-1 8h1m0-80h1m-1 2h1m-1 2h1m-1 1h1m-1 3h1m-1 2h1m-1 2h1m-1 1h1m-1 2h1m-1 6h1m-1 7h1m-1 1h1m-1 1h1m-1 2h1m-1 1h1m-1 1h1m-1 4h1m-1 1h1m-1 4h1m-1 1h1m-1 5h1m-1 12h1m-1 2h1m-1 2h1m-1 2h1m-1 10h1m-1 2h1m-1 2h1m-1 12h1m0-104h1m-1 8h1m-1 1h1m-1 10h1m-1 4h1m-1 2h1m-1 6h1m-1 1h1m-1 4h1m-1 8h1m-1 3h1m-1 1h1m-1 2h1m-1 5h1m-1 2h1m-1 2h1m-1 1h1m-1 8h1m-1 1h1m-1 1h1m-1 5h1m-1 2h1m-1 1h1m-1 2h1m-1 1h1m-1 6h1m-1 15h1m0-101h1m-1 11h1m-1 3h1m-1 1h1m-1 2h1m-1 1h1m-1 1h1m-1 1h1m-1 3h1m-1 2h1m-1 3h1m-1 5h1m-1 5h1m-1 1h1m-1 6h1m-1 4h1m-1 3h1m-1 4h1m-1 1h1m-1 6h1m-1 1h1m-1 1h1m-1 2h1m-1 3h1m-1 6h1m-1 4h1m-1 2h1m0-83h1m-1 3h1m-1 5h1m-1 1h1m-1 2h1m-1 1h1m-1 4h1m-1 3h1m-1 1h1m-1 6h1m-1 2h1m-1 1h1m-1 3h1m-1 2h1m-1 8h1m-1 2h1m-1 3h1m-1 5h1m-1 2h1m-1 2h1m-1 4h1m-1 1h1m-1 2h1m-1 9h1m-1 23h1m0-95h1m-1 4h1m-1 5h1m-1 5h1m-1 2h1m-1 1h1m-1 1h1m-1 8h1m-1 1h1m-1 4h1m-1 1h1m-1 2h1m-1 1h1m-1 1h1m-1 4h1m-1 3h1m-1 1h1m-1 2h1m-1 1h1m-1 1h1m-1 4h1m-1 2h1m-1 1h1m-1 4h1m-1 4h1m-1 3h1m-1 7h1m-1 25h1m0-98h1m-1 6h1m-1 2h1m-1 3h1m-1 1h1m-1 1h1m-1 1h1m-1 1h1m-1 1h1m-1 1h1m-1 2h1m-1 2h1m-1 2h1m-1 2h1m-1 1h1m-1 1h1m-1 1h1m-1 5h1m-1 10h1m-1 1h1m-1 3h1m-1 5h1m-1 1h1m-1 1h1m-1 1h1m-1 3h1m-1 3h1m-1 2h1m-1 2h1m-1 1h1m-1 4h1m-1 3h1m-1 1h1m-1 3h1m-1 2h1m-1 9h1m-1 13h1m0-101h1m-1 1h1m-1 7h1m-1 2h1m-1 5h1m-1 1h1m-1 1h1m-1 1h1m-1 7h1m-1 3h1m-1 1h1m-1 19h1m-1 1h1m-1 1h1m-1 2h1m-1 1h1m-1 3h1m-1 11h1m-1 1h1m-1 4h1m-1 1h1m-1 1h1m-1 4h1m-1 5h1m-1 10h1m-1 19h1m0-101h1m-1 1h1m-1 1h1m-1 2h1m-1 1h1m-1 2h1m-1 5h1m-1 1h1m-1 2h1m-1 1h1m-1 11h1m-1 1h1m-1 3h1m-1 3h1m-1 2h1m-1 1h1m-1 2h1m-1 6h1m-1 3h1m-1 6h1m-1 2h1m-1 4h1m-1 4h1m-1 6h1m0-81h1m-1 2h1m-1 10h1m-1 2h1m-1 4h1m-1 3h1m-1 1h1m-1 2h1m-1 1h1m-1 12h1m-1 10h1m-1 1h1m-1 1h1m-1 5h1m-1 1h1m-1 1h1m-1 2h1m-1 1h1m-1 1h1m-1 2h1m-1 1h1m-1 1h1m-1 1h1m-1 1h1m-1 1h1m-1 3h1m-1 2h1m-1 1h1m-1 1h1m-1 1h1m-1 1h1m-1 3h1m-1 28h1m0-101h1m-1 2h1m-1 8h1m-1 3h1m-1 2h1m-1 2h1m-1 1h1m-1 5h1m-1 1h1m-1 2h1m-1 2h1m-1 3h1m-1 4h1m-1 2h1m-1 1h1m-1 1h1m-1 8h1m-1 5h1m-1 1h1m-1 6h1m-1 1h1m-1 4h1m-1 22h1m0-87h1m-1 3h1m-1 2h1m-1 3h1m-1 1h1m-1 1h1m-1 1h1m-1 2h1m-1 1h1m-1 2h1m-1 3h1m-1 1h1m-1 2h1m-1 1h1m-1 5h1m-1 9h1m-1 3h1m-1 3h1m-1 2h1m-1 6h1m-1 5h1m-1 1h1m-1 1h1m-1 4h1m-1 1h1m-1 1h1m-1 3h1m-1 3h1m-1 2h1m-1 1h1m-1 8h1m0-86h1m-1 1h1m-1 5h1m-1 5h1m-1 2h1m-1 4h1m-1 1h1m-1 5h1m-1 5h1m-1 3h1m-1 1h1m-1 5h1m-1 6h1m-1 4h1m-1 2h1m-1 5h1m-1 4h1m-1 2h1m-1 1h1m-1 1h1m-1 4h1m-1 1h1m-1 1h1m-1 7h1m-1 2h1m-1 1h1m-1 3h1m0-75h1m-1 4h1m-1 2h1m-1 4h1m-1 2h1m-1 1h1m-1 3h1m-1 3h1m-1 2h1m-1 1h1m-1 7h1m-1 13h1m-1 2h1m-1 2h1m-1 2h1m-1 1h1m-1 5h1m-1 1h1m-1 1h1m-1 1h1m-1 1h1m-1 2h1m-1 1h1m-1 1h1m-1 2h1m-1 3h1m-1 1h1m-1 17h1m0-87h1m-1 4h1m-1 2h1m-1 1h1m-1 6h1m-1 1h1m-1 1h1m-1 3h1m-1 2h1m-1 3h1m-1 8h1m-1 5h1m-1 5h1m-1 5h1m-1 2h1m-1 1h1m-1 2h1m-1 2h1m-1 5h1m-1 1h1m-1 1h1m-1 3h1m-1 1h1m-1 2h1m-1 1h1m-1 1h1m-1 2h1m-1 1h1m-1 1h1m-1 8h1m-1 6h1m-1 6h1m-1 16h1m0-112h1m-1 5h1m-1 2h1m-1 1h1m-1 2h1m-1 1h1m-1 1h1m-1 1h1m-1 2h1m-1 2h1m-1 1h1m-1 1h1m-1 2h1m-1 1h1m-1 3h1m-1 1h1m-1 1h1m-1 1h1m-1 1h1m-1 5h1m-1 4h1m-1 2h1m-1 3h1m-1 1h1m-1 4h1m-1 4h1m-1 5h1m-1 1h1m-1 1h1m-1 2h1m-1 2h1m-1 1h1m-1 3h1m-1 1h1m-1 2h1m-1 1h1m-1 5h1m-1 8h1m-1 3h1m0-87h1m-1 8h1m-1 4h1m-1 1h1m-1 1h1m-1 6h1m-1 3h1m-1 1h1m-1 9h1m-1 8h1m-1 2h1m-1 8h1m-1 1h1m-1 1h1m-1 2h1m-1 1h1m-1 2h1m-1 3h1m-1 3h1m-1 1h1m-1 1h1m-1 1h1m-1 4h1m-1 4h1m-1 2h1m-1 7h1m-1 3h1m-1 1h1m-1 7h1m0-85h1m-1 5h1m-1 2h1m-1 5h1m-1 6h1m-1 6h1m-1 2h1m-1 12h1m-1 1h1m-1 3h1m-1 3h1m-1 4h1m-1 1h1m-1 4h1m-1 1h1m-1 6h1m-1 11h1m-1 21h1m0-100h1m-1 5h1m-1 3h1m-1 3h1m-1 2h1m-1 1h1m-1 1h1m-1 1h1m-1 1h1m-1 2h1m-1 4h1m-1 5h1m-1 4h1m-1 2h1m-1 2h1m-1 3h1m-1 1h1m-1 1h1m-1 2h1m-1 2h1m-1 3h1m-1 1h1m-1 3h1m-1 2h1m-1 2h1m-1 2h1m-1 4h1m-1 4h1m-1 2h1m-1 1h1m-1 1h1m-1 1h1m-1 3h1m-1 1h1m-1 2h1m0-79h1m-1 5h1m-1 3h1m-1 3h1m-1 3h1m-1 5h1m-1 2h1m-1 3h1m-1 2h1m-1 1h1m-1 6h1m-1 7h1m-1 5h1m-1 9h1m-1 1h1m-1 2h1m-1 1h1m-1 2h1m-1 3h1m-1 1h1m-1 1h1m-1 3h1m-1 1h1m-1 5h1m-1 4h1m-1 7h1m0-82h1m-1 7h1m-1 2h1m-1 1h1m-1 2h1m-1 2h1m-1 2h1m-1 1h1m-1 3h1m-1 3h1m-1 2h1m-1 1h1m-1 6h1m-1 11h1m-1 2h1m-1 3h1m-1 1h1m-1 4h1m-1 1h1m-1 1h1m-1 2h1m-1 4h1m-1 1h1m-1 2h1m-1 1h1m-1 2h1m-1 4h1m-1 1h1m-1 3h1m-1 11h1m-1 1h1m0-89h1m-1 22h1m-1 7h1m-1 9h1m-1 2h1m-1 2h1m-1 4h1m-1 1h1m-1 1h1m-1 1h1m-1 1h1m-1 1h1m-1 1h1m-1 1h1m-1 6h1m-1 4h1m-1 5h1m-1 1h1m-1 2h1m-1 3h1m-1 7h1m-1 22h1m0-97h1m-1 2h1m-1 4h1m-1 3h1m-1 6h1m-1 1h1m-1 3h1m-1 1h1m-1 3h1m-1 1h1m-1 1h1m-1 9h1m-1 3h1m-1 4h1m-1 1h1m-1 2h1m-1 2h1m-1 1h1m-1 2h1m-1 4h1m-1 1h1m-1 2h1m-1 1h1m-1 1h1m-1 1h1m-1 1h1m-1 3h1m-1 1h1m-1 1h1m-1 2h1m-1 1h1m0-70h1m-1 4h1m-1 1h1m-1 1h1m-1 8h1m-1 2h1m-1 2h1m-1 7h1m-1 9h1m-1 1h1m-1 1h1m-1 2h1m-1 1h1m-1 1h1m-1 2h1m-1 1h1m-1 3h1m-1 2h1m-1 1h1m-1 2h1m-1 1h1m-1 1h1m-1 1h1m-1 3h1m-1 1h1m-1 2h1m-1 1h1m-1 3h1m-1 1h1m-1 2h1m-1 8h1m-1 1h1m-1 1h1m-1 3h1m-1 2h1m0-83h1m-1 4h1m-1 2h1m-1 7h1m-1 9h1m-1 2h1m-1 10h1m-1 3h1m-1 1h1m-1 6h1m-1 4h1m-1 2h1m-1 1h1m-1 2h1m-1 1h1m-1 1h1m-1 1h1m-1 1h1m-1 1h1m-1 2h1m-1 2h1m-1 1h1m-1 1h1m-1 2h1m-1 1h1m-1 4h1m-1 3h1m-1 1h1m-1 1h1m-1 3h1m-1 3h1m0-87h1m-1 11h1m-1 5h1m-1 9h1m-1 2h1m-1 1h1m-1 11h1m-1 2h1m-1 3h1m-1 4h1m-1 1h1m-1 1h1m-1 2h1m-1 1h1m-1 6h1m-1 1h1m-1 1h1m-1 2h1m-1 1h1m-1 2h1m-1 1h1m-1 1h1m-1 1h1m-1 2h1m-1 1h1m-1 2h1m-1 3h1m-1 1h1m-1 2h1m-1 24h1m0-101h1m-1 6h1m-1 2h1m-1 1h1m-1 8h1m-1 2h1m-1 4h1m-1 1h1m-1 2h1m-1 8h1m-1 10h1m-1 3h1m-1 2h1m-1 4h1m-1 3h1m-1 1h1m-1 2h1m-1 1h1m-1 1h1m-1 1h1m-1 2h1m-1 1h1m-1 2h1m-1 1h1m-1 1h1m-1 6h1m-1 3h1m-1 3h1m0-80h1m-1 6h1m-1 6h1m-1 3h1m-1 1h1m-1 10h1m-1 7h1m-1 4h1m-1 1h1m-1 3h1m-1 2h1m-1 1h1m-1 1h1m-1 2h1m-1 2h1m-1 2h1m-1 3h1m-1 2h1m-1 1h1m-1 1h1m-1 1h1m-1 1h1m-1 2h1m-1 7h1m-1 5h1m-1 2h1m-1 4h1m-1 2h1m-1 5h1m0-77h1m-1 1h1m-1 1h1m-1 5h1m-1 4h1m-1 21h1m-1 7h1m-1 1h1m-1 7h1m-1 3h1m-1 1h1m-1 1h1m-1 1h1m-1 2h1m-1 1h1m-1 1h1m-1 14h1m0-66h1m-1 10h1m-1 2h1m-1 2h1m-1 16h1m-1 3h1m-1 2h1m-1 2h1m-1 1h1m-1 1h1m-1 2h1m-1 1h1m-1 3h1m-1 2h1m-1 1h1m-1 3h1m-1 2h1m-1 4h1m-1 1h1m-1 3h1m-1 2h1m-1 1h1m-1 18h1m0-101h1m-1 8h1m-1 19h1m-1 5h1m-1 5h1m-1 2h1m-1 3h1m-1 1h1m-1 5h1m-1 1h1m-1 2h1m-1 3h1m-1 4h1m-1 1h1m-1 2h1m-1 3h1m-1 7h1m-1 2h1m-1 3h1m-1 7h1m-1 15h1m-1 2h1m0-100h1m-1 25h1m-1 7h1m-1 4h1m-1 3h1m-1 3h1m-1 3h1m-1 2h1m-1 5h1m-1 2h1m-1 3h1m-1 1h1m-1 1h1m-1 1h1m-1 1h1m-1 2h1m-1 1h1m-1 2h1m-1 2h1m-1 1h1m-1 11h1m-1 8h1m-1 1h1m0-89h1m-1 25h1m-1 4h1m-1 10h1m-1 2h1m-1 7h1m-1 2h1m-1 1h1m-1 1h1m-1 1h1m-1 2h1m-1 1h1m-1 1h1m-1 2h1m-1 1h1m-1 6h1m-1 2h1m-1 7h1m-1 1h1m-1 1h1m-1 9h1m-1 8h1m-1 5h1m0-87h1m-1 4h1m-1 8h1m-1 7h1m-1 7h1m-1 2h1m-1 2h1m-1 1h1m-1 1h1m-1 2h1m-1 1h1m-1 1h1m-1 3h1m-1 2h1m-1 2h1m-1 2h1m-1 2h1m-1 1h1m-1 3h1m-1 5h1m-1 1h1m-1 1h1m-1 1h1m-1 1h1m-1 2h1m-1 1h1m-1 12h1m-1 20h1m0-97h1m-1 20h1m-1 2h1m-1 8h1m-1 12h1m-1 2h1m-1 6h1m-1 2h1m-1 2h1m-1 5h1m-1 2h1m-1 2h1m-1 3h1m-1 2h1m-1 4h1m-1 1h1m-1 13h1m0-96h1m-1 6h1m-1 2h1m-1 4h1m-1 3h1m-1 4h1m-1 1h1m-1 22h1m-1 2h1m-1 2h1m-1 1h1m-1 7h1m-1 6h1m-1 1h1m-1 4h1m-1 1h1m-1 1h1m-1 2h1m-1 1h1m-1 1h1m-1 2h1m-1 15h1m0-56h1m-1 3h1m-1 1h1m-1 7h1m-1 1h1m-1 6h1m-1 4h1m-1 1h1m-1 1h1m-1 2h1m-1 1h1m-1 1h1m-1 2h1m-1 1h1m-1 1h1m-1 2h1m-1 1h1m-1 2h1m-1 3h1m-1 3h1m-1 3h1m-1 1h1m-1 12h1m0-67h1m-1 24h1m-1 1h1m-1 8h1m-1 2h1m-1 2h1m-1 1h1m-1 2h1m-1 3h1m-1 8h1m0-50h1m-1 6h1m-1 3h1m-1 2h1m-1 9h1m-1 8h1m-1 3h1m-1 2h1m-1 3h1m-1 2h1m-1 2h1m-1 5h1m-1 1h1m-1 12h1m-1 2h1m-1 10h1m0-60h1m-1 5h1m-1 6h1m-1 3h1m-1 2h1m-1 1h1m-1 7h1m-1 1h1m-1 1h1m-1 1h1m-1 4h1m-1 9h1m-1 1h1m-1 1h1m-1 2h1m0-51h1m-1 10h1m-1 3h1m-1 4h1m-1 1h1m-1 3h1m-1 1h1m-1 1h1m-1 2h1m-1 3h1m-1 2h1m-1 3h1m-1 1h1m-1 1h1m-1 4h1m-1 1h1m-1 1h1m-1 1h1m-1 1h1m-1 2h1m-1 1h1m-1 2h1m-1 1h1m0-51h1m-1 11h1m-1 2h1m-1 1h1m-1 1h1m-1 3h1m-1 1h1m-1 3h1m-1 1h1m-1 5h1m-1 3h1m-1 1h1m-1 5h1m-1 1h1m-1 2h1m-1 3h1m-1 1h1m-1 3h1m-1 11h1m-1 4h1m-1 24h1m0-95h1m-1 14h1m-1 15h1m-1 2h1m-1 9h1m-1 1h1m-1 3h1m-1 5h1m-1 1h1m-1 1h1m-1 1h1m-1 2h1m-1 5h1m-1 4h1m0-45h1m-1 5h1m-1 10h1m-1 9h1m-1 3h1m-1 2h1m-1 1h1m-1 4h1m-1 18h1m0-85h1m-1 44h1m-1 3h1m-1 4h1m-1 1h1m-1 2h1m-1 8h1m-1 1h1m-1 1h1m-1 2h1m-1 12h1m-1 5h1m0-58h1m-1 3h1m-1 7h1m-1 8h1m-1 5h1m-1 1h1m-1 4h1m-1 2h1m-1 4h1m-1 11h1m-1 1h1m-1 1h1m-1 12h1m-1 3h1m0-88h1m-1 26h1m-1 12h1m-1 4h1m-1 6h1m-1 2h1m-1 8h1m-1 2h1m-1 1h1m-1 2h1m-1 3h1m-1 5h1m0-44h1m-1 11h1m-1 14h1m-1 3h1m-1 5h1m0-34h1m-1 11h1m-1 11h1m-1 2h1m-1 3h1m-1 1h1m-1 13h1m-1 10h1m-1 33h1m0-70h1m-1 4h1m-1 5h1m-1 4h1m-1 15h1m-1 3h1m-1 1h1m-1 1h1m-1 16h1m0-33h1m-1 1h1m-1 3h1m-1 7h1m-1 6h1m-1 6h1m-1 5h1m0-78h1m-1 1h1m-1 27h1m-1 13h1m-1 9h1m-1 10h1m-1 1h1m-1 22h1m0-76h1m-1 32h1m-1 4h1m-1 15h1m-1 1h1m0-49h1m-1 13h1m-1 22h1m-1 3h1m-1 2h1m-1 9h1m-1 10h1m-1 5h1m-1 14h1m0-71h1m-1 23h1m-1 2h1m-1 9h1m-1 23h1m0-63h1m-1 19h1m-1 11h1m-1 21h1m-1 2h1m-1 3h1m-1 26h1m-1 11h1m0-92h1m-1 5h1m-1 3h1m-1 1h1m-1 31h1m-1 7h1m0-49h1m-1 23h1m-1 9h1m-1 13h1m-1 4h1m-1 5h1m0-48h1m-1 29h1m0-5h1m-1 2h1m-1 5h1m-1 9h1m-1 2h1m-1 8h1m-1 8h1m-1 11h1m0-86h1m-1 56h1m-1 2h1m0-19h1m-1 24h1m-1 5h1m-1 23h1m0-46h1m0-16h1m-1 17h1m-1 3h1m-1 36h1m0-56h1m-1 21h1m0-56h1m-1 23h1m-1 36h1m-1 8h1m0 30h1m0-34h1m0 9h1m0-65h1m-1 103h1m0-97h1m0 23h1m-1 21h1m-1 5h1m-1 8h1m-1 18h1m1-70h1m-1 33h1m0-47h1m1 8h1m-1 39h1m-1 6h1m0 7h1m-1 6h1m0-19h1m-1 1h1m-1 2h1m-1 27h1" stroke="#000" stroke-opacity="0.8" stroke-width="1.8" fill="none" filter="url(#bl)"/>
</g>
<rect x="380.4" y="304.6" width="59.6" height="58.4" fill="none" stroke="#999" stroke-width="0.8"/>
<line x1="382.4" y1="363.4" x2="439.0" y2="363.4" stroke="#555" stroke-width="1.0" stroke-dasharray="1 5.36 .6 2.98 .6 2.09 .6 1.67"/>
<line x1="380.0" y1="361.0" x2="380.0" y2="305.6" stroke="#555" stroke-width="1.0" stroke-dasharray="1 5.36 .6 2.98 .6 2.09 .6 1.67"/>
<line x1="412.4" y1="304.6" x2="412.4" y2="363.0" stroke="#000" stroke-width="0.7" stroke-opacity=".55"/>
<line x1="380.4" y1="325.1" x2="440.0" y2="325.1" stroke="#000" stroke-width="0.7" stroke-opacity=".55"/>
<text x="382.4" y="308.8" font-size="3.2" text-anchor="start" font-weight="normal" fill="#333" >22.17%</text>
<text x="438.0" y="308.8" font-size="3.2" text-anchor="end" font-weight="normal" fill="#333" >2.67%</text>
<text x="382.4" y="361.2" font-size="3.2" text-anchor="start" font-weight="normal" fill="#333" >43.65%</text>
<text x="438.0" y="361.2" font-size="3.2" text-anchor="end" font-weight="normal" fill="#333" >31.69%</text>
<clipPath id="c265"><rect x="445.8" y="304.6" width="59.5" height="58.4"/></clipPath>
<g clip-path="url(#c265)">
<ellipse cx="467.5" cy="315.0" rx="12.6" ry="9.2" transform="rotate(0 467.5 315.0)" fill="url(#gg)" fill-opacity="0.33"/>
<ellipse cx="477.5" cy="334.0" rx="19.5" ry="12.6" transform="rotate(0 477.5 334.0)" fill="url(#gg)" fill-opacity="0.24"/>
<path transform="scale(.5)" d="M894 643h1m-1 3h1m-1 14h1m-1 20h1m-1 7h1m-1 8h1m0-70h1m0 10h1m0-20h1m-1 27h1m-1 39h1m-1 32h1m0-54h1m-1 22h1m0-45h1m-1 4h1m-1 17h1m-1 44h1m-1 22h1m0-68h1m-1 22h1m-1 1h1m-1 20h1m1-75h1m-1 11h1m-1 49h1m-1 15h1m1-69h1m0 2h1m-1 38h1m-1 9h1m-1 18h1m0-43h1m0-36h1m-1 32h1m-1 12h1m-1 18h1m0-67h1m-1 3h1m-1 38h1m-1 4h1m0 3h1m-1 2h1m-1 30h1m0-80h1m-1 18h1m-1 2h1m-1 17h1m-1 15h1m-1 39h1m0-74h1m-1 2h1m-1 2h1m-1 10h1m-1 15h1m-1 2h1m-1 26h1m0-62h1m-1 3h1m-1 40h1m0-40h1m-1 26h1m-1 11h1m0-42h1m-1 21h1m-1 14h1m-1 12h1m-1 20h1m-1 5h1m0-74h1m-1 12h1m-1 2h1m-1 44h1m-1 15h1m0-66h1m-1 19h1m-1 8h1m-1 19h1m-1 49h1m0-103h1m-1 13h1m-1 4h1m-1 3h1m-1 21h1m-1 1h1m-1 2h1m-1 1h1m-1 21h1m0-65h1m-1 2h1m-1 3h1m-1 1h1m-1 33h1m-1 14h1m0-53h1m-1 2h1m-1 3h1m-1 19h1m-1 1h1m-1 6h1m-1 21h1m-1 9h1m-1 8h1m-1 13h1m-1 19h1m0-97h1m-1 17h1m-1 4h1m-1 4h1m-1 16h1m-1 9h1m-1 10h1m0-63h1m-1 7h1m-1 2h1m-1 1h1m-1 30h1m-1 5h1m-1 3h1m-1 1h1m-1 9h1m-1 4h1m0-71h1m-1 5h1m-1 8h1m-1 5h1m-1 21h1m-1 14h1m-1 11h1m0-62h1m-1 11h1m-1 1h1m-1 3h1m-1 2h1m-1 3h1m-1 4h1m-1 1h1m-1 3h1m-1 31h1m-1 16h1m0-69h1m-1 4h1m-1 4h1m-1 4h1m-1 1h1m-1 1h1m-1 1h1m-1 4h1m-1 6h1m-1 5h1m-1 4h1m-1 1h1m-1 8h1m-1 14h1m-1 1h1m-1 5h1m0-71h1m-1 7h1m-1 4h1m-1 2h1m-1 4h1m-1 2h1m-1 6h1m-1 2h1m-1 2h1m-1 8h1m-1 10h1m-1 18h1m0-62h1m-1 5h1m-1 2h1m-1 2h1m-1 9h1m-1 8h1m-1 10h1m-1 13h1m-1 22h1m-1 6h1m-1 6h1m-1 26h1m0-101h1m-1 2h1m-1 1h1m-1 6h1m-1 3h1m-1 2h1m-1 3h1m-1 1h1m-1 14h1m-1 7h1m-1 1h1m-1 4h1m-1 11h1m-1 4h1m-1 17h1m0-76h1m-1 3h1m-1 1h1m-1 1h1m-1 4h1m-1 1h1m-1 1h1m-1 2h1m-1 9h1m-1 9h1m-1 5h1m-1 4h1m-1 4h1m-1 4h1m-1 1h1m-1 4h1m0-64h1m-1 7h1m-1 4h1m-1 2h1m-1 1h1m-1 4h1m-1 1h1m-1 3h1m-1 1h1m-1 4h1m-1 1h1m-1 1h1m-1 15h1m-1 13h1m-1 55h1m0-108h1m-1 2h1m-1 1h1m-1 4h1m-1 3h1m-1 2h1m-1 1h1m-1 1h1m-1 4h1m-1 1h1m-1 1h1m-1 5h1m-1 6h1m-1 6h1m-1 1h1m-1 2h1m-1 7h1m-1 1h1m-1 17h1m-1 26h1m-1 7h1m0-102h1m-1 13h1m-1 4h1m-1 2h1m-1 1h1m-1 1h1m-1 9h1m-1 13h1m-1 1h1m-1 8h1m-1 6h1m-1 3h1m-1 21h1m-1 2h1m0-78h1m-1 5h1m-1 2h1m-1 2h1m-1 3h1m-1 2h1m-1 1h1m-1 1h1m-1 3h1m-1 1h1m-1 2h1m-1 8h1m-1 19h1m-1 20h1m-1 3h1m0-78h1m-1 6h1m-1 3h1m-1 5h1m-1 4h1m-1 1h1m-1 3h1m-1 5h1m-1 18h1m-1 2h1m-1 2h1m-1 1h1m-1 5h1m-1 4h1m-1 18h1m0-77h1m-1 3h1m-1 9h1m-1 3h1m-1 2h1m-1 1h1m-1 2h1m-1 2h1m-1 1h1m-1 1h1m-1 2h1m-1 1h1m-1 1h1m-1 3h1m-1 11h1m-1 8h1m-1 6h1m-1 1h1m-1 4h1m-1 5h1m-1 4h1m-1 1h1m-1 5h1m-1 1h1m-1 1h1m-1 11h1m-1 9h1m0-98h1m-1 9h1m-1 2h1m-1 1h1m-1 1h1m-1 1h1m-1 1h1m-1 1h1m-1 3h1m-1 4h1m-1 13h1m-1 22h1m-1 3h1m-1 7h1m-1 8h1m-1 1h1m0-71h1m-1 3h1m-1 2h1m-1 3h1m-1 2h1m-1 1h1m-1 1h1m-1 1h1m-1 1h1m-1 3h1m-1 2h1m-1 1h1m-1 1h1m-1 3h1m-1 4h1m-1 2h1m-1 6h1m-1 1h1m-1 2h1m-1 4h1m-1 6h1m-1 4h1m-1 3h1m-1 2h1m-1 2h1m-1 6h1m-1 20h1m-1 14h1m0-105h1m-1 9h1m-1 1h1m-1 2h1m-1 1h1m-1 1h1m-1 1h1m-1 3h1m-1 2h1m-1 2h1m-1 1h1m-1 13h1m-1 1h1m-1 14h1m-1 1h1m-1 2h1m-1 4h1m-1 1h1m-1 1h1m-1 3h1m-1 1h1m-1 3h1m-1 1h1m-1 14h1m-1 2h1m-1 10h1m0-95h1m-1 1h1m-1 6h1m-1 1h1m-1 1h1m-1 3h1m-1 1h1m-1 1h1m-1 1h1m-1 2h1m-1 3h1m-1 6h1m-1 2h1m-1 2h1m-1 1h1m-1 2h1m-1 6h1m-1 2h1m-1 11h1m-1 1h1m-1 1h1m-1 2h1m-1 6h1m-1 2h1m-1 2h1m-1 1h1m-1 7h1m0-74h1m-1 8h1m-1 1h1m-1 1h1m-1 2h1m-1 3h1m-1 2h1m-1 1h1m-1 6h1m-1 5h1m-1 5h1m-1 2h1m-1 11h1m-1 10h1m-1 2h1m-1 2h1m-1 3h1m-1 5h1m-1 3h1m-1 2h1m-1 2h1m0-76h1m-1 8h1m-1 3h1m-1 2h1m-1 3h1m-1 2h1m-1 3h1m-1 2h1m-1 1h1m-1 2h1m-1 3h1m-1 1h1m-1 4h1m-1 9h1m-1 2h1m-1 1h1m-1 11h1m-1 2h1m-1 11h1m0-63h1m-1 2h1m-1 1h1m-1 4h1m-1 1h1m-1 1h1m-1 1h1m-1 1h1m-1 1h1m-1 1h1m-1 2h1m-1 2h1m-1 2h1m-1 4h1m-1 3h1m-1 12h1m-1 3h1m-1 4h1m-1 2h1m-1 3h1m-1 8h1m-1 3h1m-1 2h1m-1 10h1m0-76h1m-1 6h1m-1 4h1m-1 3h1m-1 1h1m-1 1h1m-1 1h1m-1 4h1m-1 1h1m-1 3h1m-1 1h1m-1 4h1m-1 6h1m-1 5h1m-1 6h1m-1 3h1m-1 2h1m-1 2h1m-1 2h1m-1 2h1m-1 1h1m-1 5h1m-1 1h1m-1 7h1m-1 1h1m-1 9h1m-1 22h1m0-107h1m-1 1h1m-1 7h1m-1 1h1m-1 2h1m-1 4h1m-1 2h1m-1 1h1m-1 1h1m-1 4h1m-1 2h1m-1 2h1m-1 6h1m-1 4h1m-1 4h1m-1 1h1m-1 1h1m-1 1h1m-1 1h1m-1 3h1m-1 3h1m-1 1h1m-1 2h1m-1 1h1m-1 3h1m-1 4h1m-1 2h1m-1 1h1m-1 1h1m-1 3h1m0-67h1m-1 1h1m-1 13h1m-1 2h1m-1 4h1m-1 3h1m-1 2h1m-1 3h1m-1 5h1m-1 2h1m-1 3h1m-1 4h1m-1 1h1m-1 1h1m-1 1h1m-1 1h1m-1 3h1m-1 4h1m-1 2h1m-1 3h1m-1 2h1m-1 1h1m-1 4h1m-1 2h1m-1 6h1m-1 2h1m-1 23h1m0-99h1m-1 11h1m-1 3h1m-1 2h1m-1 8h1m-1 5h1m-1 2h1m-1 1h1m-1 9h1m-1 2h1m-1 3h1m-1 1h1m-1 3h1m-1 4h1m-1 4h1m-1 4h1m-1 1h1m-1 2h1m-1 3h1m-1 30h1m-1 10h1m0-95h1m-1 3h1m-1 1h1m-1 4h1m-1 2h1m-1 3h1m-1 14h1m-1 1h1m-1 2h1m-1 5h1m-1 1h1m-1 7h1m-1 4h1m-1 2h1m-1 2h1m-1 1h1m-1 1h1m-1 4h1m0-58h1m-1 1h1m-1 2h1m-1 3h1m-1 9h1m-1 3h1m-1 1h1m-1 5h1m-1 2h1m-1 2h1m-1 2h1m-1 3h1m-1 3h1m-1 4h1m-1 4h1m-1 2h1m-1 2h1m-1 4h1m-1 2h1m-1 7h1m-1 4h1m-1 3h1m0-76h1m-1 6h1m-1 4h1m-1 1h1m-1 5h1m-1 1h1m-1 3h1m-1 1h1m-1 2h1m-1 4h1m-1 8h1m-1 6h1m-1 3h1m-1 1h1m-1 2h1m-1 2h1m-1 2h1m-1 9h1m-1 1h1m-1 5h1m-1 1h1m-1 2h1m-1 1h1m0-72h1m-1 11h1m-1 3h1m-1 2h1m-1 2h1m-1 1h1m-1 12h1m-1 10h1m-1 3h1m-1 2h1m-1 1h1m-1 3h1m-1 1h1m-1 1h1m-1 2h1m-1 2h1m-1 1h1m-1 3h1m-1 3h1m-1 6h1m-1 6h1m0-69h1m-1 1h1m-1 1h1m-1 1h1m-1 1h1m-1 2h1m-1 1h1m-1 3h1m-1 4h1m-1 17h1m-1 3h1m-1 2h1m-1 3h1m-1 6h1m-1 4h1m-1 3h1m-1 2h1m0-54h1m-1 1h1m-1 3h1m-1 2h1m-1 3h1m-1 2h1m-1 11h1m-1 9h1m-1 3h1m-1 4h1m-1 1h1m-1 2h1m-1 1h1m-1 7h1m-1 3h1m-1 4h1m-1 1h1m-1 3h1m-1 4h1m-1 39h1m0-112h1m-1 11h1m-1 6h1m-1 3h1m-1 3h1m-1 2h1m-1 7h1m-1 3h1m-1 8h1m-1 2h1m-1 1h1m-1 1h1m-1 4h1m-1 1h1m-1 2h1m-1 2h1m-1 1h1m-1 2h1m-1 2h1m-1 1h1m-1 5h1m-1 2h1m-1 2h1m-1 28h1m0-99h1m-1 22h1m-1 18h1m-1 1h1m-1 3h1m-1 3h1m-1 3h1m-1 2h1m-1 1h1m-1 1h1m-1 2h1m-1 3h1m-1 13h1m-1 1h1m0-49h1m-1 3h1m-1 7h1m-1 11h1m-1 5h1m-1 1h1m-1 3h1m-1 4h1m-1 5h1m-1 2h1m-1 2h1m-1 2h1m-1 4h1m-1 6h1m0-74h1m-1 4h1m-1 12h1m-1 6h1m-1 1h1m-1 7h1m-1 2h1m-1 8h1m-1 1h1m-1 1h1m-1 4h1m-1 1h1m-1 2h1m-1 2h1m-1 1h1m-1 3h1m-1 2h1m-1 1h1m-1 7h1m-1 1h1m-1 1h1m-1 4h1m0-61h1m-1 3h1m-1 2h1m-1 2h1m-1 8h1m-1 11h1m-1 3h1m-1 1h1m-1 2h1m-1 2h1m-1 1h1m-1 1h1m-1 3h1m-1 1h1m-1 3h1m-1 1h1m-1 4h1m-1 1h1m-1 3h1m-1 6h1m-1 14h1m-1 21h1m0-96h1m-1 6h1m-1 2h1m-1 4h1m-1 14h1m-1 4h1m-1 3h1m-1 3h1m-1 2h1m-1 3h1m-1 3h1m-1 5h1m-1 2h1m-1 2h1m-1 8h1m-1 1h1m-1 18h1m0-83h1m-1 4h1m-1 1h1m-1 7h1m-1 1h1m-1 2h1m-1 3h1m-1 13h1m-1 3h1m-1 1h1m-1 2h1m-1 2h1m-1 2h1m-1 1h1m-1 9h1m-1 2h1m-1 1h1m-1 4h1m-1 12h1m0-60h1m-1 6h1m-1 12h1m-1 2h1m-1 4h1m-1 3h1m-1 6h1m-1 1h1m-1 7h1m-1 4h1m-1 2h1m-1 24h1m0-80h1m-1 2h1m-1 19h1m-1 1h1m-1 4h1m-1 8h1m-1 1h1m-1 6h1m-1 1h1m-1 1h1m-1 5h1m-1 8h1m-1 15h1m-1 8h1m0-73h1m-1 13h1m-1 15h1m-1 4h1m-1 1h1m-1 1h1m-1 1h1m-1 3h1m-1 1h1m-1 4h1m-1 2h1m-1 6h1m-1 6h1m-1 12h1m0-66h1m-1 18h1m-1 10h1m-1 2h1m-1 1h1m-1 7h1m-1 4h1m-1 1h1m-1 1h1m-1 1h1m-1 5h1m-1 8h1m0-77h1m-1 14h1m-1 1h1m-1 15h1m-1 2h1m-1 4h1m-1 7h1m-1 1h1m-1 7h1m-1 1h1m-1 1h1m-1 3h1m-1 1h1m-1 2h1m-1 4h1m-1 1h1m-1 8h1m-1 2h1m-1 17h1m0-64h1m-1 5h1m-1 8h1m-1 8h1m-1 3h1m-1 4h1m-1 2h1m-1 5h1m-1 1h1m-1 3h1m-1 6h1m-1 2h1m-1 5h1m-1 5h1m0-67h1m-1 24h1m-1 4h1m-1 1h1m-1 4h1m-1 1h1m-1 2h1m-1 2h1m-1 6h1m-1 2h1m-1 2h1m-1 8h1m-1 39h1m0-75h1m-1 4h1m-1 2h1m-1 4h1m-1 7h1m-1 1h1m-1 3h1m-1 2h1m-1 1h1m-1 1h1m-1 2h1m-1 6h1m-1 1h1m-1 3h1m-1 13h1m0-51h1m-1 2h1m-1 9h1m-1 2h1m-1 1h1m-1 2h1m-1 1h1m-1 1h1m-1 1h1m-1 2h1m-1 4h1m-1 4h1m-1 2h1m-1 15h1m0-51h1m-1 8h1m-1 2h1m-1 6h1m-1 4h1m-1 6h1m-1 7h1m0-43h1m-1 26h1m-1 5h1m-1 2h1m-1 1h1m-1 3h1m-1 3h1m-1 4h1m-1 8h1m-1 7h1m-1 23h1m-1 9h1m0-112h1m-1 38h1m-1 11h1m-1 3h1m-1 7h1m-1 1h1m-1 2h1m-1 1h1m-1 1h1m-1 1h1m-1 2h1m-1 4h1m-1 9h1m-1 26h1m0-105h1m-1 44h1m-1 4h1m-1 4h1m-1 1h1m-1 4h1m-1 5h1m-1 2h1m-1 13h1m0-21h1m-1 23h1m-1 17h1m0-68h1m-1 24h1m-1 1h1m-1 21h1m0-37h1m-1 8h1m-1 4h1m-1 1h1m-1 6h1m-1 1h1m-1 3h1m-1 19h1m0-62h1m-1 2h1m-1 26h1m-1 7h1m-1 1h1m-1 4h1m-1 4h1m-1 11h1m-1 6h1m0-78h1m-1 36h1m-1 9h1m-1 5h1m-1 13h1m-1 14h1m0-33h1m-1 1h1m-1 6h1m-1 6h1m-1 3h1m-1 5h1m0-35h1m-1 4h1m-1 8h1m-1 1h1m-1 54h1m0-49h1m-1 2h1m-1 7h1m-1 1h1m-1 1h1m-1 5h1m-1 4h1m0-16h1m-1 1h1m-1 12h1m-1 5h1m-1 41h1m0-84h1m-1 11h1m-1 1h1m-1 3h1m-1 4h1m-1 3h1m-1 18h1m-1 4h1m0-49h1m-1 23h1m-1 27h1m-1 14h1m-1 20h1m0-65h1m-1 8h1m-1 8h1m-1 1h1m-1 1h1m-1 7h1m0-21h1m-1 1h1m-1 16h1m-1 27h1m0-66h1m-1 11h1m-1 15h1m-1 2h1m-1 6h1m0-15h1m-1 9h1m-1 6h1m-1 4h1m-1 2h1m-1 9h1m0-28h1m0 4h1m-1 9h1m0-16h1m-1 16h1m-1 5h1m-1 1h1m-1 2h1m-1 4h1m-1 24h1m0-23h1m-1 14h1m0-40h1m-1 7h1m-1 10h1m0-21h1m-1 14h1m0 3h1m-1 12h1m-1 5h1m0-15h1m0-34h1m-1 15h1m0-5h1m-1 15h1m-1 15h1m-1 14h1m0-14h1m0-61h1m0 67h1m-1 33h1m0-31h1m-1 7h1m0-15h1m0-7h1m0-26h1m2 20h1m0-19h1m-1 11h1m-1 17h1m-1 21h1" stroke="#000" stroke-opacity="0.75" stroke-width="1.8" fill="none" filter="url(#bl)"/>
</g>
<rect x="445.8" y="304.6" width="59.5" height="58.4" fill="none" stroke="#999" stroke-width="0.8"/>
<line x1="447.8" y1="363.4" x2="504.3" y2="363.4" stroke="#555" stroke-width="1.0" stroke-dasharray="1 5.35 .6 2.98 .6 2.08 .6 1.66"/>
<line x1="445.4" y1="361.0" x2="445.4" y2="305.6" stroke="#555" stroke-width="1.0" stroke-dasharray="1 5.35 .6 2.98 .6 2.08 .6 1.66"/>
<line x1="478.4" y1="304.6" x2="478.4" y2="363.0" stroke="#000" stroke-width="0.7" stroke-opacity=".55"/>
<line x1="445.8" y1="325.1" x2="505.3" y2="325.1" stroke="#000" stroke-width="0.7" stroke-opacity=".55"/>
<text x="447.8" y="308.8" font-size="3.2" text-anchor="start" font-weight="normal" fill="#333" >30.47%</text>
<text x="503.3" y="308.8" font-size="3.2" text-anchor="end" font-weight="normal" fill="#333" >1.65%</text>
<text x="447.8" y="361.2" font-size="3.2" text-anchor="start" font-weight="normal" fill="#333" >38.24%</text>
<text x="503.3" y="361.2" font-size="3.2" text-anchor="end" font-weight="normal" fill="#333" >9.67%</text>
<clipPath id="c280"><rect x="380.4" y="370.0" width="59.6" height="58.8"/></clipPath>
<g clip-path="url(#c280)">
<ellipse cx="402.5" cy="383.5" rx="14.9" ry="8.7" transform="rotate(0 402.5 383.5)" fill="url(#gg)" fill-opacity="0.2"/>
<ellipse cx="408.0" cy="401.5" rx="16.1" ry="13.8" transform="rotate(0 408.0 401.5)" fill="url(#gg)" fill-opacity="0.33"/>
<path transform="scale(.5)" d="M763 752h1m-1 1h1m-1 21h1m-1 7h1m-1 8h1m-1 9h1m-1 3h1m-1 8h1m-1 3h1m-1 4h1m-1 2h1m-1 2h1m-1 4h1m0-50h1m-1 34h1m-1 28h1m0-45h1m-1 30h1m1-20h1m0-16h1m-1 16h1m0-54h1m-1 23h1m-1 39h1m-1 3h1m1-46h1m-1 41h1m-1 22h1m0-53h1m-1 2h1m-1 37h1m0-49h1m-1 16h1m-1 25h1m-1 41h1m0-92h1m-1 2h1m-1 6h1m-1 34h1m-1 4h1m-1 27h1m0-61h1m-1 29h1m-1 9h1m-1 22h1m-1 24h1m0-84h1m-1 12h1m-1 5h1m-1 5h1m-1 17h1m-1 1h1m-1 18h1m0-50h1m0-21h1m-1 15h1m-1 24h1m0-25h1m-1 21h1m0-38h1m-1 23h1m-1 12h1m-1 5h1m-1 26h1m0-57h1m-1 5h1m-1 3h1m-1 3h1m-1 18h1m-1 2h1m0-50h1m-1 20h1m-1 9h1m-1 7h1m-1 4h1m-1 21h1m-1 7h1m-1 7h1m-1 21h1m0-72h1m-1 6h1m-1 17h1m-1 7h1m-1 13h1m0-61h1m-1 14h1m-1 3h1m-1 15h1m-1 23h1m-1 4h1m-1 8h1m-1 20h1m-1 18h1m0-93h1m-1 5h1m-1 2h1m-1 5h1m-1 21h1m-1 8h1m-1 9h1m-1 17h1m-1 4h1m0-66h1m-1 10h1m-1 2h1m-1 17h1m-1 6h1m-1 15h1m-1 16h1m0-72h1m-1 9h1m-1 2h1m-1 8h1m-1 1h1m-1 7h1m-1 1h1m-1 22h1m0-63h1m-1 11h1m-1 2h1m-1 5h1m-1 9h1m-1 27h1m-1 1h1m-1 2h1m-1 13h1m-1 5h1m0-64h1m-1 2h1m-1 11h1m-1 4h1m-1 10h1m-1 4h1m-1 1h1m-1 8h1m-1 3h1m-1 4h1m-1 9h1m-1 16h1m-1 6h1m-1 4h1m0-76h1m-1 7h1m-1 14h1m-1 9h1m-1 3h1m-1 14h1m-1 1h1m-1 1h1m-1 2h1m-1 2h1m-1 4h1m0-78h1m-1 12h1m-1 1h1m-1 11h1m-1 2h1m-1 3h1m-1 3h1m-1 1h1m-1 14h1m-1 8h1m-1 3h1m-1 14h1m-1 3h1m-1 11h1m-1 2h1m0-72h1m-1 4h1m-1 4h1m-1 5h1m-1 1h1m-1 21h1m-1 5h1m-1 2h1m-1 3h1m-1 6h1m-1 2h1m-1 7h1m-1 14h1m-1 2h1m0-71h1m-1 1h1m-1 1h1m-1 1h1m-1 5h1m-1 1h1m-1 3h1m-1 21h1m-1 3h1m-1 6h1m-1 10h1m-1 36h1m-1 2h1m0-98h1m-1 3h1m-1 4h1m-1 1h1m-1 3h1m-1 5h1m-1 3h1m-1 3h1m-1 12h1m-1 4h1m-1 7h1m-1 4h1m-1 12h1m-1 1h1m0-58h1m-1 2h1m-1 2h1m-1 7h1m-1 5h1m-1 1h1m-1 6h1m-1 12h1m-1 11h1m-1 1h1m-1 6h1m-1 1h1m-1 1h1m-1 5h1m-1 1h1m-1 1h1m0-62h1m-1 1h1m-1 7h1m-1 2h1m-1 1h1m-1 3h1m-1 3h1m-1 2h1m-1 1h1m-1 1h1m-1 1h1m-1 1h1m-1 5h1m-1 1h1m-1 3h1m-1 6h1m-1 4h1m-1 11h1m-1 5h1m-1 2h1m-1 6h1m-1 9h1m-1 2h1m0-78h1m-1 1h1m-1 7h1m-1 1h1m-1 4h1m-1 8h1m-1 2h1m-1 8h1m-1 3h1m-1 4h1m-1 10h1m-1 10h1m0-59h1m-1 1h1m-1 2h1m-1 2h1m-1 1h1m-1 4h1m-1 3h1m-1 17h1m-1 1h1m-1 1h1m-1 1h1m-1 1h1m-1 8h1m-1 5h1m-1 4h1m-1 4h1m-1 6h1m-1 18h1m0-83h1m-1 1h1m-1 8h1m-1 2h1m-1 1h1m-1 1h1m-1 1h1m-1 2h1m-1 2h1m-1 4h1m-1 2h1m-1 2h1m-1 2h1m-1 22h1m-1 4h1m-1 2h1m-1 6h1m-1 9h1m0-82h1m-1 15h1m-1 7h1m-1 3h1m-1 2h1m-1 4h1m-1 5h1m-1 10h1m-1 7h1m-1 1h1m-1 2h1m-1 4h1m-1 1h1m-1 14h1m-1 5h1m-1 16h1m0-74h1m-1 2h1m-1 3h1m-1 1h1m-1 2h1m-1 2h1m-1 1h1m-1 2h1m-1 6h1m-1 11h1m-1 2h1m-1 2h1m-1 2h1m-1 4h1m-1 4h1m-1 2h1m-1 4h1m-1 3h1m-1 15h1m0-89h1m-1 16h1m-1 5h1m-1 3h1m-1 20h1m-1 1h1m-1 4h1m-1 6h1m-1 2h1m-1 2h1m-1 1h1m-1 1h1m-1 4h1m-1 2h1m-1 6h1m-1 1h1m-1 4h1m-1 3h1m0-68h1m-1 1h1m-1 2h1m-1 2h1m-1 4h1m-1 1h1m-1 1h1m-1 7h1m-1 1h1m-1 9h1m-1 1h1m-1 3h1m-1 1h1m-1 1h1m-1 5h1m-1 2h1m-1 2h1m-1 1h1m-1 7h1m-1 2h1m-1 1h1m-1 10h1m-1 3h1m-1 2h1m-1 7h1m-1 1h1m-1 7h1m0-81h1m-1 2h1m-1 2h1m-1 4h1m-1 6h1m-1 2h1m-1 1h1m-1 7h1m-1 5h1m-1 4h1m-1 3h1m-1 11h1m-1 3h1m-1 3h1m-1 1h1m-1 3h1m-1 8h1m-1 6h1m0-71h1m-1 1h1m-1 2h1m-1 5h1m-1 1h1m-1 4h1m-1 1h1m-1 2h1m-1 1h1m-1 11h1m-1 1h1m-1 1h1m-1 5h1m-1 5h1m-1 1h1m-1 7h1m-1 1h1m-1 8h1m-1 4h1m-1 9h1m0-87h1m-1 15h1m-1 1h1m-1 3h1m-1 4h1m-1 5h1m-1 1h1m-1 1h1m-1 5h1m-1 9h1m-1 6h1m-1 3h1m-1 1h1m-1 3h1m-1 1h1m-1 1h1m-1 1h1m-1 2h1m-1 1h1m-1 2h1m-1 3h1m-1 1h1m-1 1h1m-1 2h1m-1 2h1m0-58h1m-1 4h1m-1 11h1m-1 8h1m-1 2h1m-1 6h1m-1 2h1m-1 2h1m-1 2h1m-1 1h1m-1 1h1m-1 3h1m-1 2h1m-1 2h1m-1 1h1m-1 3h1m-1 1h1m-1 8h1m-1 5h1m-1 5h1m0-67h1m-1 6h1m-1 2h1m-1 3h1m-1 1h1m-1 2h1m-1 2h1m-1 5h1m-1 7h1m-1 2h1m-1 4h1m-1 2h1m-1 1h1m-1 2h1m-1 4h1m-1 2h1m-1 2h1m-1 5h1m-1 1h1m-1 2h1m0-62h1m-1 11h1m-1 1h1m-1 4h1m-1 1h1m-1 3h1m-1 3h1m-1 1h1m-1 9h1m-1 5h1m-1 3h1m-1 1h1m-1 1h1m-1 2h1m-1 1h1m-1 1h1m-1 2h1m-1 2h1m-1 1h1m-1 1h1m-1 2h1m-1 3h1m-1 2h1m-1 3h1m-1 1h1m-1 1h1m-1 1h1m-1 1h1m-1 2h1m-1 7h1m0-86h1m-1 14h1m-1 1h1m-1 2h1m-1 2h1m-1 1h1m-1 3h1m-1 2h1m-1 5h1m-1 1h1m-1 3h1m-1 6h1m-1 1h1m-1 1h1m-1 3h1m-1 1h1m-1 12h1m-1 2h1m-1 1h1m-1 7h1m-1 4h1m-1 9h1m0-71h1m-1 6h1m-1 7h1m-1 3h1m-1 1h1m-1 1h1m-1 2h1m-1 1h1m-1 5h1m-1 11h1m-1 3h1m-1 1h1m-1 1h1m-1 3h1m-1 2h1m-1 2h1m-1 1h1m-1 1h1m-1 4h1m-1 1h1m-1 3h1m-1 5h1m-1 2h1m-1 1h1m-1 1h1m0-75h1m-1 11h1m-1 2h1m-1 6h1m-1 1h1m-1 1h1m-1 1h1m-1 2h1m-1 4h1m-1 2h1m-1 14h1m-1 1h1m-1 5h1m-1 2h1m-1 2h1m-1 1h1m-1 1h1m-1 1h1m-1 1h1m-1 1h1m-1 2h1m-1 1h1m-1 1h1m-1 1h1m-1 4h1m-1 2h1m-1 2h1m-1 3h1m-1 4h1m-1 17h1m0-93h1m-1 1h1m-1 20h1m-1 1h1m-1 4h1m-1 1h1m-1 3h1m-1 6h1m-1 7h1m-1 5h1m-1 3h1m-1 1h1m-1 2h1m-1 5h1m-1 1h1m-1 2h1m-1 1h1m-1 5h1m0-61h1m-1 2h1m-1 5h1m-1 4h1m-1 4h1m-1 2h1m-1 3h1m-1 7h1m-1 1h1m-1 1h1m-1 3h1m-1 3h1m-1 2h1m-1 2h1m-1 2h1m-1 4h1m-1 1h1m-1 2h1m-1 1h1m-1 1h1m-1 6h1m-1 6h1m-1 1h1m-1 4h1m-1 9h1m0-90h1m-1 8h1m-1 6h1m-1 3h1m-1 6h1m-1 1h1m-1 1h1m-1 1h1m-1 1h1m-1 1h1m-1 14h1m-1 4h1m-1 4h1m-1 2h1m-1 1h1m-1 3h1m-1 1h1m-1 1h1m-1 1h1m-1 2h1m-1 1h1m-1 2h1m-1 2h1m-1 1h1m-1 2h1m-1 2h1m-1 1h1m-1 1h1m-1 6h1m-1 6h1m-1 4h1m-1 20h1m0-90h1m-1 1h1m-1 3h1m-1 3h1m-1 1h1m-1 5h1m-1 10h1m-1 2h1m-1 1h1m-1 2h1m-1 5h1m-1 2h1m-1 1h1m-1 2h1m-1 1h1m-1 7h1m-1 2h1m-1 3h1m-1 4h1m-1 14h1m0-62h1m-1 2h1m-1 1h1m-1 1h1m-1 5h1m-1 4h1m-1 2h1m-1 1h1m-1 3h1m-1 4h1m-1 7h1m-1 3h1m-1 1h1m-1 3h1m-1 1h1m-1 2h1m-1 3h1m-1 4h1m-1 1h1m-1 26h1m0-77h1m-1 4h1m-1 1h1m-1 1h1m-1 1h1m-1 12h1m-1 2h1m-1 1h1m-1 4h1m-1 1h1m-1 6h1m-1 2h1m-1 1h1m-1 1h1m-1 1h1m-1 1h1m-1 2h1m-1 1h1m-1 5h1m-1 11h1m-1 32h1m0-103h1m-1 9h1m-1 5h1m-1 1h1m-1 1h1m-1 1h1m-1 2h1m-1 5h1m-1 2h1m-1 1h1m-1 8h1m-1 2h1m-1 1h1m-1 4h1m-1 2h1m-1 2h1m-1 1h1m-1 3h1m-1 1h1m-1 3h1m-1 1h1m-1 5h1m-1 1h1m-1 1h1m-1 1h1m-1 3h1m-1 5h1m0-69h1m-1 4h1m-1 1h1m-1 5h1m-1 3h1m-1 2h1m-1 1h1m-1 2h1m-1 2h1m-1 5h1m-1 7h1m-1 6h1m-1 4h1m-1 6h1m-1 2h1m-1 1h1m-1 1h1m-1 3h1m-1 4h1m-1 8h1m-1 1h1m-1 2h1m-1 11h1m0-93h1m-1 22h1m-1 1h1m-1 3h1m-1 3h1m-1 16h1m-1 3h1m-1 1h1m-1 2h1m-1 6h1m-1 4h1m-1 1h1m-1 5h1m-1 2h1m-1 3h1m-1 8h1m-1 3h1m0-73h1m-1 15h1m-1 5h1m-1 9h1m-1 3h1m-1 8h1m-1 3h1m-1 1h1m-1 2h1m-1 6h1m-1 3h1m-1 4h1m-1 2h1m-1 8h1m-1 16h1m0-76h1m-1 1h1m-1 1h1m-1 2h1m-1 1h1m-1 2h1m-1 8h1m-1 3h1m-1 2h1m-1 1h1m-1 2h1m-1 11h1m-1 5h1m-1 3h1m-1 1h1m-1 2h1m-1 1h1m-1 1h1m-1 1h1m-1 2h1m-1 1h1m-1 2h1m-1 2h1m-1 1h1m-1 1h1m-1 4h1m-1 14h1m-1 9h1m0-96h1m-1 1h1m-1 7h1m-1 6h1m-1 2h1m-1 4h1m-1 2h1m-1 7h1m-1 1h1m-1 1h1m-1 11h1m-1 1h1m-1 3h1m-1 3h1m-1 2h1m-1 2h1m-1 4h1m-1 5h1m-1 5h1m-1 1h1m-1 2h1m-1 4h1m-1 1h1m-1 13h1m-1 11h1m0-89h1m-1 7h1m-1 2h1m-1 4h1m-1 13h1m-1 2h1m-1 6h1m-1 5h1m-1 5h1m-1 1h1m-1 2h1m-1 3h1m-1 2h1m-1 1h1m-1 2h1m-1 6h1m-1 2h1m-1 2h1m-1 7h1m0-77h1m-1 11h1m-1 4h1m-1 17h1m-1 5h1m-1 3h1m-1 2h1m-1 2h1m-1 3h1m-1 1h1m-1 2h1m-1 2h1m-1 2h1m-1 2h1m-1 3h1m-1 12h1m-1 2h1m0-74h1m-1 2h1m-1 5h1m-1 5h1m-1 3h1m-1 5h1m-1 1h1m-1 3h1m-1 5h1m-1 2h1m-1 7h1m-1 5h1m-1 2h1m-1 3h1m-1 1h1m-1 2h1m-1 1h1m-1 1h1m-1 5h1m-1 5h1m0-35h1m-1 12h1m-1 3h1m-1 3h1m-1 1h1m-1 2h1m-1 8h1m-1 10h1m-1 1h1m-1 3h1m0-80h1m-1 23h1m-1 8h1m-1 10h1m-1 1h1m-1 3h1m-1 6h1m-1 1h1m-1 1h1m-1 3h1m-1 5h1m-1 10h1m0-49h1m-1 4h1m-1 11h1m-1 6h1m-1 3h1m-1 2h1m-1 2h1m-1 3h1m-1 4h1m-1 2h1m-1 2h1m-1 1h1m-1 3h1m-1 1h1m-1 1h1m-1 1h1m-1 3h1m-1 7h1m-1 4h1m-1 9h1m-1 20h1m0-96h1m-1 24h1m-1 7h1m-1 3h1m-1 8h1m-1 4h1m-1 1h1m-1 1h1m-1 3h1m-1 3h1m-1 1h1m-1 1h1m-1 2h1m-1 1h1m-1 5h1m0-49h1m-1 12h1m-1 11h1m-1 3h1m-1 5h1m-1 1h1m-1 5h1m-1 1h1m-1 3h1m-1 4h1m-1 2h1m-1 4h1m0-66h1m-1 6h1m-1 7h1m-1 11h1m-1 9h1m-1 2h1m-1 5h1m-1 3h1m-1 4h1m-1 14h1m0-48h1m-1 3h1m-1 20h1m-1 9h1m-1 1h1m-1 8h1m-1 22h1m0-69h1m-1 13h1m-1 9h1m-1 1h1m-1 1h1m-1 1h1m-1 1h1m-1 11h1m-1 4h1m-1 1h1m-1 4h1m-1 8h1m-1 9h1m-1 18h1m0-86h1m-1 12h1m-1 14h1m-1 12h1m-1 9h1m-1 9h1m0-36h1m-1 5h1m-1 9h1m-1 6h1m-1 6h1m-1 1h1m-1 6h1m-1 6h1m0-78h1m-1 25h1m-1 17h1m-1 1h1m-1 9h1m-1 2h1m-1 3h1m-1 3h1m-1 1h1m-1 10h1m-1 2h1m0-42h1m-1 1h1m-1 2h1m-1 2h1m-1 7h1m-1 5h1m-1 11h1m-1 6h1m-1 10h1m-1 1h1m0-68h1m-1 31h1m-1 8h1m-1 8h1m-1 2h1m-1 3h1m-1 13h1m-1 12h1m-1 20h1m0-102h1m-1 40h1m-1 21h1m-1 15h1m0-23h1m-1 2h1m-1 2h1m-1 16h1m-1 1h1m-1 18h1m0-72h1m-1 17h1m-1 1h1m-1 9h1m-1 6h1m-1 2h1m-1 4h1m-1 1h1m-1 41h1m0-66h1m-1 12h1m-1 14h1m-1 4h1m-1 1h1m-1 13h1m-1 2h1m0-63h1m-1 40h1m-1 12h1m-1 1h1m0-56h1m-1 11h1m-1 28h1m-1 19h1m0-42h1m-1 27h1m-1 2h1m-1 7h1m-1 18h1m0-37h1m-1 34h1m0-33h1m-1 37h1m0-34h1m-1 3h1m-1 2h1m0-20h1m-1 15h1m0-14h1m-1 22h1m-1 1h1m0-18h1m-1 5h1m1-32h1m0-19h1m0 18h1m-1 64h1m0-65h1m-1 2h1m-1 20h1m1-39h1m2 26h1m-1 62h1m0-24h1m0-63h1m-1 38h1m1 7h1m-1 13h1m-1 25h1m-1 28h1m-1 1h1m2-34h1m-1 25h1m3-50h1m2-41h1m-1 11h1m-1 34h1" stroke="#000" stroke-opacity="0.75" stroke-width="1.8" fill="none" filter="url(#bl)"/>
</g>
<rect x="380.4" y="370.0" width="59.6" height="58.8" fill="none" stroke="#999" stroke-width="0.8"/>
<line x1="382.4" y1="429.2" x2="439.0" y2="429.2" stroke="#555" stroke-width="1.0" stroke-dasharray="1 5.36 .6 2.98 .6 2.09 .6 1.67"/>
<line x1="380.0" y1="426.8" x2="380.0" y2="371.0" stroke="#555" stroke-width="1.0" stroke-dasharray="1 5.36 .6 2.98 .6 2.09 .6 1.67"/>
<line x1="412.4" y1="370.0" x2="412.4" y2="428.8" stroke="#000" stroke-width="0.7" stroke-opacity=".55"/>
<line x1="380.4" y1="390.5" x2="440.0" y2="390.5" stroke="#000" stroke-width="0.7" stroke-opacity=".55"/>
<text x="382.4" y="374.2" font-size="3.2" text-anchor="start" font-weight="normal" fill="#333" >19.95%</text>
<text x="438.0" y="374.2" font-size="3.2" text-anchor="end" font-weight="normal" fill="#333" >1.57%</text>
<text x="382.4" y="427.0" font-size="3.2" text-anchor="start" font-weight="normal" fill="#333" >69.73%</text>
<text x="438.0" y="427.0" font-size="3.2" text-anchor="end" font-weight="normal" fill="#333" >8.27%</text>
<clipPath id="c295"><rect x="445.8" y="370.0" width="59.5" height="58.8"/></clipPath>
<g clip-path="url(#c295)">
<ellipse cx="468.5" cy="381.3" rx="11.0" ry="8.7" transform="rotate(0 468.5 381.3)" fill="url(#gg)" fill-opacity="0.55"/>
<ellipse cx="470.5" cy="399.0" rx="14.9" ry="13.8" transform="rotate(90 470.5 399.0)" fill="url(#gg)" fill-opacity="0.2"/>
<path transform="scale(.5)" d="M894 758h1m-1 31h1m-1 2h1m-1 2h1m-1 1h1m-1 14h1m-1 5h1m-1 8h1m-1 32h1m0-98h1m0 38h1m0 0h1m-1 19h1m1-70h1m-1 81h1m1-49h1m0 37h1m0-64h1m0 28h1m-1 9h1m-1 71h1m0-78h1m0-18h1m0 55h1m0-8h1m-1 31h1m0-88h1m-1 13h1m-1 40h1m0-8h1m0-3h1m-1 26h1m-1 26h1m0-25h1m0-74h1m-1 33h1m-1 31h1m-1 2h1m-1 5h1m0-60h1m-1 18h1m-1 8h1m-1 3h1m-1 3h1m-1 8h1m-1 7h1m-1 1h1m0-31h1m-1 17h1m-1 2h1m0-37h1m-1 8h1m-1 1h1m-1 7h1m-1 47h1m-1 9h1m-1 3h1m0-77h1m-1 34h1m-1 4h1m-1 3h1m-1 9h1m-1 1h1m-1 12h1m0-60h1m-1 8h1m-1 10h1m-1 12h1m-1 5h1m0-48h1m-1 9h1m-1 1h1m-1 6h1m-1 2h1m-1 4h1m-1 10h1m-1 5h1m-1 7h1m-1 11h1m-1 2h1m-1 13h1m-1 7h1m-1 3h1m0-75h1m-1 7h1m-1 4h1m-1 3h1m-1 2h1m-1 18h1m-1 7h1m-1 25h1m-1 15h1m0-66h1m-1 1h1m-1 5h1m-1 8h1m-1 15h1m-1 14h1m-1 2h1m-1 6h1m-1 6h1m0-77h1m-1 6h1m-1 7h1m-1 2h1m-1 1h1m-1 4h1m-1 2h1m-1 8h1m-1 5h1m-1 15h1m-1 8h1m-1 1h1m-1 2h1m-1 9h1m-1 2h1m-1 1h1m-1 16h1m0-82h1m-1 12h1m-1 5h1m-1 3h1m-1 2h1m-1 1h1m-1 2h1m-1 8h1m-1 1h1m-1 2h1m-1 3h1m-1 1h1m-1 7h1m-1 7h1m-1 4h1m0-65h1m-1 10h1m-1 2h1m-1 6h1m-1 3h1m-1 4h1m-1 1h1m-1 1h1m-1 1h1m-1 3h1m-1 2h1m-1 1h1m-1 7h1m-1 17h1m-1 11h1m-1 15h1m0-72h1m-1 9h1m-1 1h1m-1 1h1m-1 1h1m-1 4h1m-1 1h1m-1 2h1m-1 2h1m-1 4h1m-1 1h1m-1 9h1m-1 1h1m-1 4h1m-1 10h1m-1 6h1m-1 3h1m-1 16h1m0-73h1m-1 1h1m-1 1h1m-1 4h1m-1 2h1m-1 3h1m-1 2h1m-1 1h1m-1 3h1m-1 4h1m-1 14h1m-1 3h1m-1 1h1m-1 3h1m-1 7h1m-1 1h1m-1 9h1m0-73h1m-1 8h1m-1 3h1m-1 5h1m-1 1h1m-1 1h1m-1 3h1m-1 2h1m-1 2h1m-1 2h1m-1 2h1m-1 2h1m-1 3h1m-1 2h1m-1 1h1m-1 5h1m-1 2h1m-1 3h1m-1 1h1m-1 4h1m-1 1h1m-1 2h1m-1 8h1m-1 2h1m-1 7h1m-1 2h1m-1 2h1m-1 1h1m0-67h1m-1 2h1m-1 1h1m-1 1h1m-1 3h1m-1 1h1m-1 3h1m-1 1h1m-1 3h1m-1 1h1m-1 1h1m-1 3h1m-1 2h1m-1 2h1m-1 1h1m-1 3h1m-1 1h1m-1 5h1m-1 1h1m-1 3h1m-1 1h1m-1 4h1m-1 3h1m-1 3h1m-1 3h1m-1 2h1m0-54h1m-1 1h1m-1 3h1m-1 1h1m-1 1h1m-1 2h1m-1 2h1m-1 1h1m-1 1h1m-1 1h1m-1 2h1m-1 3h1m-1 1h1m-1 1h1m-1 1h1m-1 2h1m-1 4h1m-1 5h1m-1 9h1m-1 3h1m-1 1h1m-1 6h1m-1 1h1m-1 5h1m-1 1h1m-1 1h1m-1 9h1m0-72h1m-1 7h1m-1 1h1m-1 2h1m-1 1h1m-1 1h1m-1 1h1m-1 1h1m-1 3h1m-1 2h1m-1 3h1m-1 3h1m-1 1h1m-1 14h1m-1 2h1m-1 1h1m-1 4h1m-1 7h1m-1 3h1m-1 5h1m-1 3h1m0-71h1m-1 10h1m-1 1h1m-1 1h1m-1 3h1m-1 1h1m-1 2h1m-1 3h1m-1 1h1m-1 2h1m-1 1h1m-1 3h1m-1 1h1m-1 9h1m-1 9h1m-1 5h1m-1 12h1m-1 6h1m-1 2h1m-1 4h1m-1 4h1m-1 13h1m-1 18h1m0-104h1m-1 1h1m-1 3h1m-1 1h1m-1 1h1m-1 2h1m-1 2h1m-1 3h1m-1 1h1m-1 2h1m-1 3h1m-1 1h1m-1 1h1m-1 8h1m-1 2h1m-1 1h1m-1 4h1m-1 1h1m-1 9h1m-1 2h1m-1 1h1m-1 1h1m-1 5h1m-1 3h1m-1 2h1m-1 12h1m-1 34h1m0-105h1m-1 3h1m-1 2h1m-1 2h1m-1 4h1m-1 2h1m-1 1h1m-1 1h1m-1 1h1m-1 1h1m-1 1h1m-1 1h1m-1 1h1m-1 2h1m-1 1h1m-1 2h1m-1 11h1m-1 3h1m-1 6h1m-1 5h1m-1 3h1m-1 11h1m-1 11h1m-1 5h1m0-82h1m-1 7h1m-1 3h1m-1 1h1m-1 1h1m-1 2h1m-1 2h1m-1 1h1m-1 1h1m-1 1h1m-1 2h1m-1 7h1m-1 5h1m-1 1h1m-1 3h1m-1 1h1m-1 3h1m-1 7h1m-1 2h1m-1 1h1m-1 3h1m-1 2h1m-1 4h1m-1 2h1m-1 1h1m-1 44h1m0-106h1m-1 3h1m-1 2h1m-1 2h1m-1 3h1m-1 1h1m-1 1h1m-1 1h1m-1 1h1m-1 1h1m-1 2h1m-1 2h1m-1 1h1m-1 1h1m-1 10h1m-1 6h1m-1 1h1m-1 11h1m-1 1h1m-1 1h1m-1 3h1m-1 4h1m-1 6h1m-1 4h1m0-73h1m-1 2h1m-1 4h1m-1 1h1m-1 1h1m-1 1h1m-1 1h1m-1 3h1m-1 1h1m-1 1h1m-1 1h1m-1 1h1m-1 1h1m-1 2h1m-1 1h1m-1 1h1m-1 1h1m-1 2h1m-1 1h1m-1 4h1m-1 8h1m-1 1h1m-1 1h1m-1 2h1m-1 3h1m-1 3h1m-1 7h1m-1 8h1m-1 1h1m-1 1h1m-1 12h1m-1 2h1m0-76h1m-1 3h1m-1 1h1m-1 5h1m-1 1h1m-1 2h1m-1 5h1m-1 1h1m-1 1h1m-1 1h1m-1 1h1m-1 2h1m-1 3h1m-1 2h1m-1 1h1m-1 2h1m-1 1h1m-1 5h1m-1 2h1m-1 1h1m-1 1h1m-1 5h1m-1 1h1m-1 5h1m-1 1h1m-1 1h1m-1 2h1m-1 1h1m-1 2h1m-1 1h1m-1 6h1m-1 1h1m-1 3h1m-1 16h1m0-84h1m-1 5h1m-1 3h1m-1 2h1m-1 1h1m-1 1h1m-1 1h1m-1 1h1m-1 1h1m-1 1h1m-1 1h1m-1 2h1m-1 4h1m-1 1h1m-1 1h1m-1 1h1m-1 1h1m-1 9h1m-1 2h1m-1 5h1m-1 1h1m-1 4h1m-1 1h1m-1 4h1m-1 2h1m-1 3h1m-1 4h1m-1 2h1m-1 2h1m0-59h1m-1 1h1m-1 1h1m-1 1h1m-1 1h1m-1 2h1m-1 1h1m-1 1h1m-1 2h1m-1 5h1m-1 5h1m-1 3h1m-1 7h1m-1 6h1m-1 2h1m-1 5h1m-1 4h1m-1 2h1m-1 7h1m-1 14h1m-1 7h1m-1 6h1m-1 12h1m0-98h1m-1 2h1m-1 4h1m-1 2h1m-1 1h1m-1 1h1m-1 1h1m-1 1h1m-1 2h1m-1 1h1m-1 2h1m-1 1h1m-1 2h1m-1 1h1m-1 3h1m-1 2h1m-1 1h1m-1 2h1m-1 2h1m-1 1h1m-1 6h1m-1 2h1m-1 3h1m-1 2h1m-1 12h1m-1 1h1m-1 6h1m0-69h1m-1 3h1m-1 4h1m-1 1h1m-1 1h1m-1 2h1m-1 2h1m-1 1h1m-1 1h1m-1 1h1m-1 1h1m-1 1h1m-1 1h1m-1 1h1m-1 1h1m-1 1h1m-1 3h1m-1 1h1m-1 1h1m-1 1h1m-1 3h1m-1 3h1m-1 5h1m-1 1h1m-1 2h1m-1 3h1m-1 5h1m-1 3h1m-1 6h1m-1 2h1m-1 39h1m0-106h1m-1 10h1m-1 1h1m-1 2h1m-1 3h1m-1 2h1m-1 1h1m-1 1h1m-1 1h1m-1 1h1m-1 2h1m-1 1h1m-1 5h1m-1 4h1m-1 2h1m-1 2h1m-1 3h1m-1 2h1m-1 6h1m-1 3h1m-1 1h1m-1 2h1m-1 2h1m-1 1h1m-1 2h1m-1 1h1m-1 3h1m-1 2h1m-1 2h1m-1 6h1m-1 4h1m-1 35h1m0-113h1m-1 5h1m-1 1h1m-1 7h1m-1 1h1m-1 3h1m-1 2h1m-1 1h1m-1 1h1m-1 1h1m-1 1h1m-1 1h1m-1 1h1m-1 1h1m-1 6h1m-1 1h1m-1 1h1m-1 8h1m-1 4h1m-1 1h1m-1 2h1m-1 1h1m-1 3h1m-1 6h1m-1 5h1m-1 4h1m-1 1h1m-1 3h1m-1 3h1m-1 2h1m0-67h1m-1 1h1m-1 1h1m-1 2h1m-1 1h1m-1 1h1m-1 2h1m-1 1h1m-1 1h1m-1 3h1m-1 1h1m-1 1h1m-1 1h1m-1 1h1m-1 3h1m-1 1h1m-1 1h1m-1 3h1m-1 5h1m-1 1h1m-1 4h1m-1 3h1m-1 1h1m-1 1h1m-1 1h1m-1 3h1m-1 1h1m-1 3h1m-1 4h1m-1 10h1m-1 1h1m-1 4h1m-1 1h1m-1 7h1m0-76h1m-1 2h1m-1 4h1m-1 3h1m-1 1h1m-1 1h1m-1 1h1m-1 2h1m-1 1h1m-1 1h1m-1 1h1m-1 1h1m-1 4h1m-1 1h1m-1 7h1m-1 2h1m-1 5h1m-1 1h1m-1 5h1m-1 6h1m-1 3h1m-1 1h1m-1 1h1m-1 6h1m-1 5h1m-1 9h1m0-75h1m-1 3h1m-1 2h1m-1 2h1m-1 1h1m-1 4h1m-1 2h1m-1 1h1m-1 1h1m-1 1h1m-1 1h1m-1 2h1m-1 1h1m-1 1h1m-1 2h1m-1 4h1m-1 3h1m-1 2h1m-1 2h1m-1 9h1m-1 2h1m-1 2h1m-1 1h1m-1 1h1m-1 6h1m-1 1h1m-1 1h1m-1 4h1m-1 3h1m-1 1h1m0-67h1m-1 3h1m-1 1h1m-1 5h1m-1 2h1m-1 1h1m-1 2h1m-1 1h1m-1 2h1m-1 1h1m-1 1h1m-1 2h1m-1 9h1m-1 4h1m-1 10h1m-1 7h1m-1 3h1m-1 10h1m-1 1h1m-1 1h1m-1 1h1m-1 7h1m-1 1h1m-1 1h1m-1 6h1m0-78h1m-1 2h1m-1 1h1m-1 1h1m-1 1h1m-1 1h1m-1 5h1m-1 1h1m-1 2h1m-1 5h1m-1 1h1m-1 1h1m-1 1h1m-1 1h1m-1 5h1m-1 3h1m-1 3h1m-1 2h1m-1 3h1m-1 3h1m-1 3h1m-1 2h1m-1 5h1m-1 1h1m-1 7h1m-1 16h1m0-83h1m-1 11h1m-1 2h1m-1 1h1m-1 4h1m-1 3h1m-1 2h1m-1 2h1m-1 2h1m-1 2h1m-1 5h1m-1 2h1m-1 1h1m-1 14h1m-1 1h1m-1 7h1m-1 8h1m-1 9h1m0-75h1m-1 10h1m-1 1h1m-1 7h1m-1 1h1m-1 1h1m-1 1h1m-1 7h1m-1 4h1m-1 1h1m-1 6h1m-1 2h1m-1 6h1m-1 6h1m-1 4h1m-1 1h1m-1 1h1m-1 1h1m0-57h1m-1 9h1m-1 2h1m-1 1h1m-1 6h1m-1 2h1m-1 1h1m-1 17h1m-1 4h1m-1 12h1m-1 1h1m-1 1h1m-1 1h1m-1 9h1m0-63h1m-1 3h1m-1 2h1m-1 4h1m-1 1h1m-1 3h1m-1 1h1m-1 2h1m-1 6h1m-1 8h1m-1 6h1m-1 1h1m-1 4h1m-1 1h1m-1 2h1m-1 4h1m-1 1h1m-1 1h1m-1 2h1m-1 2h1m-1 2h1m-1 1h1m-1 2h1m-1 11h1m0-72h1m-1 1h1m-1 6h1m-1 1h1m-1 1h1m-1 2h1m-1 7h1m-1 3h1m-1 10h1m-1 1h1m-1 3h1m-1 1h1m-1 1h1m-1 6h1m-1 2h1m-1 18h1m-1 5h1m0-77h1m-1 6h1m-1 5h1m-1 8h1m-1 3h1m-1 3h1m-1 9h1m-1 3h1m-1 6h1m-1 9h1m-1 4h1m-1 6h1m-1 1h1m-1 47h1m-1 3h1m0-80h1m-1 11h1m-1 3h1m-1 14h1m-1 11h1m-1 6h1m-1 13h1m-1 16h1m0-107h1m-1 14h1m-1 19h1m-1 4h1m-1 9h1m-1 1h1m-1 1h1m-1 6h1m-1 3h1m-1 4h1m-1 1h1m-1 19h1m-1 19h1m0-96h1m-1 10h1m-1 3h1m-1 4h1m-1 11h1m-1 16h1m-1 11h1m-1 1h1m-1 3h1m0-53h1m-1 5h1m-1 7h1m-1 3h1m-1 5h1m-1 31h1m-1 5h1m-1 7h1m0-73h1m-1 29h1m-1 8h1m-1 6h1m-1 1h1m-1 2h1m-1 1h1m-1 1h1m-1 4h1m-1 7h1m-1 8h1m-1 4h1m-1 4h1m0-56h1m-1 4h1m-1 15h1m-1 4h1m-1 8h1m-1 19h1m-1 1h1m-1 3h1m0-64h1m-1 9h1m-1 15h1m-1 3h1m-1 6h1m-1 4h1m-1 6h1m-1 1h1m-1 47h1m0-75h1m-1 8h1m-1 29h1m-1 17h1m0-55h1m-1 34h1m-1 1h1m-1 3h1m0-35h1m-1 17h1m-1 8h1m-1 21h1m-1 3h1m-1 23h1m-1 7h1m0-100h1m-1 28h1m-1 8h1m-1 10h1m-1 3h1m-1 12h1m-1 12h1m0-31h1m-1 4h1m-1 12h1m0-14h1m-1 18h1m0-16h1m-1 4h1m-1 51h1m-1 6h1m0-41h1m0-72h1m-1 23h1m-1 12h1m-1 10h1m-1 11h1m-1 17h1m0-70h1m-1 44h1m0-6h1m-1 18h1m0-42h1m-1 10h1m-1 10h1m0-10h1m-1 16h1m-1 4h1m-1 11h1m0-45h1m-1 23h1m-1 2h1m-1 7h1m0-7h1m-1 13h1m-1 11h1m0-35h1m-1 14h1m-1 52h1m-1 19h1m1-99h1m-1 26h1m-1 8h1m-1 53h1m0-93h1m-1 47h1m0-54h1m-1 18h1m-1 42h1m-1 2h1m0-18h1m-1 7h1m-1 4h1m0 27h1m0-62h1m0 25h1m-1 40h1m0-10h1m0-25h1m-1 4h1m1-21h1m-1 12h1m0-40h1m-1 31h1m-1 12h1m1-48h1m-1 36h1m3-27h1m0 104h1m0-68h1m-1 1h1m-1 7h1m0 60h1m0-43h1m0-6h1m2-33h1m2-9h1m-1 9h1m-1 1h1m-1 10h1m-1 35h1m-1 1h1" stroke="#000" stroke-opacity="0.75" stroke-width="1.8" fill="none" filter="url(#bl)"/>
</g>
<rect x="445.8" y="370.0" width="59.5" height="58.8" fill="none" stroke="#999" stroke-width="0.8"/>
<line x1="447.8" y1="429.2" x2="504.3" y2="429.2" stroke="#555" stroke-width="1.0" stroke-dasharray="1 5.35 .6 2.98 .6 2.08 .6 1.66"/>
<line x1="445.4" y1="426.8" x2="445.4" y2="371.0" stroke="#555" stroke-width="1.0" stroke-dasharray="1 5.35 .6 2.98 .6 2.08 .6 1.66"/>
<line x1="478.4" y1="370.0" x2="478.4" y2="428.8" stroke="#000" stroke-width="0.7" stroke-opacity=".55"/>
<line x1="445.8" y1="390.5" x2="505.3" y2="390.5" stroke="#000" stroke-width="0.7" stroke-opacity=".55"/>
<text x="447.8" y="374.2" font-size="3.2" text-anchor="start" font-weight="normal" fill="#333" >30.13%</text>
<text x="503.3" y="374.2" font-size="3.2" text-anchor="end" font-weight="normal" fill="#333" >1.67%</text>
<text x="447.8" y="427.0" font-size="3.2" text-anchor="start" font-weight="normal" fill="#333" >59.47%</text>
<text x="503.3" y="427.0" font-size="3.2" text-anchor="end" font-weight="normal" fill="#333" >3.69%</text>
<line x1="367.3" y1="411.0" x2="367.3" y2="439.2" stroke="#444" stroke-width="0.8" />
<line x1="367.3" y1="439.2" x2="402.7" y2="439.2" stroke="#444" stroke-width="0.8" />
<text x="365.3" y="437.7" font-size="5.6" text-anchor="start" font-weight="normal" fill="#222" transform="rotate(-90 365.3 437.7)" >CD8&#945;</text>
<text x="368.8" y="447.2" font-size="6.8" text-anchor="start" font-weight="normal" fill="#222" textLength="11.5" lengthAdjust="spacingAndGlyphs">CD4</text>
<text x="3.5" y="513.0" font-size="14" text-anchor="start" font-weight="bold" fill="#000" >G</text>
<text x="32.7" y="525.3" font-size="9.5" text-anchor="start" font-weight="bold" fill="#000" >Non-GVHD CD11c<tspan dy="-2.5" font-size="6">+</tspan><tspan dy="2.5" font-size="1">&#8203;</tspan></text>
<text x="142.8" y="525.3" font-size="9.5" text-anchor="start" font-weight="bold" fill="#000" >GVHD CD11c<tspan dy="-2.5" font-size="6">+</tspan><tspan dy="2.5" font-size="1">&#8203;</tspan></text>
<clipPath id="c317"><rect x="29.6" y="533.7" width="89.2" height="88.8"/></clipPath>
<g clip-path="url(#c317)">
<ellipse cx="96.3" cy="548.8" rx="12.0" ry="8.7" transform="rotate(125 96.3 548.8)" fill="url(#gg)" fill-opacity="0.62"/>
<ellipse cx="64.5" cy="573.0" rx="16.8" ry="8.8" transform="rotate(126 64.5 573.0)" fill="url(#gg)" fill-opacity="0.85"/>
<path transform="scale(.5)" d="M63 1171h1m1-27h1m-1 10h1m-1 13h1m0-8h1m-1 2h1m0 26h1m1-39h1m0 13h1m-1 33h1m0-39h1m0 3h1m-1 3h1m-1 2h1m-1 19h1m-1 10h1m0-49h1m-1 17h1m0-26h1m-1 20h1m-1 1h1m-1 5h1m-1 4h1m-1 49h1m0-71h1m-1 7h1m-1 7h1m-1 8h1m-1 34h1m0-77h1m-1 49h1m-1 22h1m0-60h1m-1 30h1m-1 13h1m1-7h1m0-30h1m-1 14h1m-1 7h1m-1 2h1m0-24h1m-1 22h1m-1 7h1m-1 3h1m-1 63h1m0-96h1m-1 7h1m-1 18h1m0-45h1m-1 35h1m-1 30h1m0-57h1m-1 29h1m0-14h1m-1 9h1m-1 9h1m-1 9h1m0-23h1m-1 13h1m-1 32h1m0-47h1m-1 16h1m-1 4h1m-1 22h1m0-48h1m-1 8h1m-1 9h1m-1 5h1m-1 7h1m-1 6h1m0-35h1m0 6h1m-1 18h1m-1 34h1m0-64h1m-1 19h1m-1 1h1m-1 16h1m-1 4h1m0-31h1m-1 7h1m-1 2h1m-1 11h1m-1 4h1m-1 13h1m0-34h1m-1 22h1m-1 10h1m-1 5h1m-1 4h1m-1 1h1m-1 6h1m0-54h1m-1 4h1m-1 11h1m-1 9h1m-1 7h1m0-32h1m-1 1h1m-1 6h1m-1 4h1m-1 14h1m-1 5h1m-1 4h1m-1 10h1m0-38h1m-1 1h1m-1 8h1m-1 1h1m-1 2h1m-1 5h1m-1 47h1m0-64h1m-1 3h1m-1 12h1m-1 3h1m-1 5h1m-1 22h1m0-54h1m-1 20h1m-1 2h1m-1 1h1m-1 1h1m-1 5h1m-1 5h1m0-34h1m-1 14h1m-1 2h1m-1 1h1m-1 2h1m-1 3h1m-1 4h1m-1 7h1m-1 1h1m-1 5h1m-1 1h1m-1 4h1m-1 7h1m0-45h1m-1 3h1m-1 4h1m-1 7h1m-1 1h1m-1 3h1m-1 2h1m-1 1h1m-1 1h1m-1 1h1m-1 1h1m-1 7h1m0-47h1m-1 5h1m-1 10h1m-1 2h1m-1 3h1m-1 8h1m-1 2h1m-1 3h1m-1 1h1m-1 7h1m-1 2h1m-1 2h1m-1 2h1m0-37h1m-1 3h1m-1 3h1m-1 1h1m-1 7h1m-1 10h1m-1 3h1m-1 6h1m-1 4h1m-1 5h1m-1 1h1m-1 7h1m-1 7h1m0-68h1m-1 5h1m-1 5h1m-1 14h1m-1 3h1m-1 1h1m-1 1h1m-1 5h1m-1 3h1m-1 7h1m-1 1h1m-1 4h1m-1 1h1m-1 5h1m-1 5h1m0-62h1m-1 12h1m-1 8h1m-1 8h1m-1 8h1m-1 3h1m-1 23h1m0-46h1m-1 6h1m-1 5h1m-1 4h1m-1 1h1m-1 1h1m-1 9h1m-1 2h1m-1 1h1m-1 1h1m-1 1h1m-1 6h1m-1 2h1m-1 2h1m0-54h1m-1 11h1m-1 6h1m-1 2h1m-1 4h1m-1 3h1m-1 8h1m-1 1h1m-1 1h1m-1 3h1m-1 1h1m-1 7h1m-1 4h1m-1 1h1m0-38h1m-1 1h1m-1 6h1m-1 1h1m-1 2h1m-1 1h1m-1 4h1m-1 3h1m-1 1h1m-1 2h1m-1 1h1m-1 1h1m-1 1h1m-1 3h1m-1 1h1m-1 4h1m0-42h1m-1 10h1m-1 1h1m-1 5h1m-1 8h1m-1 1h1m-1 6h1m-1 2h1m-1 2h1m-1 1h1m-1 1h1m-1 1h1m-1 2h1m-1 6h1m-1 2h1m-1 5h1m-1 6h1m0-40h1m-1 13h1m-1 1h1m-1 2h1m-1 3h1m-1 5h1m-1 5h1m-1 10h1m-1 10h1m0-60h1m-1 1h1m-1 13h1m-1 1h1m-1 1h1m-1 1h1m-1 1h1m-1 2h1m-1 2h1m-1 3h1m-1 1h1m-1 2h1m-1 1h1m-1 2h1m-1 2h1m-1 7h1m0-60h1m-1 15h1m-1 1h1m-1 3h1m-1 1h1m-1 12h1m-1 3h1m-1 4h1m-1 3h1m-1 2h1m-1 1h1m-1 2h1m-1 3h1m-1 4h1m-1 1h1m-1 1h1m-1 1h1m-1 8h1m-1 2h1m-1 14h1m0-68h1m-1 4h1m-1 1h1m-1 8h1m-1 7h1m-1 1h1m-1 2h1m-1 3h1m-1 3h1m-1 3h1m-1 1h1m-1 1h1m-1 10h1m-1 12h1m-1 20h1m0-75h1m-1 12h1m-1 5h1m-1 4h1m-1 1h1m-1 1h1m-1 1h1m-1 1h1m-1 1h1m-1 3h1m-1 1h1m-1 9h1m-1 26h1m0-54h1m-1 1h1m-1 2h1m-1 1h1m-1 4h1m-1 2h1m-1 1h1m-1 5h1m-1 4h1m-1 3h1m-1 1h1m-1 1h1m-1 4h1m-1 3h1m-1 2h1m-1 2h1m-1 32h1m0-80h1m-1 2h1m-1 7h1m-1 3h1m-1 5h1m-1 2h1m-1 2h1m-1 3h1m-1 4h1m-1 3h1m-1 2h1m-1 1h1m-1 1h1m-1 6h1m-1 1h1m-1 1h1m-1 7h1m0-41h1m-1 2h1m-1 3h1m-1 3h1m-1 1h1m-1 1h1m-1 1h1m-1 2h1m-1 1h1m-1 2h1m-1 1h1m-1 2h1m-1 1h1m-1 1h1m-1 1h1m-1 1h1m-1 1h1m-1 1h1m-1 1h1m-1 2h1m-1 2h1m-1 2h1m-1 2h1m-1 1h1m-1 1h1m-1 3h1m-1 1h1m0-44h1m-1 2h1m-1 3h1m-1 4h1m-1 1h1m-1 2h1m-1 1h1m-1 4h1m-1 1h1m-1 1h1m-1 1h1m-1 1h1m-1 1h1m-1 3h1m-1 2h1m-1 1h1m-1 1h1m-1 1h1m-1 2h1m-1 1h1m-1 1h1m-1 1h1m-1 3h1m-1 2h1m-1 4h1m0-101h1m-1 31h1m-1 19h1m-1 3h1m-1 1h1m-1 3h1m-1 1h1m-1 3h1m-1 3h1m-1 1h1m-1 1h1m-1 3h1m-1 3h1m-1 1h1m-1 3h1m-1 1h1m-1 3h1m-1 1h1m-1 1h1m-1 1h1m-1 1h1m-1 1h1m-1 1h1m-1 2h1m-1 1h1m-1 1h1m-1 1h1m-1 1h1m-1 2h1m-1 2h1m-1 4h1m-1 1h1m-1 5h1m-1 19h1m0-80h1m-1 5h1m-1 8h1m-1 3h1m-1 1h1m-1 1h1m-1 1h1m-1 1h1m-1 1h1m-1 1h1m-1 1h1m-1 3h1m-1 1h1m-1 2h1m-1 1h1m-1 1h1m-1 2h1m-1 1h1m-1 1h1m-1 1h1m-1 1h1m-1 1h1m-1 3h1m-1 1h1m-1 2h1m-1 1h1m-1 1h1m-1 1h1m-1 7h1m-1 7h1m0-58h1m-1 5h1m-1 3h1m-1 2h1m-1 2h1m-1 4h1m-1 3h1m-1 1h1m-1 2h1m-1 1h1m-1 4h1m-1 1h1m-1 1h1m-1 1h1m-1 1h1m-1 2h1m-1 1h1m-1 2h1m-1 1h1m-1 4h1m-1 3h1m-1 5h1m0-39h1m-1 4h1m-1 2h1m-1 1h1m-1 1h1m-1 2h1m-1 1h1m-1 1h1m-1 1h1m-1 1h1m-1 1h1m-1 3h1m-1 1h1m-1 1h1m-1 1h1m-1 1h1m-1 2h1m-1 1h1m-1 1h1m-1 1h1m-1 1h1m-1 6h1m-1 1h1m-1 1h1m-1 2h1m-1 3h1m-1 24h1m0-78h1m-1 3h1m-1 5h1m-1 3h1m-1 1h1m-1 2h1m-1 4h1m-1 1h1m-1 2h1m-1 1h1m-1 1h1m-1 1h1m-1 1h1m-1 3h1m-1 1h1m-1 2h1m-1 1h1m-1 1h1m-1 1h1m-1 1h1m-1 1h1m-1 1h1m-1 1h1m-1 1h1m-1 2h1m-1 3h1m-1 3h1m-1 2h1m0-45h1m-1 6h1m-1 2h1m-1 1h1m-1 5h1m-1 4h1m-1 1h1m-1 2h1m-1 2h1m-1 1h1m-1 1h1m-1 2h1m-1 1h1m-1 2h1m-1 3h1m-1 2h1m-1 4h1m-1 1h1m-1 1h1m-1 3h1m-1 9h1m-1 12h1m0-83h1m-1 18h1m-1 2h1m-1 6h1m-1 1h1m-1 1h1m-1 1h1m-1 1h1m-1 1h1m-1 3h1m-1 1h1m-1 1h1m-1 2h1m-1 1h1m-1 1h1m-1 2h1m-1 1h1m-1 1h1m-1 1h1m-1 1h1m-1 1h1m-1 1h1m-1 2h1m-1 1h1m-1 1h1m-1 1h1m-1 2h1m-1 4h1m-1 1h1m-1 2h1m-1 1h1m-1 2h1m-1 3h1m0-53h1m-1 3h1m-1 5h1m-1 1h1m-1 3h1m-1 2h1m-1 2h1m-1 1h1m-1 1h1m-1 2h1m-1 1h1m-1 1h1m-1 1h1m-1 1h1m-1 1h1m-1 1h1m-1 1h1m-1 1h1m-1 1h1m-1 1h1m-1 1h1m-1 2h1m-1 1h1m-1 1h1m-1 1h1m-1 1h1m-1 1h1m-1 2h1m-1 1h1m-1 1h1m-1 1h1m-1 1h1m-1 2h1m-1 1h1m-1 1h1m0-52h1m-1 12h1m-1 2h1m-1 2h1m-1 1h1m-1 1h1m-1 1h1m-1 2h1m-1 2h1m-1 1h1m-1 1h1m-1 1h1m-1 1h1m-1 1h1m-1 2h1m-1 1h1m-1 1h1m-1 1h1m-1 1h1m-1 3h1m-1 1h1m-1 1h1m-1 1h1m-1 1h1m-1 1h1m-1 1h1m-1 1h1m-1 1h1m-1 1h1m-1 1h1m-1 2h1m-1 1h1m-1 2h1m-1 3h1m-1 1h1m0-62h1m-1 12h1m-1 1h1m-1 5h1m-1 1h1m-1 3h1m-1 2h1m-1 1h1m-1 2h1m-1 1h1m-1 1h1m-1 1h1m-1 1h1m-1 1h1m-1 1h1m-1 1h1m-1 1h1m-1 1h1m-1 1h1m-1 1h1m-1 1h1m-1 1h1m-1 1h1m-1 1h1m-1 1h1m-1 2h1m-1 1h1m-1 1h1m-1 2h1m-1 1h1m-1 2h1m-1 2h1m-1 4h1m-1 1h1m-1 2h1m-1 25h1m0-74h1m-1 1h1m-1 9h1m-1 1h1m-1 4h1m-1 1h1m-1 1h1m-1 2h1m-1 1h1m-1 1h1m-1 1h1m-1 1h1m-1 1h1m-1 1h1m-1 1h1m-1 1h1m-1 1h1m-1 1h1m-1 1h1m-1 1h1m-1 2h1m-1 3h1m-1 2h1m-1 1h1m-1 1h1m-1 1h1m-1 2h1m-1 4h1m-1 8h1m0-54h1m-1 4h1m-1 1h1m-1 3h1m-1 2h1m-1 2h1m-1 2h1m-1 2h1m-1 1h1m-1 1h1m-1 1h1m-1 1h1m-1 1h1m-1 1h1m-1 1h1m-1 1h1m-1 1h1m-1 1h1m-1 1h1m-1 1h1m-1 1h1m-1 1h1m-1 1h1m-1 1h1m-1 1h1m-1 1h1m-1 1h1m-1 1h1m-1 2h1m-1 1h1m-1 3h1m-1 37h1m0-78h1m-1 3h1m-1 1h1m-1 1h1m-1 1h1m-1 2h1m-1 1h1m-1 1h1m-1 1h1m-1 1h1m-1 1h1m-1 1h1m-1 1h1m-1 1h1m-1 1h1m-1 2h1m-1 1h1m-1 1h1m-1 1h1m-1 1h1m-1 1h1m-1 1h1m-1 1h1m-1 1h1m-1 1h1m-1 1h1m-1 1h1m-1 2h1m-1 1h1m-1 2h1m-1 2h1m-1 6h1m-1 8h1m0-65h1m-1 15h1m-1 2h1m-1 3h1m-1 1h1m-1 3h1m-1 1h1m-1 1h1m-1 1h1m-1 1h1m-1 1h1m-1 2h1m-1 1h1m-1 1h1m-1 1h1m-1 2h1m-1 1h1m-1 1h1m-1 1h1m-1 1h1m-1 1h1m-1 1h1m-1 5h1m-1 1h1m-1 3h1m-1 1h1m-1 1h1m-1 3h1m-1 3h1m0-53h1m-1 11h1m-1 2h1m-1 2h1m-1 2h1m-1 1h1m-1 1h1m-1 1h1m-1 2h1m-1 1h1m-1 1h1m-1 1h1m-1 1h1m-1 1h1m-1 1h1m-1 1h1m-1 1h1m-1 1h1m-1 1h1m-1 1h1m-1 3h1m-1 2h1m-1 1h1m-1 4h1m-1 3h1m-1 2h1m-1 3h1m-1 9h1m0-59h1m-1 3h1m-1 2h1m-1 4h1m-1 3h1m-1 1h1m-1 1h1m-1 2h1m-1 1h1m-1 1h1m-1 1h1m-1 1h1m-1 1h1m-1 1h1m-1 1h1m-1 1h1m-1 1h1m-1 1h1m-1 1h1m-1 1h1m-1 1h1m-1 1h1m-1 1h1m-1 1h1m-1 2h1m-1 1h1m-1 1h1m-1 2h1m-1 1h1m-1 1h1m-1 1h1m-1 1h1m-1 1h1m-1 1h1m-1 1h1m-1 3h1m0-48h1m-1 3h1m-1 3h1m-1 7h1m-1 1h1m-1 1h1m-1 1h1m-1 1h1m-1 1h1m-1 1h1m-1 1h1m-1 1h1m-1 1h1m-1 1h1m-1 1h1m-1 1h1m-1 1h1m-1 1h1m-1 1h1m-1 1h1m-1 1h1m-1 2h1m-1 1h1m-1 1h1m-1 1h1m-1 1h1m-1 1h1m-1 5h1m-1 2h1m-1 1h1m-1 3h1m-1 2h1m0-59h1m-1 15h1m-1 4h1m-1 1h1m-1 1h1m-1 3h1m-1 1h1m-1 1h1m-1 1h1m-1 1h1m-1 1h1m-1 2h1m-1 1h1m-1 1h1m-1 2h1m-1 1h1m-1 1h1m-1 1h1m-1 1h1m-1 1h1m-1 1h1m-1 2h1m-1 1h1m-1 1h1m-1 2h1m-1 5h1m-1 1h1m-1 12h1m-1 5h1m0-56h1m-1 2h1m-1 2h1m-1 1h1m-1 4h1m-1 4h1m-1 3h1m-1 1h1m-1 1h1m-1 1h1m-1 1h1m-1 2h1m-1 2h1m-1 1h1m-1 2h1m-1 1h1m-1 1h1m-1 1h1m-1 1h1m-1 1h1m-1 1h1m-1 5h1m-1 1h1m-1 1h1m-1 2h1m-1 10h1m-1 4h1m0-56h1m-1 2h1m-1 2h1m-1 1h1m-1 2h1m-1 1h1m-1 2h1m-1 2h1m-1 1h1m-1 2h1m-1 1h1m-1 1h1m-1 2h1m-1 1h1m-1 1h1m-1 1h1m-1 1h1m-1 1h1m-1 1h1m-1 1h1m-1 1h1m-1 2h1m-1 3h1m-1 1h1m-1 1h1m-1 1h1m-1 3h1m-1 2h1m0-70h1m-1 24h1m-1 4h1m-1 1h1m-1 2h1m-1 1h1m-1 5h1m-1 1h1m-1 1h1m-1 2h1m-1 1h1m-1 1h1m-1 1h1m-1 1h1m-1 1h1m-1 1h1m-1 1h1m-1 1h1m-1 2h1m-1 1h1m-1 2h1m-1 1h1m-1 2h1m-1 3h1m-1 1h1m-1 2h1m-1 1h1m-1 3h1m-1 4h1m-1 4h1m-1 7h1m0-95h1m-1 7h1m-1 27h1m-1 5h1m-1 4h1m-1 2h1m-1 2h1m-1 1h1m-1 2h1m-1 1h1m-1 2h1m-1 1h1m-1 2h1m-1 1h1m-1 1h1m-1 1h1m-1 1h1m-1 1h1m-1 2h1m-1 1h1m-1 1h1m-1 3h1m-1 1h1m-1 2h1m-1 1h1m-1 2h1m-1 2h1m0-38h1m-1 4h1m-1 2h1m-1 3h1m-1 1h1m-1 1h1m-1 2h1m-1 1h1m-1 1h1m-1 1h1m-1 2h1m-1 2h1m-1 1h1m-1 2h1m-1 1h1m-1 1h1m-1 2h1m-1 5h1m-1 2h1m-1 2h1m-1 1h1m-1 2h1m0-35h1m-1 1h1m-1 1h1m-1 4h1m-1 3h1m-1 2h1m-1 2h1m-1 3h1m-1 1h1m-1 1h1m-1 1h1m-1 1h1m-1 1h1m-1 1h1m-1 1h1m-1 1h1m-1 1h1m-1 4h1m-1 1h1m-1 3h1m-1 1h1m0-36h1m-1 4h1m-1 4h1m-1 3h1m-1 2h1m-1 1h1m-1 1h1m-1 1h1m-1 2h1m-1 1h1m-1 1h1m-1 2h1m-1 1h1m-1 1h1m-1 2h1m-1 3h1m-1 1h1m-1 1h1m-1 1h1m-1 1h1m-1 11h1m0-45h1m-1 2h1m-1 4h1m-1 1h1m-1 8h1m-1 1h1m-1 3h1m-1 1h1m-1 1h1m-1 1h1m-1 1h1m-1 1h1m-1 1h1m-1 1h1m-1 1h1m-1 3h1m-1 2h1m-1 14h1m-1 35h1m0-80h1m-1 4h1m-1 4h1m-1 3h1m-1 4h1m-1 1h1m-1 2h1m-1 5h1m-1 3h1m-1 3h1m-1 1h1m-1 2h1m-1 1h1m-1 1h1m0-29h1m-1 2h1m-1 3h1m-1 1h1m-1 2h1m-1 5h1m-1 5h1m-1 3h1m-1 5h1m-1 3h1m-1 1h1m0-50h1m-1 8h1m-1 1h1m-1 12h1m-1 1h1m-1 1h1m-1 14h1m-1 1h1m-1 11h1m-1 4h1m0-85h1m-1 45h1m-1 12h1m-1 2h1m-1 3h1m-1 1h1m-1 2h1m-1 3h1m-1 1h1m-1 4h1m-1 3h1m-1 18h1m-1 34h1m0-79h1m-1 3h1m-1 3h1m-1 1h1m-1 1h1m-1 3h1m-1 7h1m-1 2h1m-1 7h1m-1 1h1m-1 1h1m0-25h1m-1 1h1m-1 4h1m-1 1h1m-1 7h1m-1 1h1m-1 1h1m-1 9h1m-1 6h1m-1 2h1m-1 12h1m-1 6h1m0-55h1m-1 4h1m-1 3h1m-1 2h1m-1 3h1m-1 1h1m-1 5h1m-1 2h1m-1 5h1m-1 15h1m0-37h1m-1 3h1m-1 9h1m-1 3h1m-1 1h1m0-31h1m-1 18h1m-1 1h1m-1 4h1m-1 3h1m-1 4h1m-1 7h1m-1 30h1m-1 3h1m0-43h1m-1 4h1m-1 1h1m-1 10h1m-1 18h1m0-46h1m-1 6h1m-1 1h1m-1 7h1m-1 7h1m-1 16h1m-1 14h1m0-79h1m-1 26h1m-1 21h1m-1 8h1m-1 3h1m-1 2h1m-1 55h1m0-86h1m-1 3h1m-1 1h1m-1 2h1m-1 17h1m-1 9h1m0-81h1m-1 21h1m-1 21h1m-1 1h1m-1 11h1m-1 14h1m-1 15h1m0-74h1m0 43h1m-1 1h1m-1 3h1m0-11h1m-1 1h1m-1 34h1m0-49h1m-1 7h1m-1 7h1m-1 16h1m-1 2h1m-1 33h1m0-48h1m0-7h1m0 40h1m0-59h1m-1 20h1m0-19h1m-1 4h1m0 4h1m-1 12h1m-1 4h1m-1 28h1m0 10h1m0-60h1m-1 50h1m0 11h1m0-42h1m-1 27h1m-1 66h1m0-109h1m0-7h1m-1 9h1m0-2h1m-1 2h1m-1 2h1m-1 3h1m-1 53h1m0-60h1m-1 13h1m-1 4h1m-1 16h1m0-48h1m-1 5h1m-1 18h1m-1 4h1m-1 9h1m-1 13h1m0-48h1m-1 2h1m-1 6h1m-1 1h1m-1 1h1m-1 13h1m-1 2h1m0-32h1m-1 6h1m-1 5h1m-1 6h1m-1 2h1m-1 5h1m-1 2h1m-1 1h1m-1 1h1m-1 3h1m0-41h1m-1 4h1m-1 13h1m-1 4h1m-1 5h1m-1 2h1m-1 3h1m-1 2h1m-1 2h1m-1 2h1m-1 1h1m-1 2h1m-1 2h1m-1 55h1m0-79h1m-1 2h1m-1 1h1m-1 1h1m-1 2h1m-1 2h1m-1 1h1m-1 3h1m-1 1h1m-1 1h1m-1 1h1m-1 4h1m-1 1h1m-1 7h1m-1 7h1m-1 34h1m0-76h1m-1 8h1m-1 8h1m-1 7h1m-1 1h1m-1 1h1m-1 1h1m-1 1h1m-1 2h1m-1 1h1m-1 3h1m-1 2h1m0-44h1m-1 9h1m-1 5h1m-1 3h1m-1 1h1m-1 2h1m-1 2h1m-1 5h1m-1 2h1m-1 6h1m-1 13h1m0-37h1m-1 5h1m-1 4h1m-1 3h1m-1 1h1m-1 2h1m-1 2h1m-1 1h1m-1 3h1m-1 1h1m-1 3h1m-1 2h1m-1 1h1m-1 8h1m-1 16h1m0-51h1m-1 6h1m-1 4h1m-1 2h1m-1 3h1m-1 3h1m-1 1h1m-1 3h1m-1 1h1m-1 1h1m-1 1h1m-1 3h1m-1 7h1m-1 19h1m0-62h1m-1 10h1m-1 1h1m-1 1h1m-1 2h1m-1 5h1m-1 1h1m-1 1h1m-1 1h1m-1 4h1m-1 2h1m-1 1h1m-1 1h1m-1 3h1m-1 2h1m-1 1h1m-1 1h1m-1 4h1m-1 2h1m0-46h1m-1 11h1m-1 1h1m-1 2h1m-1 2h1m-1 2h1m-1 2h1m-1 1h1m-1 2h1m-1 1h1m-1 2h1m-1 1h1m-1 3h1m-1 2h1m-1 1h1m-1 1h1m-1 1h1m-1 1h1m-1 1h1m-1 2h1m-1 3h1m-1 1h1m-1 1h1m-1 7h1m0-48h1m-1 9h1m-1 2h1m-1 3h1m-1 2h1m-1 4h1m-1 1h1m-1 1h1m-1 1h1m-1 2h1m-1 1h1m-1 1h1m-1 2h1m-1 1h1m-1 1h1m-1 4h1m-1 4h1m0-31h1m-1 2h1m-1 3h1m-1 1h1m-1 1h1m-1 2h1m-1 1h1m-1 1h1m-1 1h1m-1 1h1m-1 1h1m-1 1h1m-1 1h1m-1 1h1m-1 2h1m-1 1h1m-1 1h1m-1 1h1m-1 2h1m-1 1h1m-1 1h1m-1 2h1m-1 1h1m-1 5h1m0-44h1m-1 14h1m-1 1h1m-1 1h1m-1 1h1m-1 1h1m-1 3h1m-1 1h1m-1 2h1m-1 1h1m-1 1h1m-1 1h1m-1 1h1m-1 2h1m-1 1h1m-1 1h1m-1 1h1m-1 1h1m-1 1h1m-1 1h1m-1 3h1m-1 1h1m-1 2h1m-1 6h1m0-45h1m-1 1h1m-1 1h1m-1 3h1m-1 4h1m-1 2h1m-1 1h1m-1 1h1m-1 1h1m-1 1h1m-1 1h1m-1 1h1m-1 1h1m-1 1h1m-1 1h1m-1 1h1m-1 1h1m-1 1h1m-1 1h1m-1 1h1m-1 1h1m-1 1h1m-1 1h1m-1 2h1m-1 2h1m-1 1h1m-1 1h1m-1 1h1m0-35h1m-1 5h1m-1 1h1m-1 1h1m-1 2h1m-1 2h1m-1 2h1m-1 1h1m-1 1h1m-1 1h1m-1 1h1m-1 1h1m-1 1h1m-1 1h1m-1 1h1m-1 1h1m-1 1h1m-1 1h1m-1 1h1m-1 1h1m-1 2h1m-1 2h1m-1 1h1m-1 1h1m-1 1h1m-1 2h1m-1 2h1m-1 1h1m-1 1h1m0-35h1m-1 2h1m-1 1h1m-1 2h1m-1 1h1m-1 1h1m-1 2h1m-1 1h1m-1 2h1m-1 2h1m-1 1h1m-1 2h1m-1 1h1m-1 1h1m-1 1h1m-1 1h1m-1 1h1m-1 1h1m-1 1h1m-1 2h1m-1 1h1m-1 1h1m-1 3h1m-1 1h1m0-37h1m-1 9h1m-1 1h1m-1 1h1m-1 3h1m-1 1h1m-1 2h1m-1 1h1m-1 1h1m-1 2h1m-1 1h1m-1 1h1m-1 1h1m-1 1h1m-1 1h1m-1 1h1m-1 1h1m-1 1h1m-1 1h1m-1 1h1m-1 4h1m-1 2h1m-1 1h1m-1 4h1m-1 1h1m0-39h1m-1 4h1m-1 2h1m-1 1h1m-1 1h1m-1 2h1m-1 1h1m-1 1h1m-1 1h1m-1 1h1m-1 1h1m-1 1h1m-1 1h1m-1 1h1m-1 1h1m-1 1h1m-1 4h1m-1 1h1m-1 4h1m-1 1h1m-1 2h1m-1 4h1m-1 93h1m0-136h1m-1 7h1m-1 1h1m-1 2h1m-1 3h1m-1 2h1m-1 1h1m-1 1h1m-1 1h1m-1 1h1m-1 1h1m-1 1h1m-1 1h1m-1 1h1m-1 1h1m-1 1h1m-1 1h1m-1 1h1m-1 1h1m-1 1h1m-1 1h1m-1 1h1m-1 3h1m-1 1h1m-1 1h1m-1 39h1m0-69h1m-1 7h1m-1 3h1m-1 4h1m-1 1h1m-1 1h1m-1 1h1m-1 1h1m-1 1h1m-1 1h1m-1 1h1m-1 4h1m-1 1h1m-1 1h1m-1 3h1m-1 3h1m-1 4h1m0-39h1m-1 2h1m-1 2h1m-1 6h1m-1 1h1m-1 1h1m-1 1h1m-1 1h1m-1 1h1m-1 2h1m-1 2h1m-1 1h1m-1 1h1m-1 1h1m-1 2h1m-1 1h1m-1 1h1m-1 1h1m-1 2h1m-1 1h1m-1 6h1m-1 2h1m0-43h1m-1 7h1m-1 3h1m-1 3h1m-1 5h1m-1 1h1m-1 1h1m-1 2h1m-1 1h1m-1 1h1m-1 1h1m-1 1h1m-1 1h1m-1 1h1m-1 1h1m-1 4h1m-1 4h1m-1 1h1m-1 1h1m-1 1h1m-1 1h1m-1 2h1m0-35h1m-1 2h1m-1 3h1m-1 1h1m-1 4h1m-1 2h1m-1 1h1m-1 2h1m-1 2h1m-1 2h1m-1 1h1m-1 2h1m-1 11h1m-1 1h1m-1 1h1m-1 4h1m0-46h1m-1 1h1m-1 3h1m-1 9h1m-1 4h1m-1 1h1m-1 2h1m-1 1h1m-1 1h1m-1 1h1m-1 1h1m-1 1h1m-1 1h1m-1 1h1m-1 1h1m-1 1h1m-1 1h1m-1 1h1m-1 1h1m-1 1h1m-1 8h1m-1 1h1m0-35h1m-1 6h1m-1 1h1m-1 1h1m-1 4h1m-1 2h1m-1 1h1m-1 1h1m-1 1h1m-1 1h1m-1 1h1m-1 2h1m-1 1h1m-1 1h1m-1 1h1m-1 6h1m-1 3h1m0-38h1m-1 6h1m-1 1h1m-1 4h1m-1 1h1m-1 2h1m-1 2h1m-1 1h1m-1 1h1m-1 5h1m-1 1h1m-1 1h1m-1 1h1m-1 2h1m-1 7h1m-1 4h1m-1 1h1m0-42h1m-1 1h1m-1 10h1m-1 1h1m-1 3h1m-1 4h1m-1 1h1m-1 3h1m-1 1h1m-1 1h1m-1 1h1m-1 7h1m-1 2h1m-1 1h1m0-21h1m-1 1h1m-1 6h1m-1 1h1m-1 1h1m-1 1h1m-1 2h1m-1 2h1m-1 1h1m-1 1h1m-1 3h1m-1 2h1m-1 17h1m0-48h1m-1 8h1m-1 1h1m-1 3h1m-1 2h1m-1 1h1m-1 2h1m-1 1h1m-1 2h1m-1 1h1m-1 3h1m-1 2h1m-1 14h1m0-33h1m-1 7h1m-1 6h1m-1 1h1m-1 1h1m-1 1h1m-1 3h1m-1 3h1m-1 3h1m0-34h1m-1 2h1m-1 5h1m-1 7h1m-1 2h1m-1 2h1m-1 6h1m-1 2h1m-1 1h1m-1 2h1m0-17h1m-1 2h1m-1 1h1m-1 5h1m-1 2h1m-1 1h1m-1 13h1m0-27h1m-1 3h1m-1 6h1m-1 1h1m-1 10h1m-1 5h1m0-23h1m-1 3h1m-1 7h1m-1 4h1m-1 4h1m0-20h1m-1 11h1m-1 4h1m-1 1h1m-1 1h1m0-20h1m-1 11h1m-1 1h1m0-11h1m-1 2h1m-1 13h1m-1 3h1m2-6h1m0-4h1m-1 30h1m3-40h1m-1 18h1m0 39h1m0-29h1m1-30h1m5 11h1m1 22h1m0 107h1" stroke="#000" stroke-opacity="0.85" stroke-width="1.8" fill="none" filter="url(#bl)"/>
</g>
<rect x="29.6" y="533.7" width="89.2" height="88.8" fill="none" stroke="#999" stroke-width="0.8"/>
<line x1="29.6" y1="533.7" x2="29.6" y2="622.5" stroke="#444" stroke-width="0.9" />
<line x1="29.6" y1="622.5" x2="118.8" y2="622.5" stroke="#444" stroke-width="0.9" />
<line x1="30.6" y1="623.2" x2="116.8" y2="623.2" stroke="#444" stroke-width="1.3" stroke-dasharray="1.6 3.2 .8 1.4 .8 1.2 .8 1 .8 .9 .8 2.6"/>
<line x1="28.9" y1="621.5" x2="28.9" y2="539.7" stroke="#444" stroke-width="1.3" stroke-dasharray="1.6 3.2 .8 1.4 .8 1.2 .8 1 .8 .9 .8 2.6"/>
<rect x="83.2" y="537.0" width="27.0" height="26.3" fill="none" stroke="#444" stroke-width="0.7"/>
<rect x="50.2" y="557.5" width="29.3" height="35.1" fill="none" stroke="#444" stroke-width="0.7"/>
<text x="66.3" y="545.5" font-size="8.8" text-anchor="start" font-weight="normal" fill="#222" >WT</text>
<text x="90.5" y="575.8" font-size="6.9" text-anchor="start" font-weight="normal" fill="#222" >28.6%</text>
<text x="36.3" y="606.8" font-size="8.6" text-anchor="start" font-weight="normal" fill="#222" >MHC II<tspan dy="-2" font-size="6.5">-/-</tspan><tspan dy="2" font-size="1">&#8203;</tspan></text>
<text x="80.0" y="604.5" font-size="6.9" text-anchor="start" font-weight="normal" fill="#222" >48.1%</text>
<clipPath id="c334"><rect x="133.8" y="533.7" width="88.2" height="88.8"/></clipPath>
<g clip-path="url(#c334)">
<ellipse cx="200.0" cy="548.8" rx="12.0" ry="8.7" transform="rotate(125 200.0 548.8)" fill="url(#gg)" fill-opacity="0.62"/>
<ellipse cx="166.3" cy="571.5" rx="16.8" ry="8.8" transform="rotate(126 166.3 571.5)" fill="url(#gg)" fill-opacity="0.85"/>
<path transform="scale(.5)" d="M270 1145h1m1-1h1m-1 5h1m-1 10h1m0-52h1m-1 23h1m-1 5h1m-1 35h1m0-41h1m-1 11h1m-1 2h1m-1 10h1m-1 7h1m-1 8h1m-1 19h1m-1 6h1m0-60h1m-1 15h1m-1 2h1m-1 11h1m-1 5h1m0-32h1m-1 1h1m0 12h1m-1 21h1m-1 9h1m0-61h1m-1 16h1m-1 22h1m-1 27h1m0-50h1m-1 11h1m-1 1h1m-1 3h1m-1 3h1m-1 10h1m-1 17h1m0-51h1m-1 5h1m-1 10h1m-1 2h1m-1 4h1m-1 1h1m-1 3h1m-1 6h1m-1 5h1m-1 7h1m-1 23h1m0-57h1m-1 3h1m-1 40h1m0-66h1m-1 23h1m-1 5h1m-1 9h1m-1 1h1m-1 5h1m-1 1h1m-1 2h1m-1 7h1m-1 1h1m0-42h1m-1 15h1m-1 14h1m-1 4h1m0-41h1m-1 3h1m-1 7h1m-1 8h1m-1 6h1m-1 8h1m-1 5h1m-1 7h1m-1 24h1m0-41h1m-1 8h1m-1 4h1m-1 41h1m0-67h1m-1 8h1m-1 4h1m-1 2h1m-1 9h1m-1 3h1m-1 4h1m-1 1h1m-1 3h1m-1 4h1m-1 18h1m-1 5h1m0-49h1m-1 3h1m-1 1h1m-1 3h1m-1 4h1m-1 2h1m-1 4h1m-1 8h1m0-27h1m-1 7h1m-1 6h1m-1 2h1m-1 2h1m-1 7h1m-1 26h1m0-84h1m-1 29h1m-1 3h1m-1 13h1m-1 5h1m-1 5h1m-1 6h1m-1 6h1m0-41h1m-1 9h1m-1 3h1m-1 8h1m-1 4h1m-1 3h1m0-24h1m-1 4h1m-1 3h1m-1 9h1m-1 6h1m-1 1h1m-1 1h1m-1 10h1m-1 4h1m-1 2h1m0-48h1m-1 1h1m-1 9h1m-1 5h1m-1 2h1m-1 3h1m-1 2h1m-1 1h1m-1 3h1m-1 2h1m-1 2h1m-1 7h1m-1 6h1m-1 5h1m-1 13h1m-1 10h1m0-64h1m-1 1h1m-1 5h1m-1 6h1m-1 3h1m-1 3h1m-1 5h1m-1 12h1m-1 1h1m-1 7h1m-1 11h1m-1 6h1m0-109h1m-1 24h1m-1 19h1m-1 1h1m-1 2h1m-1 1h1m-1 13h1m-1 1h1m-1 5h1m-1 4h1m-1 7h1m-1 3h1m-1 3h1m-1 7h1m0-52h1m-1 2h1m-1 8h1m-1 7h1m-1 4h1m-1 2h1m-1 3h1m-1 2h1m-1 2h1m-1 1h1m-1 1h1m-1 4h1m-1 2h1m0-31h1m-1 2h1m-1 1h1m-1 2h1m-1 8h1m-1 1h1m-1 1h1m-1 1h1m-1 8h1m-1 3h1m-1 1h1m-1 5h1m-1 4h1m0-49h1m-1 15h1m-1 6h1m-1 3h1m-1 4h1m-1 6h1m-1 7h1m-1 15h1m-1 7h1m-1 1h1m-1 1h1m0-49h1m-1 13h1m-1 2h1m-1 2h1m-1 13h1m-1 5h1m-1 5h1m-1 6h1m-1 9h1m0-88h1m-1 23h1m-1 4h1m-1 12h1m-1 13h1m-1 4h1m-1 9h1m-1 8h1m-1 1h1m0-56h1m-1 4h1m-1 11h1m-1 11h1m-1 4h1m-1 4h1m-1 3h1m-1 10h1m-1 10h1m-1 5h1m-1 3h1m0-58h1m-1 12h1m-1 1h1m-1 2h1m-1 3h1m-1 2h1m-1 2h1m-1 1h1m-1 4h1m-1 7h1m-1 3h1m-1 18h1m0-61h1m-1 8h1m-1 13h1m-1 9h1m-1 4h1m-1 4h1m-1 1h1m-1 2h1m-1 5h1m-1 7h1m-1 16h1m-1 19h1m0-78h1m-1 3h1m-1 2h1m-1 3h1m-1 5h1m-1 4h1m-1 1h1m-1 2h1m-1 1h1m-1 1h1m-1 1h1m-1 3h1m-1 11h1m-1 8h1m-1 8h1m-1 1h1m0-62h1m-1 23h1m-1 5h1m-1 2h1m-1 3h1m-1 5h1m-1 2h1m-1 12h1m-1 1h1m0-39h1m-1 3h1m-1 1h1m-1 1h1m-1 5h1m-1 5h1m-1 2h1m-1 1h1m-1 4h1m-1 6h1m-1 9h1m0-57h1m-1 8h1m-1 15h1m-1 2h1m-1 2h1m-1 7h1m-1 1h1m-1 1h1m-1 2h1m-1 1h1m-1 3h1m-1 1h1m-1 8h1m-1 1h1m-1 2h1m-1 1h1m-1 1h1m-1 4h1m-1 1h1m0-59h1m-1 13h1m-1 1h1m-1 2h1m-1 1h1m-1 1h1m-1 3h1m-1 1h1m-1 1h1m-1 5h1m-1 4h1m-1 2h1m-1 2h1m-1 7h1m-1 5h1m-1 5h1m-1 5h1m-1 11h1m-1 44h1m0-101h1m-1 7h1m-1 10h1m-1 1h1m-1 1h1m-1 3h1m-1 7h1m-1 6h1m-1 2h1m-1 4h1m-1 1h1m-1 21h1m0-75h1m-1 23h1m-1 2h1m-1 9h1m-1 4h1m-1 1h1m-1 1h1m-1 7h1m-1 2h1m0-38h1m-1 4h1m-1 1h1m-1 2h1m-1 2h1m-1 10h1m-1 8h1m-1 4h1m-1 2h1m-1 1h1m-1 1h1m-1 3h1m-1 20h1m-1 4h1m0-67h1m-1 2h1m-1 10h1m-1 3h1m-1 3h1m-1 2h1m-1 10h1m-1 4h1m-1 2h1m-1 1h1m-1 2h1m-1 2h1m-1 5h1m-1 4h1m-1 7h1m0-57h1m-1 1h1m-1 7h1m-1 4h1m-1 9h1m-1 1h1m-1 1h1m-1 1h1m-1 2h1m-1 1h1m-1 4h1m-1 4h1m-1 3h1m-1 4h1m-1 2h1m-1 1h1m-1 2h1m-1 3h1m-1 10h1m-1 18h1m-1 9h1m0-87h1m-1 7h1m-1 11h1m-1 2h1m-1 2h1m-1 1h1m-1 1h1m-1 5h1m-1 2h1m-1 1h1m-1 1h1m-1 1h1m-1 6h1m-1 1h1m-1 2h1m-1 3h1m-1 3h1m-1 3h1m0-58h1m-1 20h1m-1 5h1m-1 1h1m-1 3h1m-1 2h1m-1 1h1m-1 2h1m-1 3h1m-1 1h1m-1 1h1m-1 3h1m-1 3h1m-1 1h1m-1 3h1m-1 8h1m0-44h1m-1 12h1m-1 3h1m-1 1h1m-1 1h1m-1 2h1m-1 2h1m-1 1h1m-1 1h1m-1 1h1m-1 3h1m-1 1h1m-1 1h1m-1 4h1m-1 3h1m-1 1h1m-1 8h1m0-56h1m-1 6h1m-1 4h1m-1 2h1m-1 5h1m-1 5h1m-1 5h1m-1 1h1m-1 3h1m-1 1h1m-1 3h1m-1 2h1m-1 5h1m-1 4h1m-1 1h1m-1 3h1m-1 3h1m-1 4h1m-1 3h1m-1 2h1m-1 2h1m-1 14h1m0-66h1m-1 1h1m-1 2h1m-1 2h1m-1 4h1m-1 1h1m-1 1h1m-1 2h1m-1 2h1m-1 1h1m-1 1h1m-1 4h1m-1 3h1m-1 2h1m-1 2h1m-1 2h1m-1 3h1m-1 3h1m-1 1h1m-1 2h1m-1 3h1m-1 5h1m0-70h1m-1 10h1m-1 10h1m-1 4h1m-1 10h1m-1 1h1m-1 1h1m-1 1h1m-1 2h1m-1 1h1m-1 1h1m-1 1h1m-1 3h1m-1 2h1m-1 2h1m-1 1h1m-1 1h1m-1 1h1m-1 1h1m-1 7h1m0-54h1m-1 2h1m-1 1h1m-1 9h1m-1 1h1m-1 1h1m-1 2h1m-1 6h1m-1 4h1m-1 1h1m-1 3h1m-1 2h1m-1 1h1m-1 3h1m-1 1h1m-1 3h1m-1 1h1m-1 1h1m-1 3h1m-1 3h1m-1 1h1m-1 6h1m-1 4h1m-1 1h1m-1 40h1m0-99h1m-1 7h1m-1 6h1m-1 4h1m-1 1h1m-1 2h1m-1 2h1m-1 4h1m-1 1h1m-1 1h1m-1 2h1m-1 2h1m-1 1h1m-1 1h1m-1 1h1m-1 3h1m-1 1h1m-1 2h1m-1 2h1m-1 5h1m-1 1h1m-1 2h1m-1 1h1m-1 1h1m-1 1h1m-1 2h1m-1 1h1m-1 7h1m0-53h1m-1 2h1m-1 4h1m-1 3h1m-1 1h1m-1 1h1m-1 2h1m-1 2h1m-1 4h1m-1 1h1m-1 1h1m-1 1h1m-1 2h1m-1 1h1m-1 1h1m-1 1h1m-1 2h1m-1 4h1m-1 3h1m-1 1h1m-1 1h1m-1 1h1m-1 2h1m-1 1h1m-1 1h1m-1 3h1m-1 4h1m0-70h1m-1 14h1m-1 7h1m-1 2h1m-1 2h1m-1 7h1m-1 1h1m-1 2h1m-1 2h1m-1 1h1m-1 1h1m-1 1h1m-1 2h1m-1 1h1m-1 2h1m-1 1h1m-1 1h1m-1 2h1m-1 1h1m-1 1h1m-1 1h1m-1 1h1m-1 1h1m-1 5h1m-1 4h1m-1 11h1m-1 9h1m0-70h1m-1 9h1m-1 8h1m-1 1h1m-1 1h1m-1 1h1m-1 2h1m-1 2h1m-1 2h1m-1 5h1m-1 1h1m-1 1h1m-1 1h1m-1 2h1m-1 1h1m-1 1h1m-1 1h1m-1 2h1m-1 1h1m-1 2h1m-1 2h1m-1 1h1m-1 2h1m-1 7h1m-1 2h1m0-61h1m-1 9h1m-1 3h1m-1 4h1m-1 2h1m-1 1h1m-1 3h1m-1 3h1m-1 1h1m-1 1h1m-1 1h1m-1 1h1m-1 2h1m-1 3h1m-1 2h1m-1 1h1m-1 2h1m-1 1h1m-1 2h1m-1 1h1m-1 5h1m-1 1h1m-1 1h1m-1 1h1m-1 2h1m-1 3h1m-1 50h1m0-105h1m-1 2h1m-1 6h1m-1 4h1m-1 1h1m-1 4h1m-1 3h1m-1 3h1m-1 1h1m-1 1h1m-1 1h1m-1 2h1m-1 1h1m-1 1h1m-1 1h1m-1 1h1m-1 2h1m-1 1h1m-1 1h1m-1 1h1m-1 1h1m-1 1h1m-1 1h1m-1 1h1m-1 1h1m-1 1h1m-1 1h1m-1 2h1m-1 2h1m-1 2h1m-1 4h1m-1 1h1m-1 3h1m-1 3h1m-1 7h1m-1 52h1m0-112h1m-1 4h1m-1 1h1m-1 3h1m-1 1h1m-1 1h1m-1 1h1m-1 1h1m-1 1h1m-1 1h1m-1 1h1m-1 2h1m-1 1h1m-1 1h1m-1 1h1m-1 1h1m-1 1h1m-1 1h1m-1 1h1m-1 1h1m-1 1h1m-1 1h1m-1 1h1m-1 2h1m-1 1h1m-1 1h1m-1 2h1m-1 1h1m-1 1h1m-1 1h1m-1 2h1m-1 2h1m-1 1h1m-1 5h1m-1 6h1m-1 2h1m-1 13h1m0-72h1m-1 9h1m-1 1h1m-1 1h1m-1 2h1m-1 2h1m-1 1h1m-1 1h1m-1 1h1m-1 1h1m-1 2h1m-1 1h1m-1 1h1m-1 1h1m-1 1h1m-1 1h1m-1 1h1m-1 1h1m-1 1h1m-1 1h1m-1 1h1m-1 2h1m-1 2h1m-1 1h1m-1 5h1m-1 1h1m-1 2h1m-1 1h1m-1 7h1m0-49h1m-1 1h1m-1 2h1m-1 1h1m-1 3h1m-1 2h1m-1 3h1m-1 2h1m-1 1h1m-1 1h1m-1 1h1m-1 1h1m-1 1h1m-1 1h1m-1 1h1m-1 1h1m-1 1h1m-1 2h1m-1 2h1m-1 1h1m-1 1h1m-1 1h1m-1 1h1m-1 1h1m-1 4h1m-1 1h1m-1 2h1m-1 1h1m-1 1h1m-1 1h1m-1 2h1m-1 1h1m-1 11h1m-1 2h1m0-71h1m-1 6h1m-1 5h1m-1 2h1m-1 5h1m-1 2h1m-1 1h1m-1 1h1m-1 1h1m-1 1h1m-1 1h1m-1 1h1m-1 1h1m-1 1h1m-1 1h1m-1 1h1m-1 1h1m-1 1h1m-1 1h1m-1 1h1m-1 1h1m-1 1h1m-1 1h1m-1 1h1m-1 1h1m-1 1h1m-1 1h1m-1 1h1m-1 1h1m-1 2h1m-1 1h1m-1 1h1m-1 2h1m-1 1h1m-1 1h1m-1 1h1m-1 2h1m-1 2h1m-1 2h1m-1 1h1m-1 9h1m0-57h1m-1 9h1m-1 3h1m-1 1h1m-1 1h1m-1 1h1m-1 2h1m-1 1h1m-1 3h1m-1 1h1m-1 1h1m-1 2h1m-1 1h1m-1 1h1m-1 2h1m-1 1h1m-1 1h1m-1 1h1m-1 2h1m-1 1h1m-1 1h1m-1 4h1m-1 1h1m-1 1h1m-1 2h1m0-93h1m-1 49h1m-1 8h1m-1 1h1m-1 2h1m-1 1h1m-1 1h1m-1 1h1m-1 1h1m-1 1h1m-1 2h1m-1 1h1m-1 1h1m-1 1h1m-1 1h1m-1 2h1m-1 1h1m-1 1h1m-1 1h1m-1 1h1m-1 2h1m-1 1h1m-1 1h1m-1 1h1m-1 4h1m-1 1h1m-1 1h1m-1 1h1m0-38h1m-1 2h1m-1 4h1m-1 3h1m-1 1h1m-1 1h1m-1 1h1m-1 1h1m-1 1h1m-1 1h1m-1 1h1m-1 1h1m-1 2h1m-1 1h1m-1 1h1m-1 1h1m-1 1h1m-1 1h1m-1 1h1m-1 1h1m-1 1h1m-1 3h1m-1 1h1m-1 1h1m-1 1h1m-1 1h1m-1 1h1m-1 2h1m-1 1h1m-1 1h1m-1 3h1m-1 1h1m-1 1h1m0-45h1m-1 2h1m-1 1h1m-1 2h1m-1 1h1m-1 2h1m-1 2h1m-1 1h1m-1 2h1m-1 2h1m-1 1h1m-1 1h1m-1 2h1m-1 1h1m-1 1h1m-1 1h1m-1 1h1m-1 1h1m-1 1h1m-1 2h1m-1 1h1m-1 1h1m-1 1h1m-1 2h1m-1 1h1m-1 1h1m-1 1h1m-1 2h1m-1 3h1m-1 2h1m-1 4h1m0-56h1m-1 4h1m-1 4h1m-1 4h1m-1 1h1m-1 4h1m-1 1h1m-1 2h1m-1 2h1m-1 1h1m-1 1h1m-1 1h1m-1 1h1m-1 1h1m-1 2h1m-1 1h1m-1 1h1m-1 1h1m-1 1h1m-1 1h1m-1 1h1m-1 1h1m-1 1h1m-1 1h1m-1 1h1m-1 1h1m-1 1h1m-1 3h1m-1 1h1m-1 1h1m-1 2h1m-1 2h1m-1 5h1m-1 19h1m0-73h1m-1 8h1m-1 3h1m-1 2h1m-1 3h1m-1 1h1m-1 1h1m-1 1h1m-1 2h1m-1 1h1m-1 1h1m-1 1h1m-1 1h1m-1 1h1m-1 1h1m-1 1h1m-1 1h1m-1 1h1m-1 1h1m-1 1h1m-1 2h1m-1 1h1m-1 3h1m-1 1h1m-1 1h1m-1 1h1m-1 2h1m-1 1h1m-1 1h1m-1 1h1m-1 2h1m-1 1h1m-1 3h1m-1 2h1m0-49h1m-1 6h1m-1 2h1m-1 2h1m-1 1h1m-1 1h1m-1 2h1m-1 2h1m-1 1h1m-1 1h1m-1 1h1m-1 1h1m-1 1h1m-1 1h1m-1 1h1m-1 1h1m-1 1h1m-1 1h1m-1 1h1m-1 1h1m-1 1h1m-1 1h1m-1 2h1m-1 1h1m-1 1h1m-1 1h1m-1 1h1m-1 1h1m-1 1h1m-1 1h1m-1 1h1m-1 1h1m-1 7h1m-1 1h1m-1 2h1m-1 2h1m-1 10h1m0-75h1m-1 16h1m-1 4h1m-1 1h1m-1 2h1m-1 2h1m-1 1h1m-1 1h1m-1 2h1m-1 2h1m-1 1h1m-1 1h1m-1 1h1m-1 1h1m-1 3h1m-1 1h1m-1 2h1m-1 1h1m-1 2h1m-1 1h1m-1 1h1m-1 1h1m-1 2h1m-1 2h1m-1 1h1m-1 1h1m-1 1h1m-1 1h1m-1 6h1m0-84h1m-1 42h1m-1 2h1m-1 2h1m-1 1h1m-1 1h1m-1 2h1m-1 1h1m-1 1h1m-1 1h1m-1 1h1m-1 1h1m-1 1h1m-1 1h1m-1 1h1m-1 2h1m-1 1h1m-1 1h1m-1 1h1m-1 4h1m-1 2h1m-1 3h1m-1 3h1m-1 2h1m-1 2h1m-1 5h1m-1 4h1m0-49h1m-1 2h1m-1 2h1m-1 1h1m-1 1h1m-1 1h1m-1 1h1m-1 1h1m-1 1h1m-1 1h1m-1 1h1m-1 1h1m-1 1h1m-1 1h1m-1 4h1m-1 1h1m-1 1h1m-1 1h1m-1 1h1m-1 1h1m-1 1h1m-1 1h1m-1 1h1m-1 1h1m-1 1h1m-1 1h1m-1 1h1m-1 3h1m-1 1h1m-1 1h1m-1 1h1m-1 6h1m-1 1h1m-1 3h1m-1 15h1m0-66h1m-1 1h1m-1 2h1m-1 3h1m-1 2h1m-1 1h1m-1 6h1m-1 1h1m-1 2h1m-1 1h1m-1 3h1m-1 1h1m-1 1h1m-1 4h1m-1 1h1m-1 3h1m-1 1h1m-1 1h1m-1 1h1m-1 1h1m-1 5h1m-1 1h1m-1 4h1m-1 6h1m0-49h1m-1 6h1m-1 2h1m-1 1h1m-1 3h1m-1 2h1m-1 2h1m-1 1h1m-1 2h1m-1 1h1m-1 1h1m-1 2h1m-1 2h1m-1 1h1m-1 2h1m-1 1h1m-1 1h1m-1 2h1m-1 3h1m-1 3h1m-1 4h1m-1 1h1m-1 13h1m0-64h1m-1 8h1m-1 1h1m-1 2h1m-1 2h1m-1 1h1m-1 1h1m-1 2h1m-1 1h1m-1 1h1m-1 1h1m-1 1h1m-1 1h1m-1 3h1m-1 1h1m-1 1h1m-1 2h1m-1 2h1m-1 1h1m-1 1h1m-1 3h1m-1 1h1m-1 2h1m-1 6h1m-1 5h1m-1 4h1m-1 2h1m0-54h1m-1 2h1m-1 8h1m-1 2h1m-1 1h1m-1 1h1m-1 3h1m-1 2h1m-1 1h1m-1 1h1m-1 2h1m-1 1h1m-1 1h1m-1 1h1m-1 1h1m-1 1h1m-1 1h1m-1 3h1m-1 1h1m-1 1h1m-1 3h1m-1 3h1m-1 1h1m-1 7h1m0-43h1m-1 4h1m-1 1h1m-1 1h1m-1 2h1m-1 1h1m-1 1h1m-1 1h1m-1 2h1m-1 1h1m-1 3h1m-1 1h1m-1 3h1m-1 1h1m-1 3h1m-1 1h1m-1 3h1m-1 1h1m-1 1h1m-1 3h1m-1 4h1m-1 7h1m-1 11h1m0-62h1m-1 1h1m-1 4h1m-1 5h1m-1 4h1m-1 1h1m-1 2h1m-1 2h1m-1 3h1m-1 6h1m-1 1h1m-1 1h1m-1 2h1m-1 4h1m-1 3h1m-1 8h1m-1 9h1m-1 41h1m0-98h1m-1 6h1m-1 1h1m-1 2h1m-1 1h1m-1 3h1m-1 1h1m-1 2h1m-1 1h1m-1 1h1m-1 1h1m-1 1h1m-1 1h1m-1 1h1m-1 2h1m-1 1h1m-1 1h1m-1 1h1m-1 1h1m-1 1h1m-1 1h1m-1 3h1m-1 4h1m-1 1h1m-1 4h1m-1 4h1m-1 18h1m0-60h1m-1 4h1m-1 1h1m-1 3h1m-1 1h1m-1 3h1m-1 1h1m-1 2h1m-1 6h1m-1 1h1m-1 2h1m-1 3h1m-1 3h1m-1 42h1m0-72h1m-1 1h1m-1 2h1m-1 2h1m-1 6h1m-1 1h1m-1 1h1m-1 3h1m-1 1h1m-1 2h1m-1 1h1m-1 5h1m-1 1h1m-1 2h1m-1 1h1m-1 1h1m-1 5h1m-1 1h1m-1 9h1m-1 1h1m0-41h1m-1 4h1m-1 3h1m-1 2h1m-1 2h1m-1 4h1m-1 2h1m-1 2h1m-1 1h1m-1 4h1m-1 4h1m-1 3h1m-1 1h1m0-36h1m-1 9h1m-1 7h1m-1 2h1m-1 1h1m-1 1h1m-1 3h1m-1 1h1m-1 2h1m-1 3h1m-1 23h1m-1 3h1m0-49h1m-1 1h1m-1 5h1m-1 5h1m-1 2h1m-1 1h1m-1 4h1m-1 6h1m-1 3h1m-1 9h1m-1 15h1m0-75h1m-1 25h1m-1 4h1m-1 1h1m-1 1h1m-1 1h1m-1 1h1m-1 2h1m-1 3h1m-1 9h1m-1 4h1m-1 8h1m0-39h1m-1 3h1m-1 1h1m-1 3h1m-1 2h1m-1 1h1m-1 7h1m-1 10h1m-1 3h1m-1 6h1m-1 39h1m0-85h1m-1 12h1m-1 5h1m-1 2h1m-1 2h1m-1 2h1m-1 1h1m-1 5h1m-1 1h1m0-19h1m-1 2h1m-1 5h1m-1 1h1m-1 2h1m-1 10h1m-1 5h1m-1 4h1m-1 1h1m-1 10h1m0-35h1m-1 2h1m-1 1h1m-1 1h1m-1 25h1m0-31h1m-1 15h1m-1 10h1m0-41h1m-1 15h1m-1 14h1m-1 8h1m0-14h1m-1 3h1m-1 1h1m-1 24h1m0-48h1m-1 16h1m-1 11h1m-1 17h1m-1 5h1m-1 3h1m0-77h1m-1 24h1m-1 19h1m-1 2h1m-1 1h1m-1 25h1m0-73h1m-1 20h1m-1 13h1m-1 8h1m-1 4h1m-1 11h1m-1 16h1m-1 10h1m0-35h1m-1 1h1m-1 8h1m-1 40h1m1-77h1m-1 8h1m-1 24h1m0-61h1m-1 47h1m-1 38h1m0-51h1m-1 55h1m0-49h1m-1 38h1m-1 3h1m1-23h1m0 3h1m-1 5h1m0-16h1m0 77h1m0-88h1m-1 46h1m-1 17h1m0-54h1m0-15h1m-1 44h1m0-77h1m-1 34h1m0-13h1m-1 14h1m-1 40h1m0-47h1m0-2h1m-1 12h1m-1 42h1m0-70h1m-1 9h1m-1 12h1m-1 24h1m0-40h1m-1 5h1m-1 2h1m-1 1h1m-1 4h1m-1 3h1m-1 2h1m-1 3h1m0-18h1m-1 7h1m-1 10h1m-1 9h1m-1 41h1m0-71h1m-1 12h1m-1 2h1m-1 2h1m-1 2h1m-1 4h1m-1 32h1m0-69h1m-1 17h1m-1 11h1m-1 5h1m-1 1h1m-1 3h1m-1 3h1m-1 17h1m-1 1h1m-1 1h1m0-40h1m-1 8h1m-1 2h1m-1 2h1m-1 1h1m-1 1h1m-1 2h1m-1 2h1m-1 1h1m-1 14h1m0-33h1m-1 3h1m-1 3h1m-1 1h1m-1 1h1m-1 1h1m-1 1h1m-1 2h1m-1 5h1m-1 2h1m-1 3h1m-1 6h1m-1 6h1m0-34h1m-1 6h1m-1 3h1m-1 3h1m-1 5h1m-1 1h1m-1 1h1m-1 11h1m-1 30h1m-1 32h1m-1 26h1m0-128h1m-1 8h1m-1 1h1m-1 8h1m-1 1h1m-1 1h1m-1 1h1m-1 2h1m-1 1h1m-1 3h1m-1 5h1m-1 7h1m-1 49h1m0-83h1m-1 3h1m-1 7h1m-1 1h1m-1 2h1m-1 1h1m-1 1h1m-1 1h1m-1 1h1m-1 1h1m-1 4h1m-1 4h1m-1 1h1m-1 1h1m-1 5h1m0-39h1m-1 2h1m-1 11h1m-1 4h1m-1 3h1m-1 2h1m-1 3h1m-1 1h1m-1 1h1m-1 2h1m-1 1h1m-1 1h1m-1 3h1m-1 2h1m-1 2h1m-1 2h1m0-42h1m-1 7h1m-1 7h1m-1 1h1m-1 1h1m-1 1h1m-1 1h1m-1 1h1m-1 3h1m-1 1h1m-1 1h1m-1 7h1m-1 1h1m-1 1h1m-1 3h1m-1 16h1m0-54h1m-1 11h1m-1 1h1m-1 1h1m-1 2h1m-1 1h1m-1 3h1m-1 1h1m-1 1h1m-1 1h1m-1 1h1m-1 1h1m-1 1h1m-1 1h1m-1 1h1m-1 1h1m-1 1h1m-1 2h1m-1 1h1m-1 1h1m-1 2h1m-1 1h1m-1 3h1m-1 2h1m-1 3h1m-1 1h1m-1 1h1m-1 1h1m-1 1h1m0-42h1m-1 6h1m-1 2h1m-1 1h1m-1 3h1m-1 4h1m-1 2h1m-1 1h1m-1 1h1m-1 1h1m-1 1h1m-1 1h1m-1 1h1m-1 3h1m-1 1h1m-1 1h1m-1 1h1m-1 2h1m-1 1h1m-1 2h1m0-35h1m-1 4h1m-1 5h1m-1 1h1m-1 1h1m-1 1h1m-1 1h1m-1 2h1m-1 2h1m-1 1h1m-1 2h1m-1 1h1m-1 1h1m-1 1h1m-1 2h1m-1 2h1m-1 2h1m-1 2h1m-1 2h1m-1 5h1m-1 2h1m-1 12h1m0-58h1m-1 1h1m-1 7h1m-1 2h1m-1 3h1m-1 1h1m-1 3h1m-1 1h1m-1 1h1m-1 1h1m-1 1h1m-1 1h1m-1 1h1m-1 1h1m-1 2h1m-1 1h1m-1 1h1m-1 1h1m-1 1h1m-1 1h1m-1 1h1m-1 4h1m-1 3h1m-1 1h1m-1 3h1m0-42h1m-1 7h1m-1 4h1m-1 2h1m-1 1h1m-1 1h1m-1 1h1m-1 1h1m-1 1h1m-1 1h1m-1 1h1m-1 1h1m-1 2h1m-1 2h1m-1 1h1m-1 3h1m-1 1h1m-1 1h1m-1 1h1m-1 2h1m-1 1h1m-1 1h1m-1 1h1m-1 1h1m-1 2h1m-1 1h1m-1 1h1m0-37h1m-1 8h1m-1 2h1m-1 1h1m-1 1h1m-1 1h1m-1 1h1m-1 1h1m-1 2h1m-1 2h1m-1 1h1m-1 1h1m-1 1h1m-1 1h1m-1 1h1m-1 2h1m-1 4h1m-1 8h1m-1 11h1m0-52h1m-1 6h1m-1 3h1m-1 1h1m-1 2h1m-1 1h1m-1 1h1m-1 1h1m-1 1h1m-1 1h1m-1 2h1m-1 1h1m-1 1h1m-1 2h1m-1 1h1m-1 1h1m-1 1h1m-1 1h1m-1 1h1m-1 1h1m-1 1h1m-1 1h1m-1 8h1m-1 7h1m0-51h1m-1 6h1m-1 1h1m-1 2h1m-1 4h1m-1 1h1m-1 2h1m-1 2h1m-1 1h1m-1 1h1m-1 5h1m-1 1h1m-1 1h1m-1 1h1m-1 2h1m-1 3h1m-1 1h1m-1 2h1m-1 2h1m-1 3h1m-1 2h1m-1 17h1m0-53h1m-1 4h1m-1 2h1m-1 2h1m-1 2h1m-1 2h1m-1 1h1m-1 3h1m-1 1h1m-1 1h1m-1 1h1m-1 1h1m-1 1h1m-1 1h1m-1 1h1m-1 1h1m-1 1h1m-1 1h1m-1 2h1m-1 1h1m-1 3h1m-1 1h1m-1 1h1m-1 1h1m0-33h1m-1 4h1m-1 2h1m-1 1h1m-1 1h1m-1 1h1m-1 1h1m-1 1h1m-1 1h1m-1 1h1m-1 1h1m-1 1h1m-1 1h1m-1 1h1m-1 1h1m-1 1h1m-1 3h1m-1 1h1m-1 1h1m-1 1h1m-1 1h1m-1 2h1m0-24h1m-1 2h1m-1 1h1m-1 1h1m-1 1h1m-1 1h1m-1 1h1m-1 2h1m-1 2h1m-1 1h1m-1 2h1m-1 4h1m-1 1h1m-1 1h1m-1 3h1m-1 1h1m-1 6h1m-1 2h1m0-39h1m-1 3h1m-1 1h1m-1 1h1m-1 3h1m-1 2h1m-1 2h1m-1 1h1m-1 2h1m-1 2h1m-1 1h1m-1 1h1m-1 2h1m-1 1h1m-1 1h1m-1 1h1m-1 1h1m-1 1h1m-1 1h1m-1 3h1m-1 6h1m-1 60h1m0-102h1m-1 7h1m-1 1h1m-1 4h1m-1 2h1m-1 1h1m-1 5h1m-1 1h1m-1 1h1m-1 1h1m-1 1h1m-1 1h1m-1 1h1m-1 1h1m-1 2h1m-1 1h1m-1 1h1m-1 1h1m-1 1h1m-1 1h1m-1 4h1m-1 1h1m-1 3h1m-1 114h1m0-151h1m-1 3h1m-1 1h1m-1 3h1m-1 1h1m-1 1h1m-1 2h1m-1 1h1m-1 1h1m-1 2h1m-1 1h1m-1 1h1m-1 1h1m-1 1h1m-1 1h1m-1 1h1m-1 1h1m-1 1h1m-1 1h1m-1 1h1m-1 1h1m-1 3h1m-1 3h1m-1 10h1m0-49h1m-1 12h1m-1 3h1m-1 2h1m-1 1h1m-1 1h1m-1 1h1m-1 1h1m-1 1h1m-1 1h1m-1 1h1m-1 1h1m-1 1h1m-1 2h1m-1 2h1m-1 1h1m-1 1h1m-1 3h1m-1 3h1m-1 1h1m-1 3h1m-1 4h1m-1 2h1m0-45h1m-1 1h1m-1 9h1m-1 2h1m-1 4h1m-1 1h1m-1 5h1m-1 1h1m-1 2h1m-1 8h1m-1 2h1m-1 3h1m-1 2h1m0-33h1m-1 4h1m-1 2h1m-1 1h1m-1 2h1m-1 1h1m-1 1h1m-1 2h1m-1 1h1m-1 1h1m-1 2h1m-1 1h1m-1 3h1m-1 1h1m-1 1h1m-1 2h1m-1 1h1m-1 5h1m-1 5h1m0-34h1m-1 4h1m-1 1h1m-1 3h1m-1 1h1m-1 1h1m-1 1h1m-1 1h1m-1 2h1m-1 1h1m-1 1h1m-1 1h1m-1 1h1m-1 3h1m-1 6h1m-1 4h1m-1 1h1m-1 4h1m0-47h1m-1 9h1m-1 6h1m-1 1h1m-1 1h1m-1 3h1m-1 4h1m-1 1h1m-1 1h1m-1 1h1m-1 1h1m-1 1h1m-1 5h1m-1 1h1m-1 1h1m-1 17h1m0-43h1m-1 1h1m-1 3h1m-1 3h1m-1 5h1m-1 2h1m-1 1h1m-1 1h1m-1 1h1m-1 8h1m0-32h1m-1 3h1m-1 7h1m-1 2h1m-1 6h1m-1 2h1m-1 1h1m-1 1h1m-1 3h1m-1 4h1m-1 1h1m-1 3h1m0-27h1m-1 13h1m-1 1h1m-1 4h1m-1 2h1m-1 1h1m-1 3h1m-1 1h1m-1 7h1m0-39h1m-1 3h1m-1 8h1m-1 4h1m-1 1h1m-1 1h1m-1 2h1m-1 3h1m-1 32h1m0-48h1m-1 12h1m-1 2h1m-1 6h1m0-12h1m-1 4h1m-1 4h1m-1 4h1m0-15h1m-1 2h1m-1 6h1m0-12h1m-1 2h1m-1 14h1m-1 4h1m1-13h1m-1 7h1m0 5h1m0-19h1m-1 13h1m0-10h1m-1 4h1m0 126h1m0-131h1m-1 26h1m4-16h1m2 19h1m6-11h1" stroke="#000" stroke-opacity="0.85" stroke-width="1.8" fill="none" filter="url(#bl)"/>
</g>
<rect x="133.8" y="533.7" width="88.2" height="88.8" fill="none" stroke="#999" stroke-width="0.8"/>
<line x1="133.8" y1="533.7" x2="133.8" y2="622.5" stroke="#444" stroke-width="0.9" />
<line x1="133.8" y1="622.5" x2="222.0" y2="622.5" stroke="#444" stroke-width="0.9" />
<line x1="134.8" y1="623.2" x2="220.0" y2="623.2" stroke="#444" stroke-width="1.3" stroke-dasharray="1.6 3.2 .8 1.4 .8 1.2 .8 1 .8 .9 .8 2.6"/>
<line x1="133.1" y1="621.5" x2="133.1" y2="539.7" stroke="#444" stroke-width="1.3" stroke-dasharray="1.6 3.2 .8 1.4 .8 1.2 .8 1 .8 .9 .8 2.6"/>
<rect x="187.0" y="536.3" width="26.8" height="26.2" fill="none" stroke="#444" stroke-width="0.7"/>
<rect x="154.5" y="557.0" width="28.0" height="35.0" fill="none" stroke="#444" stroke-width="0.7"/>
<text x="167.0" y="545.5" font-size="8.8" text-anchor="start" font-weight="normal" fill="#222" >WT</text>
<text x="195.0" y="573.8" font-size="6.9" text-anchor="start" font-weight="normal" fill="#222" >25.9%</text>
<text x="137.0" y="606.8" font-size="8.6" text-anchor="start" font-weight="normal" fill="#222" >MHC II<tspan dy="-2" font-size="6.5">-/-</tspan><tspan dy="2" font-size="1">&#8203;</tspan></text>
<text x="183.0" y="603.3" font-size="6.9" text-anchor="start" font-weight="normal" fill="#222" >43.3%</text>
<line x1="16.6" y1="606.8" x2="16.6" y2="636.0" stroke="#444" stroke-width="0.8" />
<line x1="16.6" y1="636.0" x2="51.0" y2="636.0" stroke="#444" stroke-width="0.8" />
<text x="13.2" y="634.5" font-size="5.4" text-anchor="start" font-weight="normal" fill="#222" transform="rotate(-90 13.2 634.5)" >IA-IE</text>
<text x="17.1" y="644.0" font-size="6.2" text-anchor="start" font-weight="normal" fill="#222" textLength="20" lengthAdjust="spacingAndGlyphs">CD45.1</text>
<text x="243.6" y="487.5" font-size="14" text-anchor="start" font-weight="bold" fill="#000" >H</text>
<rect x="290.9" y="519.0" width="9.8" height="103.4" fill="#000" stroke="#000" stroke-width="1.3"/>
<line x1="295.9" y1="511.7" x2="295.9" y2="518.4" stroke="#222" stroke-width="1.0" />
<line x1="292.8" y1="511.7" x2="299.0" y2="511.7" stroke="#222" stroke-width="1.0" />
<rect x="305.5" y="537.3" width="10.2" height="85.1" fill="#fff" stroke="#000" stroke-width="1.3"/>
<line x1="310.6" y1="527.5" x2="310.6" y2="536.6" stroke="#222" stroke-width="1.0" />
<line x1="307.5" y1="527.5" x2="313.8" y2="527.5" stroke="#222" stroke-width="1.0" />
<rect x="331.2" y="499.6" width="9.9" height="122.8" fill="#000" stroke="#000" stroke-width="1.3"/>
<line x1="336.2" y1="492.8" x2="336.2" y2="499.0" stroke="#222" stroke-width="1.0" />
<line x1="333.1" y1="492.8" x2="339.3" y2="492.8" stroke="#222" stroke-width="1.0" />
<rect x="346.6" y="515.2" width="9.9" height="107.2" fill="#fff" stroke="#000" stroke-width="1.3"/>
<line x1="351.6" y1="507.4" x2="351.6" y2="514.6" stroke="#222" stroke-width="1.0" />
<line x1="348.5" y1="507.4" x2="354.7" y2="507.4" stroke="#222" stroke-width="1.0" />
<rect x="371.6" y="508.0" width="9.9" height="114.4" fill="#000" stroke="#000" stroke-width="1.3"/>
<line x1="376.6" y1="499.4" x2="376.6" y2="507.4" stroke="#222" stroke-width="1.0" />
<line x1="373.5" y1="499.4" x2="379.7" y2="499.4" stroke="#222" stroke-width="1.0" />
<rect x="387.2" y="528.6" width="10.1" height="93.8" fill="#fff" stroke="#000" stroke-width="1.3"/>
<line x1="392.3" y1="521.2" x2="392.3" y2="527.9" stroke="#222" stroke-width="1.0" />
<line x1="389.2" y1="521.2" x2="395.4" y2="521.2" stroke="#222" stroke-width="1.0" />
<line x1="288.0" y1="481.2" x2="288.0" y2="623.1" stroke="#000" stroke-width="1.4" />
<line x1="283.5" y1="622.4" x2="400.5" y2="622.4" stroke="#000" stroke-width="1.4" />
<line x1="283.5" y1="622.4" x2="288.0" y2="622.4" stroke="#000" stroke-width="1.3" />
<text x="282.0" y="626.0" font-size="10" text-anchor="end" font-weight="normal" fill="#000" >0.0</text>
<line x1="283.5" y1="594.3" x2="288.0" y2="594.3" stroke="#000" stroke-width="1.3" />
<text x="282.0" y="597.9" font-size="10" text-anchor="end" font-weight="normal" fill="#000" >0.2</text>
<line x1="283.5" y1="566.2" x2="288.0" y2="566.2" stroke="#000" stroke-width="1.3" />
<text x="282.0" y="569.8" font-size="10" text-anchor="end" font-weight="normal" fill="#000" >0.4</text>
<line x1="283.5" y1="538.0" x2="288.0" y2="538.0" stroke="#000" stroke-width="1.3" />
<text x="282.0" y="541.6" font-size="10" text-anchor="end" font-weight="normal" fill="#000" >0.6</text>
<line x1="283.5" y1="509.9" x2="288.0" y2="509.9" stroke="#000" stroke-width="1.3" />
<text x="282.0" y="513.5" font-size="10" text-anchor="end" font-weight="normal" fill="#000" >0.8</text>
<line x1="283.5" y1="481.8" x2="288.0" y2="481.8" stroke="#000" stroke-width="1.3" />
<text x="282.0" y="485.4" font-size="10" text-anchor="end" font-weight="normal" fill="#000" >1.0</text>
<text x="310.0" y="635.0" font-size="9.6" text-anchor="middle" font-weight="normal" fill="#000" >CD8<tspan dy="-3.5" font-size="7">+</tspan><tspan dy="3.5" font-size="1">&#8203;</tspan></text>
<text x="344.6" y="635.0" font-size="9.6" text-anchor="middle" font-weight="normal" fill="#000" >DN</text>
<text x="386.5" y="635.0" font-size="9.6" text-anchor="middle" font-weight="normal" fill="#000" >CD4<tspan dy="-3.5" font-size="7">+</tspan><tspan dy="3.5" font-size="1">&#8203;</tspan></text>
<text x="248.8" y="553.5" font-size="9.6" text-anchor="middle" font-weight="normal" fill="#000" transform="rotate(-90 248.8 553.5)" >Ratio (WT: MHC II<tspan dy="-3" font-size="6">-/-</tspan><tspan dy="3" font-size="1">&#8203;</tspan>)</text>
<rect x="307.8" y="651.5" width="15.6" height="6.0" fill="#000" stroke="#000" stroke-width="1.2"/>
<text x="332.2" y="658.0" font-size="9.9" text-anchor="start" font-weight="normal" fill="#000" >non-GVHD</text>
<rect x="307.8" y="668.2" width="15.6" height="5.8" fill="#fff" stroke="#000" stroke-width="1.3"/>
<text x="332.2" y="674.6" font-size="9.9" text-anchor="start" font-weight="normal" fill="#000" >GVHD</text>
<text x="402.3" y="484.0" font-size="14" text-anchor="start" font-weight="bold" fill="#000" >I</text>
<text x="463.5" y="476.8" font-size="9.7" text-anchor="middle" font-weight="bold" fill="#000" >Bcl2 Tg donor</text>
<text x="463.5" y="488.8" font-size="9.7" text-anchor="middle" font-weight="bold" fill="#000" >Non-GVHD</text>
<text x="465.0" y="595.2" font-size="9.8" text-anchor="middle" font-weight="bold" fill="#000" >GVHD</text>
<clipPath id="c400"><rect x="425.8" y="493.4" width="76.7" height="76.2"/></clipPath>
<g clip-path="url(#c400)">
<ellipse cx="454.0" cy="508.8" rx="11.9" ry="9.1" transform="rotate(156 454.0 508.8)" fill="url(#gg)" fill-opacity="0.95"/>
<ellipse cx="456.0" cy="537.0" rx="11.0" ry="11.0" transform="rotate(90 456.0 537.0)" fill="url(#gg)" fill-opacity="0.3"/>
<ellipse cx="468.5" cy="535.0" rx="12.6" ry="11.0" transform="rotate(0 468.5 535.0)" fill="url(#gg)" fill-opacity="0.24"/>
<path transform="scale(.5)" d="M854 1075h1m2-50h1m-1 7h1m1-40h1m-1 11h1m-1 49h1m4-19h1m0-22h1m-1 71h1m0-70h1m-1 8h1m1 3h1m-1 5h1m-1 9h1m0 78h1m2-105h1m-1 15h1m-1 1h1m-1 7h1m-1 18h1m0-61h1m-1 28h1m-1 2h1m-1 10h1m0-26h1m-1 7h1m-1 5h1m-1 10h1m-1 2h1m0-21h1m-1 17h1m0 2h1m0-4h1m-1 11h1m-1 6h1m0-13h1m-1 5h1m-1 4h1m0-25h1m-1 4h1m-1 38h1m0-47h1m-1 12h1m-1 51h1m0-63h1m-1 11h1m-1 5h1m-1 4h1m-1 11h1m0-20h1m-1 3h1m-1 1h1m-1 6h1m-1 2h1m-1 1h1m-1 4h1m-1 1h1m-1 5h1m0-38h1m-1 7h1m-1 9h1m-1 2h1m-1 2h1m-1 6h1m-1 1h1m-1 4h1m-1 1h1m-1 10h1m0-32h1m-1 8h1m-1 1h1m-1 5h1m-1 2h1m-1 3h1m-1 7h1m-1 54h1m-1 39h1m0-118h1m-1 1h1m-1 7h1m-1 1h1m-1 4h1m-1 2h1m-1 2h1m-1 21h1m0-39h1m-1 2h1m-1 1h1m-1 1h1m-1 9h1m-1 1h1m-1 2h1m-1 2h1m-1 1h1m-1 12h1m-1 15h1m-1 5h1m0-52h1m-1 3h1m-1 1h1m-1 2h1m-1 1h1m-1 1h1m-1 3h1m-1 1h1m-1 5h1m-1 2h1m-1 3h1m-1 2h1m-1 5h1m-1 29h1m0-63h1m-1 6h1m-1 3h1m-1 2h1m-1 2h1m-1 4h1m-1 1h1m-1 1h1m-1 2h1m-1 1h1m-1 6h1m-1 2h1m-1 3h1m-1 24h1m-1 1h1m0-66h1m-1 7h1m-1 2h1m-1 5h1m-1 2h1m-1 3h1m-1 1h1m-1 2h1m-1 1h1m-1 2h1m-1 1h1m-1 2h1m-1 4h1m-1 5h1m-1 8h1m-1 11h1m-1 16h1m-1 9h1m-1 4h1m0-69h1m-1 1h1m-1 2h1m-1 1h1m-1 5h1m-1 2h1m-1 2h1m-1 2h1m-1 1h1m-1 1h1m-1 4h1m-1 1h1m-1 33h1m-1 1h1m-1 3h1m0-70h1m-1 11h1m-1 4h1m-1 1h1m-1 1h1m-1 1h1m-1 1h1m-1 1h1m-1 1h1m-1 5h1m-1 1h1m-1 2h1m-1 7h1m-1 31h1m-1 4h1m-1 48h1m0-121h1m-1 7h1m-1 2h1m-1 3h1m-1 2h1m-1 2h1m-1 1h1m-1 2h1m-1 1h1m-1 2h1m-1 1h1m-1 1h1m-1 1h1m-1 2h1m-1 2h1m-1 3h1m-1 16h1m-1 26h1m-1 3h1m-1 10h1m0-82h1m-1 2h1m-1 4h1m-1 4h1m-1 1h1m-1 1h1m-1 2h1m-1 1h1m-1 1h1m-1 1h1m-1 1h1m-1 1h1m-1 2h1m-1 4h1m-1 1h1m-1 4h1m-1 3h1m-1 5h1m-1 3h1m-1 20h1m-1 10h1m-1 6h1m-1 20h1m0-99h1m-1 7h1m-1 1h1m-1 5h1m-1 4h1m-1 1h1m-1 2h1m-1 1h1m-1 1h1m-1 2h1m-1 2h1m-1 2h1m-1 5h1m-1 16h1m-1 6h1m-1 5h1m-1 4h1m-1 10h1m-1 1h1m0-77h1m-1 3h1m-1 2h1m-1 1h1m-1 2h1m-1 3h1m-1 2h1m-1 1h1m-1 1h1m-1 2h1m-1 2h1m-1 1h1m-1 1h1m-1 1h1m-1 1h1m-1 1h1m-1 1h1m-1 1h1m-1 5h1m-1 1h1m-1 2h1m-1 6h1m-1 19h1m-1 3h1m-1 10h1m0-76h1m-1 2h1m-1 5h1m-1 4h1m-1 1h1m-1 2h1m-1 1h1m-1 1h1m-1 1h1m-1 2h1m-1 1h1m-1 4h1m-1 1h1m-1 1h1m-1 1h1m-1 1h1m-1 1h1m-1 2h1m-1 1h1m-1 2h1m-1 3h1m-1 3h1m-1 1h1m-1 7h1m-1 20h1m-1 4h1m-1 3h1m-1 3h1m-1 3h1m-1 5h1m-1 2h1m0-83h1m-1 2h1m-1 1h1m-1 2h1m-1 2h1m-1 1h1m-1 2h1m-1 2h1m-1 2h1m-1 4h1m-1 1h1m-1 1h1m-1 1h1m-1 2h1m-1 1h1m-1 2h1m-1 1h1m-1 1h1m-1 1h1m-1 4h1m-1 3h1m-1 3h1m-1 3h1m-1 22h1m-1 4h1m-1 15h1m0-81h1m-1 4h1m-1 1h1m-1 1h1m-1 2h1m-1 1h1m-1 4h1m-1 1h1m-1 1h1m-1 1h1m-1 1h1m-1 1h1m-1 1h1m-1 2h1m-1 1h1m-1 1h1m-1 1h1m-1 1h1m-1 6h1m-1 2h1m-1 17h1m-1 2h1m-1 20h1m-1 2h1m-1 3h1m-1 3h1m-1 2h1m-1 3h1m0-98h1m-1 11h1m-1 2h1m-1 4h1m-1 2h1m-1 1h1m-1 1h1m-1 1h1m-1 1h1m-1 1h1m-1 1h1m-1 1h1m-1 1h1m-1 1h1m-1 1h1m-1 1h1m-1 1h1m-1 1h1m-1 2h1m-1 1h1m-1 1h1m-1 1h1m-1 1h1m-1 4h1m-1 4h1m-1 1h1m-1 1h1m-1 15h1m-1 10h1m-1 2h1m-1 2h1m-1 4h1m-1 7h1m-1 1h1m-1 12h1m-1 1h1m0-90h1m-1 2h1m-1 3h1m-1 1h1m-1 1h1m-1 1h1m-1 1h1m-1 1h1m-1 1h1m-1 1h1m-1 1h1m-1 1h1m-1 1h1m-1 1h1m-1 1h1m-1 1h1m-1 1h1m-1 1h1m-1 2h1m-1 1h1m-1 2h1m-1 1h1m-1 1h1m-1 6h1m-1 3h1m-1 2h1m-1 18h1m-1 7h1m-1 8h1m-1 4h1m-1 5h1m-1 2h1m-1 5h1m0-86h1m-1 5h1m-1 1h1m-1 1h1m-1 2h1m-1 1h1m-1 1h1m-1 1h1m-1 1h1m-1 1h1m-1 1h1m-1 1h1m-1 1h1m-1 1h1m-1 2h1m-1 1h1m-1 1h1m-1 1h1m-1 1h1m-1 5h1m-1 25h1m-1 4h1m-1 3h1m-1 3h1m-1 6h1m-1 3h1m-1 4h1m-1 1h1m-1 2h1m-1 8h1m-1 12h1m-1 2h1m0-100h1m-1 2h1m-1 2h1m-1 1h1m-1 1h1m-1 1h1m-1 1h1m-1 2h1m-1 1h1m-1 1h1m-1 1h1m-1 1h1m-1 2h1m-1 1h1m-1 1h1m-1 1h1m-1 1h1m-1 2h1m-1 1h1m-1 1h1m-1 1h1m-1 1h1m-1 5h1m-1 15h1m-1 1h1m-1 2h1m-1 7h1m-1 2h1m-1 1h1m-1 5h1m-1 2h1m-1 1h1m-1 4h1m-1 1h1m-1 2h1m-1 1h1m-1 1h1m0-86h1m-1 8h1m-1 2h1m-1 1h1m-1 2h1m-1 1h1m-1 1h1m-1 1h1m-1 1h1m-1 1h1m-1 1h1m-1 1h1m-1 1h1m-1 1h1m-1 2h1m-1 1h1m-1 1h1m-1 1h1m-1 2h1m-1 1h1m-1 4h1m-1 1h1m-1 1h1m-1 1h1m-1 1h1m-1 2h1m-1 13h1m-1 12h1m-1 2h1m-1 4h1m-1 1h1m-1 1h1m-1 1h1m-1 4h1m-1 1h1m-1 2h1m-1 1h1m-1 1h1m-1 2h1m-1 5h1m-1 19h1m0-107h1m-1 3h1m-1 2h1m-1 2h1m-1 1h1m-1 2h1m-1 3h1m-1 1h1m-1 1h1m-1 2h1m-1 1h1m-1 1h1m-1 1h1m-1 2h1m-1 1h1m-1 1h1m-1 1h1m-1 2h1m-1 1h1m-1 1h1m-1 1h1m-1 2h1m-1 4h1m-1 1h1m-1 1h1m-1 1h1m-1 7h1m-1 7h1m-1 3h1m-1 8h1m-1 1h1m-1 2h1m-1 1h1m-1 3h1m-1 2h1m-1 1h1m-1 1h1m-1 2h1m-1 1h1m-1 1h1m-1 6h1m-1 3h1m-1 3h1m-1 1h1m0-90h1m-1 3h1m-1 4h1m-1 1h1m-1 1h1m-1 2h1m-1 1h1m-1 1h1m-1 1h1m-1 2h1m-1 1h1m-1 2h1m-1 1h1m-1 1h1m-1 1h1m-1 1h1m-1 1h1m-1 1h1m-1 5h1m-1 9h1m-1 5h1m-1 7h1m-1 6h1m-1 2h1m-1 6h1m-1 4h1m-1 1h1m-1 5h1m-1 1h1m-1 2h1m-1 4h1m-1 4h1m-1 11h1m0-97h1m-1 4h1m-1 3h1m-1 2h1m-1 2h1m-1 1h1m-1 1h1m-1 1h1m-1 1h1m-1 1h1m-1 1h1m-1 1h1m-1 1h1m-1 1h1m-1 1h1m-1 1h1m-1 1h1m-1 1h1m-1 1h1m-1 1h1m-1 1h1m-1 1h1m-1 1h1m-1 1h1m-1 1h1m-1 6h1m-1 11h1m-1 8h1m-1 1h1m-1 1h1m-1 2h1m-1 7h1m-1 4h1m-1 3h1m-1 1h1m-1 1h1m-1 1h1m-1 1h1m-1 1h1m-1 4h1m-1 9h1m0-95h1m-1 10h1m-1 1h1m-1 1h1m-1 1h1m-1 1h1m-1 1h1m-1 1h1m-1 1h1m-1 2h1m-1 1h1m-1 1h1m-1 1h1m-1 1h1m-1 2h1m-1 1h1m-1 1h1m-1 2h1m-1 1h1m-1 1h1m-1 2h1m-1 1h1m-1 1h1m-1 5h1m-1 15h1m-1 14h1m-1 2h1m-1 3h1m-1 3h1m-1 5h1m-1 1h1m-1 1h1m-1 17h1m0-108h1m-1 9h1m-1 3h1m-1 3h1m-1 2h1m-1 3h1m-1 1h1m-1 2h1m-1 1h1m-1 1h1m-1 1h1m-1 1h1m-1 1h1m-1 1h1m-1 1h1m-1 1h1m-1 1h1m-1 1h1m-1 1h1m-1 1h1m-1 2h1m-1 1h1m-1 1h1m-1 4h1m-1 2h1m-1 22h1m-1 2h1m-1 3h1m-1 3h1m-1 1h1m-1 2h1m-1 1h1m-1 1h1m-1 1h1m-1 1h1m-1 1h1m-1 3h1m-1 2h1m-1 4h1m-1 2h1m-1 1h1m-1 3h1m-1 4h1m0-96h1m-1 2h1m-1 1h1m-1 3h1m-1 1h1m-1 1h1m-1 2h1m-1 4h1m-1 1h1m-1 1h1m-1 1h1m-1 1h1m-1 1h1m-1 1h1m-1 1h1m-1 1h1m-1 1h1m-1 1h1m-1 1h1m-1 1h1m-1 1h1m-1 2h1m-1 1h1m-1 1h1m-1 2h1m-1 1h1m-1 1h1m-1 2h1m-1 2h1m-1 9h1m-1 15h1m-1 3h1m-1 1h1m-1 3h1m-1 1h1m-1 1h1m-1 3h1m-1 1h1m-1 1h1m-1 3h1m-1 1h1m-1 1h1m-1 2h1m-1 2h1m-1 2h1m-1 2h1m-1 2h1m-1 2h1m-1 1h1m-1 1h1m0-87h1m-1 1h1m-1 1h1m-1 1h1m-1 1h1m-1 1h1m-1 2h1m-1 2h1m-1 2h1m-1 1h1m-1 1h1m-1 1h1m-1 1h1m-1 1h1m-1 1h1m-1 1h1m-1 1h1m-1 1h1m-1 2h1m-1 1h1m-1 1h1m-1 1h1m-1 1h1m-1 2h1m-1 15h1m-1 1h1m-1 6h1m-1 7h1m-1 3h1m-1 3h1m-1 1h1m-1 1h1m-1 1h1m-1 1h1m-1 3h1m-1 2h1m-1 1h1m-1 3h1m-1 3h1m-1 4h1m-1 8h1m-1 5h1m0-101h1m-1 5h1m-1 1h1m-1 2h1m-1 2h1m-1 1h1m-1 2h1m-1 1h1m-1 1h1m-1 1h1m-1 1h1m-1 2h1m-1 1h1m-1 1h1m-1 1h1m-1 2h1m-1 1h1m-1 4h1m-1 1h1m-1 1h1m-1 3h1m-1 21h1m-1 3h1m-1 3h1m-1 1h1m-1 3h1m-1 1h1m-1 1h1m-1 2h1m-1 1h1m-1 1h1m-1 1h1m-1 1h1m-1 2h1m-1 1h1m-1 2h1m-1 2h1m-1 1h1m-1 1h1m-1 1h1m-1 2h1m-1 1h1m-1 1h1m-1 2h1m-1 10h1m-1 38h1m0-135h1m-1 2h1m-1 1h1m-1 1h1m-1 2h1m-1 3h1m-1 2h1m-1 1h1m-1 1h1m-1 2h1m-1 1h1m-1 1h1m-1 1h1m-1 1h1m-1 1h1m-1 1h1m-1 1h1m-1 1h1m-1 2h1m-1 2h1m-1 1h1m-1 2h1m-1 3h1m-1 2h1m-1 5h1m-1 3h1m-1 17h1m-1 3h1m-1 1h1m-1 1h1m-1 2h1m-1 3h1m-1 1h1m-1 1h1m-1 2h1m-1 2h1m-1 2h1m-1 2h1m-1 1h1m-1 1h1m-1 1h1m-1 1h1m-1 4h1m-1 2h1m-1 5h1m-1 6h1m-1 26h1m0-127h1m-1 2h1m-1 2h1m-1 1h1m-1 3h1m-1 1h1m-1 1h1m-1 2h1m-1 1h1m-1 2h1m-1 1h1m-1 1h1m-1 1h1m-1 2h1m-1 3h1m-1 2h1m-1 2h1m-1 1h1m-1 3h1m-1 1h1m-1 1h1m-1 2h1m-1 17h1m-1 5h1m-1 1h1m-1 2h1m-1 5h1m-1 2h1m-1 2h1m-1 2h1m-1 1h1m-1 1h1m-1 1h1m-1 2h1m-1 4h1m-1 2h1m-1 6h1m-1 3h1m0-94h1m-1 7h1m-1 1h1m-1 1h1m-1 1h1m-1 1h1m-1 1h1m-1 1h1m-1 1h1m-1 1h1m-1 1h1m-1 1h1m-1 1h1m-1 1h1m-1 1h1m-1 2h1m-1 1h1m-1 2h1m-1 1h1m-1 1h1m-1 2h1m-1 2h1m-1 4h1m-1 2h1m-1 2h1m-1 3h1m-1 4h1m-1 3h1m-1 6h1m-1 1h1m-1 4h1m-1 2h1m-1 4h1m-1 5h1m-1 1h1m-1 1h1m-1 1h1m-1 2h1m-1 1h1m-1 2h1m-1 1h1m-1 1h1m-1 4h1m-1 9h1m0-92h1m-1 2h1m-1 2h1m-1 3h1m-1 2h1m-1 2h1m-1 1h1m-1 2h1m-1 2h1m-1 2h1m-1 2h1m-1 1h1m-1 1h1m-1 1h1m-1 4h1m-1 1h1m-1 1h1m-1 2h1m-1 9h1m-1 8h1m-1 1h1m-1 3h1m-1 2h1m-1 1h1m-1 3h1m-1 1h1m-1 1h1m-1 6h1m-1 4h1m-1 2h1m-1 1h1m-1 2h1m-1 1h1m-1 1h1m-1 2h1m-1 3h1m-1 7h1m-1 3h1m-1 4h1m0-106h1m-1 9h1m-1 2h1m-1 2h1m-1 4h1m-1 1h1m-1 1h1m-1 1h1m-1 2h1m-1 1h1m-1 1h1m-1 2h1m-1 1h1m-1 2h1m-1 1h1m-1 1h1m-1 1h1m-1 1h1m-1 2h1m-1 1h1m-1 1h1m-1 1h1m-1 1h1m-1 2h1m-1 1h1m-1 1h1m-1 2h1m-1 8h1m-1 8h1m-1 4h1m-1 4h1m-1 5h1m-1 3h1m-1 3h1m-1 1h1m-1 2h1m-1 1h1m-1 3h1m-1 2h1m-1 3h1m-1 1h1m-1 4h1m-1 1h1m-1 4h1m0-101h1m-1 4h1m-1 10h1m-1 3h1m-1 1h1m-1 2h1m-1 1h1m-1 1h1m-1 1h1m-1 2h1m-1 1h1m-1 1h1m-1 1h1m-1 1h1m-1 1h1m-1 2h1m-1 1h1m-1 3h1m-1 12h1m-1 3h1m-1 2h1m-1 4h1m-1 7h1m-1 1h1m-1 2h1m-1 1h1m-1 4h1m-1 1h1m-1 2h1m-1 1h1m-1 1h1m-1 2h1m-1 3h1m-1 2h1m-1 1h1m-1 2h1m-1 9h1m-1 9h1m0-101h1m-1 4h1m-1 3h1m-1 2h1m-1 1h1m-1 1h1m-1 3h1m-1 1h1m-1 4h1m-1 1h1m-1 1h1m-1 1h1m-1 1h1m-1 1h1m-1 1h1m-1 1h1m-1 1h1m-1 1h1m-1 1h1m-1 3h1m-1 1h1m-1 18h1m-1 12h1m-1 2h1m-1 4h1m-1 2h1m-1 1h1m-1 2h1m-1 1h1m-1 1h1m-1 3h1m-1 2h1m-1 3h1m-1 3h1m-1 1h1m-1 2h1m-1 5h1m-1 9h1m0-95h1m-1 1h1m-1 2h1m-1 1h1m-1 1h1m-1 3h1m-1 1h1m-1 1h1m-1 1h1m-1 1h1m-1 1h1m-1 2h1m-1 1h1m-1 3h1m-1 1h1m-1 2h1m-1 1h1m-1 3h1m-1 6h1m-1 2h1m-1 14h1m-1 1h1m-1 3h1m-1 2h1m-1 5h1m-1 5h1m-1 2h1m-1 1h1m-1 1h1m-1 3h1m-1 3h1m-1 4h1m-1 7h1m-1 2h1m-1 5h1m-1 5h1m0-101h1m-1 2h1m-1 4h1m-1 2h1m-1 2h1m-1 1h1m-1 1h1m-1 1h1m-1 1h1m-1 1h1m-1 1h1m-1 1h1m-1 1h1m-1 4h1m-1 1h1m-1 1h1m-1 2h1m-1 4h1m-1 1h1m-1 3h1m-1 1h1m-1 1h1m-1 6h1m-1 1h1m-1 1h1m-1 4h1m-1 1h1m-1 4h1m-1 1h1m-1 5h1m-1 3h1m-1 1h1m-1 6h1m-1 1h1m-1 1h1m-1 1h1m-1 1h1m-1 6h1m-1 1h1m-1 4h1m-1 1h1m-1 5h1m0-98h1m-1 8h1m-1 3h1m-1 2h1m-1 1h1m-1 1h1m-1 1h1m-1 1h1m-1 3h1m-1 2h1m-1 1h1m-1 2h1m-1 1h1m-1 1h1m-1 2h1m-1 2h1m-1 1h1m-1 2h1m-1 2h1m-1 2h1m-1 6h1m-1 19h1m-1 1h1m-1 1h1m-1 2h1m-1 1h1m-1 1h1m-1 2h1m-1 2h1m-1 1h1m-1 3h1m-1 2h1m-1 2h1m-1 2h1m-1 6h1m-1 2h1m-1 1h1m-1 7h1m-1 1h1m0-93h1m-1 6h1m-1 6h1m-1 1h1m-1 1h1m-1 1h1m-1 1h1m-1 1h1m-1 1h1m-1 1h1m-1 3h1m-1 2h1m-1 2h1m-1 4h1m-1 1h1m-1 9h1m-1 1h1m-1 16h1m-1 8h1m-1 1h1m-1 1h1m-1 3h1m-1 1h1m-1 1h1m-1 1h1m-1 1h1m-1 1h1m-1 3h1m-1 5h1m0-77h1m-1 1h1m-1 3h1m-1 2h1m-1 2h1m-1 1h1m-1 1h1m-1 2h1m-1 1h1m-1 1h1m-1 1h1m-1 2h1m-1 6h1m-1 7h1m-1 2h1m-1 21h1m-1 3h1m-1 2h1m-1 2h1m-1 1h1m-1 2h1m-1 2h1m-1 1h1m-1 1h1m-1 1h1m-1 2h1m-1 3h1m-1 1h1m-1 3h1m-1 1h1m-1 5h1m0-96h1m-1 10h1m-1 2h1m-1 2h1m-1 1h1m-1 1h1m-1 1h1m-1 3h1m-1 1h1m-1 2h1m-1 1h1m-1 2h1m-1 1h1m-1 1h1m-1 3h1m-1 5h1m-1 5h1m-1 12h1m-1 10h1m-1 13h1m-1 1h1m-1 1h1m-1 1h1m-1 1h1m-1 2h1m-1 2h1m-1 4h1m-1 1h1m-1 2h1m-1 1h1m-1 10h1m0-91h1m-1 3h1m-1 1h1m-1 1h1m-1 1h1m-1 1h1m-1 6h1m-1 4h1m-1 2h1m-1 2h1m-1 7h1m-1 9h1m-1 2h1m-1 3h1m-1 8h1m-1 9h1m-1 2h1m-1 3h1m-1 1h1m-1 1h1m-1 1h1m-1 1h1m-1 1h1m-1 1h1m-1 2h1m-1 9h1m-1 2h1m0-84h1m-1 2h1m-1 5h1m-1 1h1m-1 1h1m-1 3h1m-1 2h1m-1 2h1m-1 3h1m-1 5h1m-1 2h1m-1 10h1m-1 11h1m-1 4h1m-1 5h1m-1 1h1m-1 1h1m-1 1h1m-1 2h1m-1 6h1m-1 1h1m-1 2h1m-1 2h1m-1 2h1m-1 1h1m-1 2h1m-1 2h1m-1 2h1m-1 15h1m0-93h1m-1 1h1m-1 1h1m-1 1h1m-1 2h1m-1 3h1m-1 1h1m-1 2h1m-1 2h1m-1 4h1m-1 22h1m-1 11h1m-1 3h1m-1 4h1m-1 4h1m-1 1h1m-1 3h1m-1 1h1m-1 3h1m-1 1h1m-1 7h1m-1 4h1m-1 2h1m0-81h1m-1 7h1m-1 1h1m-1 4h1m-1 6h1m-1 3h1m-1 4h1m-1 5h1m-1 1h1m-1 7h1m-1 1h1m-1 13h1m-1 2h1m-1 1h1m-1 1h1m-1 1h1m-1 8h1m-1 3h1m-1 2h1m-1 1h1m-1 15h1m0-88h1m-1 2h1m-1 1h1m-1 16h1m-1 16h1m-1 2h1m-1 6h1m-1 2h1m-1 4h1m-1 4h1m-1 1h1m-1 5h1m-1 4h1m-1 2h1m-1 6h1m-1 2h1m-1 5h1m-1 1h1m0-52h1m-1 4h1m-1 20h1m-1 4h1m-1 2h1m-1 2h1m-1 3h1m-1 1h1m-1 3h1m-1 27h1m0-100h1m-1 13h1m-1 4h1m-1 1h1m-1 30h1m-1 11h1m-1 4h1m-1 1h1m-1 2h1m-1 3h1m-1 2h1m-1 1h1m-1 10h1m-1 1h1m-1 2h1m-1 1h1m-1 2h1m0-81h1m-1 18h1m-1 2h1m-1 4h1m-1 1h1m-1 12h1m-1 10h1m-1 1h1m-1 3h1m-1 2h1m-1 1h1m-1 3h1m-1 6h1m-1 2h1m-1 3h1m-1 1h1m-1 2h1m-1 9h1m-1 1h1m-1 1h1m-1 9h1m0-47h1m-1 2h1m-1 1h1m-1 8h1m-1 1h1m-1 7h1m-1 1h1m-1 1h1m-1 1h1m-1 2h1m-1 5h1m-1 4h1m-1 7h1m-1 6h1m0-96h1m-1 15h1m-1 9h1m-1 5h1m-1 10h1m-1 9h1m-1 7h1m-1 7h1m-1 6h1m-1 1h1m-1 4h1m-1 2h1m-1 4h1m-1 5h1m-1 2h1m0-72h1m-1 26h1m-1 11h1m-1 2h1m-1 1h1m-1 6h1m-1 4h1m-1 4h1m-1 2h1m-1 1h1m-1 2h1m-1 2h1m-1 2h1m-1 4h1m-1 5h1m0-36h1m-1 8h1m-1 4h1m-1 2h1m-1 1h1m-1 3h1m-1 2h1m-1 1h1m-1 6h1m-1 1h1m-1 3h1m-1 14h1m0-88h1m-1 3h1m-1 18h1m-1 6h1m-1 8h1m-1 5h1m-1 3h1m-1 10h1m-1 2h1m-1 1h1m-1 2h1m-1 1h1m-1 3h1m-1 4h1m-1 2h1m-1 2h1m-1 3h1m-1 1h1m-1 7h1m0-41h1m-1 6h1m-1 3h1m-1 5h1m-1 1h1m-1 2h1m-1 1h1m-1 1h1m-1 3h1m-1 2h1m-1 3h1m-1 1h1m-1 1h1m-1 2h1m-1 4h1m-1 2h1m-1 1h1m-1 52h1m0-90h1m-1 4h1m-1 6h1m-1 1h1m-1 2h1m-1 8h1m-1 1h1m-1 1h1m-1 5h1m-1 1h1m-1 2h1m-1 3h1m-1 1h1m-1 10h1m-1 4h1m0-54h1m-1 13h1m-1 2h1m-1 4h1m-1 3h1m-1 2h1m-1 2h1m-1 1h1m-1 3h1m-1 1h1m-1 1h1m-1 3h1m-1 5h1m-1 1h1m-1 5h1m0-67h1m-1 2h1m-1 34h1m-1 3h1m-1 1h1m-1 3h1m-1 2h1m-1 1h1m-1 2h1m-1 3h1m-1 1h1m-1 3h1m-1 1h1m-1 1h1m0-64h1m-1 8h1m-1 34h1m-1 1h1m-1 5h1m-1 2h1m-1 4h1m-1 1h1m-1 2h1m-1 2h1m-1 1h1m-1 1h1m-1 2h1m-1 2h1m-1 7h1m0-62h1m-1 32h1m-1 5h1m-1 5h1m-1 1h1m-1 1h1m-1 1h1m-1 1h1m-1 2h1m-1 3h1m-1 1h1m-1 1h1m-1 1h1m-1 10h1m0-32h1m-1 5h1m-1 5h1m-1 1h1m-1 2h1m-1 5h1m-1 1h1m-1 1h1m-1 6h1m-1 1h1m0-75h1m-1 20h1m-1 3h1m-1 25h1m-1 4h1m-1 3h1m-1 2h1m-1 8h1m-1 1h1m-1 4h1m-1 3h1m-1 1h1m-1 3h1m0-37h1m-1 4h1m-1 9h1m-1 3h1m-1 1h1m-1 3h1m-1 1h1m-1 18h1m-1 1h1m-1 3h1m-1 4h1m0-68h1m-1 4h1m-1 24h1m-1 5h1m-1 3h1m-1 4h1m-1 1h1m-1 5h1m-1 8h1m-1 8h1m0-65h1m-1 23h1m-1 9h1m-1 7h1m-1 5h1m-1 11h1m-1 10h1m-1 2h1m0-33h1m-1 3h1m-1 1h1m-1 4h1m-1 5h1m-1 2h1m-1 2h1m-1 6h1m-1 1h1m-1 6h1m-1 31h1m0-62h1m-1 13h1m-1 1h1m-1 3h1m-1 2h1m-1 11h1m0-37h1m-1 7h1m-1 6h1m-1 3h1m-1 1h1m-1 3h1m-1 3h1m0-17h1m-1 3h1m-1 4h1m-1 6h1m0-22h1m-1 3h1m-1 6h1m0-13h1m-1 15h1m-1 10h1m-1 9h1m0-25h1m-1 16h1m-1 5h1m0-15h1m-1 5h1m-1 1h1m-1 4h1m0-5h1m-1 1h1m-1 13h1m-1 11h1m0-78h1m-1 2h1m-1 49h1m-1 18h1m0-21h1m-1 8h1m0 3h1m-1 2h1m0-6h1m-1 8h1m0-6h1m-1 11h1m1-21h1m-1 2h1m-1 22h1m0-75h1m-1 13h1m1 77h1m3-42h1m2 21h1m0 61h1m0-59h1m1 14h1m0-20h1m1-78h1m-1 88h1m0-4h1m2-40h1m6 85h1m1 15h1m1-70h1m-1 27h1m3 35h1" stroke="#000" stroke-opacity="0.85" stroke-width="1.8" fill="none" filter="url(#bl)"/>
</g>
<rect x="425.8" y="493.4" width="76.7" height="76.2" fill="none" stroke="#aaa" stroke-width="0.8"/>
<line x1="427.8" y1="570.0" x2="501.5" y2="570.0" stroke="#555" stroke-width="1.0" stroke-dasharray="1 6.90 .6 3.83 .6 2.68 .6 2.95"/>
<line x1="425.4" y1="567.6" x2="425.4" y2="494.4" stroke="#555" stroke-width="1.0" stroke-dasharray="1 6.90 .6 3.83 .6 2.68 .6 2.95"/>
<line x1="463.4" y1="493.4" x2="463.4" y2="569.6" stroke="#000" stroke-width="0.7" stroke-opacity=".55"/>
<line x1="425.8" y1="522.8" x2="502.5" y2="522.8" stroke="#000" stroke-width="0.7" stroke-opacity=".55"/>
<text x="427.8" y="497.6" font-size="3.2" text-anchor="start" font-weight="normal" fill="#333" >61.6</text>
<text x="500.5" y="497.6" font-size="3.2" text-anchor="end" font-weight="normal" fill="#333" >3.92</text>
<text x="427.8" y="567.8" font-size="3.2" text-anchor="start" font-weight="normal" fill="#333" >23.0</text>
<text x="500.5" y="567.8" font-size="3.2" text-anchor="end" font-weight="normal" fill="#333" >11.6</text>
<clipPath id="c416"><rect x="426.0" y="598.7" width="76.5" height="77.0"/></clipPath>
<g clip-path="url(#c416)">
<ellipse cx="456.3" cy="616.3" rx="12.9" ry="9.4" transform="rotate(131 456.3 616.3)" fill="url(#gg)" fill-opacity="1.0"/>
<ellipse cx="456.0" cy="639.0" rx="14.5" ry="7.5" transform="rotate(125 456.0 639.0)" fill="url(#gg)" fill-opacity="0.75"/>
<path transform="scale(.5)" d="M854 1234h1m4 49h1m1-15h1m1 68h1m0-86h1m0-27h1m0 18h1m-1 3h1m3-20h1m-1 12h1m0 17h1m-1 78h1m0-98h1m-1 50h1m-1 35h1m0-70h1m-1 8h1m-1 5h1m-1 86h1m0-66h1m-1 24h1m0-81h1m0-6h1m-1 11h1m-1 4h1m-1 5h1m-1 3h1m-1 36h1m0-52h1m-1 5h1m-1 1h1m-1 21h1m0-39h1m-1 31h1m-1 11h1m-1 1h1m0-29h1m-1 14h1m0-12h1m-1 52h1m0-51h1m-1 7h1m-1 19h1m-1 6h1m-1 27h1m-1 40h1m0-99h1m-1 7h1m-1 9h1m-1 3h1m0-11h1m-1 3h1m0-24h1m-1 16h1m-1 1h1m-1 2h1m-1 9h1m-1 4h1m-1 3h1m-1 21h1m-1 23h1m0-67h1m-1 3h1m-1 1h1m-1 4h1m-1 4h1m-1 13h1m-1 36h1m0-70h1m-1 6h1m-1 8h1m-1 10h1m-1 1h1m-1 3h1m-1 7h1m-1 7h1m0-38h1m-1 17h1m-1 32h1m0-45h1m-1 3h1m-1 1h1m-1 2h1m-1 1h1m-1 16h1m-1 4h1m-1 13h1m-1 14h1m-1 9h1m-1 10h1m-1 1h1m0-78h1m-1 14h1m-1 6h1m-1 1h1m-1 60h1m0-82h1m-1 19h1m-1 2h1m-1 4h1m-1 1h1m-1 1h1m-1 3h1m-1 3h1m-1 31h1m-1 3h1m-1 5h1m-1 1h1m-1 12h1m0-80h1m-1 3h1m-1 3h1m-1 4h1m-1 1h1m-1 2h1m-1 4h1m-1 2h1m-1 4h1m-1 13h1m-1 6h1m-1 2h1m-1 18h1m-1 1h1m-1 1h1m-1 19h1m0-88h1m-1 7h1m-1 1h1m-1 1h1m-1 1h1m-1 2h1m-1 5h1m-1 3h1m-1 1h1m-1 8h1m-1 22h1m-1 13h1m-1 4h1m-1 1h1m0-83h1m-1 12h1m-1 5h1m-1 4h1m-1 4h1m-1 5h1m-1 2h1m-1 1h1m-1 1h1m-1 8h1m-1 1h1m-1 15h1m-1 6h1m-1 2h1m-1 1h1m-1 5h1m-1 1h1m-1 2h1m-1 3h1m-1 1h1m-1 3h1m-1 6h1m-1 4h1m0-101h1m-1 22h1m-1 1h1m-1 4h1m-1 1h1m-1 1h1m-1 1h1m-1 2h1m-1 1h1m-1 2h1m-1 3h1m-1 5h1m-1 1h1m-1 12h1m-1 7h1m-1 2h1m-1 1h1m-1 1h1m-1 39h1m0-91h1m-1 1h1m-1 7h1m-1 3h1m-1 2h1m-1 6h1m-1 1h1m-1 1h1m-1 1h1m-1 1h1m-1 3h1m-1 2h1m-1 10h1m-1 2h1m-1 13h1m-1 11h1m-1 9h1m-1 9h1m-1 21h1m0-84h1m-1 1h1m-1 1h1m-1 1h1m-1 3h1m-1 2h1m-1 1h1m-1 6h1m-1 1h1m-1 2h1m-1 14h1m-1 3h1m-1 2h1m-1 4h1m-1 4h1m-1 1h1m-1 3h1m-1 2h1m-1 2h1m-1 3h1m-1 6h1m-1 3h1m-1 7h1m-1 6h1m0-93h1m-1 8h1m-1 2h1m-1 1h1m-1 2h1m-1 2h1m-1 2h1m-1 1h1m-1 1h1m-1 1h1m-1 3h1m-1 1h1m-1 2h1m-1 2h1m-1 2h1m-1 1h1m-1 15h1m-1 10h1m-1 8h1m-1 6h1m-1 1h1m-1 1h1m-1 1h1m-1 4h1m-1 7h1m-1 5h1m-1 9h1m0-93h1m-1 1h1m-1 1h1m-1 1h1m-1 2h1m-1 1h1m-1 2h1m-1 1h1m-1 2h1m-1 1h1m-1 2h1m-1 4h1m-1 1h1m-1 3h1m-1 1h1m-1 1h1m-1 5h1m-1 3h1m-1 1h1m-1 1h1m-1 1h1m-1 6h1m-1 2h1m-1 4h1m-1 3h1m-1 7h1m-1 2h1m-1 1h1m-1 3h1m-1 6h1m-1 2h1m-1 5h1m-1 1h1m-1 5h1m0-87h1m-1 1h1m-1 2h1m-1 3h1m-1 1h1m-1 3h1m-1 1h1m-1 3h1m-1 1h1m-1 1h1m-1 2h1m-1 1h1m-1 1h1m-1 2h1m-1 1h1m-1 2h1m-1 3h1m-1 3h1m-1 1h1m-1 4h1m-1 10h1m-1 4h1m-1 2h1m-1 1h1m-1 1h1m-1 1h1m-1 2h1m-1 6h1m-1 3h1m-1 4h1m-1 5h1m-1 1h1m-1 1h1m-1 1h1m-1 12h1m0-95h1m-1 9h1m-1 1h1m-1 1h1m-1 5h1m-1 2h1m-1 3h1m-1 1h1m-1 1h1m-1 2h1m-1 1h1m-1 1h1m-1 4h1m-1 4h1m-1 7h1m-1 1h1m-1 11h1m-1 3h1m-1 3h1m-1 2h1m-1 1h1m-1 2h1m-1 1h1m-1 3h1m-1 1h1m-1 2h1m-1 4h1m-1 3h1m-1 7h1m-1 1h1m-1 10h1m-1 12h1m0-102h1m-1 2h1m-1 1h1m-1 2h1m-1 1h1m-1 1h1m-1 1h1m-1 1h1m-1 1h1m-1 1h1m-1 1h1m-1 2h1m-1 1h1m-1 1h1m-1 2h1m-1 1h1m-1 2h1m-1 1h1m-1 1h1m-1 1h1m-1 2h1m-1 2h1m-1 16h1m-1 3h1m-1 5h1m-1 3h1m-1 1h1m-1 1h1m-1 1h1m-1 4h1m-1 1h1m-1 1h1m-1 2h1m-1 1h1m-1 1h1m-1 3h1m-1 1h1m-1 1h1m-1 4h1m-1 1h1m-1 1h1m-1 3h1m-1 1h1m0-91h1m-1 5h1m-1 2h1m-1 3h1m-1 2h1m-1 1h1m-1 4h1m-1 1h1m-1 1h1m-1 2h1m-1 1h1m-1 3h1m-1 1h1m-1 1h1m-1 3h1m-1 1h1m-1 1h1m-1 1h1m-1 1h1m-1 1h1m-1 1h1m-1 2h1m-1 2h1m-1 4h1m-1 9h1m-1 6h1m-1 1h1m-1 2h1m-1 1h1m-1 1h1m-1 1h1m-1 2h1m-1 2h1m-1 2h1m-1 2h1m-1 1h1m-1 1h1m-1 1h1m-1 2h1m-1 4h1m-1 3h1m-1 6h1m-1 4h1m0-86h1m-1 1h1m-1 3h1m-1 1h1m-1 3h1m-1 1h1m-1 1h1m-1 1h1m-1 1h1m-1 1h1m-1 1h1m-1 1h1m-1 1h1m-1 3h1m-1 1h1m-1 1h1m-1 1h1m-1 2h1m-1 2h1m-1 3h1m-1 1h1m-1 7h1m-1 3h1m-1 1h1m-1 1h1m-1 1h1m-1 6h1m-1 1h1m-1 3h1m-1 1h1m-1 1h1m-1 1h1m-1 1h1m-1 1h1m-1 1h1m-1 1h1m-1 1h1m-1 2h1m-1 1h1m-1 2h1m-1 1h1m-1 1h1m-1 1h1m0-74h1m-1 5h1m-1 3h1m-1 2h1m-1 1h1m-1 1h1m-1 1h1m-1 1h1m-1 1h1m-1 1h1m-1 1h1m-1 1h1m-1 1h1m-1 1h1m-1 1h1m-1 1h1m-1 1h1m-1 1h1m-1 1h1m-1 1h1m-1 2h1m-1 1h1m-1 3h1m-1 1h1m-1 1h1m-1 3h1m-1 1h1m-1 1h1m-1 1h1m-1 10h1m-1 1h1m-1 1h1m-1 1h1m-1 3h1m-1 4h1m-1 1h1m-1 1h1m-1 2h1m-1 4h1m-1 1h1m-1 3h1m-1 1h1m-1 2h1m-1 1h1m-1 2h1m-1 6h1m0-83h1m-1 2h1m-1 2h1m-1 2h1m-1 2h1m-1 1h1m-1 1h1m-1 1h1m-1 2h1m-1 1h1m-1 1h1m-1 2h1m-1 2h1m-1 1h1m-1 1h1m-1 1h1m-1 1h1m-1 1h1m-1 2h1m-1 1h1m-1 2h1m-1 2h1m-1 2h1m-1 2h1m-1 1h1m-1 11h1m-1 1h1m-1 4h1m-1 2h1m-1 2h1m-1 1h1m-1 1h1m-1 5h1m-1 1h1m-1 1h1m-1 4h1m-1 2h1m-1 2h1m-1 1h1m-1 1h1m-1 1h1m-1 2h1m-1 1h1m-1 3h1m0-90h1m-1 9h1m-1 3h1m-1 1h1m-1 2h1m-1 2h1m-1 1h1m-1 1h1m-1 1h1m-1 2h1m-1 1h1m-1 3h1m-1 1h1m-1 1h1m-1 2h1m-1 1h1m-1 1h1m-1 1h1m-1 1h1m-1 1h1m-1 1h1m-1 1h1m-1 1h1m-1 2h1m-1 4h1m-1 2h1m-1 1h1m-1 9h1m-1 6h1m-1 2h1m-1 1h1m-1 1h1m-1 1h1m-1 1h1m-1 1h1m-1 1h1m-1 1h1m-1 1h1m-1 1h1m-1 1h1m-1 2h1m-1 1h1m-1 1h1m-1 2h1m-1 13h1m-1 2h1m0-92h1m-1 7h1m-1 6h1m-1 1h1m-1 2h1m-1 1h1m-1 1h1m-1 1h1m-1 1h1m-1 1h1m-1 1h1m-1 2h1m-1 1h1m-1 1h1m-1 1h1m-1 1h1m-1 1h1m-1 1h1m-1 7h1m-1 1h1m-1 6h1m-1 2h1m-1 1h1m-1 5h1m-1 2h1m-1 4h1m-1 1h1m-1 1h1m-1 2h1m-1 1h1m-1 1h1m-1 1h1m-1 2h1m-1 1h1m-1 1h1m-1 2h1m-1 1h1m-1 3h1m-1 2h1m-1 2h1m-1 6h1m0-79h1m-1 2h1m-1 1h1m-1 2h1m-1 1h1m-1 2h1m-1 1h1m-1 1h1m-1 1h1m-1 1h1m-1 1h1m-1 1h1m-1 1h1m-1 1h1m-1 1h1m-1 1h1m-1 1h1m-1 1h1m-1 1h1m-1 1h1m-1 4h1m-1 3h1m-1 1h1m-1 1h1m-1 2h1m-1 3h1m-1 4h1m-1 9h1m-1 1h1m-1 1h1m-1 2h1m-1 1h1m-1 4h1m-1 1h1m-1 1h1m-1 1h1m-1 1h1m-1 1h1m-1 1h1m-1 1h1m-1 2h1m-1 1h1m-1 1h1m-1 1h1m-1 1h1m-1 5h1m-1 1h1m-1 8h1m0-87h1m-1 4h1m-1 4h1m-1 1h1m-1 1h1m-1 1h1m-1 1h1m-1 1h1m-1 3h1m-1 1h1m-1 2h1m-1 1h1m-1 2h1m-1 1h1m-1 2h1m-1 3h1m-1 6h1m-1 1h1m-1 2h1m-1 8h1m-1 1h1m-1 3h1m-1 2h1m-1 1h1m-1 1h1m-1 3h1m-1 3h1m-1 1h1m-1 1h1m-1 1h1m-1 1h1m-1 3h1m-1 2h1m-1 1h1m-1 1h1m-1 1h1m-1 3h1m-1 2h1m-1 1h1m0-79h1m-1 1h1m-1 3h1m-1 2h1m-1 3h1m-1 1h1m-1 2h1m-1 1h1m-1 1h1m-1 1h1m-1 1h1m-1 1h1m-1 1h1m-1 1h1m-1 1h1m-1 1h1m-1 1h1m-1 1h1m-1 1h1m-1 1h1m-1 1h1m-1 1h1m-1 1h1m-1 1h1m-1 3h1m-1 1h1m-1 3h1m-1 1h1m-1 5h1m-1 4h1m-1 3h1m-1 2h1m-1 2h1m-1 2h1m-1 2h1m-1 2h1m-1 1h1m-1 1h1m-1 1h1m-1 2h1m-1 3h1m-1 1h1m-1 1h1m-1 1h1m-1 2h1m-1 1h1m-1 1h1m-1 1h1m-1 3h1m-1 3h1m-1 3h1m0-89h1m-1 1h1m-1 5h1m-1 2h1m-1 1h1m-1 1h1m-1 1h1m-1 1h1m-1 1h1m-1 1h1m-1 1h1m-1 1h1m-1 1h1m-1 1h1m-1 1h1m-1 1h1m-1 1h1m-1 1h1m-1 1h1m-1 1h1m-1 1h1m-1 1h1m-1 1h1m-1 1h1m-1 1h1m-1 2h1m-1 2h1m-1 1h1m-1 4h1m-1 3h1m-1 4h1m-1 4h1m-1 3h1m-1 1h1m-1 3h1m-1 2h1m-1 1h1m-1 2h1m-1 1h1m-1 2h1m-1 1h1m-1 1h1m-1 1h1m-1 1h1m-1 1h1m-1 1h1m-1 1h1m-1 1h1m-1 1h1m-1 1h1m-1 1h1m-1 1h1m-1 1h1m-1 5h1m-1 3h1m0-95h1m-1 7h1m-1 8h1m-1 1h1m-1 1h1m-1 4h1m-1 2h1m-1 1h1m-1 1h1m-1 1h1m-1 2h1m-1 1h1m-1 1h1m-1 1h1m-1 1h1m-1 1h1m-1 1h1m-1 1h1m-1 1h1m-1 1h1m-1 1h1m-1 1h1m-1 1h1m-1 1h1m-1 1h1m-1 1h1m-1 3h1m-1 3h1m-1 4h1m-1 1h1m-1 1h1m-1 3h1m-1 2h1m-1 1h1m-1 1h1m-1 1h1m-1 3h1m-1 1h1m-1 2h1m-1 1h1m-1 1h1m-1 3h1m-1 1h1m-1 1h1m-1 2h1m-1 1h1m-1 1h1m-1 2h1m-1 2h1m-1 3h1m-1 3h1m-1 5h1m-1 6h1m0-91h1m-1 4h1m-1 1h1m-1 1h1m-1 1h1m-1 3h1m-1 1h1m-1 1h1m-1 1h1m-1 3h1m-1 1h1m-1 1h1m-1 1h1m-1 2h1m-1 1h1m-1 1h1m-1 1h1m-1 1h1m-1 1h1m-1 1h1m-1 1h1m-1 1h1m-1 1h1m-1 1h1m-1 1h1m-1 1h1m-1 1h1m-1 1h1m-1 1h1m-1 1h1m-1 1h1m-1 1h1m-1 4h1m-1 5h1m-1 4h1m-1 5h1m-1 3h1m-1 3h1m-1 2h1m-1 1h1m-1 1h1m-1 1h1m-1 1h1m-1 1h1m-1 1h1m-1 1h1m-1 1h1m-1 1h1m-1 1h1m-1 1h1m-1 2h1m-1 4h1m-1 2h1m-1 5h1m0-95h1m-1 7h1m-1 5h1m-1 1h1m-1 8h1m-1 1h1m-1 2h1m-1 1h1m-1 1h1m-1 1h1m-1 2h1m-1 1h1m-1 1h1m-1 1h1m-1 1h1m-1 1h1m-1 1h1m-1 1h1m-1 1h1m-1 2h1m-1 1h1m-1 1h1m-1 1h1m-1 1h1m-1 1h1m-1 6h1m-1 3h1m-1 4h1m-1 1h1m-1 1h1m-1 2h1m-1 4h1m-1 1h1m-1 1h1m-1 3h1m-1 1h1m-1 1h1m-1 1h1m-1 1h1m-1 1h1m-1 2h1m-1 1h1m-1 1h1m-1 1h1m-1 1h1m-1 1h1m-1 1h1m-1 1h1m-1 1h1m-1 1h1m-1 4h1m-1 5h1m0-93h1m-1 5h1m-1 2h1m-1 2h1m-1 2h1m-1 5h1m-1 1h1m-1 2h1m-1 1h1m-1 1h1m-1 1h1m-1 2h1m-1 1h1m-1 1h1m-1 1h1m-1 1h1m-1 1h1m-1 2h1m-1 1h1m-1 1h1m-1 3h1m-1 1h1m-1 1h1m-1 3h1m-1 1h1m-1 1h1m-1 1h1m-1 3h1m-1 1h1m-1 6h1m-1 3h1m-1 2h1m-1 2h1m-1 2h1m-1 1h1m-1 2h1m-1 1h1m-1 1h1m-1 1h1m-1 1h1m-1 1h1m-1 1h1m-1 1h1m-1 1h1m-1 1h1m-1 2h1m-1 1h1m-1 1h1m-1 2h1m-1 3h1m-1 2h1m-1 9h1m-1 4h1m0-92h1m-1 2h1m-1 2h1m-1 2h1m-1 1h1m-1 3h1m-1 1h1m-1 1h1m-1 1h1m-1 1h1m-1 1h1m-1 1h1m-1 1h1m-1 1h1m-1 1h1m-1 1h1m-1 1h1m-1 2h1m-1 1h1m-1 1h1m-1 1h1m-1 2h1m-1 1h1m-1 4h1m-1 2h1m-1 1h1m-1 2h1m-1 1h1m-1 5h1m-1 7h1m-1 2h1m-1 1h1m-1 1h1m-1 2h1m-1 2h1m-1 1h1m-1 1h1m-1 3h1m-1 1h1m-1 3h1m-1 2h1m-1 1h1m-1 1h1m-1 4h1m-1 1h1m-1 1h1m-1 4h1m-1 5h1m-1 8h1m0-100h1m-1 8h1m-1 2h1m-1 1h1m-1 1h1m-1 1h1m-1 1h1m-1 2h1m-1 1h1m-1 1h1m-1 1h1m-1 1h1m-1 1h1m-1 1h1m-1 1h1m-1 1h1m-1 2h1m-1 1h1m-1 1h1m-1 1h1m-1 1h1m-1 1h1m-1 1h1m-1 1h1m-1 1h1m-1 3h1m-1 1h1m-1 1h1m-1 10h1m-1 6h1m-1 3h1m-1 1h1m-1 2h1m-1 3h1m-1 3h1m-1 3h1m-1 1h1m-1 1h1m-1 1h1m-1 2h1m-1 2h1m-1 1h1m-1 1h1m-1 2h1m0-88h1m-1 7h1m-1 8h1m-1 2h1m-1 3h1m-1 1h1m-1 2h1m-1 1h1m-1 1h1m-1 1h1m-1 2h1m-1 1h1m-1 2h1m-1 1h1m-1 2h1m-1 1h1m-1 1h1m-1 1h1m-1 2h1m-1 2h1m-1 2h1m-1 2h1m-1 1h1m-1 2h1m-1 2h1m-1 2h1m-1 1h1m-1 1h1m-1 5h1m-1 2h1m-1 1h1m-1 2h1m-1 2h1m-1 2h1m-1 2h1m-1 1h1m-1 2h1m-1 1h1m-1 1h1m-1 1h1m-1 3h1m-1 1h1m-1 1h1m-1 1h1m-1 2h1m-1 1h1m-1 63h1m0-141h1m-1 5h1m-1 2h1m-1 5h1m-1 1h1m-1 2h1m-1 1h1m-1 1h1m-1 2h1m-1 1h1m-1 1h1m-1 1h1m-1 1h1m-1 1h1m-1 3h1m-1 1h1m-1 1h1m-1 1h1m-1 1h1m-1 1h1m-1 1h1m-1 1h1m-1 1h1m-1 2h1m-1 2h1m-1 2h1m-1 6h1m-1 4h1m-1 3h1m-1 1h1m-1 1h1m-1 1h1m-1 3h1m-1 1h1m-1 3h1m-1 1h1m-1 1h1m-1 1h1m-1 1h1m-1 1h1m-1 2h1m-1 1h1m-1 2h1m-1 5h1m-1 1h1m-1 2h1m-1 19h1m0-99h1m-1 2h1m-1 5h1m-1 1h1m-1 1h1m-1 1h1m-1 3h1m-1 1h1m-1 1h1m-1 1h1m-1 1h1m-1 1h1m-1 1h1m-1 1h1m-1 1h1m-1 1h1m-1 2h1m-1 1h1m-1 1h1m-1 1h1m-1 1h1m-1 1h1m-1 2h1m-1 1h1m-1 2h1m-1 2h1m-1 4h1m-1 2h1m-1 1h1m-1 2h1m-1 1h1m-1 3h1m-1 2h1m-1 3h1m-1 1h1m-1 2h1m-1 1h1m-1 1h1m-1 1h1m-1 2h1m-1 2h1m-1 2h1m-1 2h1m-1 1h1m-1 1h1m-1 1h1m-1 6h1m-1 4h1m-1 2h1m0-79h1m-1 2h1m-1 2h1m-1 4h1m-1 1h1m-1 1h1m-1 1h1m-1 1h1m-1 1h1m-1 2h1m-1 1h1m-1 3h1m-1 1h1m-1 1h1m-1 1h1m-1 1h1m-1 3h1m-1 3h1m-1 3h1m-1 4h1m-1 13h1m-1 2h1m-1 1h1m-1 3h1m-1 1h1m-1 1h1m-1 1h1m-1 1h1m-1 1h1m-1 1h1m-1 3h1m-1 1h1m-1 2h1m-1 3h1m-1 1h1m-1 7h1m-1 2h1m-1 2h1m0-90h1m-1 4h1m-1 1h1m-1 1h1m-1 5h1m-1 1h1m-1 1h1m-1 1h1m-1 4h1m-1 2h1m-1 1h1m-1 1h1m-1 1h1m-1 1h1m-1 1h1m-1 1h1m-1 2h1m-1 1h1m-1 2h1m-1 2h1m-1 1h1m-1 2h1m-1 2h1m-1 9h1m-1 1h1m-1 2h1m-1 2h1m-1 3h1m-1 2h1m-1 2h1m-1 3h1m-1 2h1m-1 2h1m-1 1h1m-1 1h1m-1 1h1m-1 1h1m-1 1h1m-1 1h1m-1 2h1m-1 1h1m-1 6h1m-1 10h1m0-86h1m-1 1h1m-1 9h1m-1 4h1m-1 1h1m-1 1h1m-1 1h1m-1 1h1m-1 1h1m-1 2h1m-1 3h1m-1 1h1m-1 1h1m-1 1h1m-1 2h1m-1 1h1m-1 1h1m-1 5h1m-1 2h1m-1 11h1m-1 1h1m-1 2h1m-1 1h1m-1 2h1m-1 1h1m-1 1h1m-1 1h1m-1 3h1m-1 1h1m-1 1h1m-1 2h1m-1 2h1m-1 1h1m-1 1h1m-1 7h1m-1 6h1m0-84h1m-1 1h1m-1 2h1m-1 3h1m-1 1h1m-1 2h1m-1 3h1m-1 1h1m-1 1h1m-1 4h1m-1 2h1m-1 1h1m-1 2h1m-1 1h1m-1 2h1m-1 4h1m-1 2h1m-1 2h1m-1 4h1m-1 2h1m-1 2h1m-1 3h1m-1 8h1m-1 4h1m-1 2h1m-1 1h1m-1 1h1m-1 2h1m-1 3h1m-1 7h1m-1 1h1m-1 5h1m-1 5h1m-1 2h1m-1 7h1m0-89h1m-1 4h1m-1 4h1m-1 1h1m-1 1h1m-1 2h1m-1 2h1m-1 1h1m-1 2h1m-1 1h1m-1 2h1m-1 1h1m-1 1h1m-1 2h1m-1 1h1m-1 7h1m-1 2h1m-1 3h1m-1 1h1m-1 2h1m-1 5h1m-1 2h1m-1 1h1m-1 5h1m-1 3h1m-1 3h1m-1 1h1m-1 2h1m-1 1h1m-1 2h1m-1 2h1m-1 12h1m-1 26h1m0-108h1m-1 1h1m-1 2h1m-1 4h1m-1 4h1m-1 3h1m-1 3h1m-1 1h1m-1 4h1m-1 2h1m-1 2h1m-1 2h1m-1 4h1m-1 10h1m-1 2h1m-1 5h1m-1 2h1m-1 1h1m-1 3h1m-1 2h1m-1 2h1m-1 1h1m-1 1h1m-1 2h1m-1 9h1m-1 5h1m-1 2h1m-1 3h1m0-92h1m-1 9h1m-1 14h1m-1 2h1m-1 3h1m-1 3h1m-1 1h1m-1 4h1m-1 1h1m-1 1h1m-1 7h1m-1 1h1m-1 3h1m-1 5h1m-1 10h1m-1 1h1m-1 1h1m-1 1h1m-1 1h1m-1 2h1m-1 1h1m-1 1h1m-1 5h1m-1 5h1m-1 3h1m-1 6h1m-1 1h1m-1 6h1m0-84h1m-1 7h1m-1 2h1m-1 2h1m-1 1h1m-1 2h1m-1 1h1m-1 3h1m-1 2h1m-1 1h1m-1 2h1m-1 10h1m-1 2h1m-1 6h1m-1 1h1m-1 5h1m-1 3h1m-1 1h1m-1 7h1m-1 1h1m-1 4h1m-1 1h1m-1 2h1m-1 6h1m-1 13h1m0-84h1m-1 2h1m-1 2h1m-1 6h1m-1 2h1m-1 1h1m-1 2h1m-1 1h1m-1 3h1m-1 1h1m-1 4h1m-1 2h1m-1 9h1m-1 3h1m-1 9h1m-1 1h1m-1 1h1m-1 3h1m-1 5h1m-1 4h1m-1 1h1m-1 19h1m0-84h1m-1 4h1m-1 2h1m-1 1h1m-1 7h1m-1 3h1m-1 4h1m-1 22h1m-1 1h1m-1 2h1m-1 1h1m-1 5h1m-1 11h1m-1 1h1m-1 2h1m0-78h1m-1 6h1m-1 7h1m-1 3h1m-1 10h1m-1 4h1m-1 1h1m-1 2h1m-1 3h1m-1 7h1m-1 16h1m-1 4h1m-1 2h1m-1 3h1m0-65h1m-1 5h1m-1 9h1m-1 1h1m-1 2h1m-1 12h1m-1 2h1m-1 1h1m-1 1h1m-1 24h1m-1 2h1m-1 1h1m-1 9h1m0-58h1m-1 5h1m-1 5h1m-1 7h1m-1 1h1m-1 2h1m-1 2h1m-1 7h1m-1 13h1m-1 3h1m-1 13h1m0-64h1m-1 14h1m-1 8h1m-1 1h1m-1 6h1m-1 1h1m-1 7h1m-1 3h1m0-42h1m-1 12h1m-1 1h1m-1 9h1m-1 4h1m-1 6h1m-1 18h1m-1 6h1m-1 16h1m0-61h1m-1 1h1m-1 44h1m-1 38h1m0-87h1m-1 24h1m-1 10h1m-1 21h1m0-35h1m-1 15h1m-1 9h1m-1 2h1m-1 1h1m0-29h1m-1 8h1m-1 29h1m0-18h1m-1 8h1m-1 16h1m0-16h1m-1 2h1m-1 3h1m0-53h1m-1 27h1m-1 72h1m0-83h1m-1 29h1m0 55h1m-1 36h1m0-118h1m-1 5h1m-1 16h1m1 3h1m1-13h1m-1 48h1m-1 9h1m1-26h1m1-1h1m15-21h1m0 94h1m10-91h1m5 17h1m1-41h1m2 110h1m0-1h1m0-124h1m5 85h1m1 5h1" stroke="#000" stroke-opacity="0.85" stroke-width="1.8" fill="none" filter="url(#bl)"/>
</g>
<rect x="426.0" y="598.7" width="76.5" height="77.0" fill="none" stroke="#aaa" stroke-width="0.8"/>
<line x1="428.0" y1="676.1" x2="501.5" y2="676.1" stroke="#555" stroke-width="1.0" stroke-dasharray="1 6.88 .6 3.83 .6 2.68 .6 2.94"/>
<line x1="425.6" y1="673.7" x2="425.6" y2="599.7" stroke="#555" stroke-width="1.0" stroke-dasharray="1 6.88 .6 3.83 .6 2.68 .6 2.94"/>
<line x1="464.8" y1="598.7" x2="464.8" y2="675.7" stroke="#000" stroke-width="0.7" stroke-opacity=".55"/>
<line x1="426.0" y1="629.7" x2="502.5" y2="629.7" stroke="#000" stroke-width="0.7" stroke-opacity=".55"/>
<text x="428.0" y="602.9" font-size="3.2" text-anchor="start" font-weight="normal" fill="#333" >60.5</text>
<text x="500.5" y="602.9" font-size="3.2" text-anchor="end" font-weight="normal" fill="#333" >2.87</text>
<text x="428.0" y="673.9" font-size="3.2" text-anchor="start" font-weight="normal" fill="#333" >33</text>
<text x="500.5" y="673.9" font-size="3.2" text-anchor="end" font-weight="normal" fill="#333" >3.5</text>
<line x1="414.4" y1="658.4" x2="414.4" y2="688.0" stroke="#444" stroke-width="0.8" />
<line x1="414.4" y1="688.0" x2="449.8" y2="688.0" stroke="#444" stroke-width="0.8" />
<text x="412.4" y="686.5" font-size="5.6" text-anchor="start" font-weight="normal" fill="#222" transform="rotate(-90 412.4 686.5)" >CD8&#945;</text>
<text x="415.9" y="692.6" font-size="6.2" text-anchor="start" font-weight="normal" fill="#222" textLength="11.5" lengthAdjust="spacingAndGlyphs">CD4</text>
</svg>
</body></html>
